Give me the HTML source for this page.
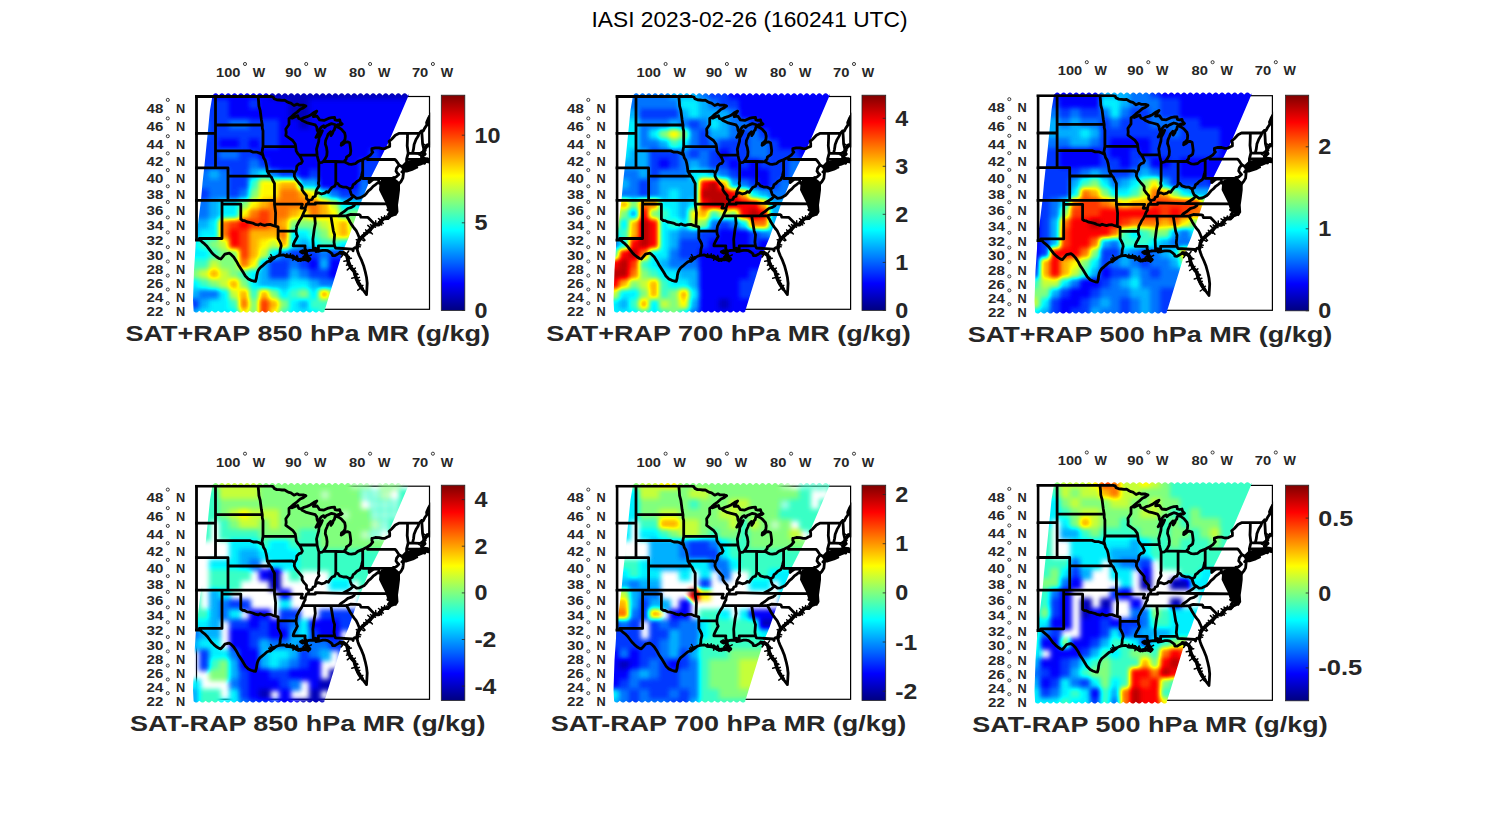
<!DOCTYPE html>
<html><head><meta charset="utf-8"><title>IASI 2023-02-26</title><style>html,body{margin:0;padding:0;background:#fff;overflow:hidden}svg{display:block}text{font-family:"Liberation Sans",sans-serif}</style></head><body>
<svg width="1500" height="825" viewBox="0 0 1500 825">
<defs>
<linearGradient id="jet" x1="0" y1="1" x2="0" y2="0"><stop offset="0.0000" stop-color="#000080"/><stop offset="0.0156" stop-color="#00008f"/><stop offset="0.0312" stop-color="#00009f"/><stop offset="0.0469" stop-color="#0000af"/><stop offset="0.0625" stop-color="#0000bf"/><stop offset="0.0781" stop-color="#0000cf"/><stop offset="0.0938" stop-color="#0000df"/><stop offset="0.1094" stop-color="#0000ef"/><stop offset="0.1250" stop-color="#0000ff"/><stop offset="0.1406" stop-color="#0010ff"/><stop offset="0.1562" stop-color="#0020ff"/><stop offset="0.1719" stop-color="#0030ff"/><stop offset="0.1875" stop-color="#0040ff"/><stop offset="0.2031" stop-color="#0050ff"/><stop offset="0.2188" stop-color="#0060ff"/><stop offset="0.2344" stop-color="#0070ff"/><stop offset="0.2500" stop-color="#0080ff"/><stop offset="0.2656" stop-color="#008fff"/><stop offset="0.2812" stop-color="#009fff"/><stop offset="0.2969" stop-color="#00afff"/><stop offset="0.3125" stop-color="#00bfff"/><stop offset="0.3281" stop-color="#00cfff"/><stop offset="0.3438" stop-color="#00dfff"/><stop offset="0.3594" stop-color="#00efff"/><stop offset="0.3750" stop-color="#00ffff"/><stop offset="0.3906" stop-color="#10ffef"/><stop offset="0.4062" stop-color="#20ffdf"/><stop offset="0.4219" stop-color="#30ffcf"/><stop offset="0.4375" stop-color="#40ffbf"/><stop offset="0.4531" stop-color="#50ffaf"/><stop offset="0.4688" stop-color="#60ff9f"/><stop offset="0.4844" stop-color="#70ff8f"/><stop offset="0.5000" stop-color="#80ff80"/><stop offset="0.5156" stop-color="#8fff70"/><stop offset="0.5312" stop-color="#9fff60"/><stop offset="0.5469" stop-color="#afff50"/><stop offset="0.5625" stop-color="#bfff40"/><stop offset="0.5781" stop-color="#cfff30"/><stop offset="0.5938" stop-color="#dfff20"/><stop offset="0.6094" stop-color="#efff10"/><stop offset="0.6250" stop-color="#ffff00"/><stop offset="0.6406" stop-color="#ffef00"/><stop offset="0.6562" stop-color="#ffdf00"/><stop offset="0.6719" stop-color="#ffcf00"/><stop offset="0.6875" stop-color="#ffbf00"/><stop offset="0.7031" stop-color="#ffaf00"/><stop offset="0.7188" stop-color="#ff9f00"/><stop offset="0.7344" stop-color="#ff8f00"/><stop offset="0.7500" stop-color="#ff8000"/><stop offset="0.7656" stop-color="#ff7000"/><stop offset="0.7812" stop-color="#ff6000"/><stop offset="0.7969" stop-color="#ff5000"/><stop offset="0.8125" stop-color="#ff4000"/><stop offset="0.8281" stop-color="#ff3000"/><stop offset="0.8438" stop-color="#ff2000"/><stop offset="0.8594" stop-color="#ff1000"/><stop offset="0.8750" stop-color="#ff0000"/><stop offset="0.8906" stop-color="#ef0000"/><stop offset="0.9062" stop-color="#df0000"/><stop offset="0.9219" stop-color="#cf0000"/><stop offset="0.9375" stop-color="#bf0000"/><stop offset="0.9531" stop-color="#af0000"/><stop offset="0.9688" stop-color="#9f0000"/><stop offset="0.9844" stop-color="#8f0000"/><stop offset="1.0000" stop-color="#800000"/></linearGradient>
<filter id="jf" x="-5%" y="-5%" width="110%" height="110%" color-interpolation-filters="sRGB"><feGaussianBlur stdDeviation="2.8"/><feComponentTransfer><feFuncR type="table" tableValues="0 0 0 0 0.5 1 1 1 0.5"/><feFuncG type="table" tableValues="0 0 0.5 1 1 1 0.5 0 0"/><feFuncB type="table" tableValues="0.5 1 1 1 0.5 0 0 0 0"/></feComponentTransfer></filter>
</defs>
<rect width="1500" height="825" fill="#fff"/>
<text x="591.5" y="26.8" font-size="22.4" fill="#000" textLength="316" lengthAdjust="spacingAndGlyphs">IASI 2023-02-26 (160241 UTC)</text>
<g>
<rect x="196.5" y="96.5" width="233.0" height="212.8" fill="none" stroke="#000" stroke-width="1.2"/>
<clipPath id="sw0"><polygon points="212.5,95.4 213.2,94.7 213.9,94.1 214.6,93.6 215.3,93.3 216.0,93.3 216.7,93.6 217.4,94.1 218.1,94.7 218.8,95.4 219.5,94.7 220.2,94.1 220.9,93.6 221.6,93.3 222.3,93.3 223.0,93.6 223.7,94.1 224.4,94.7 225.1,95.4 225.8,94.7 226.5,94.1 227.2,93.6 227.9,93.3 228.6,93.3 229.3,93.6 230.0,94.1 230.7,94.7 231.4,95.4 232.1,94.7 232.8,94.1 233.5,93.6 234.2,93.3 234.9,93.3 235.6,93.6 236.3,94.1 237.0,94.7 237.7,95.4 238.4,94.7 239.1,94.1 239.8,93.6 240.5,93.3 241.2,93.3 241.9,93.6 242.6,94.1 243.3,94.7 244.0,95.4 244.7,94.7 245.4,94.1 246.1,93.6 246.8,93.3 247.5,93.3 248.2,93.6 248.9,94.1 249.6,94.7 250.3,95.4 251.0,94.7 251.7,94.1 252.4,93.6 253.1,93.3 253.8,93.3 254.5,93.6 255.2,94.1 255.9,94.7 256.6,95.4 257.3,94.7 258.0,94.1 258.7,93.6 259.4,93.3 260.1,93.3 260.8,93.6 261.5,94.1 262.2,94.7 262.9,95.4 263.6,94.7 264.3,94.1 265.0,93.6 265.7,93.3 266.4,93.3 267.1,93.6 267.8,94.1 268.5,94.7 269.2,95.4 269.9,94.7 270.6,94.1 271.3,93.6 272.0,93.3 272.7,93.3 273.4,93.6 274.1,94.1 274.8,94.7 275.5,95.4 276.2,94.7 276.9,94.1 277.6,93.6 278.3,93.3 279.0,93.3 279.7,93.6 280.4,94.1 281.1,94.7 281.8,95.4 282.5,94.7 283.2,94.1 283.9,93.6 284.6,93.3 285.3,93.3 286.0,93.6 286.7,94.1 287.4,94.7 288.1,95.4 288.8,94.7 289.5,94.1 290.2,93.6 290.9,93.3 291.6,93.3 292.3,93.6 293.0,94.1 293.7,94.7 294.4,95.4 295.1,94.7 295.8,94.1 296.5,93.6 297.2,93.3 297.9,93.3 298.6,93.6 299.3,94.1 300.0,94.7 300.7,95.4 301.4,94.7 302.1,94.1 302.8,93.6 303.5,93.3 304.2,93.3 304.9,93.6 305.6,94.1 306.3,94.7 307.0,95.4 307.7,94.7 308.4,94.1 309.1,93.6 309.8,93.3 310.5,93.3 311.2,93.6 311.9,94.1 312.6,94.7 313.3,95.4 314.0,94.7 314.7,94.1 315.4,93.6 316.1,93.3 316.8,93.3 317.5,93.6 318.2,94.1 318.9,94.7 319.6,95.4 320.3,94.7 321.0,94.1 321.7,93.6 322.4,93.3 323.1,93.3 323.8,93.6 324.5,94.1 325.2,94.7 325.9,95.4 326.6,94.7 327.3,94.1 328.0,93.6 328.7,93.3 329.4,93.3 330.1,93.6 330.8,94.1 331.5,94.7 332.2,95.4 332.9,94.7 333.6,94.1 334.3,93.6 335.0,93.3 335.7,93.3 336.4,93.6 337.1,94.1 337.8,94.7 338.5,95.4 339.2,94.7 339.9,94.1 340.6,93.6 341.3,93.3 342.0,93.3 342.7,93.6 343.4,94.1 344.1,94.7 344.8,95.4 345.5,94.7 346.2,94.1 346.9,93.6 347.6,93.3 348.3,93.3 349.0,93.6 349.7,94.1 350.4,94.7 351.1,95.4 351.8,94.7 352.5,94.1 353.2,93.6 353.9,93.3 354.6,93.3 355.3,93.6 356.0,94.1 356.7,94.7 357.4,95.4 358.1,94.7 358.8,94.1 359.5,93.6 360.2,93.3 360.9,93.3 361.6,93.6 362.3,94.1 363.0,94.7 363.7,95.4 364.4,94.7 365.1,94.1 365.8,93.6 366.5,93.3 367.2,93.3 367.9,93.6 368.6,94.1 369.3,94.7 370.0,95.4 370.7,94.7 371.4,94.1 372.1,93.6 372.8,93.3 373.5,93.3 374.2,93.6 374.9,94.1 375.6,94.7 376.3,95.4 377.0,94.7 377.7,94.1 378.4,93.6 379.1,93.3 379.8,93.3 380.5,93.6 381.2,94.1 381.9,94.7 382.6,95.4 383.3,94.7 384.0,94.1 384.7,93.6 385.4,93.3 386.1,93.3 386.8,93.6 387.5,94.1 388.2,94.7 388.9,95.4 389.6,94.7 390.3,94.1 391.0,93.6 391.7,93.3 392.4,93.3 393.1,93.6 393.8,94.1 394.5,94.7 395.2,95.4 395.9,94.7 396.6,94.1 397.3,93.6 398.0,93.3 398.7,93.3 399.4,93.6 400.1,94.1 400.8,94.7 401.5,95.4 402.2,94.7 402.9,94.1 403.6,93.6 404.3,93.3 405.0,93.3 405.7,93.6 406.4,94.1 407.1,94.7 407.8,95.4 408.5,94.7 409.2,94.1 388.5,142.4 371.0,177.3 359.4,206.4 348.7,237.4 342.7,251.6 325.7,306.9 324.5,310.5 324.5,311.4 323.8,312.0 323.1,312.4 322.4,312.6 321.7,312.5 321.0,312.3 320.3,311.8 319.6,311.2 318.9,310.7 318.2,311.4 317.5,312.0 316.8,312.4 316.1,312.6 315.4,312.5 314.7,312.3 314.0,311.8 313.3,311.2 312.6,310.7 311.9,311.4 311.2,312.0 310.5,312.4 309.8,312.6 309.1,312.5 308.4,312.3 307.7,311.8 307.0,311.2 306.3,310.7 305.6,311.4 304.9,312.0 304.2,312.4 303.5,312.6 302.8,312.5 302.1,312.3 301.4,311.8 300.7,311.2 300.0,310.7 299.3,311.4 298.6,312.0 297.9,312.4 297.2,312.6 296.5,312.5 295.8,312.3 295.1,311.8 294.4,311.2 293.7,310.7 293.0,311.4 292.3,312.0 291.6,312.4 290.9,312.6 290.2,312.5 289.5,312.3 288.8,311.8 288.1,311.2 287.4,310.7 286.7,311.4 286.0,312.0 285.3,312.4 284.6,312.6 283.9,312.5 283.2,312.3 282.5,311.8 281.8,311.2 281.1,310.7 280.4,311.4 279.7,312.0 279.0,312.4 278.3,312.6 277.6,312.5 276.9,312.3 276.2,311.8 275.5,311.2 274.8,310.7 274.1,311.4 273.4,312.0 272.7,312.4 272.0,312.6 271.3,312.5 270.6,312.3 269.9,311.8 269.2,311.2 268.5,310.7 267.8,311.4 267.1,312.0 266.4,312.4 265.7,312.6 265.0,312.5 264.3,312.3 263.6,311.8 262.9,311.2 262.2,310.7 261.5,311.4 260.8,312.0 260.1,312.4 259.4,312.6 258.7,312.5 258.0,312.3 257.3,311.8 256.6,311.2 255.9,310.7 255.2,311.4 254.5,312.0 253.8,312.4 253.1,312.6 252.4,312.5 251.7,312.3 251.0,311.8 250.3,311.2 249.6,310.7 248.9,311.4 248.2,312.0 247.5,312.4 246.8,312.6 246.1,312.5 245.4,312.3 244.7,311.8 244.0,311.2 243.3,310.7 242.6,311.4 241.9,312.0 241.2,312.4 240.5,312.6 239.8,312.5 239.1,312.3 238.4,311.8 237.7,311.2 237.0,310.7 236.3,311.4 235.6,312.0 234.9,312.4 234.2,312.6 233.5,312.5 232.8,312.3 232.1,311.8 231.4,311.2 230.7,310.7 230.0,311.4 229.3,312.0 228.6,312.4 227.9,312.6 227.2,312.5 226.5,312.3 225.8,311.8 225.1,311.2 224.4,310.7 223.7,311.4 223.0,312.0 222.3,312.4 221.6,312.6 220.9,312.5 220.2,312.3 219.5,311.8 218.8,311.2 218.1,310.7 217.4,311.4 216.7,312.0 216.0,312.4 215.3,312.6 214.6,312.5 213.9,312.3 213.2,311.8 212.5,311.2 211.8,310.7 211.1,311.4 210.4,312.0 209.7,312.4 209.0,312.6 208.3,312.5 207.6,312.3 206.9,311.8 206.2,311.2 205.5,310.7 204.8,311.4 204.1,312.0 203.4,312.4 202.7,312.6 202.0,312.5 201.3,312.3 200.6,311.8 199.9,311.2 199.2,310.7 198.5,311.4 197.8,312.0 197.1,312.4 196.4,312.6 195.7,312.5 195.0,312.3 194.3,311.8 193.6,311.2 193.0,300.0 194.0,270.0 196.0,241.0 198.5,220.0 201.0,200.0 202.5,183.0 204.5,165.0 206.0,150.0 208.0,130.0 210.0,110.0 212.5,95.4"/></clipPath>
<g clip-path="url(#sw0)"><g filter="url(#jf)"><rect x="189" y="89" width="12" height="12" fill="#1f1f1f"/><rect x="199" y="89" width="12" height="12" fill="#1f1f1f"/><rect x="209" y="89" width="12" height="12" fill="#1f1f1f"/><rect x="219" y="89" width="12" height="12" fill="#1f1f1f"/><rect x="229" y="89" width="12" height="12" fill="#1f1f1f"/><rect x="239" y="89" width="12" height="12" fill="#1f1f1f"/><rect x="249" y="89" width="12" height="12" fill="#1f1f1f"/><rect x="259" y="89" width="12" height="12" fill="#1f1f1f"/><rect x="269" y="89" width="12" height="12" fill="#0f0f0f"/><rect x="279" y="89" width="12" height="12" fill="#0f0f0f"/><rect x="289" y="89" width="12" height="12" fill="#0f0f0f"/><rect x="299" y="89" width="12" height="12" fill="#0f0f0f"/><rect x="309" y="89" width="12" height="12" fill="#0f0f0f"/><rect x="319" y="89" width="12" height="12" fill="#0f0f0f"/><rect x="329" y="89" width="12" height="12" fill="#0f0f0f"/><rect x="339" y="89" width="12" height="12" fill="#0f0f0f"/><rect x="349" y="89" width="12" height="12" fill="#0f0f0f"/><rect x="359" y="89" width="12" height="12" fill="#0f0f0f"/><rect x="369" y="89" width="12" height="12" fill="#0f0f0f"/><rect x="379" y="89" width="12" height="12" fill="#0f0f0f"/><rect x="389" y="89" width="12" height="12" fill="#0f0f0f"/><rect x="399" y="89" width="12" height="12" fill="#0f0f0f"/><rect x="409" y="89" width="12" height="12" fill="#0f0f0f"/><rect x="419" y="89" width="12" height="12" fill="#0f0f0f"/><rect x="429" y="89" width="12" height="12" fill="#0f0f0f"/><rect x="189" y="99" width="12" height="12" fill="#2e2e2e"/><rect x="199" y="99" width="12" height="12" fill="#2e2e2e"/><rect x="209" y="99" width="12" height="12" fill="#2e2e2e"/><rect x="219" y="99" width="12" height="12" fill="#2e2e2e"/><rect x="229" y="99" width="12" height="12" fill="#1f1f1f"/><rect x="239" y="99" width="12" height="12" fill="#1f1f1f"/><rect x="249" y="99" width="12" height="12" fill="#2e2e2e"/><rect x="259" y="99" width="12" height="12" fill="#1f1f1f"/><rect x="269" y="99" width="12" height="12" fill="#1f1f1f"/><rect x="279" y="99" width="12" height="12" fill="#1f1f1f"/><rect x="289" y="99" width="12" height="12" fill="#0f0f0f"/><rect x="299" y="99" width="12" height="12" fill="#0f0f0f"/><rect x="309" y="99" width="12" height="12" fill="#1f1f1f"/><rect x="319" y="99" width="12" height="12" fill="#1f1f1f"/><rect x="329" y="99" width="12" height="12" fill="#1f1f1f"/><rect x="339" y="99" width="12" height="12" fill="#1f1f1f"/><rect x="349" y="99" width="12" height="12" fill="#1f1f1f"/><rect x="359" y="99" width="12" height="12" fill="#1f1f1f"/><rect x="369" y="99" width="12" height="12" fill="#1f1f1f"/><rect x="379" y="99" width="12" height="12" fill="#1f1f1f"/><rect x="389" y="99" width="12" height="12" fill="#1f1f1f"/><rect x="399" y="99" width="12" height="12" fill="#1f1f1f"/><rect x="409" y="99" width="12" height="12" fill="#1f1f1f"/><rect x="419" y="99" width="12" height="12" fill="#1f1f1f"/><rect x="429" y="99" width="12" height="12" fill="#1f1f1f"/><rect x="189" y="109" width="12" height="12" fill="#2e2e2e"/><rect x="199" y="109" width="12" height="12" fill="#2e2e2e"/><rect x="209" y="109" width="12" height="12" fill="#2e2e2e"/><rect x="219" y="109" width="12" height="12" fill="#2e2e2e"/><rect x="229" y="109" width="12" height="12" fill="#1f1f1f"/><rect x="239" y="109" width="12" height="12" fill="#1f1f1f"/><rect x="249" y="109" width="12" height="12" fill="#1f1f1f"/><rect x="259" y="109" width="12" height="12" fill="#1f1f1f"/><rect x="269" y="109" width="12" height="12" fill="#1f1f1f"/><rect x="279" y="109" width="12" height="12" fill="#1f1f1f"/><rect x="289" y="109" width="12" height="12" fill="#0f0f0f"/><rect x="299" y="109" width="12" height="12" fill="#0f0f0f"/><rect x="309" y="109" width="12" height="12" fill="#1f1f1f"/><rect x="319" y="109" width="12" height="12" fill="#1f1f1f"/><rect x="329" y="109" width="12" height="12" fill="#1f1f1f"/><rect x="339" y="109" width="12" height="12" fill="#1f1f1f"/><rect x="349" y="109" width="12" height="12" fill="#1f1f1f"/><rect x="359" y="109" width="12" height="12" fill="#1f1f1f"/><rect x="369" y="109" width="12" height="12" fill="#1f1f1f"/><rect x="379" y="109" width="12" height="12" fill="#1f1f1f"/><rect x="389" y="109" width="12" height="12" fill="#1f1f1f"/><rect x="399" y="109" width="12" height="12" fill="#1f1f1f"/><rect x="409" y="109" width="12" height="12" fill="#1f1f1f"/><rect x="419" y="109" width="12" height="12" fill="#1f1f1f"/><rect x="189" y="119" width="12" height="12" fill="#3d3d3d"/><rect x="199" y="119" width="12" height="12" fill="#3d3d3d"/><rect x="209" y="119" width="12" height="12" fill="#2e2e2e"/><rect x="219" y="119" width="12" height="12" fill="#2e2e2e"/><rect x="229" y="119" width="12" height="12" fill="#3d3d3d"/><rect x="239" y="119" width="12" height="12" fill="#3d3d3d"/><rect x="249" y="119" width="12" height="12" fill="#2e2e2e"/><rect x="259" y="119" width="12" height="12" fill="#2e2e2e"/><rect x="269" y="119" width="12" height="12" fill="#2e2e2e"/><rect x="279" y="119" width="12" height="12" fill="#1f1f1f"/><rect x="289" y="119" width="12" height="12" fill="#1f1f1f"/><rect x="299" y="119" width="12" height="12" fill="#0f0f0f"/><rect x="309" y="119" width="12" height="12" fill="#1f1f1f"/><rect x="319" y="119" width="12" height="12" fill="#1f1f1f"/><rect x="329" y="119" width="12" height="12" fill="#1f1f1f"/><rect x="339" y="119" width="12" height="12" fill="#1f1f1f"/><rect x="349" y="119" width="12" height="12" fill="#1f1f1f"/><rect x="359" y="119" width="12" height="12" fill="#1f1f1f"/><rect x="369" y="119" width="12" height="12" fill="#1f1f1f"/><rect x="379" y="119" width="12" height="12" fill="#1f1f1f"/><rect x="389" y="119" width="12" height="12" fill="#1f1f1f"/><rect x="399" y="119" width="12" height="12" fill="#1f1f1f"/><rect x="409" y="119" width="12" height="12" fill="#1f1f1f"/><rect x="419" y="119" width="12" height="12" fill="#1f1f1f"/><rect x="189" y="129" width="12" height="12" fill="#3d3d3d"/><rect x="199" y="129" width="12" height="12" fill="#3d3d3d"/><rect x="209" y="129" width="12" height="12" fill="#2e2e2e"/><rect x="219" y="129" width="12" height="12" fill="#2e2e2e"/><rect x="229" y="129" width="12" height="12" fill="#2e2e2e"/><rect x="239" y="129" width="12" height="12" fill="#2e2e2e"/><rect x="249" y="129" width="12" height="12" fill="#2e2e2e"/><rect x="259" y="129" width="12" height="12" fill="#2e2e2e"/><rect x="269" y="129" width="12" height="12" fill="#2e2e2e"/><rect x="279" y="129" width="12" height="12" fill="#1f1f1f"/><rect x="289" y="129" width="12" height="12" fill="#1f1f1f"/><rect x="299" y="129" width="12" height="12" fill="#1f1f1f"/><rect x="309" y="129" width="12" height="12" fill="#1f1f1f"/><rect x="319" y="129" width="12" height="12" fill="#1f1f1f"/><rect x="329" y="129" width="12" height="12" fill="#1f1f1f"/><rect x="339" y="129" width="12" height="12" fill="#1f1f1f"/><rect x="349" y="129" width="12" height="12" fill="#1f1f1f"/><rect x="359" y="129" width="12" height="12" fill="#1f1f1f"/><rect x="369" y="129" width="12" height="12" fill="#1f1f1f"/><rect x="379" y="129" width="12" height="12" fill="#1f1f1f"/><rect x="389" y="129" width="12" height="12" fill="#1f1f1f"/><rect x="399" y="129" width="12" height="12" fill="#1f1f1f"/><rect x="409" y="129" width="12" height="12" fill="#1f1f1f"/><rect x="189" y="139" width="12" height="12" fill="#2e2e2e"/><rect x="199" y="139" width="12" height="12" fill="#2e2e2e"/><rect x="209" y="139" width="12" height="12" fill="#2e2e2e"/><rect x="219" y="139" width="12" height="12" fill="#1f1f1f"/><rect x="229" y="139" width="12" height="12" fill="#1f1f1f"/><rect x="239" y="139" width="12" height="12" fill="#2e2e2e"/><rect x="249" y="139" width="12" height="12" fill="#1f1f1f"/><rect x="259" y="139" width="12" height="12" fill="#2e2e2e"/><rect x="269" y="139" width="12" height="12" fill="#2e2e2e"/><rect x="279" y="139" width="12" height="12" fill="#1f1f1f"/><rect x="289" y="139" width="12" height="12" fill="#1f1f1f"/><rect x="299" y="139" width="12" height="12" fill="#1f1f1f"/><rect x="309" y="139" width="12" height="12" fill="#1f1f1f"/><rect x="319" y="139" width="12" height="12" fill="#1f1f1f"/><rect x="329" y="139" width="12" height="12" fill="#1f1f1f"/><rect x="339" y="139" width="12" height="12" fill="#1f1f1f"/><rect x="349" y="139" width="12" height="12" fill="#1f1f1f"/><rect x="359" y="139" width="12" height="12" fill="#1f1f1f"/><rect x="369" y="139" width="12" height="12" fill="#1f1f1f"/><rect x="379" y="139" width="12" height="12" fill="#1f1f1f"/><rect x="389" y="139" width="12" height="12" fill="#1f1f1f"/><rect x="399" y="139" width="12" height="12" fill="#1f1f1f"/><rect x="409" y="139" width="12" height="12" fill="#1f1f1f"/><rect x="189" y="149" width="12" height="12" fill="#2e2e2e"/><rect x="199" y="149" width="12" height="12" fill="#2e2e2e"/><rect x="209" y="149" width="12" height="12" fill="#2e2e2e"/><rect x="219" y="149" width="12" height="12" fill="#3d3d3d"/><rect x="229" y="149" width="12" height="12" fill="#3d3d3d"/><rect x="239" y="149" width="12" height="12" fill="#2e2e2e"/><rect x="249" y="149" width="12" height="12" fill="#2e2e2e"/><rect x="259" y="149" width="12" height="12" fill="#1f1f1f"/><rect x="269" y="149" width="12" height="12" fill="#1f1f1f"/><rect x="279" y="149" width="12" height="12" fill="#1f1f1f"/><rect x="289" y="149" width="12" height="12" fill="#1f1f1f"/><rect x="299" y="149" width="12" height="12" fill="#1f1f1f"/><rect x="309" y="149" width="12" height="12" fill="#1f1f1f"/><rect x="319" y="149" width="12" height="12" fill="#1f1f1f"/><rect x="329" y="149" width="12" height="12" fill="#1f1f1f"/><rect x="339" y="149" width="12" height="12" fill="#1f1f1f"/><rect x="349" y="149" width="12" height="12" fill="#1f1f1f"/><rect x="359" y="149" width="12" height="12" fill="#1f1f1f"/><rect x="369" y="149" width="12" height="12" fill="#2e2e2e"/><rect x="379" y="149" width="12" height="12" fill="#1f1f1f"/><rect x="389" y="149" width="12" height="12" fill="#1f1f1f"/><rect x="399" y="149" width="12" height="12" fill="#1f1f1f"/><rect x="189" y="159" width="12" height="12" fill="#2e2e2e"/><rect x="199" y="159" width="12" height="12" fill="#2e2e2e"/><rect x="209" y="159" width="12" height="12" fill="#2e2e2e"/><rect x="219" y="159" width="12" height="12" fill="#2e2e2e"/><rect x="229" y="159" width="12" height="12" fill="#2e2e2e"/><rect x="239" y="159" width="12" height="12" fill="#2e2e2e"/><rect x="249" y="159" width="12" height="12" fill="#3d3d3d"/><rect x="259" y="159" width="12" height="12" fill="#2e2e2e"/><rect x="269" y="159" width="12" height="12" fill="#1f1f1f"/><rect x="279" y="159" width="12" height="12" fill="#1f1f1f"/><rect x="289" y="159" width="12" height="12" fill="#1f1f1f"/><rect x="299" y="159" width="12" height="12" fill="#1f1f1f"/><rect x="309" y="159" width="12" height="12" fill="#1f1f1f"/><rect x="319" y="159" width="12" height="12" fill="#1f1f1f"/><rect x="329" y="159" width="12" height="12" fill="#1f1f1f"/><rect x="339" y="159" width="12" height="12" fill="#1f1f1f"/><rect x="349" y="159" width="12" height="12" fill="#1f1f1f"/><rect x="359" y="159" width="12" height="12" fill="#2e2e2e"/><rect x="369" y="159" width="12" height="12" fill="#2e2e2e"/><rect x="379" y="159" width="12" height="12" fill="#2e2e2e"/><rect x="389" y="159" width="12" height="12" fill="#2e2e2e"/><rect x="399" y="159" width="12" height="12" fill="#2e2e2e"/><rect x="189" y="169" width="12" height="12" fill="#3d3d3d"/><rect x="199" y="169" width="12" height="12" fill="#3d3d3d"/><rect x="209" y="169" width="12" height="12" fill="#4c4c4c"/><rect x="219" y="169" width="12" height="12" fill="#3d3d3d"/><rect x="229" y="169" width="12" height="12" fill="#2e2e2e"/><rect x="239" y="169" width="12" height="12" fill="#2e2e2e"/><rect x="249" y="169" width="12" height="12" fill="#4c4c4c"/><rect x="259" y="169" width="12" height="12" fill="#5c5c5c"/><rect x="269" y="169" width="12" height="12" fill="#3d3d3d"/><rect x="279" y="169" width="12" height="12" fill="#2e2e2e"/><rect x="289" y="169" width="12" height="12" fill="#2e2e2e"/><rect x="299" y="169" width="12" height="12" fill="#1f1f1f"/><rect x="309" y="169" width="12" height="12" fill="#2e2e2e"/><rect x="319" y="169" width="12" height="12" fill="#1f1f1f"/><rect x="329" y="169" width="12" height="12" fill="#1f1f1f"/><rect x="339" y="169" width="12" height="12" fill="#1f1f1f"/><rect x="349" y="169" width="12" height="12" fill="#1f1f1f"/><rect x="359" y="169" width="12" height="12" fill="#2e2e2e"/><rect x="369" y="169" width="12" height="12" fill="#2e2e2e"/><rect x="379" y="169" width="12" height="12" fill="#2e2e2e"/><rect x="389" y="169" width="12" height="12" fill="#2e2e2e"/><rect x="399" y="169" width="12" height="12" fill="#2e2e2e"/><rect x="189" y="179" width="12" height="12" fill="#3d3d3d"/><rect x="199" y="179" width="12" height="12" fill="#3d3d3d"/><rect x="209" y="179" width="12" height="12" fill="#3d3d3d"/><rect x="219" y="179" width="12" height="12" fill="#3d3d3d"/><rect x="229" y="179" width="12" height="12" fill="#2e2e2e"/><rect x="239" y="179" width="12" height="12" fill="#2e2e2e"/><rect x="249" y="179" width="12" height="12" fill="#6e6e6e"/><rect x="259" y="179" width="12" height="12" fill="#a1a1a1"/><rect x="269" y="179" width="12" height="12" fill="#a1a1a1"/><rect x="279" y="179" width="12" height="12" fill="#b2b2b2"/><rect x="289" y="179" width="12" height="12" fill="#b2b2b2"/><rect x="299" y="179" width="12" height="12" fill="#4c4c4c"/><rect x="309" y="179" width="12" height="12" fill="#4c4c4c"/><rect x="319" y="179" width="12" height="12" fill="#1f1f1f"/><rect x="329" y="179" width="12" height="12" fill="#1f1f1f"/><rect x="339" y="179" width="12" height="12" fill="#1f1f1f"/><rect x="349" y="179" width="12" height="12" fill="#1f1f1f"/><rect x="359" y="179" width="12" height="12" fill="#3d3d3d"/><rect x="369" y="179" width="12" height="12" fill="#2e2e2e"/><rect x="379" y="179" width="12" height="12" fill="#2e2e2e"/><rect x="389" y="179" width="12" height="12" fill="#2e2e2e"/><rect x="189" y="189" width="12" height="12" fill="#2e2e2e"/><rect x="199" y="189" width="12" height="12" fill="#2e2e2e"/><rect x="209" y="189" width="12" height="12" fill="#3d3d3d"/><rect x="219" y="189" width="12" height="12" fill="#3d3d3d"/><rect x="229" y="189" width="12" height="12" fill="#2e2e2e"/><rect x="239" y="189" width="12" height="12" fill="#3d3d3d"/><rect x="249" y="189" width="12" height="12" fill="#808080"/><rect x="259" y="189" width="12" height="12" fill="#a1a1a1"/><rect x="269" y="189" width="12" height="12" fill="#a1a1a1"/><rect x="279" y="189" width="12" height="12" fill="#c2c2c2"/><rect x="289" y="189" width="12" height="12" fill="#c2c2c2"/><rect x="299" y="189" width="12" height="12" fill="#b2b2b2"/><rect x="309" y="189" width="12" height="12" fill="#a1a1a1"/><rect x="319" y="189" width="12" height="12" fill="#5c5c5c"/><rect x="329" y="189" width="12" height="12" fill="#3d3d3d"/><rect x="339" y="189" width="12" height="12" fill="#2e2e2e"/><rect x="349" y="189" width="12" height="12" fill="#2e2e2e"/><rect x="359" y="189" width="12" height="12" fill="#3d3d3d"/><rect x="369" y="189" width="12" height="12" fill="#3d3d3d"/><rect x="379" y="189" width="12" height="12" fill="#3d3d3d"/><rect x="389" y="189" width="12" height="12" fill="#3d3d3d"/><rect x="189" y="199" width="12" height="12" fill="#3d3d3d"/><rect x="199" y="199" width="12" height="12" fill="#3d3d3d"/><rect x="209" y="199" width="12" height="12" fill="#4c4c4c"/><rect x="219" y="199" width="12" height="12" fill="#5c5c5c"/><rect x="229" y="199" width="12" height="12" fill="#5c5c5c"/><rect x="239" y="199" width="12" height="12" fill="#808080"/><rect x="249" y="199" width="12" height="12" fill="#a1a1a1"/><rect x="259" y="199" width="12" height="12" fill="#b2b2b2"/><rect x="269" y="199" width="12" height="12" fill="#c2c2c2"/><rect x="279" y="199" width="12" height="12" fill="#c2c2c2"/><rect x="289" y="199" width="12" height="12" fill="#c2c2c2"/><rect x="299" y="199" width="12" height="12" fill="#c2c2c2"/><rect x="309" y="199" width="12" height="12" fill="#c2c2c2"/><rect x="319" y="199" width="12" height="12" fill="#b2b2b2"/><rect x="329" y="199" width="12" height="12" fill="#919191"/><rect x="339" y="199" width="12" height="12" fill="#5c5c5c"/><rect x="349" y="199" width="12" height="12" fill="#5c5c5c"/><rect x="359" y="199" width="12" height="12" fill="#4c4c4c"/><rect x="369" y="199" width="12" height="12" fill="#4c4c4c"/><rect x="379" y="199" width="12" height="12" fill="#4c4c4c"/><rect x="189" y="209" width="12" height="12" fill="#3d3d3d"/><rect x="199" y="209" width="12" height="12" fill="#3d3d3d"/><rect x="209" y="209" width="12" height="12" fill="#4c4c4c"/><rect x="219" y="209" width="12" height="12" fill="#5c5c5c"/><rect x="229" y="209" width="12" height="12" fill="#5c5c5c"/><rect x="239" y="209" width="12" height="12" fill="#a1a1a1"/><rect x="249" y="209" width="12" height="12" fill="#c2c2c2"/><rect x="259" y="209" width="12" height="12" fill="#d1d1d1"/><rect x="269" y="209" width="12" height="12" fill="#c2c2c2"/><rect x="279" y="209" width="12" height="12" fill="#c2c2c2"/><rect x="289" y="209" width="12" height="12" fill="#b2b2b2"/><rect x="299" y="209" width="12" height="12" fill="#a1a1a1"/><rect x="309" y="209" width="12" height="12" fill="#c2c2c2"/><rect x="319" y="209" width="12" height="12" fill="#b2b2b2"/><rect x="329" y="209" width="12" height="12" fill="#a1a1a1"/><rect x="339" y="209" width="12" height="12" fill="#6e6e6e"/><rect x="349" y="209" width="12" height="12" fill="#808080"/><rect x="359" y="209" width="12" height="12" fill="#808080"/><rect x="369" y="209" width="12" height="12" fill="#808080"/><rect x="379" y="209" width="12" height="12" fill="#808080"/><rect x="189" y="219" width="12" height="12" fill="#4c4c4c"/><rect x="199" y="219" width="12" height="12" fill="#4c4c4c"/><rect x="209" y="219" width="12" height="12" fill="#5c5c5c"/><rect x="219" y="219" width="12" height="12" fill="#c2c2c2"/><rect x="229" y="219" width="12" height="12" fill="#d1d1d1"/><rect x="239" y="219" width="12" height="12" fill="#e0e0e0"/><rect x="249" y="219" width="12" height="12" fill="#d1d1d1"/><rect x="259" y="219" width="12" height="12" fill="#d1d1d1"/><rect x="269" y="219" width="12" height="12" fill="#c2c2c2"/><rect x="279" y="219" width="12" height="12" fill="#b2b2b2"/><rect x="289" y="219" width="12" height="12" fill="#808080"/><rect x="299" y="219" width="12" height="12" fill="#808080"/><rect x="309" y="219" width="12" height="12" fill="#808080"/><rect x="319" y="219" width="12" height="12" fill="#919191"/><rect x="329" y="219" width="12" height="12" fill="#a1a1a1"/><rect x="339" y="219" width="12" height="12" fill="#b2b2b2"/><rect x="349" y="219" width="12" height="12" fill="#808080"/><rect x="359" y="219" width="12" height="12" fill="#808080"/><rect x="369" y="219" width="12" height="12" fill="#808080"/><rect x="379" y="219" width="12" height="12" fill="#808080"/><rect x="189" y="229" width="12" height="12" fill="#4c4c4c"/><rect x="199" y="229" width="12" height="12" fill="#5c5c5c"/><rect x="209" y="229" width="12" height="12" fill="#5c5c5c"/><rect x="219" y="229" width="12" height="12" fill="#c2c2c2"/><rect x="229" y="229" width="12" height="12" fill="#e0e0e0"/><rect x="239" y="229" width="12" height="12" fill="#d1d1d1"/><rect x="249" y="229" width="12" height="12" fill="#b2b2b2"/><rect x="259" y="229" width="12" height="12" fill="#b2b2b2"/><rect x="269" y="229" width="12" height="12" fill="#b2b2b2"/><rect x="279" y="229" width="12" height="12" fill="#c2c2c2"/><rect x="289" y="229" width="12" height="12" fill="#5c5c5c"/><rect x="299" y="229" width="12" height="12" fill="#5c5c5c"/><rect x="309" y="229" width="12" height="12" fill="#6e6e6e"/><rect x="319" y="229" width="12" height="12" fill="#808080"/><rect x="329" y="229" width="12" height="12" fill="#a1a1a1"/><rect x="339" y="229" width="12" height="12" fill="#b2b2b2"/><rect x="349" y="229" width="12" height="12" fill="#919191"/><rect x="359" y="229" width="12" height="12" fill="#808080"/><rect x="369" y="229" width="12" height="12" fill="#808080"/><rect x="189" y="239" width="12" height="12" fill="#5c5c5c"/><rect x="199" y="239" width="12" height="12" fill="#6e6e6e"/><rect x="209" y="239" width="12" height="12" fill="#808080"/><rect x="219" y="239" width="12" height="12" fill="#919191"/><rect x="229" y="239" width="12" height="12" fill="#e0e0e0"/><rect x="239" y="239" width="12" height="12" fill="#d1d1d1"/><rect x="249" y="239" width="12" height="12" fill="#b2b2b2"/><rect x="259" y="239" width="12" height="12" fill="#a1a1a1"/><rect x="269" y="239" width="12" height="12" fill="#919191"/><rect x="279" y="239" width="12" height="12" fill="#b2b2b2"/><rect x="289" y="239" width="12" height="12" fill="#5c5c5c"/><rect x="299" y="239" width="12" height="12" fill="#4c4c4c"/><rect x="309" y="239" width="12" height="12" fill="#5c5c5c"/><rect x="319" y="239" width="12" height="12" fill="#6e6e6e"/><rect x="329" y="239" width="12" height="12" fill="#6e6e6e"/><rect x="339" y="239" width="12" height="12" fill="#5c5c5c"/><rect x="349" y="239" width="12" height="12" fill="#5c5c5c"/><rect x="359" y="239" width="12" height="12" fill="#5c5c5c"/><rect x="369" y="239" width="12" height="12" fill="#5c5c5c"/><rect x="189" y="249" width="12" height="12" fill="#5c5c5c"/><rect x="199" y="249" width="12" height="12" fill="#5c5c5c"/><rect x="209" y="249" width="12" height="12" fill="#6e6e6e"/><rect x="219" y="249" width="12" height="12" fill="#808080"/><rect x="229" y="249" width="12" height="12" fill="#808080"/><rect x="239" y="249" width="12" height="12" fill="#d1d1d1"/><rect x="249" y="249" width="12" height="12" fill="#b2b2b2"/><rect x="259" y="249" width="12" height="12" fill="#919191"/><rect x="269" y="249" width="12" height="12" fill="#5c5c5c"/><rect x="279" y="249" width="12" height="12" fill="#3d3d3d"/><rect x="289" y="249" width="12" height="12" fill="#2e2e2e"/><rect x="299" y="249" width="12" height="12" fill="#2e2e2e"/><rect x="309" y="249" width="12" height="12" fill="#2e2e2e"/><rect x="319" y="249" width="12" height="12" fill="#3d3d3d"/><rect x="329" y="249" width="12" height="12" fill="#2e2e2e"/><rect x="339" y="249" width="12" height="12" fill="#2e2e2e"/><rect x="349" y="249" width="12" height="12" fill="#2e2e2e"/><rect x="359" y="249" width="12" height="12" fill="#2e2e2e"/><rect x="369" y="249" width="12" height="12" fill="#2e2e2e"/><rect x="189" y="259" width="12" height="12" fill="#6e6e6e"/><rect x="199" y="259" width="12" height="12" fill="#6e6e6e"/><rect x="209" y="259" width="12" height="12" fill="#919191"/><rect x="219" y="259" width="12" height="12" fill="#808080"/><rect x="229" y="259" width="12" height="12" fill="#808080"/><rect x="239" y="259" width="12" height="12" fill="#c2c2c2"/><rect x="249" y="259" width="12" height="12" fill="#a1a1a1"/><rect x="259" y="259" width="12" height="12" fill="#4c4c4c"/><rect x="269" y="259" width="12" height="12" fill="#2e2e2e"/><rect x="279" y="259" width="12" height="12" fill="#2e2e2e"/><rect x="289" y="259" width="12" height="12" fill="#3d3d3d"/><rect x="299" y="259" width="12" height="12" fill="#2e2e2e"/><rect x="309" y="259" width="12" height="12" fill="#1f1f1f"/><rect x="319" y="259" width="12" height="12" fill="#4c4c4c"/><rect x="329" y="259" width="12" height="12" fill="#1f1f1f"/><rect x="339" y="259" width="12" height="12" fill="#1f1f1f"/><rect x="349" y="259" width="12" height="12" fill="#1f1f1f"/><rect x="359" y="259" width="12" height="12" fill="#1f1f1f"/><rect x="189" y="269" width="12" height="12" fill="#808080"/><rect x="199" y="269" width="12" height="12" fill="#919191"/><rect x="209" y="269" width="12" height="12" fill="#b2b2b2"/><rect x="219" y="269" width="12" height="12" fill="#919191"/><rect x="229" y="269" width="12" height="12" fill="#808080"/><rect x="239" y="269" width="12" height="12" fill="#6e6e6e"/><rect x="249" y="269" width="12" height="12" fill="#5c5c5c"/><rect x="259" y="269" width="12" height="12" fill="#4c4c4c"/><rect x="269" y="269" width="12" height="12" fill="#2e2e2e"/><rect x="279" y="269" width="12" height="12" fill="#2e2e2e"/><rect x="289" y="269" width="12" height="12" fill="#4c4c4c"/><rect x="299" y="269" width="12" height="12" fill="#3d3d3d"/><rect x="309" y="269" width="12" height="12" fill="#2e2e2e"/><rect x="319" y="269" width="12" height="12" fill="#2e2e2e"/><rect x="329" y="269" width="12" height="12" fill="#1f1f1f"/><rect x="339" y="269" width="12" height="12" fill="#1f1f1f"/><rect x="349" y="269" width="12" height="12" fill="#1f1f1f"/><rect x="359" y="269" width="12" height="12" fill="#1f1f1f"/><rect x="189" y="279" width="12" height="12" fill="#5c5c5c"/><rect x="199" y="279" width="12" height="12" fill="#6e6e6e"/><rect x="209" y="279" width="12" height="12" fill="#808080"/><rect x="219" y="279" width="12" height="12" fill="#919191"/><rect x="229" y="279" width="12" height="12" fill="#b2b2b2"/><rect x="239" y="279" width="12" height="12" fill="#808080"/><rect x="249" y="279" width="12" height="12" fill="#5c5c5c"/><rect x="259" y="279" width="12" height="12" fill="#4c4c4c"/><rect x="269" y="279" width="12" height="12" fill="#4c4c4c"/><rect x="279" y="279" width="12" height="12" fill="#4c4c4c"/><rect x="289" y="279" width="12" height="12" fill="#5c5c5c"/><rect x="299" y="279" width="12" height="12" fill="#5c5c5c"/><rect x="309" y="279" width="12" height="12" fill="#4c4c4c"/><rect x="319" y="279" width="12" height="12" fill="#3d3d3d"/><rect x="329" y="279" width="12" height="12" fill="#3d3d3d"/><rect x="339" y="279" width="12" height="12" fill="#3d3d3d"/><rect x="349" y="279" width="12" height="12" fill="#3d3d3d"/><rect x="359" y="279" width="12" height="12" fill="#3d3d3d"/><rect x="189" y="289" width="12" height="12" fill="#4c4c4c"/><rect x="199" y="289" width="12" height="12" fill="#3d3d3d"/><rect x="209" y="289" width="12" height="12" fill="#3d3d3d"/><rect x="219" y="289" width="12" height="12" fill="#5c5c5c"/><rect x="229" y="289" width="12" height="12" fill="#919191"/><rect x="239" y="289" width="12" height="12" fill="#b2b2b2"/><rect x="249" y="289" width="12" height="12" fill="#6e6e6e"/><rect x="259" y="289" width="12" height="12" fill="#b2b2b2"/><rect x="269" y="289" width="12" height="12" fill="#808080"/><rect x="279" y="289" width="12" height="12" fill="#5c5c5c"/><rect x="289" y="289" width="12" height="12" fill="#6e6e6e"/><rect x="299" y="289" width="12" height="12" fill="#808080"/><rect x="309" y="289" width="12" height="12" fill="#5c5c5c"/><rect x="319" y="289" width="12" height="12" fill="#b2b2b2"/><rect x="329" y="289" width="12" height="12" fill="#808080"/><rect x="339" y="289" width="12" height="12" fill="#5c5c5c"/><rect x="349" y="289" width="12" height="12" fill="#4c4c4c"/><rect x="189" y="299" width="12" height="12" fill="#2e2e2e"/><rect x="199" y="299" width="12" height="12" fill="#4c4c4c"/><rect x="209" y="299" width="12" height="12" fill="#5c5c5c"/><rect x="219" y="299" width="12" height="12" fill="#5c5c5c"/><rect x="229" y="299" width="12" height="12" fill="#6e6e6e"/><rect x="239" y="299" width="12" height="12" fill="#c2c2c2"/><rect x="249" y="299" width="12" height="12" fill="#808080"/><rect x="259" y="299" width="12" height="12" fill="#d1d1d1"/><rect x="269" y="299" width="12" height="12" fill="#b2b2b2"/><rect x="279" y="299" width="12" height="12" fill="#808080"/><rect x="289" y="299" width="12" height="12" fill="#5c5c5c"/><rect x="299" y="299" width="12" height="12" fill="#4c4c4c"/><rect x="309" y="299" width="12" height="12" fill="#6e6e6e"/><rect x="319" y="299" width="12" height="12" fill="#6e6e6e"/><rect x="329" y="299" width="12" height="12" fill="#6e6e6e"/><rect x="339" y="299" width="12" height="12" fill="#6e6e6e"/><rect x="349" y="299" width="12" height="12" fill="#6e6e6e"/><rect x="189" y="309" width="12" height="12" fill="#4c4c4c"/><rect x="199" y="309" width="12" height="12" fill="#5c5c5c"/><rect x="209" y="309" width="12" height="12" fill="#5c5c5c"/><rect x="219" y="309" width="12" height="12" fill="#5c5c5c"/><rect x="229" y="309" width="12" height="12" fill="#5c5c5c"/><rect x="239" y="309" width="12" height="12" fill="#a1a1a1"/><rect x="249" y="309" width="12" height="12" fill="#808080"/><rect x="259" y="309" width="12" height="12" fill="#d1d1d1"/><rect x="269" y="309" width="12" height="12" fill="#a1a1a1"/><rect x="279" y="309" width="12" height="12" fill="#6e6e6e"/><rect x="289" y="309" width="12" height="12" fill="#5c5c5c"/><rect x="299" y="309" width="12" height="12" fill="#5c5c5c"/><rect x="309" y="309" width="12" height="12" fill="#5c5c5c"/><rect x="319" y="309" width="12" height="12" fill="#6e6e6e"/><rect x="329" y="309" width="12" height="12" fill="#6e6e6e"/><rect x="339" y="309" width="12" height="12" fill="#6e6e6e"/></g></g>
<clipPath id="cp0"><rect x="195.0" y="95.0" width="235.2" height="215.8"/></clipPath>
<path clip-path="url(#cp0)" d="M195.1 96.5L271.1 96.5L273.2 97.0L274.1 98.7L276.8 99.8L279.3 100.0L282.1 100.3L284.6 100.1L287.1 101.7L289.0 102.7L290.9 103.2L294.0 105.5L297.1 104.1L299.0 105.1L303.4 105.1L305.9 106.0M305.9 106.0L303.4 107.9L300.2 109.3L297.1 112.1L294.0 114.4L290.9 117.2L290.2 117.6L292.1 118.1L295.2 116.7L297.7 115.8L298.7 118.5L300.9 119.3M300.9 119.3L304.0 117.6L307.1 116.7L310.2 115.3L314.0 112.5L316.8 111.1L314.6 114.4L313.4 116.7L317.1 116.2L319.6 119.9L324.0 120.4L328.4 118.4L331.5 117.6L334.6 117.4L335.0 119.9L337.2 120.4L339.7 119.9L340.3 122.2L342.2 124.0L340.9 124.9L338.4 124.6L336.5 125.6M336.5 125.6L334.6 124.5L331.5 123.6L328.4 124.9L326.5 125.8L324.6 127.6L323.7 125.8L321.8 126.7L319.9 129.0L318.4 132.6M318.4 132.6L317.1 135.2L315.9 137.4L317.4 136.1L319.6 133.4L322.4 130.8L320.9 134.3L319.0 137.9L318.7 141.4L317.8 144.5L316.5 149.2L316.8 151.4L317.1 155.2L318.1 159.5L318.9 162.0L320.3 162.7L322.1 162.3L323.3 161.5M323.3 161.5L325.3 158.6L326.8 155.7L327.1 151.8L326.5 147.5L325.3 144.0L325.6 140.5L327.1 137.0L328.1 134.3L330.6 131.7L331.2 134.3L330.9 135.7L332.5 133.4L333.4 130.8L334.3 129.9L335.0 127.2L336.2 126.5M336.2 126.5L339.0 127.6L341.5 129.4L344.7 133.0L345.3 136.1L345.0 139.6L343.4 141.8L341.5 143.1L341.2 145.3L343.4 144.0L345.3 142.3L347.5 141.8L349.7 142.7L350.3 146.6L350.8 150.9L350.3 154.4L348.1 156.1L346.5 156.9L346.2 159.1L344.7 160.8L344.3 161.8M344.3 161.8L347.2 163.3L349.0 164.1L351.5 164.3L355.3 163.7L357.8 161.6L360.9 160.3L362.7 159.7L365.3 158.2L367.4 157.2L370.3 155.2L372.8 152.2L371.9 150.9L371.9 148.7M371.9 148.7L375.3 147.8L379.1 147.8L382.2 148.6L385.0 148.5L387.8 147.1L389.7 146.4L389.7 143.1L389.1 141.4L391.6 139.2L395.3 135.2L398.8 133.4L407.5 133.4L419.1 133.4L421.6 130.8L423.2 131.2L424.7 128.1L426.9 124.9L426.6 122.6L428.5 118.1L433.2 111.1M434.8 141.4L429.8 144.0L427.2 145.3L425.1 148.4L424.1 150.3L423.4 152.1L424.7 154.0L422.6 155.7L421.9 156.9L424.1 159.5L425.4 161.3L428.5 162.0L428.8 160.3L427.9 159.1M424.7 163.3L422.9 162.9L421.5 163.7L420.4 164.1L419.4 164.5L416.9 165.2L414.1 165.6L410.4 165.8L407.2 167.1L405.7 167.9L404.7 169.1L403.5 170.4L401.9 172.0L403.5 172.5L403.2 175.3L402.8 178.2L401.0 181.5L398.5 184.3L397.5 184.9L397.8 182.7L396.0 181.5L394.1 179.4L394.7 181.9L395.3 184.3L396.6 186.1L396.9 188.8L396.6 190.0L395.7 192.4L394.4 194.0L393.1 196.3L391.3 199.1M403.5 171.2L406.6 171.2L412.9 169.1L416.8 167.3L413.5 167.9L409.7 168.3L405.3 169.1L403.5 171.2M391.3 199.1L391.6 195.6L391.0 190.8L389.1 188.4L389.7 185.1L391.0 181.9L390.3 179.9L388.5 182.7L387.8 186.8L388.5 190.0L389.1 192.8L388.5 195.6L389.1 198.7L389.1 200.7L391.0 200.9M389.1 192.8L387.2 191.2L384.7 190.0L383.5 188.4L384.4 185.9L383.5 184.3L381.6 182.7L379.5 183.3M393.1 192.8L395.7 192.1M387.8 190.0L385.3 189.2L386.6 190.8M388.5 198.3L385.3 197.9L387.2 196.3M391.0 200.9L391.3 202.7L391.8 203.8L392.5 206.6L393.8 209.7L394.3 211.6L394.0 214.2L392.5 214.5L390.6 215.5L387.8 218.3L386.6 218.2L384.1 218.4L382.2 219.7L380.3 221.2L378.8 224.6L377.2 224.1L375.0 224.6L372.8 226.2L370.9 228.8L369.7 231.1L366.6 232.9L364.7 234.4L362.8 236.3L360.5 238.2L359.0 240.0L358.1 242.2L357.8 244.4L356.9 248.1M391.8 203.8L389.1 205.8L391.0 208.1L387.8 209.7L391.0 211.2L388.5 214.3L390.6 215.5M356.9 248.1L357.8 251.8L359.2 255.5L361.6 260.4L363.6 265.7L365.3 271.9L366.5 277.2L367.2 283.1L366.9 288.7L366.5 294.7L362.2 288.8L359.2 284.5L357.8 282.4L356.4 278.7L355.0 274.7L354.2 271.4L352.2 269.7L350.5 267.1L349.7 264.7L348.4 262.0L347.8 259.0L346.9 255.5L344.0 253.2L340.3 252.5L338.4 253.6L336.5 254.7L334.6 255.7L332.5 255.5L332.1 253.9L330.3 252.3L327.8 250.7L325.3 250.3L322.8 250.3L320.9 250.7L318.9 251.2M318.9 251.2L317.1 251.4L315.9 251.5L316.5 248.8L315.6 248.2L315.3 250.3L313.4 250.4L310.9 250.3L309.0 250.5L307.1 251.0L306.2 251.8L305.2 252.5L305.9 253.9L307.1 255.0L307.7 257.6L309.6 259.0L308.7 260.4L307.1 259.7L305.2 258.3L303.4 259.0L302.1 259.9L300.2 259.7L298.4 260.1L295.9 259.0L295.2 258.3L293.4 256.1L291.5 256.5L289.0 256.5L286.5 256.1L283.3 254.9L279.3 255.4M305.2 252.5L302.7 250.7L300.5 251.8L302.7 253.1L304.6 252.1M279.3 255.4L277.1 256.1L274.0 257.9L272.7 258.6L270.2 260.8L267.1 261.9L264.6 264.0L262.1 266.2L259.9 268.0L258.4 270.1L257.4 272.6L256.8 275.4L256.4 278.2L255.8 280.3L255.5 281.4M255.5 281.4L253.3 281.0L251.1 280.3L248.3 278.9L245.3 275.9L243.3 272.6L240.9 268.7L238.3 264.7L236.4 261.2L233.7 257.0L231.4 254.7L229.3 253.2L227.0 253.6L224.9 254.1L222.7 256.8L220.8 259.0L219.1 258.5L216.4 256.8L213.9 254.7L211.8 252.7L209.5 249.6L207.0 246.3L204.6 243.9L202.0 241.8L200.1 240.1L193.9 240.1M215.5 96.5L215.5 167.9M215.5 125.0L262.3 125.0M195.1 133.4L215.5 133.4M215.5 150.9L250.2 150.9L253.3 152.2L257.1 152.2L259.6 153.1L262.1 154.4L263.0 155.3M195.1 167.9L228.0 167.9L228.0 176.2L270.2 176.2M228.0 176.2L228.0 200.3M195.1 200.3L274.5 200.3M222.0 200.3L222.0 238.5L199.4 238.5L199.5 239.3L200.1 240.1M222.0 204.2L240.8 204.2L240.8 219.2L242.7 220.5L244.6 220.6L247.1 222.0L249.6 222.4L252.7 223.1L255.2 224.3L258.3 225.0L260.2 223.9L262.1 224.6L264.6 225.4L267.1 224.6L270.2 224.4L272.7 225.4L275.3 226.2M275.3 226.2L275.6 212.8L274.5 204.2L274.5 200.3M275.3 226.2L278.1 226.9L278.1 230.9M278.1 230.9L278.1 238.5L279.0 240.0L280.8 243.7L281.2 245.9L280.2 249.6L280.1 252.5L279.3 255.4M278.1 230.9L296.0 231.1M296.0 231.1L296.5 234.0L297.4 236.3L295.9 239.3L294.6 241.5L293.4 244.4L293.2 245.9L305.1 245.9L304.9 248.5L305.9 250.3L306.2 251.8M296.0 231.1L296.5 228.0L296.8 225.8L298.0 223.5L299.6 220.5L301.5 217.8L302.7 215.1L304.0 212.0L305.2 210.1L305.2 208.1L306.2 205.0L306.5 204.2L308.4 203.4L308.7 200.5M305.2 208.1L301.0 208.1L302.4 204.2L274.5 204.2M274.5 200.3L274.5 183.5L272.7 180.3L271.5 177.4L270.2 176.2M270.2 176.2L267.3 171.4L266.8 167.1L266.1 163.7L265.2 160.3L263.6 157.8L263.0 155.3M267.3 171.4L292.5 171.2L294.5 173.0M263.0 155.3L262.1 151.8L263.0 146.6L263.0 130.8L262.3 128.1L262.3 125.0L261.4 119.9L260.8 115.3L260.2 110.7L258.9 106.0L258.6 101.3L258.1 96.5M263.0 146.6L295.7 146.6M295.7 146.6L296.2 150.9L297.7 153.5L299.3 155.2L300.9 157.8L302.4 161.2L301.2 163.3L299.0 163.9L296.8 166.2L296.5 169.6L294.5 173.0L294.3 176.2L295.9 179.4L298.7 182.7L300.5 184.7L302.1 186.8L302.1 190.0L304.0 192.8L306.5 195.6L306.5 198.7L308.7 200.5M295.7 146.6L295.2 144.0L292.7 140.5L289.0 137.9L285.8 135.7L286.2 132.6L285.8 129.0L289.0 124.5L289.0 118.5L290.2 117.6M299.4 155.2L317.1 155.2M300.9 119.3L302.7 120.8L306.5 122.6L310.2 123.6L315.3 124.9L316.8 127.2L317.1 129.9L318.4 132.6M318.9 162.0L318.8 181.1L318.4 183.1L319.0 185.9L317.4 188.4L316.2 190.8L315.6 194.0M308.7 200.5L312.1 199.5L313.1 197.1L315.3 196.3L315.6 194.0L318.4 192.8L321.5 194.0L324.6 193.2L326.5 191.6L328.4 192.4L329.6 190.4L332.1 187.2L334.6 186.3L335.8 183.5L337.8 183.5L339.7 185.9L343.4 187.2L346.5 187.2L349.7 189.0L352.2 187.6L353.1 184.7L355.0 183.5L356.9 181.5L359.7 179.9L360.9 177.8L361.6 175.3L362.2 172.9L362.7 170.9M335.8 162.0L335.8 183.5M323.3 161.5L335.8 161.5L344.3 161.8M362.7 159.7L362.7 178.5L392.3 178.5M369.2 178.5L369.2 182.7L371.6 180.7L373.4 179.4L376.3 179.0L378.4 179.4L379.5 183.3M379.5 183.3L377.8 182.7L375.9 184.3L373.1 186.3L370.9 188.8L368.4 190.8L366.6 193.2L364.4 195.6L362.2 196.7L359.7 197.9L356.5 198.3L353.6 196.0M353.6 196.0L351.5 194.8L350.3 191.6L349.7 189.0M353.6 196.0L350.9 198.7L347.8 200.7L342.8 203.4M306.5 204.2L315.4 204.2L315.4 202.8L342.9 203.4L355.4 203.5L391.8 203.8M355.4 203.5L354.0 205.8L351.5 207.4L347.8 208.5L344.0 211.6L340.9 213.6L338.9 215.9M338.9 215.9L302.4 215.9M338.9 215.9L346.5 215.9M346.5 215.9L348.4 215.1L350.9 214.3L359.4 214.7L360.1 215.1L360.9 217.2L368.0 217.4L375.0 224.6M346.5 215.9L348.4 218.9L350.0 222.0L352.2 225.4L354.0 228.0L356.2 230.7L357.8 234.0L359.0 237.0L360.5 238.2M330.9 215.9L333.4 231.1L334.6 234.8L334.3 238.5L334.0 242.2L334.6 245.9M334.6 245.9L335.5 248.0L352.2 249.1L353.1 250.7L353.4 248.8L354.7 247.7L356.9 248.1M318.4 251.0L318.4 245.9L334.6 245.9M314.6 215.9L315.3 223.5L314.3 228.8L312.9 239.3L313.4 250.4M367.4 157.2L367.4 159.5L395.0 159.5L396.6 161.2L398.5 164.1L399.1 165.0M399.1 165.0L404.1 167.9M399.1 165.0L396.6 168.3L396.0 171.2L397.2 172.9L398.8 174.5L396.6 176.6L394.7 177.8L393.8 179.4M392.3 178.5L393.5 177.5L394.7 177.8M392.3 178.5L392.3 188.8L396.9 188.8M407.5 133.4L407.5 137.9L407.2 145.8L408.2 153.1M408.2 153.1L406.6 159.1L406.6 166.2L405.7 167.9M419.1 133.4L418.2 136.1L416.0 139.6L414.1 144.5L413.5 149.2L412.5 153.3M408.2 153.1L420.4 153.5L422.2 152.2L423.4 152.1M421.7 130.8L422.2 137.9L422.6 144.0L424.1 150.3M406.6 159.1L417.2 159.3L419.9 159.3L419.9 160.3L421.0 162.0L421.5 163.7M417.2 159.3L416.9 165.2M196.5 96.5L196.5 240.1M429.5 116.2L429.5 146.6" fill="none" stroke="#000" stroke-width="2.8" stroke-linejoin="round" stroke-linecap="round"/>
<path clip-path="url(#cp0)" d="M391.1 201.4L392.6 201.0M391.4 202.5L388.5 203.3M391.8 204.0L389.0 204.8M392.8 207.3L391.6 207.7M393.4 208.8L389.6 210.3M393.9 210.1L397.2 209.3M394.1 213.1L396.6 213.4M393.9 214.2L392.3 210.2M392.1 214.9L391.5 213.6M389.5 216.6L388.3 215.5M388.3 217.8L386.6 216.1M387.7 218.3L387.7 217.1M384.7 218.4L384.6 215.8M383.0 219.2L381.4 216.9M381.5 220.7L378.5 218.6M380.8 221.6L383.3 223.4M379.9 223.1L381.6 224.3M379.5 223.6L381.6 225.0M378.5 224.6L378.5 221.8M375.6 224.6L375.7 220.7M373.8 225.8L375.4 227.3M372.8 226.8L370.5 224.6M371.2 228.6L367.8 225.4M370.2 229.5L371.1 230.4M369.1 230.5L372.4 234.0M368.4 231.2L370.1 233.0M367.6 231.9L365.7 229.9M366.4 233.1L367.2 234.0M365.1 234.2L363.8 232.7M363.0 236.1L362.1 235.2M362.2 236.8L365.0 240.2M360.6 238.1L359.3 236.5M360.2 238.7L364.0 240.9M359.6 239.8L358.1 238.9M358.7 241.2L356.3 239.7M358.0 242.6L357.0 242.4M357.7 244.2L360.8 244.9M357.3 246.2L360.2 246.8M357.0 247.6L358.1 247.9M361.4 287.7L357.8 290.2M360.8 286.8L362.9 285.4M359.6 285.1L360.6 284.4M359.1 284.2L360.5 283.5M358.5 283.0L359.4 282.6M357.7 281.5L359.9 280.4M356.4 278.9L359.4 277.4M356.2 278.3L358.5 277.7M355.9 277.1L351.8 278.3M355.3 275.1L358.0 274.3M355.0 274.2L357.2 273.5M354.2 271.7L355.8 271.2M353.0 270.1L355.3 268.1M352.3 269.2L353.1 268.5M350.6 267.1L347.3 269.9M350.3 266.7L352.5 265.7M349.2 264.1L346.5 265.3M348.8 263.2L347.1 263.9M348.0 260.4L343.9 261.3M347.7 259.0L351.4 258.2M347.4 257.9L349.7 257.4M347.3 257.1L349.3 256.6M345.9 254.7L348.7 251.0M344.1 253.3L341.2 257.1M343.3 253.1L343.7 251.3M341.8 252.8L341.4 254.5M305.9 253.7L301.7 253.1M306.5 255.1L302.9 257.0M307.4 256.9L311.4 254.9M309.2 258.6L307.4 260.9M307.6 259.6L308.3 261.7M305.3 259.4L305.8 256.9M303.5 259.0L304.2 255.3M303.2 259.0L303.5 260.6M300.4 259.6L300.7 261.2M298.4 260.1L297.7 256.7M297.5 259.6L298.2 258.3M295.3 258.3L297.0 255.3M293.9 257.7L292.9 260.2M292.6 257.2L293.3 255.5M291.9 256.9L292.6 255.1M290.3 256.4L290.5 253.8M286.7 256.1L286.9 253.8M426.6 146.2L423.0 143.6M425.1 148.2L422.8 146.5M424.6 149.4L423.6 148.9M424.0 150.7L424.9 151.1M423.6 152.4L425.9 150.7M423.5 154.9L422.1 153.1M422.2 156.4L418.6 154.6M422.5 157.7L421.1 158.9M423.9 159.2L421.6 161.1M273.0 258.5L270.8 254.6M271.9 259.3L270.0 257.1M270.6 260.5L268.8 258.4" fill="none" stroke="#000" stroke-width="1.5" stroke-linecap="round" stroke-linejoin="round"/>
<path clip-path="url(#cp0)" d="M391.0 200.9L391.8 203.8L392.5 206.6L393.8 209.7L394.3 211.6L394.0 214.2L390.6 215.5L387.8 218.3L384.1 218.4L382.2 219.7L378.8 224.6L375.0 224.6L370.9 228.8L366.6 232.9L362.8 236.3L360.5 238.2L358.1 242.2L356.9 248.1M362.2 288.8L359.2 284.5L356.4 278.7L354.2 271.4L350.5 267.1L348.4 262.0L346.9 255.5L344.0 253.2L340.3 252.5M306.2 251.8L305.9 253.9L307.7 257.6L309.6 259.0L307.1 259.7L303.4 259.0L298.4 260.1L295.2 258.3L290.9 256.5L286.5 256.1M427.2 145.3L425.1 148.4L424.1 150.3L423.4 152.1L424.7 154.0L422.6 155.7L421.9 156.9L424.1 159.5M274.0 257.9L272.7 258.6L270.2 260.8" fill="none" stroke="#000" stroke-width="3.6" stroke-linecap="round" stroke-linejoin="round"/>
<polygon points="381.0,180.0 386.0,178.5 392.0,178.0 397.0,180.0 400.0,184.0 400.0,190.0 399.0,198.0 398.0,205.0 398.5,212.0 396.0,216.0 391.0,213.0 387.0,208.0 385.0,202.0 382.0,196.0 379.0,190.0 379.5,184.0" fill="#000"/>
<polygon points="401.0,166.0 405.0,162.0 411.0,160.0 418.0,158.5 424.0,157.0 428.0,157.5 427.0,161.0 420.0,164.5 412.0,167.0 405.0,169.5 402.0,170.0" fill="#000"/>
<text x="146.6" y="112.7" font-size="12.6" font-weight="bold" fill="#262626" textLength="16.7" lengthAdjust="spacingAndGlyphs">48</text><circle cx="167.8" cy="99.9" r="1.55" fill="none" stroke="#262626" stroke-width="0.9"/><text x="175.9" y="112.7" font-size="12.6" font-weight="bold" fill="#262626" textLength="9.2" lengthAdjust="spacingAndGlyphs">N</text>
<text x="146.6" y="131.2" font-size="12.6" font-weight="bold" fill="#262626" textLength="16.7" lengthAdjust="spacingAndGlyphs">46</text><circle cx="167.8" cy="118.4" r="1.55" fill="none" stroke="#262626" stroke-width="0.9"/><text x="175.9" y="131.2" font-size="12.6" font-weight="bold" fill="#262626" textLength="9.2" lengthAdjust="spacingAndGlyphs">N</text>
<text x="146.6" y="149.0" font-size="12.6" font-weight="bold" fill="#262626" textLength="16.7" lengthAdjust="spacingAndGlyphs">44</text><circle cx="167.8" cy="136.2" r="1.55" fill="none" stroke="#262626" stroke-width="0.9"/><text x="175.9" y="149.0" font-size="12.6" font-weight="bold" fill="#262626" textLength="9.2" lengthAdjust="spacingAndGlyphs">N</text>
<text x="146.6" y="166.2" font-size="12.6" font-weight="bold" fill="#262626" textLength="16.7" lengthAdjust="spacingAndGlyphs">42</text><circle cx="167.8" cy="153.4" r="1.55" fill="none" stroke="#262626" stroke-width="0.9"/><text x="175.9" y="166.2" font-size="12.6" font-weight="bold" fill="#262626" textLength="9.2" lengthAdjust="spacingAndGlyphs">N</text>
<text x="146.6" y="182.9" font-size="12.6" font-weight="bold" fill="#262626" textLength="16.7" lengthAdjust="spacingAndGlyphs">40</text><circle cx="167.8" cy="170.1" r="1.55" fill="none" stroke="#262626" stroke-width="0.9"/><text x="175.9" y="182.9" font-size="12.6" font-weight="bold" fill="#262626" textLength="9.2" lengthAdjust="spacingAndGlyphs">N</text>
<text x="146.6" y="199.1" font-size="12.6" font-weight="bold" fill="#262626" textLength="16.7" lengthAdjust="spacingAndGlyphs">38</text><circle cx="167.8" cy="186.3" r="1.55" fill="none" stroke="#262626" stroke-width="0.9"/><text x="175.9" y="199.1" font-size="12.6" font-weight="bold" fill="#262626" textLength="9.2" lengthAdjust="spacingAndGlyphs">N</text>
<text x="146.6" y="214.8" font-size="12.6" font-weight="bold" fill="#262626" textLength="16.7" lengthAdjust="spacingAndGlyphs">36</text><circle cx="167.8" cy="202.0" r="1.55" fill="none" stroke="#262626" stroke-width="0.9"/><text x="175.9" y="214.8" font-size="12.6" font-weight="bold" fill="#262626" textLength="9.2" lengthAdjust="spacingAndGlyphs">N</text>
<text x="146.6" y="230.2" font-size="12.6" font-weight="bold" fill="#262626" textLength="16.7" lengthAdjust="spacingAndGlyphs">34</text><circle cx="167.8" cy="217.4" r="1.55" fill="none" stroke="#262626" stroke-width="0.9"/><text x="175.9" y="230.2" font-size="12.6" font-weight="bold" fill="#262626" textLength="9.2" lengthAdjust="spacingAndGlyphs">N</text>
<text x="146.6" y="245.2" font-size="12.6" font-weight="bold" fill="#262626" textLength="16.7" lengthAdjust="spacingAndGlyphs">32</text><circle cx="167.8" cy="232.4" r="1.55" fill="none" stroke="#262626" stroke-width="0.9"/><text x="175.9" y="245.2" font-size="12.6" font-weight="bold" fill="#262626" textLength="9.2" lengthAdjust="spacingAndGlyphs">N</text>
<text x="146.6" y="259.9" font-size="12.6" font-weight="bold" fill="#262626" textLength="16.7" lengthAdjust="spacingAndGlyphs">30</text><circle cx="167.8" cy="247.1" r="1.55" fill="none" stroke="#262626" stroke-width="0.9"/><text x="175.9" y="259.9" font-size="12.6" font-weight="bold" fill="#262626" textLength="9.2" lengthAdjust="spacingAndGlyphs">N</text>
<text x="146.6" y="274.3" font-size="12.6" font-weight="bold" fill="#262626" textLength="16.7" lengthAdjust="spacingAndGlyphs">28</text><circle cx="167.8" cy="261.5" r="1.55" fill="none" stroke="#262626" stroke-width="0.9"/><text x="175.9" y="274.3" font-size="12.6" font-weight="bold" fill="#262626" textLength="9.2" lengthAdjust="spacingAndGlyphs">N</text>
<text x="146.6" y="288.4" font-size="12.6" font-weight="bold" fill="#262626" textLength="16.7" lengthAdjust="spacingAndGlyphs">26</text><circle cx="167.8" cy="275.6" r="1.55" fill="none" stroke="#262626" stroke-width="0.9"/><text x="175.9" y="288.4" font-size="12.6" font-weight="bold" fill="#262626" textLength="9.2" lengthAdjust="spacingAndGlyphs">N</text>
<text x="146.6" y="302.3" font-size="12.6" font-weight="bold" fill="#262626" textLength="16.7" lengthAdjust="spacingAndGlyphs">24</text><circle cx="167.8" cy="289.5" r="1.55" fill="none" stroke="#262626" stroke-width="0.9"/><text x="175.9" y="302.3" font-size="12.6" font-weight="bold" fill="#262626" textLength="9.2" lengthAdjust="spacingAndGlyphs">N</text>
<text x="146.6" y="316.0" font-size="12.6" font-weight="bold" fill="#262626" textLength="16.7" lengthAdjust="spacingAndGlyphs">22</text><circle cx="167.8" cy="303.2" r="1.55" fill="none" stroke="#262626" stroke-width="0.9"/><text x="175.9" y="316.0" font-size="12.6" font-weight="bold" fill="#262626" textLength="9.2" lengthAdjust="spacingAndGlyphs">N</text>
<text x="216.0" y="76.8" font-size="12.6" font-weight="bold" fill="#262626" textLength="24.4" lengthAdjust="spacingAndGlyphs">100</text><circle cx="245.0" cy="64.0" r="1.55" fill="none" stroke="#262626" stroke-width="0.9"/><text x="252.8" y="76.8" font-size="12.6" font-weight="bold" fill="#262626" textLength="12.4" lengthAdjust="spacingAndGlyphs">W</text>
<text x="285.2" y="76.8" font-size="12.6" font-weight="bold" fill="#262626" textLength="16.4" lengthAdjust="spacingAndGlyphs">90</text><circle cx="306.2" cy="64.0" r="1.55" fill="none" stroke="#262626" stroke-width="0.9"/><text x="314.0" y="76.8" font-size="12.6" font-weight="bold" fill="#262626" textLength="12.4" lengthAdjust="spacingAndGlyphs">W</text>
<text x="349.1" y="76.8" font-size="12.6" font-weight="bold" fill="#262626" textLength="16.4" lengthAdjust="spacingAndGlyphs">80</text><circle cx="370.1" cy="64.0" r="1.55" fill="none" stroke="#262626" stroke-width="0.9"/><text x="377.9" y="76.8" font-size="12.6" font-weight="bold" fill="#262626" textLength="12.4" lengthAdjust="spacingAndGlyphs">W</text>
<text x="411.9" y="76.8" font-size="12.6" font-weight="bold" fill="#262626" textLength="16.4" lengthAdjust="spacingAndGlyphs">70</text><circle cx="432.9" cy="64.0" r="1.55" fill="none" stroke="#262626" stroke-width="0.9"/><text x="440.7" y="76.8" font-size="12.6" font-weight="bold" fill="#262626" textLength="12.4" lengthAdjust="spacingAndGlyphs">W</text>
<text x="307.8" y="340.7" font-size="22.4" font-weight="bold" fill="#262626" text-anchor="middle" textLength="364.5" lengthAdjust="spacingAndGlyphs">SAT+RAP 850 hPa MR (g/kg)</text>
<rect x="441.3" y="95.2" width="23.5" height="215.3" fill="url(#jet)" stroke="#262626" stroke-width="0.8"/>
<line x1="461.8" x2="464.8" y1="310.5" y2="310.5" stroke="#262626" stroke-width="0.8"/><text x="474.4" y="318.0" font-size="21.4" font-weight="bold" fill="#262626" textLength="13.0" lengthAdjust="spacingAndGlyphs">0</text>
<line x1="461.8" x2="464.8" y1="222.8" y2="222.8" stroke="#262626" stroke-width="0.8"/><text x="474.4" y="230.3" font-size="21.4" font-weight="bold" fill="#262626" textLength="13.0" lengthAdjust="spacingAndGlyphs">5</text>
<line x1="461.8" x2="464.8" y1="135.2" y2="135.2" stroke="#262626" stroke-width="0.8"/><text x="474.4" y="142.7" font-size="21.4" font-weight="bold" fill="#262626" textLength="26.0" lengthAdjust="spacingAndGlyphs">10</text>
</g>
<g>
<rect x="617.0" y="96.5" width="233.6" height="212.8" fill="none" stroke="#000" stroke-width="1.2"/>
<clipPath id="sw1"><polygon points="633.0,95.4 633.7,94.7 634.4,94.1 635.1,93.6 635.8,93.3 636.6,93.3 637.3,93.6 638.0,94.1 638.7,94.7 639.4,95.4 640.1,94.7 640.8,94.1 641.5,93.6 642.2,93.3 642.9,93.3 643.6,93.6 644.3,94.1 645.0,94.7 645.7,95.4 646.4,94.7 647.1,94.1 647.8,93.6 648.5,93.3 649.2,93.3 649.9,93.6 650.6,94.1 651.3,94.7 652.0,95.4 652.7,94.7 653.4,94.1 654.1,93.6 654.8,93.3 655.5,93.3 656.2,93.6 656.9,94.1 657.6,94.7 658.3,95.4 659.0,94.7 659.7,94.1 660.4,93.6 661.1,93.3 661.8,93.3 662.5,93.6 663.2,94.1 663.9,94.7 664.6,95.4 665.3,94.7 666.0,94.1 666.7,93.6 667.4,93.3 668.1,93.3 668.8,93.6 669.5,94.1 670.2,94.7 670.9,95.4 671.6,94.7 672.3,94.1 673.0,93.6 673.7,93.3 674.4,93.3 675.1,93.6 675.9,94.1 676.6,94.7 677.3,95.4 678.0,94.7 678.7,94.1 679.4,93.6 680.1,93.3 680.8,93.3 681.5,93.6 682.2,94.1 682.9,94.7 683.6,95.4 684.3,94.7 685.0,94.1 685.7,93.6 686.4,93.3 687.1,93.3 687.8,93.6 688.5,94.1 689.2,94.7 689.9,95.4 690.6,94.7 691.3,94.1 692.0,93.6 692.7,93.3 693.4,93.3 694.1,93.6 694.8,94.1 695.5,94.7 696.2,95.4 696.9,94.7 697.6,94.1 698.3,93.6 699.0,93.3 699.7,93.3 700.4,93.6 701.1,94.1 701.8,94.7 702.5,95.4 703.2,94.7 703.9,94.1 704.6,93.6 705.3,93.3 706.0,93.3 706.7,93.6 707.4,94.1 708.1,94.7 708.8,95.4 709.5,94.7 710.2,94.1 710.9,93.6 711.6,93.3 712.3,93.3 713.0,93.6 713.7,94.1 714.5,94.7 715.2,95.4 715.9,94.7 716.6,94.1 717.3,93.6 718.0,93.3 718.7,93.3 719.4,93.6 720.1,94.1 720.8,94.7 721.5,95.4 722.2,94.7 722.9,94.1 723.6,93.6 724.3,93.3 725.0,93.3 725.7,93.6 726.4,94.1 727.1,94.7 727.8,95.4 728.5,94.7 729.2,94.1 729.9,93.6 730.6,93.3 731.3,93.3 732.0,93.6 732.7,94.1 733.4,94.7 734.1,95.4 734.8,94.7 735.5,94.1 736.2,93.6 736.9,93.3 737.6,93.3 738.3,93.6 739.0,94.1 739.7,94.7 740.4,95.4 741.1,94.7 741.8,94.1 742.5,93.6 743.2,93.3 743.9,93.3 744.6,93.6 745.3,94.1 746.0,94.7 746.7,95.4 747.4,94.7 748.1,94.1 748.8,93.6 749.5,93.3 750.2,93.3 750.9,93.6 751.6,94.1 752.3,94.7 753.0,95.4 753.8,94.7 754.5,94.1 755.2,93.6 755.9,93.3 756.6,93.3 757.3,93.6 758.0,94.1 758.7,94.7 759.4,95.4 760.1,94.7 760.8,94.1 761.5,93.6 762.2,93.3 762.9,93.3 763.6,93.6 764.3,94.1 765.0,94.7 765.7,95.4 766.4,94.7 767.1,94.1 767.8,93.6 768.5,93.3 769.2,93.3 769.9,93.6 770.6,94.1 771.3,94.7 772.0,95.4 772.7,94.7 773.4,94.1 774.1,93.6 774.8,93.3 775.5,93.3 776.2,93.6 776.9,94.1 777.6,94.7 778.3,95.4 779.0,94.7 779.7,94.1 780.4,93.6 781.1,93.3 781.8,93.3 782.5,93.6 783.2,94.1 783.9,94.7 784.6,95.4 785.3,94.7 786.0,94.1 786.7,93.6 787.4,93.3 788.1,93.3 788.8,93.6 789.5,94.1 790.2,94.7 790.9,95.4 791.6,94.7 792.4,94.1 793.1,93.6 793.8,93.3 794.5,93.3 795.2,93.6 795.9,94.1 796.6,94.7 797.3,95.4 798.0,94.7 798.7,94.1 799.4,93.6 800.1,93.3 800.8,93.3 801.5,93.6 802.2,94.1 802.9,94.7 803.6,95.4 804.3,94.7 805.0,94.1 805.7,93.6 806.4,93.3 807.1,93.3 807.8,93.6 808.5,94.1 809.2,94.7 809.9,95.4 810.6,94.7 811.3,94.1 812.0,93.6 812.7,93.3 813.4,93.3 814.1,93.6 814.8,94.1 815.5,94.7 816.2,95.4 816.9,94.7 817.6,94.1 818.3,93.6 819.0,93.3 819.7,93.3 820.4,93.6 821.1,94.1 821.8,94.7 822.5,95.4 823.2,94.7 823.9,94.1 824.6,93.6 825.3,93.3 826.0,93.3 826.7,93.6 827.4,94.1 828.1,94.7 828.8,95.4 829.5,94.7 830.2,94.1 809.5,142.4 791.9,177.3 780.3,206.4 769.6,237.4 763.6,251.6 746.5,306.9 745.3,310.5 745.3,311.4 744.6,312.0 743.9,312.4 743.2,312.6 742.5,312.5 741.8,312.3 741.1,311.8 740.4,311.2 739.7,310.7 739.0,311.4 738.3,312.0 737.6,312.4 736.9,312.6 736.2,312.5 735.5,312.3 734.8,311.8 734.1,311.2 733.4,310.7 732.7,311.4 732.0,312.0 731.3,312.4 730.6,312.6 729.9,312.5 729.2,312.3 728.5,311.8 727.8,311.2 727.1,310.7 726.4,311.4 725.7,312.0 725.0,312.4 724.3,312.6 723.6,312.5 722.9,312.3 722.2,311.8 721.5,311.2 720.8,310.7 720.1,311.4 719.4,312.0 718.7,312.4 718.0,312.6 717.3,312.5 716.6,312.3 715.9,311.8 715.2,311.2 714.5,310.7 713.7,311.4 713.0,312.0 712.3,312.4 711.6,312.6 710.9,312.5 710.2,312.3 709.5,311.8 708.8,311.2 708.1,310.7 707.4,311.4 706.7,312.0 706.0,312.4 705.3,312.6 704.6,312.5 703.9,312.3 703.2,311.8 702.5,311.2 701.8,310.7 701.1,311.4 700.4,312.0 699.7,312.4 699.0,312.6 698.3,312.5 697.6,312.3 696.9,311.8 696.2,311.2 695.5,310.7 694.8,311.4 694.1,312.0 693.4,312.4 692.7,312.6 692.0,312.5 691.3,312.3 690.6,311.8 689.9,311.2 689.2,310.7 688.5,311.4 687.8,312.0 687.1,312.4 686.4,312.6 685.7,312.5 685.0,312.3 684.3,311.8 683.6,311.2 682.9,310.7 682.2,311.4 681.5,312.0 680.8,312.4 680.1,312.6 679.4,312.5 678.7,312.3 678.0,311.8 677.3,311.2 676.6,310.7 675.9,311.4 675.1,312.0 674.4,312.4 673.7,312.6 673.0,312.5 672.3,312.3 671.6,311.8 670.9,311.2 670.2,310.7 669.5,311.4 668.8,312.0 668.1,312.4 667.4,312.6 666.7,312.5 666.0,312.3 665.3,311.8 664.6,311.2 663.9,310.7 663.2,311.4 662.5,312.0 661.8,312.4 661.1,312.6 660.4,312.5 659.7,312.3 659.0,311.8 658.3,311.2 657.6,310.7 656.9,311.4 656.2,312.0 655.5,312.4 654.8,312.6 654.1,312.5 653.4,312.3 652.7,311.8 652.0,311.2 651.3,310.7 650.6,311.4 649.9,312.0 649.2,312.4 648.5,312.6 647.8,312.5 647.1,312.3 646.4,311.8 645.7,311.2 645.0,310.7 644.3,311.4 643.6,312.0 642.9,312.4 642.2,312.6 641.5,312.5 640.8,312.3 640.1,311.8 639.4,311.2 638.7,310.7 638.0,311.4 637.3,312.0 636.6,312.4 635.8,312.6 635.1,312.5 634.4,312.3 633.7,311.8 633.0,311.2 632.3,310.7 631.6,311.4 630.9,312.0 630.2,312.4 629.5,312.6 628.8,312.5 628.1,312.3 627.4,311.8 626.7,311.2 626.0,310.7 625.3,311.4 624.6,312.0 623.9,312.4 623.2,312.6 622.5,312.5 621.8,312.3 621.1,311.8 620.4,311.2 619.7,310.7 619.0,311.4 618.3,312.0 617.6,312.4 616.9,312.6 616.2,312.5 615.5,312.3 614.8,311.8 614.1,311.2 613.5,300.0 614.5,270.0 616.5,241.0 619.0,220.0 621.5,200.0 623.0,183.0 625.0,165.0 626.5,150.0 628.5,130.0 630.5,110.0 633.0,95.4"/></clipPath>
<g clip-path="url(#sw1)"><g filter="url(#jf)"><rect x="609" y="89" width="12" height="12" fill="#3d3d3d"/><rect x="619" y="89" width="12" height="12" fill="#3d3d3d"/><rect x="629" y="89" width="12" height="12" fill="#3d3d3d"/><rect x="639" y="89" width="12" height="12" fill="#3d3d3d"/><rect x="649" y="89" width="12" height="12" fill="#3d3d3d"/><rect x="659" y="89" width="12" height="12" fill="#3d3d3d"/><rect x="669" y="89" width="12" height="12" fill="#4c4c4c"/><rect x="679" y="89" width="12" height="12" fill="#4c4c4c"/><rect x="689" y="89" width="12" height="12" fill="#4c4c4c"/><rect x="699" y="89" width="12" height="12" fill="#3d3d3d"/><rect x="709" y="89" width="12" height="12" fill="#2e2e2e"/><rect x="719" y="89" width="12" height="12" fill="#2e2e2e"/><rect x="729" y="89" width="12" height="12" fill="#1f1f1f"/><rect x="739" y="89" width="12" height="12" fill="#1f1f1f"/><rect x="749" y="89" width="12" height="12" fill="#1f1f1f"/><rect x="759" y="89" width="12" height="12" fill="#1f1f1f"/><rect x="769" y="89" width="12" height="12" fill="#1f1f1f"/><rect x="779" y="89" width="12" height="12" fill="#1f1f1f"/><rect x="789" y="89" width="12" height="12" fill="#1f1f1f"/><rect x="799" y="89" width="12" height="12" fill="#1f1f1f"/><rect x="809" y="89" width="12" height="12" fill="#1f1f1f"/><rect x="819" y="89" width="12" height="12" fill="#1f1f1f"/><rect x="829" y="89" width="12" height="12" fill="#1f1f1f"/><rect x="839" y="89" width="12" height="12" fill="#1f1f1f"/><rect x="849" y="89" width="12" height="12" fill="#1f1f1f"/><rect x="609" y="99" width="12" height="12" fill="#3d3d3d"/><rect x="619" y="99" width="12" height="12" fill="#3d3d3d"/><rect x="629" y="99" width="12" height="12" fill="#3d3d3d"/><rect x="639" y="99" width="12" height="12" fill="#3d3d3d"/><rect x="649" y="99" width="12" height="12" fill="#3d3d3d"/><rect x="659" y="99" width="12" height="12" fill="#3d3d3d"/><rect x="669" y="99" width="12" height="12" fill="#3d3d3d"/><rect x="679" y="99" width="12" height="12" fill="#5c5c5c"/><rect x="689" y="99" width="12" height="12" fill="#5c5c5c"/><rect x="699" y="99" width="12" height="12" fill="#4c4c4c"/><rect x="709" y="99" width="12" height="12" fill="#3d3d3d"/><rect x="719" y="99" width="12" height="12" fill="#2e2e2e"/><rect x="729" y="99" width="12" height="12" fill="#2e2e2e"/><rect x="739" y="99" width="12" height="12" fill="#1f1f1f"/><rect x="749" y="99" width="12" height="12" fill="#1f1f1f"/><rect x="759" y="99" width="12" height="12" fill="#1f1f1f"/><rect x="769" y="99" width="12" height="12" fill="#1f1f1f"/><rect x="779" y="99" width="12" height="12" fill="#1f1f1f"/><rect x="789" y="99" width="12" height="12" fill="#1f1f1f"/><rect x="799" y="99" width="12" height="12" fill="#1f1f1f"/><rect x="809" y="99" width="12" height="12" fill="#1f1f1f"/><rect x="819" y="99" width="12" height="12" fill="#1f1f1f"/><rect x="829" y="99" width="12" height="12" fill="#1f1f1f"/><rect x="839" y="99" width="12" height="12" fill="#1f1f1f"/><rect x="849" y="99" width="12" height="12" fill="#1f1f1f"/><rect x="609" y="109" width="12" height="12" fill="#4c4c4c"/><rect x="619" y="109" width="12" height="12" fill="#4c4c4c"/><rect x="629" y="109" width="12" height="12" fill="#4c4c4c"/><rect x="639" y="109" width="12" height="12" fill="#2e2e2e"/><rect x="649" y="109" width="12" height="12" fill="#2e2e2e"/><rect x="659" y="109" width="12" height="12" fill="#2e2e2e"/><rect x="669" y="109" width="12" height="12" fill="#2e2e2e"/><rect x="679" y="109" width="12" height="12" fill="#4c4c4c"/><rect x="689" y="109" width="12" height="12" fill="#5c5c5c"/><rect x="699" y="109" width="12" height="12" fill="#4c4c4c"/><rect x="709" y="109" width="12" height="12" fill="#4c4c4c"/><rect x="719" y="109" width="12" height="12" fill="#4c4c4c"/><rect x="729" y="109" width="12" height="12" fill="#3d3d3d"/><rect x="739" y="109" width="12" height="12" fill="#1f1f1f"/><rect x="749" y="109" width="12" height="12" fill="#1f1f1f"/><rect x="759" y="109" width="12" height="12" fill="#1f1f1f"/><rect x="769" y="109" width="12" height="12" fill="#1f1f1f"/><rect x="779" y="109" width="12" height="12" fill="#1f1f1f"/><rect x="789" y="109" width="12" height="12" fill="#1f1f1f"/><rect x="799" y="109" width="12" height="12" fill="#1f1f1f"/><rect x="809" y="109" width="12" height="12" fill="#1f1f1f"/><rect x="819" y="109" width="12" height="12" fill="#1f1f1f"/><rect x="829" y="109" width="12" height="12" fill="#1f1f1f"/><rect x="839" y="109" width="12" height="12" fill="#1f1f1f"/><rect x="609" y="119" width="12" height="12" fill="#5c5c5c"/><rect x="619" y="119" width="12" height="12" fill="#5c5c5c"/><rect x="629" y="119" width="12" height="12" fill="#5c5c5c"/><rect x="639" y="119" width="12" height="12" fill="#3d3d3d"/><rect x="649" y="119" width="12" height="12" fill="#3d3d3d"/><rect x="659" y="119" width="12" height="12" fill="#3d3d3d"/><rect x="669" y="119" width="12" height="12" fill="#4c4c4c"/><rect x="679" y="119" width="12" height="12" fill="#3d3d3d"/><rect x="689" y="119" width="12" height="12" fill="#2e2e2e"/><rect x="699" y="119" width="12" height="12" fill="#3d3d3d"/><rect x="709" y="119" width="12" height="12" fill="#5c5c5c"/><rect x="719" y="119" width="12" height="12" fill="#4c4c4c"/><rect x="729" y="119" width="12" height="12" fill="#3d3d3d"/><rect x="739" y="119" width="12" height="12" fill="#3d3d3d"/><rect x="749" y="119" width="12" height="12" fill="#2e2e2e"/><rect x="759" y="119" width="12" height="12" fill="#1f1f1f"/><rect x="769" y="119" width="12" height="12" fill="#1f1f1f"/><rect x="779" y="119" width="12" height="12" fill="#1f1f1f"/><rect x="789" y="119" width="12" height="12" fill="#1f1f1f"/><rect x="799" y="119" width="12" height="12" fill="#1f1f1f"/><rect x="809" y="119" width="12" height="12" fill="#1f1f1f"/><rect x="819" y="119" width="12" height="12" fill="#1f1f1f"/><rect x="829" y="119" width="12" height="12" fill="#1f1f1f"/><rect x="839" y="119" width="12" height="12" fill="#1f1f1f"/><rect x="609" y="129" width="12" height="12" fill="#5c5c5c"/><rect x="619" y="129" width="12" height="12" fill="#5c5c5c"/><rect x="629" y="129" width="12" height="12" fill="#5c5c5c"/><rect x="639" y="129" width="12" height="12" fill="#3d3d3d"/><rect x="649" y="129" width="12" height="12" fill="#5c5c5c"/><rect x="659" y="129" width="12" height="12" fill="#808080"/><rect x="669" y="129" width="12" height="12" fill="#a1a1a1"/><rect x="679" y="129" width="12" height="12" fill="#808080"/><rect x="689" y="129" width="12" height="12" fill="#3d3d3d"/><rect x="699" y="129" width="12" height="12" fill="#2e2e2e"/><rect x="709" y="129" width="12" height="12" fill="#4c4c4c"/><rect x="719" y="129" width="12" height="12" fill="#4c4c4c"/><rect x="729" y="129" width="12" height="12" fill="#3d3d3d"/><rect x="739" y="129" width="12" height="12" fill="#2e2e2e"/><rect x="749" y="129" width="12" height="12" fill="#3d3d3d"/><rect x="759" y="129" width="12" height="12" fill="#2e2e2e"/><rect x="769" y="129" width="12" height="12" fill="#1f1f1f"/><rect x="779" y="129" width="12" height="12" fill="#1f1f1f"/><rect x="789" y="129" width="12" height="12" fill="#1f1f1f"/><rect x="799" y="129" width="12" height="12" fill="#1f1f1f"/><rect x="809" y="129" width="12" height="12" fill="#1f1f1f"/><rect x="819" y="129" width="12" height="12" fill="#1f1f1f"/><rect x="829" y="129" width="12" height="12" fill="#1f1f1f"/><rect x="609" y="139" width="12" height="12" fill="#5c5c5c"/><rect x="619" y="139" width="12" height="12" fill="#5c5c5c"/><rect x="629" y="139" width="12" height="12" fill="#5c5c5c"/><rect x="639" y="139" width="12" height="12" fill="#3d3d3d"/><rect x="649" y="139" width="12" height="12" fill="#3d3d3d"/><rect x="659" y="139" width="12" height="12" fill="#4c4c4c"/><rect x="669" y="139" width="12" height="12" fill="#6e6e6e"/><rect x="679" y="139" width="12" height="12" fill="#5c5c5c"/><rect x="689" y="139" width="12" height="12" fill="#3d3d3d"/><rect x="699" y="139" width="12" height="12" fill="#2e2e2e"/><rect x="709" y="139" width="12" height="12" fill="#3d3d3d"/><rect x="719" y="139" width="12" height="12" fill="#2e2e2e"/><rect x="729" y="139" width="12" height="12" fill="#2e2e2e"/><rect x="739" y="139" width="12" height="12" fill="#2e2e2e"/><rect x="749" y="139" width="12" height="12" fill="#3d3d3d"/><rect x="759" y="139" width="12" height="12" fill="#3d3d3d"/><rect x="769" y="139" width="12" height="12" fill="#2e2e2e"/><rect x="779" y="139" width="12" height="12" fill="#1f1f1f"/><rect x="789" y="139" width="12" height="12" fill="#1f1f1f"/><rect x="799" y="139" width="12" height="12" fill="#1f1f1f"/><rect x="809" y="139" width="12" height="12" fill="#1f1f1f"/><rect x="819" y="139" width="12" height="12" fill="#1f1f1f"/><rect x="829" y="139" width="12" height="12" fill="#1f1f1f"/><rect x="609" y="149" width="12" height="12" fill="#5c5c5c"/><rect x="619" y="149" width="12" height="12" fill="#5c5c5c"/><rect x="629" y="149" width="12" height="12" fill="#4c4c4c"/><rect x="639" y="149" width="12" height="12" fill="#4c4c4c"/><rect x="649" y="149" width="12" height="12" fill="#2e2e2e"/><rect x="659" y="149" width="12" height="12" fill="#2e2e2e"/><rect x="669" y="149" width="12" height="12" fill="#2e2e2e"/><rect x="679" y="149" width="12" height="12" fill="#3d3d3d"/><rect x="689" y="149" width="12" height="12" fill="#2e2e2e"/><rect x="699" y="149" width="12" height="12" fill="#3d3d3d"/><rect x="709" y="149" width="12" height="12" fill="#2e2e2e"/><rect x="719" y="149" width="12" height="12" fill="#1f1f1f"/><rect x="729" y="149" width="12" height="12" fill="#2e2e2e"/><rect x="739" y="149" width="12" height="12" fill="#2e2e2e"/><rect x="749" y="149" width="12" height="12" fill="#3d3d3d"/><rect x="759" y="149" width="12" height="12" fill="#3d3d3d"/><rect x="769" y="149" width="12" height="12" fill="#2e2e2e"/><rect x="779" y="149" width="12" height="12" fill="#2e2e2e"/><rect x="789" y="149" width="12" height="12" fill="#2e2e2e"/><rect x="799" y="149" width="12" height="12" fill="#1f1f1f"/><rect x="809" y="149" width="12" height="12" fill="#1f1f1f"/><rect x="819" y="149" width="12" height="12" fill="#1f1f1f"/><rect x="609" y="159" width="12" height="12" fill="#4c4c4c"/><rect x="619" y="159" width="12" height="12" fill="#4c4c4c"/><rect x="629" y="159" width="12" height="12" fill="#4c4c4c"/><rect x="639" y="159" width="12" height="12" fill="#4c4c4c"/><rect x="649" y="159" width="12" height="12" fill="#2e2e2e"/><rect x="659" y="159" width="12" height="12" fill="#1f1f1f"/><rect x="669" y="159" width="12" height="12" fill="#2e2e2e"/><rect x="679" y="159" width="12" height="12" fill="#3d3d3d"/><rect x="689" y="159" width="12" height="12" fill="#4c4c4c"/><rect x="699" y="159" width="12" height="12" fill="#3d3d3d"/><rect x="709" y="159" width="12" height="12" fill="#2e2e2e"/><rect x="719" y="159" width="12" height="12" fill="#2e2e2e"/><rect x="729" y="159" width="12" height="12" fill="#1f1f1f"/><rect x="739" y="159" width="12" height="12" fill="#2e2e2e"/><rect x="749" y="159" width="12" height="12" fill="#1f1f1f"/><rect x="759" y="159" width="12" height="12" fill="#2e2e2e"/><rect x="769" y="159" width="12" height="12" fill="#2e2e2e"/><rect x="779" y="159" width="12" height="12" fill="#2e2e2e"/><rect x="789" y="159" width="12" height="12" fill="#3d3d3d"/><rect x="799" y="159" width="12" height="12" fill="#3d3d3d"/><rect x="809" y="159" width="12" height="12" fill="#3d3d3d"/><rect x="819" y="159" width="12" height="12" fill="#3d3d3d"/><rect x="609" y="169" width="12" height="12" fill="#3d3d3d"/><rect x="619" y="169" width="12" height="12" fill="#3d3d3d"/><rect x="629" y="169" width="12" height="12" fill="#3d3d3d"/><rect x="639" y="169" width="12" height="12" fill="#4c4c4c"/><rect x="649" y="169" width="12" height="12" fill="#2e2e2e"/><rect x="659" y="169" width="12" height="12" fill="#3d3d3d"/><rect x="669" y="169" width="12" height="12" fill="#3d3d3d"/><rect x="679" y="169" width="12" height="12" fill="#3d3d3d"/><rect x="689" y="169" width="12" height="12" fill="#5c5c5c"/><rect x="699" y="169" width="12" height="12" fill="#5c5c5c"/><rect x="709" y="169" width="12" height="12" fill="#4c4c4c"/><rect x="719" y="169" width="12" height="12" fill="#3d3d3d"/><rect x="729" y="169" width="12" height="12" fill="#2e2e2e"/><rect x="739" y="169" width="12" height="12" fill="#1f1f1f"/><rect x="749" y="169" width="12" height="12" fill="#1f1f1f"/><rect x="759" y="169" width="12" height="12" fill="#1f1f1f"/><rect x="769" y="169" width="12" height="12" fill="#2e2e2e"/><rect x="779" y="169" width="12" height="12" fill="#2e2e2e"/><rect x="789" y="169" width="12" height="12" fill="#3d3d3d"/><rect x="799" y="169" width="12" height="12" fill="#3d3d3d"/><rect x="809" y="169" width="12" height="12" fill="#3d3d3d"/><rect x="819" y="169" width="12" height="12" fill="#3d3d3d"/><rect x="609" y="179" width="12" height="12" fill="#4c4c4c"/><rect x="619" y="179" width="12" height="12" fill="#4c4c4c"/><rect x="629" y="179" width="12" height="12" fill="#3d3d3d"/><rect x="639" y="179" width="12" height="12" fill="#2e2e2e"/><rect x="649" y="179" width="12" height="12" fill="#3d3d3d"/><rect x="659" y="179" width="12" height="12" fill="#4c4c4c"/><rect x="669" y="179" width="12" height="12" fill="#4c4c4c"/><rect x="679" y="179" width="12" height="12" fill="#4c4c4c"/><rect x="689" y="179" width="12" height="12" fill="#4c4c4c"/><rect x="699" y="179" width="12" height="12" fill="#e0e0e0"/><rect x="709" y="179" width="12" height="12" fill="#f0f0f0"/><rect x="719" y="179" width="12" height="12" fill="#b2b2b2"/><rect x="729" y="179" width="12" height="12" fill="#4c4c4c"/><rect x="739" y="179" width="12" height="12" fill="#3d3d3d"/><rect x="749" y="179" width="12" height="12" fill="#2e2e2e"/><rect x="759" y="179" width="12" height="12" fill="#1f1f1f"/><rect x="769" y="179" width="12" height="12" fill="#2e2e2e"/><rect x="779" y="179" width="12" height="12" fill="#3d3d3d"/><rect x="789" y="179" width="12" height="12" fill="#3d3d3d"/><rect x="799" y="179" width="12" height="12" fill="#3d3d3d"/><rect x="809" y="179" width="12" height="12" fill="#3d3d3d"/><rect x="609" y="189" width="12" height="12" fill="#5c5c5c"/><rect x="619" y="189" width="12" height="12" fill="#3d3d3d"/><rect x="629" y="189" width="12" height="12" fill="#3d3d3d"/><rect x="639" y="189" width="12" height="12" fill="#2e2e2e"/><rect x="649" y="189" width="12" height="12" fill="#3d3d3d"/><rect x="659" y="189" width="12" height="12" fill="#4c4c4c"/><rect x="669" y="189" width="12" height="12" fill="#5c5c5c"/><rect x="679" y="189" width="12" height="12" fill="#4c4c4c"/><rect x="689" y="189" width="12" height="12" fill="#4c4c4c"/><rect x="699" y="189" width="12" height="12" fill="#f0f0f0"/><rect x="709" y="189" width="12" height="12" fill="#f0f0f0"/><rect x="719" y="189" width="12" height="12" fill="#f0f0f0"/><rect x="729" y="189" width="12" height="12" fill="#e0e0e0"/><rect x="739" y="189" width="12" height="12" fill="#b2b2b2"/><rect x="749" y="189" width="12" height="12" fill="#5c5c5c"/><rect x="759" y="189" width="12" height="12" fill="#4c4c4c"/><rect x="769" y="189" width="12" height="12" fill="#3d3d3d"/><rect x="779" y="189" width="12" height="12" fill="#3d3d3d"/><rect x="789" y="189" width="12" height="12" fill="#3d3d3d"/><rect x="799" y="189" width="12" height="12" fill="#3d3d3d"/><rect x="609" y="199" width="12" height="12" fill="#808080"/><rect x="619" y="199" width="12" height="12" fill="#b2b2b2"/><rect x="629" y="199" width="12" height="12" fill="#808080"/><rect x="639" y="199" width="12" height="12" fill="#c2c2c2"/><rect x="649" y="199" width="12" height="12" fill="#c2c2c2"/><rect x="659" y="199" width="12" height="12" fill="#5c5c5c"/><rect x="669" y="199" width="12" height="12" fill="#5c5c5c"/><rect x="679" y="199" width="12" height="12" fill="#4c4c4c"/><rect x="689" y="199" width="12" height="12" fill="#5c5c5c"/><rect x="699" y="199" width="12" height="12" fill="#e0e0e0"/><rect x="709" y="199" width="12" height="12" fill="#f0f0f0"/><rect x="719" y="199" width="12" height="12" fill="#f0f0f0"/><rect x="729" y="199" width="12" height="12" fill="#f0f0f0"/><rect x="739" y="199" width="12" height="12" fill="#e0e0e0"/><rect x="749" y="199" width="12" height="12" fill="#e0e0e0"/><rect x="759" y="199" width="12" height="12" fill="#b2b2b2"/><rect x="769" y="199" width="12" height="12" fill="#4c4c4c"/><rect x="779" y="199" width="12" height="12" fill="#4c4c4c"/><rect x="789" y="199" width="12" height="12" fill="#4c4c4c"/><rect x="799" y="199" width="12" height="12" fill="#4c4c4c"/><rect x="609" y="209" width="12" height="12" fill="#b2b2b2"/><rect x="619" y="209" width="12" height="12" fill="#808080"/><rect x="629" y="209" width="12" height="12" fill="#4c4c4c"/><rect x="639" y="209" width="12" height="12" fill="#e0e0e0"/><rect x="649" y="209" width="12" height="12" fill="#808080"/><rect x="659" y="209" width="12" height="12" fill="#6e6e6e"/><rect x="669" y="209" width="12" height="12" fill="#5c5c5c"/><rect x="679" y="209" width="12" height="12" fill="#4c4c4c"/><rect x="689" y="209" width="12" height="12" fill="#a1a1a1"/><rect x="699" y="209" width="12" height="12" fill="#b2b2b2"/><rect x="709" y="209" width="12" height="12" fill="#6e6e6e"/><rect x="719" y="209" width="12" height="12" fill="#919191"/><rect x="729" y="209" width="12" height="12" fill="#808080"/><rect x="739" y="209" width="12" height="12" fill="#e0e0e0"/><rect x="749" y="209" width="12" height="12" fill="#f0f0f0"/><rect x="759" y="209" width="12" height="12" fill="#e0e0e0"/><rect x="769" y="209" width="12" height="12" fill="#4c4c4c"/><rect x="779" y="209" width="12" height="12" fill="#4c4c4c"/><rect x="789" y="209" width="12" height="12" fill="#4c4c4c"/><rect x="799" y="209" width="12" height="12" fill="#4c4c4c"/><rect x="609" y="219" width="12" height="12" fill="#a1a1a1"/><rect x="619" y="219" width="12" height="12" fill="#5c5c5c"/><rect x="629" y="219" width="12" height="12" fill="#b2b2b2"/><rect x="639" y="219" width="12" height="12" fill="#f0f0f0"/><rect x="649" y="219" width="12" height="12" fill="#e0e0e0"/><rect x="659" y="219" width="12" height="12" fill="#5c5c5c"/><rect x="669" y="219" width="12" height="12" fill="#6e6e6e"/><rect x="679" y="219" width="12" height="12" fill="#5c5c5c"/><rect x="689" y="219" width="12" height="12" fill="#919191"/><rect x="699" y="219" width="12" height="12" fill="#808080"/><rect x="709" y="219" width="12" height="12" fill="#3d3d3d"/><rect x="719" y="219" width="12" height="12" fill="#2e2e2e"/><rect x="729" y="219" width="12" height="12" fill="#3d3d3d"/><rect x="739" y="219" width="12" height="12" fill="#5c5c5c"/><rect x="749" y="219" width="12" height="12" fill="#c2c2c2"/><rect x="759" y="219" width="12" height="12" fill="#c2c2c2"/><rect x="769" y="219" width="12" height="12" fill="#4c4c4c"/><rect x="779" y="219" width="12" height="12" fill="#4c4c4c"/><rect x="789" y="219" width="12" height="12" fill="#4c4c4c"/><rect x="799" y="219" width="12" height="12" fill="#4c4c4c"/><rect x="609" y="229" width="12" height="12" fill="#5c5c5c"/><rect x="619" y="229" width="12" height="12" fill="#6e6e6e"/><rect x="629" y="229" width="12" height="12" fill="#b2b2b2"/><rect x="639" y="229" width="12" height="12" fill="#f0f0f0"/><rect x="649" y="229" width="12" height="12" fill="#e0e0e0"/><rect x="659" y="229" width="12" height="12" fill="#5c5c5c"/><rect x="669" y="229" width="12" height="12" fill="#4c4c4c"/><rect x="679" y="229" width="12" height="12" fill="#3d3d3d"/><rect x="689" y="229" width="12" height="12" fill="#3d3d3d"/><rect x="699" y="229" width="12" height="12" fill="#2e2e2e"/><rect x="709" y="229" width="12" height="12" fill="#2e2e2e"/><rect x="719" y="229" width="12" height="12" fill="#1f1f1f"/><rect x="729" y="229" width="12" height="12" fill="#1f1f1f"/><rect x="739" y="229" width="12" height="12" fill="#1f1f1f"/><rect x="749" y="229" width="12" height="12" fill="#2e2e2e"/><rect x="759" y="229" width="12" height="12" fill="#3d3d3d"/><rect x="769" y="229" width="12" height="12" fill="#4c4c4c"/><rect x="779" y="229" width="12" height="12" fill="#4c4c4c"/><rect x="789" y="229" width="12" height="12" fill="#4c4c4c"/><rect x="609" y="239" width="12" height="12" fill="#3d3d3d"/><rect x="619" y="239" width="12" height="12" fill="#5c5c5c"/><rect x="629" y="239" width="12" height="12" fill="#e0e0e0"/><rect x="639" y="239" width="12" height="12" fill="#f0f0f0"/><rect x="649" y="239" width="12" height="12" fill="#e0e0e0"/><rect x="659" y="239" width="12" height="12" fill="#5c5c5c"/><rect x="669" y="239" width="12" height="12" fill="#4c4c4c"/><rect x="679" y="239" width="12" height="12" fill="#2e2e2e"/><rect x="689" y="239" width="12" height="12" fill="#2e2e2e"/><rect x="699" y="239" width="12" height="12" fill="#2e2e2e"/><rect x="709" y="239" width="12" height="12" fill="#1f1f1f"/><rect x="719" y="239" width="12" height="12" fill="#1f1f1f"/><rect x="729" y="239" width="12" height="12" fill="#1f1f1f"/><rect x="739" y="239" width="12" height="12" fill="#1f1f1f"/><rect x="749" y="239" width="12" height="12" fill="#2e2e2e"/><rect x="759" y="239" width="12" height="12" fill="#1f1f1f"/><rect x="769" y="239" width="12" height="12" fill="#1f1f1f"/><rect x="779" y="239" width="12" height="12" fill="#1f1f1f"/><rect x="789" y="239" width="12" height="12" fill="#1f1f1f"/><rect x="609" y="249" width="12" height="12" fill="#6e6e6e"/><rect x="619" y="249" width="12" height="12" fill="#e0e0e0"/><rect x="629" y="249" width="12" height="12" fill="#f0f0f0"/><rect x="639" y="249" width="12" height="12" fill="#c2c2c2"/><rect x="649" y="249" width="12" height="12" fill="#5c5c5c"/><rect x="659" y="249" width="12" height="12" fill="#5c5c5c"/><rect x="669" y="249" width="12" height="12" fill="#3d3d3d"/><rect x="679" y="249" width="12" height="12" fill="#2e2e2e"/><rect x="689" y="249" width="12" height="12" fill="#2e2e2e"/><rect x="699" y="249" width="12" height="12" fill="#1f1f1f"/><rect x="709" y="249" width="12" height="12" fill="#1f1f1f"/><rect x="719" y="249" width="12" height="12" fill="#1f1f1f"/><rect x="729" y="249" width="12" height="12" fill="#1f1f1f"/><rect x="739" y="249" width="12" height="12" fill="#1f1f1f"/><rect x="749" y="249" width="12" height="12" fill="#1f1f1f"/><rect x="759" y="249" width="12" height="12" fill="#1f1f1f"/><rect x="769" y="249" width="12" height="12" fill="#1f1f1f"/><rect x="779" y="249" width="12" height="12" fill="#1f1f1f"/><rect x="789" y="249" width="12" height="12" fill="#1f1f1f"/><rect x="609" y="259" width="12" height="12" fill="#e0e0e0"/><rect x="619" y="259" width="12" height="12" fill="#f0f0f0"/><rect x="629" y="259" width="12" height="12" fill="#d1d1d1"/><rect x="639" y="259" width="12" height="12" fill="#6e6e6e"/><rect x="649" y="259" width="12" height="12" fill="#5c5c5c"/><rect x="659" y="259" width="12" height="12" fill="#4c4c4c"/><rect x="669" y="259" width="12" height="12" fill="#3d3d3d"/><rect x="679" y="259" width="12" height="12" fill="#3d3d3d"/><rect x="689" y="259" width="12" height="12" fill="#3d3d3d"/><rect x="699" y="259" width="12" height="12" fill="#1f1f1f"/><rect x="709" y="259" width="12" height="12" fill="#1f1f1f"/><rect x="719" y="259" width="12" height="12" fill="#1f1f1f"/><rect x="729" y="259" width="12" height="12" fill="#1f1f1f"/><rect x="739" y="259" width="12" height="12" fill="#1f1f1f"/><rect x="749" y="259" width="12" height="12" fill="#1f1f1f"/><rect x="759" y="259" width="12" height="12" fill="#1f1f1f"/><rect x="769" y="259" width="12" height="12" fill="#1f1f1f"/><rect x="779" y="259" width="12" height="12" fill="#1f1f1f"/><rect x="609" y="269" width="12" height="12" fill="#f0f0f0"/><rect x="619" y="269" width="12" height="12" fill="#f0f0f0"/><rect x="629" y="269" width="12" height="12" fill="#c2c2c2"/><rect x="639" y="269" width="12" height="12" fill="#808080"/><rect x="649" y="269" width="12" height="12" fill="#6e6e6e"/><rect x="659" y="269" width="12" height="12" fill="#5c5c5c"/><rect x="669" y="269" width="12" height="12" fill="#5c5c5c"/><rect x="679" y="269" width="12" height="12" fill="#4c4c4c"/><rect x="689" y="269" width="12" height="12" fill="#4c4c4c"/><rect x="699" y="269" width="12" height="12" fill="#1f1f1f"/><rect x="709" y="269" width="12" height="12" fill="#1f1f1f"/><rect x="719" y="269" width="12" height="12" fill="#1f1f1f"/><rect x="729" y="269" width="12" height="12" fill="#1f1f1f"/><rect x="739" y="269" width="12" height="12" fill="#1f1f1f"/><rect x="749" y="269" width="12" height="12" fill="#2e2e2e"/><rect x="759" y="269" width="12" height="12" fill="#2e2e2e"/><rect x="769" y="269" width="12" height="12" fill="#2e2e2e"/><rect x="779" y="269" width="12" height="12" fill="#2e2e2e"/><rect x="609" y="279" width="12" height="12" fill="#e0e0e0"/><rect x="619" y="279" width="12" height="12" fill="#b2b2b2"/><rect x="629" y="279" width="12" height="12" fill="#808080"/><rect x="639" y="279" width="12" height="12" fill="#919191"/><rect x="649" y="279" width="12" height="12" fill="#b2b2b2"/><rect x="659" y="279" width="12" height="12" fill="#6e6e6e"/><rect x="669" y="279" width="12" height="12" fill="#5c5c5c"/><rect x="679" y="279" width="12" height="12" fill="#5c5c5c"/><rect x="689" y="279" width="12" height="12" fill="#4c4c4c"/><rect x="699" y="279" width="12" height="12" fill="#1f1f1f"/><rect x="709" y="279" width="12" height="12" fill="#1f1f1f"/><rect x="719" y="279" width="12" height="12" fill="#1f1f1f"/><rect x="729" y="279" width="12" height="12" fill="#1f1f1f"/><rect x="739" y="279" width="12" height="12" fill="#2e2e2e"/><rect x="749" y="279" width="12" height="12" fill="#2e2e2e"/><rect x="759" y="279" width="12" height="12" fill="#2e2e2e"/><rect x="769" y="279" width="12" height="12" fill="#2e2e2e"/><rect x="609" y="289" width="12" height="12" fill="#919191"/><rect x="619" y="289" width="12" height="12" fill="#5c5c5c"/><rect x="629" y="289" width="12" height="12" fill="#5c5c5c"/><rect x="639" y="289" width="12" height="12" fill="#808080"/><rect x="649" y="289" width="12" height="12" fill="#b2b2b2"/><rect x="659" y="289" width="12" height="12" fill="#6e6e6e"/><rect x="669" y="289" width="12" height="12" fill="#808080"/><rect x="679" y="289" width="12" height="12" fill="#b2b2b2"/><rect x="689" y="289" width="12" height="12" fill="#5c5c5c"/><rect x="699" y="289" width="12" height="12" fill="#1f1f1f"/><rect x="709" y="289" width="12" height="12" fill="#1f1f1f"/><rect x="719" y="289" width="12" height="12" fill="#1f1f1f"/><rect x="729" y="289" width="12" height="12" fill="#1f1f1f"/><rect x="739" y="289" width="12" height="12" fill="#2e2e2e"/><rect x="749" y="289" width="12" height="12" fill="#2e2e2e"/><rect x="759" y="289" width="12" height="12" fill="#2e2e2e"/><rect x="769" y="289" width="12" height="12" fill="#2e2e2e"/><rect x="609" y="299" width="12" height="12" fill="#5c5c5c"/><rect x="619" y="299" width="12" height="12" fill="#4c4c4c"/><rect x="629" y="299" width="12" height="12" fill="#6e6e6e"/><rect x="639" y="299" width="12" height="12" fill="#b2b2b2"/><rect x="649" y="299" width="12" height="12" fill="#5c5c5c"/><rect x="659" y="299" width="12" height="12" fill="#919191"/><rect x="669" y="299" width="12" height="12" fill="#808080"/><rect x="679" y="299" width="12" height="12" fill="#a1a1a1"/><rect x="689" y="299" width="12" height="12" fill="#4c4c4c"/><rect x="699" y="299" width="12" height="12" fill="#1f1f1f"/><rect x="709" y="299" width="12" height="12" fill="#1f1f1f"/><rect x="719" y="299" width="12" height="12" fill="#0f0f0f"/><rect x="729" y="299" width="12" height="12" fill="#1f1f1f"/><rect x="739" y="299" width="12" height="12" fill="#1f1f1f"/><rect x="749" y="299" width="12" height="12" fill="#1f1f1f"/><rect x="759" y="299" width="12" height="12" fill="#1f1f1f"/><rect x="769" y="299" width="12" height="12" fill="#1f1f1f"/><rect x="609" y="309" width="12" height="12" fill="#5c5c5c"/><rect x="619" y="309" width="12" height="12" fill="#5c5c5c"/><rect x="629" y="309" width="12" height="12" fill="#5c5c5c"/><rect x="639" y="309" width="12" height="12" fill="#6e6e6e"/><rect x="649" y="309" width="12" height="12" fill="#5c5c5c"/><rect x="659" y="309" width="12" height="12" fill="#6e6e6e"/><rect x="669" y="309" width="12" height="12" fill="#808080"/><rect x="679" y="309" width="12" height="12" fill="#5c5c5c"/><rect x="689" y="309" width="12" height="12" fill="#3d3d3d"/><rect x="699" y="309" width="12" height="12" fill="#1f1f1f"/><rect x="709" y="309" width="12" height="12" fill="#1f1f1f"/><rect x="719" y="309" width="12" height="12" fill="#1f1f1f"/><rect x="729" y="309" width="12" height="12" fill="#1f1f1f"/><rect x="739" y="309" width="12" height="12" fill="#1f1f1f"/><rect x="749" y="309" width="12" height="12" fill="#1f1f1f"/><rect x="759" y="309" width="12" height="12" fill="#1f1f1f"/></g></g>
<clipPath id="cp1"><rect x="615.5" y="95.0" width="235.8" height="215.8"/></clipPath>
<path clip-path="url(#cp1)" d="M615.6 96.5L691.8 96.5L693.9 97.0L694.8 98.7L697.5 99.8L700.0 100.0L702.8 100.3L705.3 100.1L707.8 101.7L709.7 102.7L711.6 103.2L714.7 105.5L717.9 104.1L719.7 105.1L724.1 105.1L726.6 106.0M726.6 106.0L724.1 107.9L721.0 109.3L717.9 112.1L714.7 114.4L711.6 117.2L711.0 117.6L712.8 118.1L716.0 116.7L718.5 115.8L719.4 118.5L721.6 119.3M721.6 119.3L724.8 117.6L727.9 116.7L731.0 115.3L734.8 112.5L737.6 111.1L735.4 114.4L734.2 116.7L737.9 116.2L740.4 119.9L744.8 120.4L749.2 118.4L752.4 117.6L755.5 117.4L755.8 119.9L758.0 120.4L760.5 119.9L761.1 122.2L763.0 124.0L761.8 124.9L759.3 124.6L757.4 125.6M757.4 125.6L755.5 124.5L752.4 123.6L749.2 124.9L747.3 125.8L745.5 127.6L744.5 125.8L742.6 126.7L740.8 129.0L739.2 132.6M739.2 132.6L737.9 135.2L736.7 137.4L738.3 136.1L740.4 133.4L743.3 130.8L741.7 134.3L739.8 137.9L739.5 141.4L738.6 144.5L737.3 149.2L737.6 151.4L737.9 155.2L738.9 159.5L739.7 162.0L741.1 162.7L743.0 162.3L744.1 161.5M744.1 161.5L746.1 158.6L747.7 155.7L748.0 151.8L747.3 147.5L746.1 144.0L746.4 140.5L748.0 137.0L748.9 134.3L751.4 131.7L752.1 134.3L751.7 135.7L753.3 133.4L754.2 130.8L755.2 129.9L755.8 127.2L757.1 126.5M757.1 126.5L759.9 127.6L762.4 129.4L765.5 133.0L766.2 136.1L765.9 139.6L764.3 141.8L762.4 143.1L762.1 145.3L764.3 144.0L766.2 142.3L768.4 141.8L770.6 142.7L771.2 146.6L771.7 150.9L771.2 154.4L769.0 156.1L767.4 156.9L767.1 159.1L765.5 160.8L765.2 161.8M765.2 161.8L768.0 163.3L769.9 164.1L772.4 164.3L776.2 163.7L778.7 161.6L781.8 160.3L783.6 159.7L786.2 158.2L788.4 157.2L791.3 155.2L793.8 152.2L792.8 150.9L792.8 148.7M792.8 148.7L796.3 147.8L800.0 147.8L803.2 148.6L806.0 148.5L808.8 147.1L810.7 146.4L810.7 143.1L810.1 141.4L812.6 139.2L816.4 135.2L819.8 133.4L828.6 133.4L840.2 133.4L842.7 130.8L844.3 131.2L845.8 128.1L848.0 124.9L847.7 122.6L849.6 118.1L854.3 111.1M855.9 141.4L850.9 144.0L848.3 145.3L846.1 148.4L845.2 150.3L844.5 152.1L845.8 154.0L843.6 155.7L843.0 156.9L845.2 159.5L846.5 161.3L849.6 162.0L849.9 160.3L849.0 159.1M845.8 163.3L844.0 162.9L842.6 163.7L841.4 164.1L840.5 164.5L838.0 165.2L835.2 165.6L831.4 165.8L828.3 167.1L826.7 167.9L825.8 169.1L824.5 170.4L822.9 172.0L824.5 172.5L824.2 175.3L823.9 178.2L822.0 181.5L819.5 184.3L818.5 184.9L818.9 182.7L817.0 181.5L815.1 179.4L815.7 181.9L816.4 184.3L817.6 186.1L817.9 188.8L817.6 190.0L816.7 192.4L815.4 194.0L814.2 196.3L812.3 199.1M824.5 171.2L827.6 171.2L833.9 169.1L837.9 167.3L834.5 167.9L830.8 168.3L826.4 169.1L824.5 171.2M812.3 199.1L812.6 195.6L812.0 190.8L810.1 188.4L810.7 185.1L812.0 181.9L811.3 179.9L809.5 182.7L808.8 186.8L809.5 190.0L810.1 192.8L809.5 195.6L810.1 198.7L810.1 200.7L812.0 200.9M810.1 192.8L808.2 191.2L805.7 190.0L804.4 188.4L805.4 185.9L804.4 184.3L802.6 182.7L800.5 183.3M814.2 192.8L816.7 192.1M808.8 190.0L806.3 189.2L807.6 190.8M809.5 198.3L806.3 197.9L808.2 196.3M812.0 200.9L812.3 202.7L812.8 203.8L813.5 206.6L814.8 209.7L815.3 211.6L815.0 214.2L813.5 214.5L811.6 215.5L808.8 218.3L807.6 218.2L805.1 218.4L803.2 219.7L801.3 221.2L799.7 224.6L798.2 224.1L796.0 224.6L793.8 226.2L791.9 228.8L790.6 231.1L787.5 232.9L785.6 234.4L783.7 236.3L781.4 238.2L780.0 240.0L779.0 242.2L778.7 244.4L777.8 248.1M812.8 203.8L810.1 205.8L812.0 208.1L808.8 209.7L812.0 211.2L809.5 214.3L811.6 215.5M777.8 248.1L778.7 251.8L780.2 255.5L782.5 260.4L784.5 265.7L786.2 271.9L787.4 277.2L788.1 283.1L787.8 288.7L787.4 294.7L783.1 288.8L780.2 284.5L778.7 282.4L777.3 278.7L775.9 274.7L775.1 271.4L773.1 269.7L771.4 267.1L770.6 264.7L769.2 262.0L768.7 259.0L767.8 255.5L764.9 253.2L761.1 252.5L759.3 253.6L757.4 254.7L755.5 255.7L753.3 255.5L753.0 253.9L751.1 252.3L748.6 250.7L746.1 250.3L743.6 250.3L741.7 250.7L739.7 251.2M739.7 251.2L737.9 251.4L736.7 251.5L737.3 248.8L736.4 248.2L736.1 250.3L734.2 250.4L731.7 250.3L729.8 250.5L727.9 251.0L727.0 251.8L726.0 252.5L726.6 253.9L727.9 255.0L728.5 257.6L730.4 259.0L729.5 260.4L727.9 259.7L726.0 258.3L724.1 259.0L722.9 259.9L721.0 259.7L719.1 260.1L716.6 259.0L716.0 258.3L714.1 256.1L712.2 256.5L709.7 256.5L707.2 256.1L704.1 254.9L700.1 255.4M726.0 252.5L723.5 250.7L721.3 251.8L723.5 253.1L725.4 252.1M700.1 255.4L697.8 256.1L694.7 257.9L693.4 258.6L690.9 260.8L687.8 261.9L685.2 264.0L682.7 266.2L680.5 268.0L679.1 270.1L678.0 272.6L677.4 275.4L677.1 278.2L676.5 280.3L676.2 281.4M676.2 281.4L674.0 281.0L671.8 280.3L668.9 278.9L665.9 275.9L663.9 272.6L661.5 268.7L658.9 264.7L657.0 261.2L654.3 257.0L652.0 254.7L649.9 253.2L647.6 253.6L645.5 254.1L643.2 256.8L641.3 259.0L639.6 258.5L636.9 256.8L634.4 254.7L632.4 252.7L630.0 249.6L627.5 246.3L625.1 243.9L622.5 241.8L620.6 240.1L614.4 240.1M636.0 96.5L636.0 167.9M636.0 125.0L683.0 125.0M615.6 133.4L636.0 133.4M636.0 150.9L670.8 150.9L674.0 152.2L677.7 152.2L680.2 153.1L682.7 154.4L683.7 155.3M615.6 167.9L648.6 167.9L648.6 176.2L690.9 176.2M648.6 176.2L648.6 200.3M615.6 200.3L695.2 200.3M642.6 200.3L642.6 238.5L619.9 238.5L620.0 239.3L620.6 240.1M642.6 204.2L661.4 204.2L661.4 219.2L663.3 220.5L665.2 220.6L667.7 222.0L670.2 222.4L673.3 223.1L675.8 224.3L679.0 225.0L680.9 223.9L682.7 224.6L685.2 225.4L687.8 224.6L690.9 224.4L693.4 225.4L696.0 226.2M696.0 226.2L696.4 212.8L695.2 204.2L695.2 200.3M696.0 226.2L698.8 226.9L698.8 230.9M698.8 230.9L698.8 238.5L699.7 240.0L701.6 243.7L701.9 245.9L700.9 249.6L700.8 252.5L700.1 255.4M698.8 230.9L716.8 231.1M716.8 231.1L717.2 234.0L718.2 236.3L716.6 239.3L715.4 241.5L714.1 244.4L713.9 245.9L725.8 245.9L725.7 248.5L726.6 250.3L727.0 251.8M716.8 231.1L717.2 228.0L717.6 225.8L718.8 223.5L720.4 220.5L722.3 217.8L723.5 215.1L724.8 212.0L726.0 210.1L726.0 208.1L727.0 205.0L727.3 204.2L729.2 203.4L729.5 200.5M726.0 208.1L721.8 208.1L723.2 204.2L695.2 204.2M695.2 200.3L695.2 183.5L693.4 180.3L692.1 177.4L690.9 176.2M690.9 176.2L687.9 171.4L687.4 167.1L686.8 163.7L685.9 160.3L684.3 157.8L683.7 155.3M687.9 171.4L713.3 171.2L715.2 173.0M683.7 155.3L682.7 151.8L683.7 146.6L683.7 130.8L683.0 128.1L683.0 125.0L682.1 119.9L681.5 115.3L680.9 110.7L679.6 106.0L679.3 101.3L678.8 96.5M683.7 146.6L716.5 146.6M716.5 146.6L716.9 150.9L718.5 153.5L720.1 155.2L721.6 157.8L723.1 161.2L721.9 163.3L719.7 163.9L717.6 166.2L717.2 169.6L715.2 173.0L715.0 176.2L716.6 179.4L719.4 182.7L721.3 184.7L722.9 186.8L722.9 190.0L724.8 192.8L727.3 195.6L727.3 198.7L729.5 200.5M716.5 146.6L716.0 144.0L713.5 140.5L709.7 137.9L706.6 135.7L706.9 132.6L706.6 129.0L709.7 124.5L709.7 118.5L711.0 117.6M720.1 155.2L737.9 155.2M721.6 119.3L723.5 120.8L727.3 122.6L731.0 123.6L736.1 124.9L737.6 127.2L737.9 129.9L739.2 132.6M739.7 162.0L739.6 181.1L739.2 183.1L739.8 185.9L738.3 188.4L737.0 190.8L736.4 194.0M729.5 200.5L732.9 199.5L733.9 197.1L736.1 196.3L736.4 194.0L739.2 192.8L742.3 194.0L745.5 193.2L747.3 191.6L749.2 192.4L750.5 190.4L753.0 187.2L755.5 186.3L756.6 183.5L758.6 183.5L760.5 185.9L764.3 187.2L767.4 187.2L770.6 189.0L773.1 187.6L774.0 184.7L775.9 183.5L777.8 181.5L780.6 179.9L781.8 177.8L782.5 175.3L783.1 172.9L783.6 170.9M756.6 162.0L756.6 183.5M744.1 161.5L756.6 161.5L765.2 161.8M783.6 159.7L783.6 178.5L813.3 178.5M790.1 178.5L790.1 182.7L792.5 180.7L794.4 179.4L797.2 179.0L799.4 179.4L800.5 183.3M800.5 183.3L798.8 182.7L796.9 184.3L794.1 186.3L791.9 188.8L789.4 190.8L787.5 193.2L785.3 195.6L783.1 196.7L780.6 197.9L777.5 198.3L774.5 196.0M774.5 196.0L772.4 194.8L771.2 191.6L770.6 189.0M774.5 196.0L771.8 198.7L768.7 200.7L763.7 203.4M727.3 204.2L736.2 204.2L736.2 202.8L763.8 203.4L776.3 203.5L812.8 203.8M776.3 203.5L774.9 205.8L772.4 207.4L768.7 208.5L764.9 211.6L761.8 213.6L759.8 215.9M759.8 215.9L723.2 215.9M759.8 215.9L767.4 215.9M767.4 215.9L769.3 215.1L771.8 214.3L780.3 214.7L781.0 215.1L781.8 217.2L788.9 217.4L796.0 224.6M767.4 215.9L769.3 218.9L770.9 222.0L773.1 225.4L774.9 228.0L777.1 230.7L778.7 234.0L780.0 237.0L781.4 238.2M751.7 215.9L754.2 231.1L755.5 234.8L755.2 238.5L754.9 242.2L755.5 245.9M755.5 245.9L756.4 248.0L773.1 249.1L774.0 250.7L774.3 248.8L775.6 247.7L777.8 248.1M739.2 251.0L739.2 245.9L755.5 245.9M735.4 215.9L736.1 223.5L735.1 228.8L733.7 239.3L734.2 250.4M788.4 157.2L788.4 159.5L816.0 159.5L817.6 161.2L819.5 164.1L820.1 165.0M820.1 165.0L825.1 167.9M820.1 165.0L817.6 168.3L817.0 171.2L818.2 172.9L819.8 174.5L817.6 176.6L815.7 177.8L814.8 179.4M813.3 178.5L814.5 177.5L815.7 177.8M813.3 178.5L813.3 188.8L817.9 188.8M828.6 133.4L828.6 137.9L828.3 145.8L829.2 153.1M829.2 153.1L827.6 159.1L827.6 166.2L826.7 167.9M840.2 133.4L839.2 136.1L837.1 139.6L835.2 144.5L834.5 149.2L833.6 153.3M829.2 153.1L841.4 153.5L843.3 152.2L844.5 152.1M842.8 130.8L843.3 137.9L843.6 144.0L845.2 150.3M827.6 159.1L838.3 159.3L840.9 159.3L840.9 160.3L842.1 162.0L842.6 163.7M838.3 159.3L838.0 165.2M617.0 96.5L617.0 240.1M850.6 116.2L850.6 146.6" fill="none" stroke="#000" stroke-width="2.8" stroke-linejoin="round" stroke-linecap="round"/>
<path clip-path="url(#cp1)" d="M812.1 201.4L813.6 201.0M812.4 202.5L809.5 203.3M812.8 204.0L810.0 204.8M813.8 207.3L812.6 207.7M814.4 208.8L810.6 210.3M814.9 210.1L818.2 209.3M815.1 213.1L817.6 213.4M814.9 214.2L813.3 210.2M813.1 214.9L812.5 213.6M810.5 216.6L809.3 215.5M809.3 217.8L807.6 216.1M808.7 218.3L808.7 217.1M805.7 218.4L805.6 215.8M804.0 219.2L802.4 216.9M802.5 220.7L799.5 218.6M801.8 221.6L804.3 223.4M800.8 223.1L802.5 224.3M800.5 223.6L802.6 225.0M799.4 224.6L799.5 221.8M796.6 224.6L796.7 220.7M794.8 225.8L796.4 227.3M793.8 226.8L791.5 224.6M792.1 228.6L788.8 225.4M791.2 229.5L792.0 230.4M790.1 230.5L793.3 234.0M789.4 231.2L791.1 233.0M788.6 231.9L786.7 229.9M787.3 233.1L788.2 234.0M786.1 234.2L784.8 232.7M783.9 236.1L783.0 235.2M783.1 236.8L785.9 240.2M781.6 238.1L780.3 236.5M781.1 238.7L784.9 240.9M780.5 239.8L779.1 238.9M779.6 241.2L777.2 239.7M778.9 242.6L778.0 242.4M778.6 244.2L781.7 244.9M778.2 246.2L781.1 246.8M777.9 247.6L779.1 247.9M782.3 287.7L778.8 290.2M781.7 286.8L783.8 285.4M780.5 285.1L781.5 284.4M780.0 284.2L781.5 283.5M779.4 283.0L780.3 282.6M778.6 281.5L780.8 280.4M777.4 278.9L780.3 277.4M777.2 278.3L779.4 277.7M776.8 277.1L772.7 278.3M776.2 275.1L778.9 274.3M775.9 274.2L778.1 273.5M775.2 271.7L776.7 271.2M773.9 270.1L776.2 268.1M773.2 269.2L774.0 268.5M771.5 267.1L768.2 269.9M771.2 266.7L773.4 265.7M770.1 264.1L767.4 265.3M769.7 263.2L768.0 263.9M768.9 260.4L764.7 261.3M768.6 259.0L772.3 258.2M768.3 257.9L770.6 257.4M768.1 257.1L770.2 256.6M766.8 254.7L769.6 251.0M764.9 253.3L762.1 257.1M764.2 253.1L764.5 251.3M762.6 252.8L762.3 254.5M726.7 253.7L722.5 253.1M727.3 255.1L723.7 257.0M728.2 256.9L732.2 254.9M729.9 258.6L728.2 260.9M728.4 259.6L729.1 261.7M726.1 259.4L726.5 256.9M724.2 259.0L724.9 255.3M723.9 259.0L724.3 260.6M721.1 259.6L721.4 261.2M719.2 260.1L718.4 256.7M718.3 259.6L719.0 258.3M716.0 258.3L717.8 255.3M714.6 257.7L713.6 260.2M713.3 257.2L714.0 255.5M712.6 256.9L713.4 255.1M711.0 256.4L711.2 253.8M707.4 256.1L707.6 253.8M847.7 146.2L844.1 143.6M846.2 148.2L843.9 146.5M845.7 149.4L844.7 148.9M845.1 150.7L846.0 151.1M844.7 152.4L846.9 150.7M844.6 154.9L843.2 153.1M843.3 156.4L839.7 154.6M843.6 157.7L842.2 158.9M845.0 159.2L842.7 161.1M693.7 258.5L691.5 254.6M692.6 259.3L690.7 257.1M691.3 260.5L689.5 258.4" fill="none" stroke="#000" stroke-width="1.5" stroke-linecap="round" stroke-linejoin="round"/>
<path clip-path="url(#cp1)" d="M812.0 200.9L812.8 203.8L813.5 206.6L814.8 209.7L815.3 211.6L815.0 214.2L811.6 215.5L808.8 218.3L805.1 218.4L803.2 219.7L799.7 224.6L796.0 224.6L791.9 228.8L787.5 232.9L783.7 236.3L781.4 238.2L779.0 242.2L777.8 248.1M783.1 288.8L780.2 284.5L777.3 278.7L775.1 271.4L771.4 267.1L769.2 262.0L767.8 255.5L764.9 253.2L761.1 252.5M727.0 251.8L726.6 253.9L728.5 257.6L730.4 259.0L727.9 259.7L724.1 259.0L719.1 260.1L716.0 258.3L711.6 256.5L707.2 256.1M848.3 145.3L846.1 148.4L845.2 150.3L844.5 152.1L845.8 154.0L843.6 155.7L843.0 156.9L845.2 159.5M694.7 257.9L693.4 258.6L690.9 260.8" fill="none" stroke="#000" stroke-width="3.6" stroke-linecap="round" stroke-linejoin="round"/>
<polygon points="802.0,180.0 807.0,178.5 813.0,178.0 818.0,180.0 821.0,184.0 821.0,190.0 820.0,198.0 819.0,205.0 819.5,212.0 817.0,216.0 812.0,213.0 808.0,208.0 806.0,202.0 803.0,196.0 800.0,190.0 800.5,184.0" fill="#000"/>
<polygon points="822.0,166.0 826.0,162.0 832.1,160.0 839.1,158.5 845.1,157.0 849.1,157.5 848.1,161.0 841.1,164.5 833.1,167.0 826.0,169.5 823.0,170.0" fill="#000"/>
<text x="567.1" y="112.7" font-size="12.6" font-weight="bold" fill="#262626" textLength="16.7" lengthAdjust="spacingAndGlyphs">48</text><circle cx="588.3" cy="99.9" r="1.55" fill="none" stroke="#262626" stroke-width="0.9"/><text x="596.4" y="112.7" font-size="12.6" font-weight="bold" fill="#262626" textLength="9.2" lengthAdjust="spacingAndGlyphs">N</text>
<text x="567.1" y="131.2" font-size="12.6" font-weight="bold" fill="#262626" textLength="16.7" lengthAdjust="spacingAndGlyphs">46</text><circle cx="588.3" cy="118.4" r="1.55" fill="none" stroke="#262626" stroke-width="0.9"/><text x="596.4" y="131.2" font-size="12.6" font-weight="bold" fill="#262626" textLength="9.2" lengthAdjust="spacingAndGlyphs">N</text>
<text x="567.1" y="149.0" font-size="12.6" font-weight="bold" fill="#262626" textLength="16.7" lengthAdjust="spacingAndGlyphs">44</text><circle cx="588.3" cy="136.2" r="1.55" fill="none" stroke="#262626" stroke-width="0.9"/><text x="596.4" y="149.0" font-size="12.6" font-weight="bold" fill="#262626" textLength="9.2" lengthAdjust="spacingAndGlyphs">N</text>
<text x="567.1" y="166.2" font-size="12.6" font-weight="bold" fill="#262626" textLength="16.7" lengthAdjust="spacingAndGlyphs">42</text><circle cx="588.3" cy="153.4" r="1.55" fill="none" stroke="#262626" stroke-width="0.9"/><text x="596.4" y="166.2" font-size="12.6" font-weight="bold" fill="#262626" textLength="9.2" lengthAdjust="spacingAndGlyphs">N</text>
<text x="567.1" y="182.9" font-size="12.6" font-weight="bold" fill="#262626" textLength="16.7" lengthAdjust="spacingAndGlyphs">40</text><circle cx="588.3" cy="170.1" r="1.55" fill="none" stroke="#262626" stroke-width="0.9"/><text x="596.4" y="182.9" font-size="12.6" font-weight="bold" fill="#262626" textLength="9.2" lengthAdjust="spacingAndGlyphs">N</text>
<text x="567.1" y="199.1" font-size="12.6" font-weight="bold" fill="#262626" textLength="16.7" lengthAdjust="spacingAndGlyphs">38</text><circle cx="588.3" cy="186.3" r="1.55" fill="none" stroke="#262626" stroke-width="0.9"/><text x="596.4" y="199.1" font-size="12.6" font-weight="bold" fill="#262626" textLength="9.2" lengthAdjust="spacingAndGlyphs">N</text>
<text x="567.1" y="214.8" font-size="12.6" font-weight="bold" fill="#262626" textLength="16.7" lengthAdjust="spacingAndGlyphs">36</text><circle cx="588.3" cy="202.0" r="1.55" fill="none" stroke="#262626" stroke-width="0.9"/><text x="596.4" y="214.8" font-size="12.6" font-weight="bold" fill="#262626" textLength="9.2" lengthAdjust="spacingAndGlyphs">N</text>
<text x="567.1" y="230.2" font-size="12.6" font-weight="bold" fill="#262626" textLength="16.7" lengthAdjust="spacingAndGlyphs">34</text><circle cx="588.3" cy="217.4" r="1.55" fill="none" stroke="#262626" stroke-width="0.9"/><text x="596.4" y="230.2" font-size="12.6" font-weight="bold" fill="#262626" textLength="9.2" lengthAdjust="spacingAndGlyphs">N</text>
<text x="567.1" y="245.2" font-size="12.6" font-weight="bold" fill="#262626" textLength="16.7" lengthAdjust="spacingAndGlyphs">32</text><circle cx="588.3" cy="232.4" r="1.55" fill="none" stroke="#262626" stroke-width="0.9"/><text x="596.4" y="245.2" font-size="12.6" font-weight="bold" fill="#262626" textLength="9.2" lengthAdjust="spacingAndGlyphs">N</text>
<text x="567.1" y="259.9" font-size="12.6" font-weight="bold" fill="#262626" textLength="16.7" lengthAdjust="spacingAndGlyphs">30</text><circle cx="588.3" cy="247.1" r="1.55" fill="none" stroke="#262626" stroke-width="0.9"/><text x="596.4" y="259.9" font-size="12.6" font-weight="bold" fill="#262626" textLength="9.2" lengthAdjust="spacingAndGlyphs">N</text>
<text x="567.1" y="274.3" font-size="12.6" font-weight="bold" fill="#262626" textLength="16.7" lengthAdjust="spacingAndGlyphs">28</text><circle cx="588.3" cy="261.5" r="1.55" fill="none" stroke="#262626" stroke-width="0.9"/><text x="596.4" y="274.3" font-size="12.6" font-weight="bold" fill="#262626" textLength="9.2" lengthAdjust="spacingAndGlyphs">N</text>
<text x="567.1" y="288.4" font-size="12.6" font-weight="bold" fill="#262626" textLength="16.7" lengthAdjust="spacingAndGlyphs">26</text><circle cx="588.3" cy="275.6" r="1.55" fill="none" stroke="#262626" stroke-width="0.9"/><text x="596.4" y="288.4" font-size="12.6" font-weight="bold" fill="#262626" textLength="9.2" lengthAdjust="spacingAndGlyphs">N</text>
<text x="567.1" y="302.3" font-size="12.6" font-weight="bold" fill="#262626" textLength="16.7" lengthAdjust="spacingAndGlyphs">24</text><circle cx="588.3" cy="289.5" r="1.55" fill="none" stroke="#262626" stroke-width="0.9"/><text x="596.4" y="302.3" font-size="12.6" font-weight="bold" fill="#262626" textLength="9.2" lengthAdjust="spacingAndGlyphs">N</text>
<text x="567.1" y="316.0" font-size="12.6" font-weight="bold" fill="#262626" textLength="16.7" lengthAdjust="spacingAndGlyphs">22</text><circle cx="588.3" cy="303.2" r="1.55" fill="none" stroke="#262626" stroke-width="0.9"/><text x="596.4" y="316.0" font-size="12.6" font-weight="bold" fill="#262626" textLength="9.2" lengthAdjust="spacingAndGlyphs">N</text>
<text x="636.6" y="76.8" font-size="12.6" font-weight="bold" fill="#262626" textLength="24.4" lengthAdjust="spacingAndGlyphs">100</text><circle cx="665.6" cy="64.0" r="1.55" fill="none" stroke="#262626" stroke-width="0.9"/><text x="673.4" y="76.8" font-size="12.6" font-weight="bold" fill="#262626" textLength="12.4" lengthAdjust="spacingAndGlyphs">W</text>
<text x="705.9" y="76.8" font-size="12.6" font-weight="bold" fill="#262626" textLength="16.4" lengthAdjust="spacingAndGlyphs">90</text><circle cx="726.9" cy="64.0" r="1.55" fill="none" stroke="#262626" stroke-width="0.9"/><text x="734.7" y="76.8" font-size="12.6" font-weight="bold" fill="#262626" textLength="12.4" lengthAdjust="spacingAndGlyphs">W</text>
<text x="770.1" y="76.8" font-size="12.6" font-weight="bold" fill="#262626" textLength="16.4" lengthAdjust="spacingAndGlyphs">80</text><circle cx="791.1" cy="64.0" r="1.55" fill="none" stroke="#262626" stroke-width="0.9"/><text x="798.9" y="76.8" font-size="12.6" font-weight="bold" fill="#262626" textLength="12.4" lengthAdjust="spacingAndGlyphs">W</text>
<text x="833.0" y="76.8" font-size="12.6" font-weight="bold" fill="#262626" textLength="16.4" lengthAdjust="spacingAndGlyphs">70</text><circle cx="854.0" cy="64.0" r="1.55" fill="none" stroke="#262626" stroke-width="0.9"/><text x="861.8" y="76.8" font-size="12.6" font-weight="bold" fill="#262626" textLength="12.4" lengthAdjust="spacingAndGlyphs">W</text>
<text x="728.5" y="340.7" font-size="22.4" font-weight="bold" fill="#262626" text-anchor="middle" textLength="364.5" lengthAdjust="spacingAndGlyphs">SAT+RAP 700 hPa MR (g/kg)</text>
<rect x="862.0" y="95.2" width="23.7" height="215.2" fill="url(#jet)" stroke="#262626" stroke-width="0.8"/>
<line x1="882.7" x2="885.7" y1="310.4" y2="310.4" stroke="#262626" stroke-width="0.8"/><text x="895.3" y="317.9" font-size="21.4" font-weight="bold" fill="#262626" textLength="13.0" lengthAdjust="spacingAndGlyphs">0</text>
<line x1="882.7" x2="885.7" y1="262.4" y2="262.4" stroke="#262626" stroke-width="0.8"/><text x="895.3" y="269.9" font-size="21.4" font-weight="bold" fill="#262626" textLength="13.0" lengthAdjust="spacingAndGlyphs">1</text>
<line x1="882.7" x2="885.7" y1="214.3" y2="214.3" stroke="#262626" stroke-width="0.8"/><text x="895.3" y="221.8" font-size="21.4" font-weight="bold" fill="#262626" textLength="13.0" lengthAdjust="spacingAndGlyphs">2</text>
<line x1="882.7" x2="885.7" y1="166.3" y2="166.3" stroke="#262626" stroke-width="0.8"/><text x="895.3" y="173.8" font-size="21.4" font-weight="bold" fill="#262626" textLength="13.0" lengthAdjust="spacingAndGlyphs">3</text>
<line x1="882.7" x2="885.7" y1="118.3" y2="118.3" stroke="#262626" stroke-width="0.8"/><text x="895.3" y="125.8" font-size="21.4" font-weight="bold" fill="#262626" textLength="13.0" lengthAdjust="spacingAndGlyphs">4</text>
</g>
<g>
<rect x="1038.0" y="95.7" width="234.4" height="214.6" fill="none" stroke="#000" stroke-width="1.2"/>
<clipPath id="sw2"><polygon points="1054.1,94.6 1054.8,93.9 1055.5,93.2 1056.2,92.8 1056.9,92.5 1057.6,92.5 1058.3,92.8 1059.0,93.2 1059.7,93.9 1060.4,94.6 1061.1,93.9 1061.8,93.2 1062.5,92.8 1063.3,92.5 1064.0,92.5 1064.7,92.8 1065.4,93.2 1066.1,93.9 1066.8,94.6 1067.5,93.9 1068.2,93.2 1068.9,92.8 1069.6,92.5 1070.3,92.5 1071.0,92.8 1071.7,93.2 1072.4,93.9 1073.1,94.6 1073.8,93.9 1074.5,93.2 1075.2,92.8 1075.9,92.5 1076.6,92.5 1077.3,92.8 1078.0,93.2 1078.7,93.9 1079.4,94.6 1080.2,93.9 1080.9,93.2 1081.6,92.8 1082.3,92.5 1083.0,92.5 1083.7,92.8 1084.4,93.2 1085.1,93.9 1085.8,94.6 1086.5,93.9 1087.2,93.2 1087.9,92.8 1088.6,92.5 1089.3,92.5 1090.0,92.8 1090.7,93.2 1091.4,93.9 1092.1,94.6 1092.8,93.9 1093.5,93.2 1094.2,92.8 1094.9,92.5 1095.6,92.5 1096.3,92.8 1097.1,93.2 1097.8,93.9 1098.5,94.6 1099.2,93.9 1099.9,93.2 1100.6,92.8 1101.3,92.5 1102.0,92.5 1102.7,92.8 1103.4,93.2 1104.1,93.9 1104.8,94.6 1105.5,93.9 1106.2,93.2 1106.9,92.8 1107.6,92.5 1108.3,92.5 1109.0,92.8 1109.7,93.2 1110.4,93.9 1111.1,94.6 1111.8,93.9 1112.5,93.2 1113.2,92.8 1114.0,92.5 1114.7,92.5 1115.4,92.8 1116.1,93.2 1116.8,93.9 1117.5,94.6 1118.2,93.9 1118.9,93.2 1119.6,92.8 1120.3,92.5 1121.0,92.5 1121.7,92.8 1122.4,93.2 1123.1,93.9 1123.8,94.6 1124.5,93.9 1125.2,93.2 1125.9,92.8 1126.6,92.5 1127.3,92.5 1128.0,92.8 1128.7,93.2 1129.4,93.9 1130.2,94.6 1130.9,93.9 1131.6,93.2 1132.3,92.8 1133.0,92.5 1133.7,92.5 1134.4,92.8 1135.1,93.2 1135.8,93.9 1136.5,94.6 1137.2,93.9 1137.9,93.2 1138.6,92.8 1139.3,92.5 1140.0,92.5 1140.7,92.8 1141.4,93.2 1142.1,93.9 1142.8,94.6 1143.5,93.9 1144.2,93.2 1144.9,92.8 1145.6,92.5 1146.3,92.5 1147.1,92.8 1147.8,93.2 1148.5,93.9 1149.2,94.6 1149.9,93.9 1150.6,93.2 1151.3,92.8 1152.0,92.5 1152.7,92.5 1153.4,92.8 1154.1,93.2 1154.8,93.9 1155.5,94.6 1156.2,93.9 1156.9,93.2 1157.6,92.8 1158.3,92.5 1159.0,92.5 1159.7,92.8 1160.4,93.2 1161.1,93.9 1161.8,94.6 1162.5,93.9 1163.2,93.2 1164.0,92.8 1164.7,92.5 1165.4,92.5 1166.1,92.8 1166.8,93.2 1167.5,93.9 1168.2,94.6 1168.9,93.9 1169.6,93.2 1170.3,92.8 1171.0,92.5 1171.7,92.5 1172.4,92.8 1173.1,93.2 1173.8,93.9 1174.5,94.6 1175.2,93.9 1175.9,93.2 1176.6,92.8 1177.3,92.5 1178.0,92.5 1178.7,92.8 1179.4,93.2 1180.1,93.9 1180.9,94.6 1181.6,93.9 1182.3,93.2 1183.0,92.8 1183.7,92.5 1184.4,92.5 1185.1,92.8 1185.8,93.2 1186.5,93.9 1187.2,94.6 1187.9,93.9 1188.6,93.2 1189.3,92.8 1190.0,92.5 1190.7,92.5 1191.4,92.8 1192.1,93.2 1192.8,93.9 1193.5,94.6 1194.2,93.9 1194.9,93.2 1195.6,92.8 1196.3,92.5 1197.0,92.5 1197.8,92.8 1198.5,93.2 1199.2,93.9 1199.9,94.6 1200.6,93.9 1201.3,93.2 1202.0,92.8 1202.7,92.5 1203.4,92.5 1204.1,92.8 1204.8,93.2 1205.5,93.9 1206.2,94.6 1206.9,93.9 1207.6,93.2 1208.3,92.8 1209.0,92.5 1209.7,92.5 1210.4,92.8 1211.1,93.2 1211.8,93.9 1212.5,94.6 1213.2,93.9 1214.0,93.2 1214.7,92.8 1215.4,92.5 1216.1,92.5 1216.8,92.8 1217.5,93.2 1218.2,93.9 1218.9,94.6 1219.6,93.9 1220.3,93.2 1221.0,92.8 1221.7,92.5 1222.4,92.5 1223.1,92.8 1223.8,93.2 1224.5,93.9 1225.2,94.6 1225.9,93.9 1226.6,93.2 1227.3,92.8 1228.0,92.5 1228.7,92.5 1229.4,92.8 1230.1,93.2 1230.9,93.9 1231.6,94.6 1232.3,93.9 1233.0,93.2 1233.7,92.8 1234.4,92.5 1235.1,92.5 1235.8,92.8 1236.5,93.2 1237.2,93.9 1237.9,94.6 1238.6,93.9 1239.3,93.2 1240.0,92.8 1240.7,92.5 1241.4,92.5 1242.1,92.8 1242.8,93.2 1243.5,93.9 1244.2,94.6 1244.9,93.9 1245.6,93.2 1246.3,92.8 1247.0,92.5 1247.8,92.5 1248.5,92.8 1249.2,93.2 1249.9,93.9 1250.6,94.6 1251.3,93.9 1252.0,93.2 1231.2,142.0 1213.5,177.2 1201.9,206.5 1191.1,237.8 1185.1,252.1 1168.0,307.9 1166.8,311.5 1166.8,312.4 1166.1,313.0 1165.4,313.4 1164.7,313.6 1164.0,313.6 1163.2,313.3 1162.5,312.8 1161.8,312.2 1161.1,311.7 1160.4,312.4 1159.7,313.0 1159.0,313.4 1158.3,313.6 1157.6,313.6 1156.9,313.3 1156.2,312.8 1155.5,312.2 1154.8,311.7 1154.1,312.4 1153.4,313.0 1152.7,313.4 1152.0,313.6 1151.3,313.6 1150.6,313.3 1149.9,312.8 1149.2,312.2 1148.5,311.7 1147.8,312.4 1147.1,313.0 1146.3,313.4 1145.6,313.6 1144.9,313.6 1144.2,313.3 1143.5,312.8 1142.8,312.2 1142.1,311.7 1141.4,312.4 1140.7,313.0 1140.0,313.4 1139.3,313.6 1138.6,313.6 1137.9,313.3 1137.2,312.8 1136.5,312.2 1135.8,311.7 1135.1,312.4 1134.4,313.0 1133.7,313.4 1133.0,313.6 1132.3,313.6 1131.6,313.3 1130.9,312.8 1130.2,312.2 1129.4,311.7 1128.7,312.4 1128.0,313.0 1127.3,313.4 1126.6,313.6 1125.9,313.6 1125.2,313.3 1124.5,312.8 1123.8,312.2 1123.1,311.7 1122.4,312.4 1121.7,313.0 1121.0,313.4 1120.3,313.6 1119.6,313.6 1118.9,313.3 1118.2,312.8 1117.5,312.2 1116.8,311.7 1116.1,312.4 1115.4,313.0 1114.7,313.4 1114.0,313.6 1113.2,313.6 1112.5,313.3 1111.8,312.8 1111.1,312.2 1110.4,311.7 1109.7,312.4 1109.0,313.0 1108.3,313.4 1107.6,313.6 1106.9,313.6 1106.2,313.3 1105.5,312.8 1104.8,312.2 1104.1,311.7 1103.4,312.4 1102.7,313.0 1102.0,313.4 1101.3,313.6 1100.6,313.6 1099.9,313.3 1099.2,312.8 1098.5,312.2 1097.8,311.7 1097.1,312.4 1096.3,313.0 1095.6,313.4 1094.9,313.6 1094.2,313.6 1093.5,313.3 1092.8,312.8 1092.1,312.2 1091.4,311.7 1090.7,312.4 1090.0,313.0 1089.3,313.4 1088.6,313.6 1087.9,313.6 1087.2,313.3 1086.5,312.8 1085.8,312.2 1085.1,311.7 1084.4,312.4 1083.7,313.0 1083.0,313.4 1082.3,313.6 1081.6,313.6 1080.9,313.3 1080.2,312.8 1079.4,312.2 1078.7,311.7 1078.0,312.4 1077.3,313.0 1076.6,313.4 1075.9,313.6 1075.2,313.6 1074.5,313.3 1073.8,312.8 1073.1,312.2 1072.4,311.7 1071.7,312.4 1071.0,313.0 1070.3,313.4 1069.6,313.6 1068.9,313.6 1068.2,313.3 1067.5,312.8 1066.8,312.2 1066.1,311.7 1065.4,312.4 1064.7,313.0 1064.0,313.4 1063.3,313.6 1062.5,313.6 1061.8,313.3 1061.1,312.8 1060.4,312.2 1059.7,311.7 1059.0,312.4 1058.3,313.0 1057.6,313.4 1056.9,313.6 1056.2,313.6 1055.5,313.3 1054.8,312.8 1054.1,312.2 1053.4,311.7 1052.7,312.4 1052.0,313.0 1051.3,313.4 1050.6,313.6 1049.9,313.6 1049.2,313.3 1048.5,312.8 1047.8,312.2 1047.1,311.7 1046.3,312.4 1045.6,313.0 1044.9,313.4 1044.2,313.6 1043.5,313.6 1042.8,313.3 1042.1,312.8 1041.4,312.2 1040.7,311.7 1040.0,312.4 1039.3,313.0 1038.6,313.4 1037.9,313.6 1037.2,313.6 1036.5,313.3 1035.8,312.8 1035.1,312.2 1034.5,300.9 1035.5,270.7 1037.5,241.4 1040.0,220.2 1042.5,200.1 1044.0,182.9 1046.0,164.8 1047.6,149.7 1049.6,129.5 1051.6,109.3 1054.1,94.6"/></clipPath>
<g clip-path="url(#sw2)"><g filter="url(#jf)"><rect x="1030" y="88" width="12" height="12" fill="#1f1f1f"/><rect x="1040" y="88" width="12" height="12" fill="#1f1f1f"/><rect x="1050" y="88" width="12" height="12" fill="#1f1f1f"/><rect x="1060" y="88" width="12" height="12" fill="#1f1f1f"/><rect x="1070" y="88" width="12" height="12" fill="#1f1f1f"/><rect x="1080" y="88" width="12" height="12" fill="#1f1f1f"/><rect x="1090" y="88" width="12" height="12" fill="#1f1f1f"/><rect x="1100" y="88" width="12" height="12" fill="#4c4c4c"/><rect x="1110" y="88" width="12" height="12" fill="#4c4c4c"/><rect x="1120" y="88" width="12" height="12" fill="#4c4c4c"/><rect x="1130" y="88" width="12" height="12" fill="#3d3d3d"/><rect x="1140" y="88" width="12" height="12" fill="#3d3d3d"/><rect x="1150" y="88" width="12" height="12" fill="#2e2e2e"/><rect x="1160" y="88" width="12" height="12" fill="#1f1f1f"/><rect x="1170" y="88" width="12" height="12" fill="#1f1f1f"/><rect x="1180" y="88" width="12" height="12" fill="#1f1f1f"/><rect x="1190" y="88" width="12" height="12" fill="#1f1f1f"/><rect x="1200" y="88" width="12" height="12" fill="#1f1f1f"/><rect x="1210" y="88" width="12" height="12" fill="#1f1f1f"/><rect x="1220" y="88" width="12" height="12" fill="#1f1f1f"/><rect x="1230" y="88" width="12" height="12" fill="#1f1f1f"/><rect x="1240" y="88" width="12" height="12" fill="#1f1f1f"/><rect x="1250" y="88" width="12" height="12" fill="#1f1f1f"/><rect x="1260" y="88" width="12" height="12" fill="#1f1f1f"/><rect x="1270" y="88" width="12" height="12" fill="#1f1f1f"/><rect x="1030" y="98" width="12" height="12" fill="#2e2e2e"/><rect x="1040" y="98" width="12" height="12" fill="#2e2e2e"/><rect x="1050" y="98" width="12" height="12" fill="#2e2e2e"/><rect x="1060" y="98" width="12" height="12" fill="#1f1f1f"/><rect x="1070" y="98" width="12" height="12" fill="#1f1f1f"/><rect x="1080" y="98" width="12" height="12" fill="#1f1f1f"/><rect x="1090" y="98" width="12" height="12" fill="#1f1f1f"/><rect x="1100" y="98" width="12" height="12" fill="#5c5c5c"/><rect x="1110" y="98" width="12" height="12" fill="#5c5c5c"/><rect x="1120" y="98" width="12" height="12" fill="#4c4c4c"/><rect x="1130" y="98" width="12" height="12" fill="#3d3d3d"/><rect x="1140" y="98" width="12" height="12" fill="#3d3d3d"/><rect x="1150" y="98" width="12" height="12" fill="#3d3d3d"/><rect x="1160" y="98" width="12" height="12" fill="#2e2e2e"/><rect x="1170" y="98" width="12" height="12" fill="#2e2e2e"/><rect x="1180" y="98" width="12" height="12" fill="#1f1f1f"/><rect x="1190" y="98" width="12" height="12" fill="#1f1f1f"/><rect x="1200" y="98" width="12" height="12" fill="#1f1f1f"/><rect x="1210" y="98" width="12" height="12" fill="#1f1f1f"/><rect x="1220" y="98" width="12" height="12" fill="#1f1f1f"/><rect x="1230" y="98" width="12" height="12" fill="#1f1f1f"/><rect x="1240" y="98" width="12" height="12" fill="#1f1f1f"/><rect x="1250" y="98" width="12" height="12" fill="#1f1f1f"/><rect x="1260" y="98" width="12" height="12" fill="#1f1f1f"/><rect x="1270" y="98" width="12" height="12" fill="#1f1f1f"/><rect x="1030" y="108" width="12" height="12" fill="#3d3d3d"/><rect x="1040" y="108" width="12" height="12" fill="#3d3d3d"/><rect x="1050" y="108" width="12" height="12" fill="#3d3d3d"/><rect x="1060" y="108" width="12" height="12" fill="#2e2e2e"/><rect x="1070" y="108" width="12" height="12" fill="#3d3d3d"/><rect x="1080" y="108" width="12" height="12" fill="#2e2e2e"/><rect x="1090" y="108" width="12" height="12" fill="#2e2e2e"/><rect x="1100" y="108" width="12" height="12" fill="#3d3d3d"/><rect x="1110" y="108" width="12" height="12" fill="#5c5c5c"/><rect x="1120" y="108" width="12" height="12" fill="#3d3d3d"/><rect x="1130" y="108" width="12" height="12" fill="#2e2e2e"/><rect x="1140" y="108" width="12" height="12" fill="#2e2e2e"/><rect x="1150" y="108" width="12" height="12" fill="#3d3d3d"/><rect x="1160" y="108" width="12" height="12" fill="#2e2e2e"/><rect x="1170" y="108" width="12" height="12" fill="#2e2e2e"/><rect x="1180" y="108" width="12" height="12" fill="#1f1f1f"/><rect x="1190" y="108" width="12" height="12" fill="#1f1f1f"/><rect x="1200" y="108" width="12" height="12" fill="#1f1f1f"/><rect x="1210" y="108" width="12" height="12" fill="#1f1f1f"/><rect x="1220" y="108" width="12" height="12" fill="#1f1f1f"/><rect x="1230" y="108" width="12" height="12" fill="#1f1f1f"/><rect x="1240" y="108" width="12" height="12" fill="#1f1f1f"/><rect x="1250" y="108" width="12" height="12" fill="#1f1f1f"/><rect x="1260" y="108" width="12" height="12" fill="#1f1f1f"/><rect x="1030" y="118" width="12" height="12" fill="#4c4c4c"/><rect x="1040" y="118" width="12" height="12" fill="#4c4c4c"/><rect x="1050" y="118" width="12" height="12" fill="#4c4c4c"/><rect x="1060" y="118" width="12" height="12" fill="#3d3d3d"/><rect x="1070" y="118" width="12" height="12" fill="#4c4c4c"/><rect x="1080" y="118" width="12" height="12" fill="#3d3d3d"/><rect x="1090" y="118" width="12" height="12" fill="#3d3d3d"/><rect x="1100" y="118" width="12" height="12" fill="#2e2e2e"/><rect x="1110" y="118" width="12" height="12" fill="#3d3d3d"/><rect x="1120" y="118" width="12" height="12" fill="#2e2e2e"/><rect x="1130" y="118" width="12" height="12" fill="#2e2e2e"/><rect x="1140" y="118" width="12" height="12" fill="#2e2e2e"/><rect x="1150" y="118" width="12" height="12" fill="#3d3d3d"/><rect x="1160" y="118" width="12" height="12" fill="#3d3d3d"/><rect x="1170" y="118" width="12" height="12" fill="#3d3d3d"/><rect x="1180" y="118" width="12" height="12" fill="#2e2e2e"/><rect x="1190" y="118" width="12" height="12" fill="#2e2e2e"/><rect x="1200" y="118" width="12" height="12" fill="#1f1f1f"/><rect x="1210" y="118" width="12" height="12" fill="#1f1f1f"/><rect x="1220" y="118" width="12" height="12" fill="#1f1f1f"/><rect x="1230" y="118" width="12" height="12" fill="#1f1f1f"/><rect x="1240" y="118" width="12" height="12" fill="#1f1f1f"/><rect x="1250" y="118" width="12" height="12" fill="#1f1f1f"/><rect x="1260" y="118" width="12" height="12" fill="#1f1f1f"/><rect x="1030" y="128" width="12" height="12" fill="#4c4c4c"/><rect x="1040" y="128" width="12" height="12" fill="#4c4c4c"/><rect x="1050" y="128" width="12" height="12" fill="#4c4c4c"/><rect x="1060" y="128" width="12" height="12" fill="#4c4c4c"/><rect x="1070" y="128" width="12" height="12" fill="#4c4c4c"/><rect x="1080" y="128" width="12" height="12" fill="#5c5c5c"/><rect x="1090" y="128" width="12" height="12" fill="#4c4c4c"/><rect x="1100" y="128" width="12" height="12" fill="#2e2e2e"/><rect x="1110" y="128" width="12" height="12" fill="#2e2e2e"/><rect x="1120" y="128" width="12" height="12" fill="#2e2e2e"/><rect x="1130" y="128" width="12" height="12" fill="#2e2e2e"/><rect x="1140" y="128" width="12" height="12" fill="#2e2e2e"/><rect x="1150" y="128" width="12" height="12" fill="#2e2e2e"/><rect x="1160" y="128" width="12" height="12" fill="#2e2e2e"/><rect x="1170" y="128" width="12" height="12" fill="#3d3d3d"/><rect x="1180" y="128" width="12" height="12" fill="#2e2e2e"/><rect x="1190" y="128" width="12" height="12" fill="#2e2e2e"/><rect x="1200" y="128" width="12" height="12" fill="#2e2e2e"/><rect x="1210" y="128" width="12" height="12" fill="#2e2e2e"/><rect x="1220" y="128" width="12" height="12" fill="#1f1f1f"/><rect x="1230" y="128" width="12" height="12" fill="#1f1f1f"/><rect x="1240" y="128" width="12" height="12" fill="#1f1f1f"/><rect x="1250" y="128" width="12" height="12" fill="#1f1f1f"/><rect x="1030" y="138" width="12" height="12" fill="#3d3d3d"/><rect x="1040" y="138" width="12" height="12" fill="#3d3d3d"/><rect x="1050" y="138" width="12" height="12" fill="#3d3d3d"/><rect x="1060" y="138" width="12" height="12" fill="#3d3d3d"/><rect x="1070" y="138" width="12" height="12" fill="#4c4c4c"/><rect x="1080" y="138" width="12" height="12" fill="#4c4c4c"/><rect x="1090" y="138" width="12" height="12" fill="#3d3d3d"/><rect x="1100" y="138" width="12" height="12" fill="#2e2e2e"/><rect x="1110" y="138" width="12" height="12" fill="#1f1f1f"/><rect x="1120" y="138" width="12" height="12" fill="#1f1f1f"/><rect x="1130" y="138" width="12" height="12" fill="#1f1f1f"/><rect x="1140" y="138" width="12" height="12" fill="#1f1f1f"/><rect x="1150" y="138" width="12" height="12" fill="#2e2e2e"/><rect x="1160" y="138" width="12" height="12" fill="#2e2e2e"/><rect x="1170" y="138" width="12" height="12" fill="#2e2e2e"/><rect x="1180" y="138" width="12" height="12" fill="#2e2e2e"/><rect x="1190" y="138" width="12" height="12" fill="#2e2e2e"/><rect x="1200" y="138" width="12" height="12" fill="#2e2e2e"/><rect x="1210" y="138" width="12" height="12" fill="#2e2e2e"/><rect x="1220" y="138" width="12" height="12" fill="#1f1f1f"/><rect x="1230" y="138" width="12" height="12" fill="#1f1f1f"/><rect x="1240" y="138" width="12" height="12" fill="#1f1f1f"/><rect x="1250" y="138" width="12" height="12" fill="#1f1f1f"/><rect x="1030" y="148" width="12" height="12" fill="#2e2e2e"/><rect x="1040" y="148" width="12" height="12" fill="#2e2e2e"/><rect x="1050" y="148" width="12" height="12" fill="#2e2e2e"/><rect x="1060" y="148" width="12" height="12" fill="#1f1f1f"/><rect x="1070" y="148" width="12" height="12" fill="#1f1f1f"/><rect x="1080" y="148" width="12" height="12" fill="#1f1f1f"/><rect x="1090" y="148" width="12" height="12" fill="#1f1f1f"/><rect x="1100" y="148" width="12" height="12" fill="#2e2e2e"/><rect x="1110" y="148" width="12" height="12" fill="#1f1f1f"/><rect x="1120" y="148" width="12" height="12" fill="#1f1f1f"/><rect x="1130" y="148" width="12" height="12" fill="#2e2e2e"/><rect x="1140" y="148" width="12" height="12" fill="#1f1f1f"/><rect x="1150" y="148" width="12" height="12" fill="#2e2e2e"/><rect x="1160" y="148" width="12" height="12" fill="#2e2e2e"/><rect x="1170" y="148" width="12" height="12" fill="#2e2e2e"/><rect x="1180" y="148" width="12" height="12" fill="#2e2e2e"/><rect x="1190" y="148" width="12" height="12" fill="#2e2e2e"/><rect x="1200" y="148" width="12" height="12" fill="#2e2e2e"/><rect x="1210" y="148" width="12" height="12" fill="#2e2e2e"/><rect x="1220" y="148" width="12" height="12" fill="#1f1f1f"/><rect x="1230" y="148" width="12" height="12" fill="#1f1f1f"/><rect x="1240" y="148" width="12" height="12" fill="#1f1f1f"/><rect x="1030" y="158" width="12" height="12" fill="#2e2e2e"/><rect x="1040" y="158" width="12" height="12" fill="#2e2e2e"/><rect x="1050" y="158" width="12" height="12" fill="#2e2e2e"/><rect x="1060" y="158" width="12" height="12" fill="#1f1f1f"/><rect x="1070" y="158" width="12" height="12" fill="#1f1f1f"/><rect x="1080" y="158" width="12" height="12" fill="#1f1f1f"/><rect x="1090" y="158" width="12" height="12" fill="#1f1f1f"/><rect x="1100" y="158" width="12" height="12" fill="#2e2e2e"/><rect x="1110" y="158" width="12" height="12" fill="#2e2e2e"/><rect x="1120" y="158" width="12" height="12" fill="#1f1f1f"/><rect x="1130" y="158" width="12" height="12" fill="#2e2e2e"/><rect x="1140" y="158" width="12" height="12" fill="#3d3d3d"/><rect x="1150" y="158" width="12" height="12" fill="#1f1f1f"/><rect x="1160" y="158" width="12" height="12" fill="#1f1f1f"/><rect x="1170" y="158" width="12" height="12" fill="#2e2e2e"/><rect x="1180" y="158" width="12" height="12" fill="#1f1f1f"/><rect x="1190" y="158" width="12" height="12" fill="#1f1f1f"/><rect x="1200" y="158" width="12" height="12" fill="#1f1f1f"/><rect x="1210" y="158" width="12" height="12" fill="#1f1f1f"/><rect x="1220" y="158" width="12" height="12" fill="#1f1f1f"/><rect x="1230" y="158" width="12" height="12" fill="#1f1f1f"/><rect x="1240" y="158" width="12" height="12" fill="#1f1f1f"/><rect x="1030" y="168" width="12" height="12" fill="#2e2e2e"/><rect x="1040" y="168" width="12" height="12" fill="#2e2e2e"/><rect x="1050" y="168" width="12" height="12" fill="#2e2e2e"/><rect x="1060" y="168" width="12" height="12" fill="#2e2e2e"/><rect x="1070" y="168" width="12" height="12" fill="#2e2e2e"/><rect x="1080" y="168" width="12" height="12" fill="#3d3d3d"/><rect x="1090" y="168" width="12" height="12" fill="#4c4c4c"/><rect x="1100" y="168" width="12" height="12" fill="#3d3d3d"/><rect x="1110" y="168" width="12" height="12" fill="#2e2e2e"/><rect x="1120" y="168" width="12" height="12" fill="#2e2e2e"/><rect x="1130" y="168" width="12" height="12" fill="#3d3d3d"/><rect x="1140" y="168" width="12" height="12" fill="#4c4c4c"/><rect x="1150" y="168" width="12" height="12" fill="#3d3d3d"/><rect x="1160" y="168" width="12" height="12" fill="#2e2e2e"/><rect x="1170" y="168" width="12" height="12" fill="#2e2e2e"/><rect x="1180" y="168" width="12" height="12" fill="#1f1f1f"/><rect x="1190" y="168" width="12" height="12" fill="#1f1f1f"/><rect x="1200" y="168" width="12" height="12" fill="#1f1f1f"/><rect x="1210" y="168" width="12" height="12" fill="#1f1f1f"/><rect x="1220" y="168" width="12" height="12" fill="#1f1f1f"/><rect x="1230" y="168" width="12" height="12" fill="#1f1f1f"/><rect x="1240" y="168" width="12" height="12" fill="#1f1f1f"/><rect x="1030" y="178" width="12" height="12" fill="#2e2e2e"/><rect x="1040" y="178" width="12" height="12" fill="#2e2e2e"/><rect x="1050" y="178" width="12" height="12" fill="#2e2e2e"/><rect x="1060" y="178" width="12" height="12" fill="#2e2e2e"/><rect x="1070" y="178" width="12" height="12" fill="#4c4c4c"/><rect x="1080" y="178" width="12" height="12" fill="#6e6e6e"/><rect x="1090" y="178" width="12" height="12" fill="#808080"/><rect x="1100" y="178" width="12" height="12" fill="#5c5c5c"/><rect x="1110" y="178" width="12" height="12" fill="#3d3d3d"/><rect x="1120" y="178" width="12" height="12" fill="#4c4c4c"/><rect x="1130" y="178" width="12" height="12" fill="#5c5c5c"/><rect x="1140" y="178" width="12" height="12" fill="#808080"/><rect x="1150" y="178" width="12" height="12" fill="#a1a1a1"/><rect x="1160" y="178" width="12" height="12" fill="#4c4c4c"/><rect x="1170" y="178" width="12" height="12" fill="#2e2e2e"/><rect x="1180" y="178" width="12" height="12" fill="#2e2e2e"/><rect x="1190" y="178" width="12" height="12" fill="#2e2e2e"/><rect x="1200" y="178" width="12" height="12" fill="#2e2e2e"/><rect x="1210" y="178" width="12" height="12" fill="#1f1f1f"/><rect x="1220" y="178" width="12" height="12" fill="#1f1f1f"/><rect x="1230" y="178" width="12" height="12" fill="#1f1f1f"/><rect x="1030" y="188" width="12" height="12" fill="#2e2e2e"/><rect x="1040" y="188" width="12" height="12" fill="#2e2e2e"/><rect x="1050" y="188" width="12" height="12" fill="#2e2e2e"/><rect x="1060" y="188" width="12" height="12" fill="#2e2e2e"/><rect x="1070" y="188" width="12" height="12" fill="#5c5c5c"/><rect x="1080" y="188" width="12" height="12" fill="#c2c2c2"/><rect x="1090" y="188" width="12" height="12" fill="#b2b2b2"/><rect x="1100" y="188" width="12" height="12" fill="#808080"/><rect x="1110" y="188" width="12" height="12" fill="#5c5c5c"/><rect x="1120" y="188" width="12" height="12" fill="#5c5c5c"/><rect x="1130" y="188" width="12" height="12" fill="#6e6e6e"/><rect x="1140" y="188" width="12" height="12" fill="#919191"/><rect x="1150" y="188" width="12" height="12" fill="#c2c2c2"/><rect x="1160" y="188" width="12" height="12" fill="#b2b2b2"/><rect x="1170" y="188" width="12" height="12" fill="#808080"/><rect x="1180" y="188" width="12" height="12" fill="#5c5c5c"/><rect x="1190" y="188" width="12" height="12" fill="#4c4c4c"/><rect x="1200" y="188" width="12" height="12" fill="#4c4c4c"/><rect x="1210" y="188" width="12" height="12" fill="#4c4c4c"/><rect x="1220" y="188" width="12" height="12" fill="#4c4c4c"/><rect x="1230" y="188" width="12" height="12" fill="#4c4c4c"/><rect x="1030" y="198" width="12" height="12" fill="#2e2e2e"/><rect x="1040" y="198" width="12" height="12" fill="#2e2e2e"/><rect x="1050" y="198" width="12" height="12" fill="#3d3d3d"/><rect x="1060" y="198" width="12" height="12" fill="#5c5c5c"/><rect x="1070" y="198" width="12" height="12" fill="#c2c2c2"/><rect x="1080" y="198" width="12" height="12" fill="#d1d1d1"/><rect x="1090" y="198" width="12" height="12" fill="#d1d1d1"/><rect x="1100" y="198" width="12" height="12" fill="#c2c2c2"/><rect x="1110" y="198" width="12" height="12" fill="#b2b2b2"/><rect x="1120" y="198" width="12" height="12" fill="#a1a1a1"/><rect x="1130" y="198" width="12" height="12" fill="#b2b2b2"/><rect x="1140" y="198" width="12" height="12" fill="#b2b2b2"/><rect x="1150" y="198" width="12" height="12" fill="#d1d1d1"/><rect x="1160" y="198" width="12" height="12" fill="#d1d1d1"/><rect x="1170" y="198" width="12" height="12" fill="#d1d1d1"/><rect x="1180" y="198" width="12" height="12" fill="#d1d1d1"/><rect x="1190" y="198" width="12" height="12" fill="#d1d1d1"/><rect x="1200" y="198" width="12" height="12" fill="#919191"/><rect x="1210" y="198" width="12" height="12" fill="#6e6e6e"/><rect x="1220" y="198" width="12" height="12" fill="#5c5c5c"/><rect x="1030" y="208" width="12" height="12" fill="#2e2e2e"/><rect x="1040" y="208" width="12" height="12" fill="#2e2e2e"/><rect x="1050" y="208" width="12" height="12" fill="#3d3d3d"/><rect x="1060" y="208" width="12" height="12" fill="#808080"/><rect x="1070" y="208" width="12" height="12" fill="#d1d1d1"/><rect x="1080" y="208" width="12" height="12" fill="#d1d1d1"/><rect x="1090" y="208" width="12" height="12" fill="#d1d1d1"/><rect x="1100" y="208" width="12" height="12" fill="#e0e0e0"/><rect x="1110" y="208" width="12" height="12" fill="#e0e0e0"/><rect x="1120" y="208" width="12" height="12" fill="#e0e0e0"/><rect x="1130" y="208" width="12" height="12" fill="#e0e0e0"/><rect x="1140" y="208" width="12" height="12" fill="#e0e0e0"/><rect x="1150" y="208" width="12" height="12" fill="#e0e0e0"/><rect x="1160" y="208" width="12" height="12" fill="#d1d1d1"/><rect x="1170" y="208" width="12" height="12" fill="#e0e0e0"/><rect x="1180" y="208" width="12" height="12" fill="#d1d1d1"/><rect x="1190" y="208" width="12" height="12" fill="#c2c2c2"/><rect x="1200" y="208" width="12" height="12" fill="#c2c2c2"/><rect x="1210" y="208" width="12" height="12" fill="#c2c2c2"/><rect x="1220" y="208" width="12" height="12" fill="#c2c2c2"/><rect x="1030" y="218" width="12" height="12" fill="#1f1f1f"/><rect x="1040" y="218" width="12" height="12" fill="#2e2e2e"/><rect x="1050" y="218" width="12" height="12" fill="#4c4c4c"/><rect x="1060" y="218" width="12" height="12" fill="#c2c2c2"/><rect x="1070" y="218" width="12" height="12" fill="#e0e0e0"/><rect x="1080" y="218" width="12" height="12" fill="#e0e0e0"/><rect x="1090" y="218" width="12" height="12" fill="#f0f0f0"/><rect x="1100" y="218" width="12" height="12" fill="#e0e0e0"/><rect x="1110" y="218" width="12" height="12" fill="#e0e0e0"/><rect x="1120" y="218" width="12" height="12" fill="#d1d1d1"/><rect x="1130" y="218" width="12" height="12" fill="#c2c2c2"/><rect x="1140" y="218" width="12" height="12" fill="#c2c2c2"/><rect x="1150" y="218" width="12" height="12" fill="#c2c2c2"/><rect x="1160" y="218" width="12" height="12" fill="#b2b2b2"/><rect x="1170" y="218" width="12" height="12" fill="#c2c2c2"/><rect x="1180" y="218" width="12" height="12" fill="#a1a1a1"/><rect x="1190" y="218" width="12" height="12" fill="#808080"/><rect x="1200" y="218" width="12" height="12" fill="#808080"/><rect x="1210" y="218" width="12" height="12" fill="#808080"/><rect x="1220" y="218" width="12" height="12" fill="#808080"/><rect x="1030" y="228" width="12" height="12" fill="#1f1f1f"/><rect x="1040" y="228" width="12" height="12" fill="#2e2e2e"/><rect x="1050" y="228" width="12" height="12" fill="#4c4c4c"/><rect x="1060" y="228" width="12" height="12" fill="#d1d1d1"/><rect x="1070" y="228" width="12" height="12" fill="#e0e0e0"/><rect x="1080" y="228" width="12" height="12" fill="#e0e0e0"/><rect x="1090" y="228" width="12" height="12" fill="#e0e0e0"/><rect x="1100" y="228" width="12" height="12" fill="#e0e0e0"/><rect x="1110" y="228" width="12" height="12" fill="#c2c2c2"/><rect x="1120" y="228" width="12" height="12" fill="#6e6e6e"/><rect x="1130" y="228" width="12" height="12" fill="#5c5c5c"/><rect x="1140" y="228" width="12" height="12" fill="#6e6e6e"/><rect x="1150" y="228" width="12" height="12" fill="#808080"/><rect x="1160" y="228" width="12" height="12" fill="#808080"/><rect x="1170" y="228" width="12" height="12" fill="#4c4c4c"/><rect x="1180" y="228" width="12" height="12" fill="#3d3d3d"/><rect x="1190" y="228" width="12" height="12" fill="#5c5c5c"/><rect x="1200" y="228" width="12" height="12" fill="#6e6e6e"/><rect x="1210" y="228" width="12" height="12" fill="#6e6e6e"/><rect x="1030" y="238" width="12" height="12" fill="#1f1f1f"/><rect x="1040" y="238" width="12" height="12" fill="#2e2e2e"/><rect x="1050" y="238" width="12" height="12" fill="#4c4c4c"/><rect x="1060" y="238" width="12" height="12" fill="#d1d1d1"/><rect x="1070" y="238" width="12" height="12" fill="#e0e0e0"/><rect x="1080" y="238" width="12" height="12" fill="#e0e0e0"/><rect x="1090" y="238" width="12" height="12" fill="#c2c2c2"/><rect x="1100" y="238" width="12" height="12" fill="#4c4c4c"/><rect x="1110" y="238" width="12" height="12" fill="#3d3d3d"/><rect x="1120" y="238" width="12" height="12" fill="#6e6e6e"/><rect x="1130" y="238" width="12" height="12" fill="#6e6e6e"/><rect x="1140" y="238" width="12" height="12" fill="#6e6e6e"/><rect x="1150" y="238" width="12" height="12" fill="#5c5c5c"/><rect x="1160" y="238" width="12" height="12" fill="#4c4c4c"/><rect x="1170" y="238" width="12" height="12" fill="#3d3d3d"/><rect x="1180" y="238" width="12" height="12" fill="#3d3d3d"/><rect x="1190" y="238" width="12" height="12" fill="#3d3d3d"/><rect x="1200" y="238" width="12" height="12" fill="#3d3d3d"/><rect x="1210" y="238" width="12" height="12" fill="#3d3d3d"/><rect x="1030" y="248" width="12" height="12" fill="#1f1f1f"/><rect x="1040" y="248" width="12" height="12" fill="#2e2e2e"/><rect x="1050" y="248" width="12" height="12" fill="#e0e0e0"/><rect x="1060" y="248" width="12" height="12" fill="#e0e0e0"/><rect x="1070" y="248" width="12" height="12" fill="#e0e0e0"/><rect x="1080" y="248" width="12" height="12" fill="#c2c2c2"/><rect x="1090" y="248" width="12" height="12" fill="#808080"/><rect x="1100" y="248" width="12" height="12" fill="#2e2e2e"/><rect x="1110" y="248" width="12" height="12" fill="#2e2e2e"/><rect x="1120" y="248" width="12" height="12" fill="#4c4c4c"/><rect x="1130" y="248" width="12" height="12" fill="#3d3d3d"/><rect x="1140" y="248" width="12" height="12" fill="#2e2e2e"/><rect x="1150" y="248" width="12" height="12" fill="#3d3d3d"/><rect x="1160" y="248" width="12" height="12" fill="#4c4c4c"/><rect x="1170" y="248" width="12" height="12" fill="#5c5c5c"/><rect x="1180" y="248" width="12" height="12" fill="#b2b2b2"/><rect x="1190" y="248" width="12" height="12" fill="#b2b2b2"/><rect x="1200" y="248" width="12" height="12" fill="#b2b2b2"/><rect x="1210" y="248" width="12" height="12" fill="#b2b2b2"/><rect x="1030" y="258" width="12" height="12" fill="#1f1f1f"/><rect x="1040" y="258" width="12" height="12" fill="#b2b2b2"/><rect x="1050" y="258" width="12" height="12" fill="#e0e0e0"/><rect x="1060" y="258" width="12" height="12" fill="#b2b2b2"/><rect x="1070" y="258" width="12" height="12" fill="#a1a1a1"/><rect x="1080" y="258" width="12" height="12" fill="#808080"/><rect x="1090" y="258" width="12" height="12" fill="#5c5c5c"/><rect x="1100" y="258" width="12" height="12" fill="#2e2e2e"/><rect x="1110" y="258" width="12" height="12" fill="#3d3d3d"/><rect x="1120" y="258" width="12" height="12" fill="#4c4c4c"/><rect x="1130" y="258" width="12" height="12" fill="#3d3d3d"/><rect x="1140" y="258" width="12" height="12" fill="#2e2e2e"/><rect x="1150" y="258" width="12" height="12" fill="#3d3d3d"/><rect x="1160" y="258" width="12" height="12" fill="#3d3d3d"/><rect x="1170" y="258" width="12" height="12" fill="#4c4c4c"/><rect x="1180" y="258" width="12" height="12" fill="#808080"/><rect x="1190" y="258" width="12" height="12" fill="#919191"/><rect x="1200" y="258" width="12" height="12" fill="#a1a1a1"/><rect x="1030" y="268" width="12" height="12" fill="#2e2e2e"/><rect x="1040" y="268" width="12" height="12" fill="#b2b2b2"/><rect x="1050" y="268" width="12" height="12" fill="#e0e0e0"/><rect x="1060" y="268" width="12" height="12" fill="#b2b2b2"/><rect x="1070" y="268" width="12" height="12" fill="#919191"/><rect x="1080" y="268" width="12" height="12" fill="#6e6e6e"/><rect x="1090" y="268" width="12" height="12" fill="#4c4c4c"/><rect x="1100" y="268" width="12" height="12" fill="#1f1f1f"/><rect x="1110" y="268" width="12" height="12" fill="#2e2e2e"/><rect x="1120" y="268" width="12" height="12" fill="#2e2e2e"/><rect x="1130" y="268" width="12" height="12" fill="#4c4c4c"/><rect x="1140" y="268" width="12" height="12" fill="#3d3d3d"/><rect x="1150" y="268" width="12" height="12" fill="#2e2e2e"/><rect x="1160" y="268" width="12" height="12" fill="#3d3d3d"/><rect x="1170" y="268" width="12" height="12" fill="#3d3d3d"/><rect x="1180" y="268" width="12" height="12" fill="#3d3d3d"/><rect x="1190" y="268" width="12" height="12" fill="#3d3d3d"/><rect x="1200" y="268" width="12" height="12" fill="#3d3d3d"/><rect x="1030" y="278" width="12" height="12" fill="#6e6e6e"/><rect x="1040" y="278" width="12" height="12" fill="#919191"/><rect x="1050" y="278" width="12" height="12" fill="#919191"/><rect x="1060" y="278" width="12" height="12" fill="#5c5c5c"/><rect x="1070" y="278" width="12" height="12" fill="#3d3d3d"/><rect x="1080" y="278" width="12" height="12" fill="#1f1f1f"/><rect x="1090" y="278" width="12" height="12" fill="#1f1f1f"/><rect x="1100" y="278" width="12" height="12" fill="#2e2e2e"/><rect x="1110" y="278" width="12" height="12" fill="#3d3d3d"/><rect x="1120" y="278" width="12" height="12" fill="#4c4c4c"/><rect x="1130" y="278" width="12" height="12" fill="#5c5c5c"/><rect x="1140" y="278" width="12" height="12" fill="#3d3d3d"/><rect x="1150" y="278" width="12" height="12" fill="#3d3d3d"/><rect x="1160" y="278" width="12" height="12" fill="#3d3d3d"/><rect x="1170" y="278" width="12" height="12" fill="#3d3d3d"/><rect x="1180" y="278" width="12" height="12" fill="#3d3d3d"/><rect x="1190" y="278" width="12" height="12" fill="#3d3d3d"/><rect x="1030" y="288" width="12" height="12" fill="#808080"/><rect x="1040" y="288" width="12" height="12" fill="#808080"/><rect x="1050" y="288" width="12" height="12" fill="#4c4c4c"/><rect x="1060" y="288" width="12" height="12" fill="#2e2e2e"/><rect x="1070" y="288" width="12" height="12" fill="#1f1f1f"/><rect x="1080" y="288" width="12" height="12" fill="#1f1f1f"/><rect x="1090" y="288" width="12" height="12" fill="#2e2e2e"/><rect x="1100" y="288" width="12" height="12" fill="#3d3d3d"/><rect x="1110" y="288" width="12" height="12" fill="#3d3d3d"/><rect x="1120" y="288" width="12" height="12" fill="#3d3d3d"/><rect x="1130" y="288" width="12" height="12" fill="#4c4c4c"/><rect x="1140" y="288" width="12" height="12" fill="#4c4c4c"/><rect x="1150" y="288" width="12" height="12" fill="#3d3d3d"/><rect x="1160" y="288" width="12" height="12" fill="#2e2e2e"/><rect x="1170" y="288" width="12" height="12" fill="#2e2e2e"/><rect x="1180" y="288" width="12" height="12" fill="#2e2e2e"/><rect x="1190" y="288" width="12" height="12" fill="#2e2e2e"/><rect x="1030" y="298" width="12" height="12" fill="#919191"/><rect x="1040" y="298" width="12" height="12" fill="#5c5c5c"/><rect x="1050" y="298" width="12" height="12" fill="#2e2e2e"/><rect x="1060" y="298" width="12" height="12" fill="#1f1f1f"/><rect x="1070" y="298" width="12" height="12" fill="#1f1f1f"/><rect x="1080" y="298" width="12" height="12" fill="#2e2e2e"/><rect x="1090" y="298" width="12" height="12" fill="#3d3d3d"/><rect x="1100" y="298" width="12" height="12" fill="#4c4c4c"/><rect x="1110" y="298" width="12" height="12" fill="#3d3d3d"/><rect x="1120" y="298" width="12" height="12" fill="#2e2e2e"/><rect x="1130" y="298" width="12" height="12" fill="#3d3d3d"/><rect x="1140" y="298" width="12" height="12" fill="#4c4c4c"/><rect x="1150" y="298" width="12" height="12" fill="#3d3d3d"/><rect x="1160" y="298" width="12" height="12" fill="#2e2e2e"/><rect x="1170" y="298" width="12" height="12" fill="#2e2e2e"/><rect x="1180" y="298" width="12" height="12" fill="#2e2e2e"/><rect x="1190" y="298" width="12" height="12" fill="#2e2e2e"/><rect x="1030" y="308" width="12" height="12" fill="#5c5c5c"/><rect x="1040" y="308" width="12" height="12" fill="#4c4c4c"/><rect x="1050" y="308" width="12" height="12" fill="#2e2e2e"/><rect x="1060" y="308" width="12" height="12" fill="#1f1f1f"/><rect x="1070" y="308" width="12" height="12" fill="#2e2e2e"/><rect x="1080" y="308" width="12" height="12" fill="#2e2e2e"/><rect x="1090" y="308" width="12" height="12" fill="#4c4c4c"/><rect x="1100" y="308" width="12" height="12" fill="#3d3d3d"/><rect x="1110" y="308" width="12" height="12" fill="#3d3d3d"/><rect x="1120" y="308" width="12" height="12" fill="#2e2e2e"/><rect x="1130" y="308" width="12" height="12" fill="#3d3d3d"/><rect x="1140" y="308" width="12" height="12" fill="#4c4c4c"/><rect x="1150" y="308" width="12" height="12" fill="#3d3d3d"/><rect x="1160" y="308" width="12" height="12" fill="#2e2e2e"/><rect x="1170" y="308" width="12" height="12" fill="#2e2e2e"/><rect x="1180" y="308" width="12" height="12" fill="#2e2e2e"/></g></g>
<clipPath id="cp2"><rect x="1036.5" y="94.2" width="236.6" height="217.6"/></clipPath>
<path clip-path="url(#cp2)" d="M1036.6 95.7L1113.1 95.7L1115.2 96.2L1116.0 97.9L1118.8 99.1L1121.3 99.3L1124.1 99.6L1126.6 99.4L1129.1 101.0L1131.0 101.9L1132.9 102.4L1136.1 104.8L1139.2 103.4L1141.1 104.3L1145.5 104.3L1148.0 105.3M1148.0 105.3L1145.5 107.2L1142.4 108.6L1139.2 111.4L1136.1 113.7L1132.9 116.5L1132.3 117.0L1134.2 117.5L1137.3 116.1L1139.8 115.1L1140.8 117.9L1143.0 118.7M1143.0 118.7L1146.1 117.0L1149.3 116.1L1152.4 114.7L1156.2 111.9L1159.0 110.5L1156.8 113.7L1155.6 116.1L1159.4 115.6L1161.9 119.3L1166.3 119.8L1170.7 117.7L1173.8 117.0L1177.0 116.8L1177.3 119.3L1179.5 119.8L1182.0 119.3L1182.6 121.6L1184.5 123.4L1183.3 124.4L1180.8 124.1L1178.9 125.1M1178.9 125.1L1177.0 123.9L1173.8 123.0L1170.7 124.4L1168.8 125.3L1166.9 127.1L1166.0 125.3L1164.1 126.2L1162.2 128.4L1160.6 132.1M1160.6 132.1L1159.4 134.7L1158.1 137.0L1159.7 135.6L1161.9 133.0L1164.7 130.3L1163.1 133.9L1161.2 137.4L1160.9 141.0L1160.0 144.1L1158.7 148.9L1159.0 151.0L1159.4 154.9L1160.3 159.2L1161.1 161.8L1162.5 162.5L1164.4 162.0L1165.5 161.3M1165.5 161.3L1167.5 158.4L1169.1 155.4L1169.4 151.5L1168.8 147.1L1167.5 143.6L1167.9 140.1L1169.4 136.5L1170.4 133.9L1172.9 131.2L1173.5 133.9L1173.2 135.2L1174.8 133.0L1175.7 130.3L1176.7 129.4L1177.3 126.6L1178.6 125.9M1178.6 125.9L1181.4 127.1L1183.9 128.9L1187.0 132.5L1187.7 135.6L1187.4 139.2L1185.8 141.4L1183.9 142.7L1183.6 144.9L1185.8 143.6L1187.7 141.9L1189.9 141.4L1192.1 142.3L1192.7 146.3L1193.2 150.6L1192.7 154.1L1190.5 155.8L1188.9 156.6L1188.6 158.8L1187.0 160.5L1186.7 161.5M1186.7 161.5L1189.6 163.0L1191.5 163.9L1194.0 164.1L1197.7 163.5L1200.3 161.3L1203.4 160.1L1205.2 159.4L1207.8 157.9L1210.0 156.9L1212.9 154.9L1215.4 151.9L1214.4 150.6L1214.4 148.3M1214.4 148.3L1217.9 147.4L1221.7 147.5L1224.8 148.3L1227.6 148.2L1230.5 146.7L1232.4 146.0L1232.4 142.7L1231.7 141.0L1234.3 138.8L1238.0 134.7L1241.5 133.0L1250.3 133.0L1262.0 132.9L1264.5 130.3L1266.0 130.7L1267.6 127.5L1269.8 124.4L1269.5 122.1L1271.4 117.5L1276.1 110.5M1277.7 141.0L1272.7 143.6L1270.1 144.9L1267.9 148.0L1267.0 150.0L1266.2 151.7L1267.6 153.6L1265.4 155.4L1264.8 156.6L1267.0 159.2L1268.2 161.1L1271.4 161.8L1271.7 160.1L1270.8 158.8M1267.6 163.0L1265.7 162.6L1264.3 163.5L1263.2 163.9L1262.3 164.3L1259.7 165.0L1256.9 165.4L1253.1 165.6L1250.0 166.9L1248.4 167.7L1247.5 169.0L1246.2 170.2L1244.6 171.9L1246.2 172.3L1245.9 175.2L1245.6 178.1L1243.7 181.4L1241.2 184.3L1240.2 184.8L1240.6 182.6L1238.7 181.4L1236.8 179.3L1237.4 181.8L1238.0 184.3L1239.3 186.1L1239.6 188.7L1239.3 190.0L1238.3 192.4L1237.1 194.0L1235.8 196.4L1233.9 199.2M1246.2 171.0L1249.4 171.0L1255.7 169.0L1259.6 167.1L1256.3 167.7L1252.5 168.1L1248.1 169.0L1246.2 171.0M1233.9 199.2L1234.3 195.6L1233.6 190.8L1231.7 188.3L1232.4 185.1L1233.6 181.8L1233.0 179.8L1231.1 182.6L1230.5 186.7L1231.1 190.0L1231.7 192.8L1231.1 195.6L1231.7 198.8L1231.7 200.8L1233.6 201.0M1231.7 192.8L1229.9 191.2L1227.3 190.0L1226.1 188.3L1227.0 185.9L1226.1 184.3L1224.2 182.6L1222.1 183.2M1235.8 192.8L1238.4 192.1M1230.5 190.0L1228.0 189.1L1229.2 190.8M1231.1 198.4L1228.0 198.0L1229.9 196.4M1233.6 201.0L1233.9 202.8L1234.4 203.9L1235.2 206.7L1236.5 209.8L1237.0 211.8L1236.6 214.4L1235.2 214.7L1233.3 215.7L1230.5 218.6L1229.2 218.4L1226.7 218.6L1224.8 219.9L1222.9 221.5L1221.4 224.9L1219.8 224.4L1217.6 224.9L1215.4 226.5L1213.5 229.1L1212.2 231.4L1209.1 233.3L1207.2 234.8L1205.3 236.7L1203.0 238.6L1201.5 240.4L1200.6 242.7L1200.3 244.9L1199.3 248.6M1234.4 203.9L1231.7 205.9L1233.6 208.3L1230.5 209.8L1233.6 211.4L1231.1 214.5L1233.3 215.7M1199.3 248.6L1200.3 252.3L1201.7 256.0L1204.0 261.0L1206.1 266.3L1207.8 272.5L1209.0 278.0L1209.7 283.8L1209.4 289.5L1209.0 295.5L1204.7 289.7L1201.7 285.3L1200.3 283.2L1198.8 279.5L1197.4 275.4L1196.6 272.1L1194.6 270.4L1193.0 267.7L1192.1 265.4L1190.8 262.6L1190.2 259.6L1189.3 256.0L1186.4 253.7L1182.6 253.0L1180.8 254.1L1178.9 255.2L1177.0 256.3L1174.8 256.1L1174.5 254.5L1172.6 252.9L1170.1 251.2L1167.5 250.8L1165.0 250.8L1163.1 251.2L1161.1 251.7M1161.1 251.7L1159.4 251.9L1158.1 252.0L1158.7 249.3L1157.8 248.7L1157.5 250.8L1155.6 250.9L1153.1 250.8L1151.2 251.0L1149.3 251.5L1148.3 252.3L1147.4 253.0L1148.0 254.5L1149.3 255.6L1149.9 258.1L1151.8 259.6L1150.9 261.0L1149.3 260.3L1147.4 258.8L1145.5 259.6L1144.2 260.4L1142.4 260.3L1140.5 260.7L1138.0 259.6L1137.3 258.8L1135.4 256.7L1133.5 257.0L1131.0 257.0L1128.5 256.7L1125.4 255.4L1121.3 255.9M1147.4 253.0L1144.9 251.2L1142.7 252.3L1144.9 253.6L1146.8 252.6M1121.3 255.9L1119.1 256.7L1115.9 258.5L1114.7 259.2L1112.1 261.4L1109.1 262.5L1106.5 264.6L1104.0 266.8L1101.8 268.6L1100.3 270.8L1099.2 273.3L1098.6 276.1L1098.3 279.0L1097.7 281.1L1097.4 282.1M1097.4 282.1L1095.2 281.8L1092.9 281.0L1090.1 279.7L1087.1 276.6L1085.1 273.3L1082.7 269.3L1080.0 265.4L1078.2 261.7L1075.4 257.6L1073.1 255.2L1071.0 253.7L1068.7 254.1L1066.6 254.7L1064.3 257.4L1062.4 259.6L1060.7 259.1L1058.0 257.4L1055.5 255.2L1053.4 253.2L1051.1 250.1L1048.6 246.7L1046.1 244.4L1043.5 242.3L1041.7 240.6L1035.4 240.6M1057.1 95.7L1057.1 167.7M1057.1 124.4L1104.2 124.4M1036.6 133.0L1057.1 133.0M1057.1 150.6L1092.0 150.6L1095.2 151.9L1098.9 151.9L1101.4 152.8L1104.0 154.1L1104.9 155.0M1036.6 167.7L1069.7 167.7L1069.7 176.0L1112.1 176.0M1069.7 176.0L1069.7 200.4M1036.6 200.4L1116.4 200.4M1063.7 200.4L1063.7 238.9L1040.9 238.9L1041.0 239.7L1041.7 240.6M1063.7 204.3L1082.6 204.3L1082.6 219.5L1084.5 220.7L1086.3 220.9L1088.9 222.2L1091.4 222.6L1094.5 223.4L1097.0 224.5L1100.2 225.3L1102.1 224.2L1104.0 224.9L1106.5 225.7L1109.0 224.9L1112.1 224.7L1114.7 225.7L1117.3 226.5M1117.3 226.5L1117.6 213.0L1116.4 204.3L1116.4 200.4M1117.3 226.5L1120.1 227.2L1120.1 231.2M1120.1 231.2L1120.1 238.9L1121.0 240.4L1122.8 244.1L1123.2 246.4L1122.2 250.1L1122.1 253.0L1121.3 255.9M1120.1 231.2L1138.1 231.4M1138.1 231.4L1138.6 234.4L1139.5 236.7L1138.0 239.7L1136.7 241.9L1135.4 244.9L1135.2 246.4L1147.2 246.4L1147.1 249.0L1148.0 250.8L1148.3 252.3M1138.1 231.4L1138.6 228.4L1138.9 226.1L1140.2 223.8L1141.7 220.7L1143.6 218.0L1144.9 215.3L1146.1 212.2L1147.4 210.2L1147.4 208.3L1148.3 205.1L1148.7 204.3L1150.5 203.6L1150.9 200.5M1147.4 208.3L1143.2 208.3L1144.6 204.3L1116.4 204.3M1116.4 200.4L1116.4 183.5L1114.7 180.2L1113.4 177.3L1112.1 176.0M1112.1 176.0L1109.2 171.2L1108.7 166.9L1108.1 163.5L1107.1 160.1L1105.5 157.5L1104.9 155.0M1109.2 171.2L1134.6 171.0L1136.6 172.9M1104.9 155.0L1104.0 151.5L1104.9 146.3L1104.9 130.3L1104.2 127.5L1104.2 124.4L1103.3 119.3L1102.7 114.7L1102.1 110.0L1100.8 105.3L1100.5 100.5L1100.0 95.7M1104.9 146.3L1137.8 146.3M1137.8 146.3L1138.3 150.6L1139.8 153.2L1141.4 154.9L1143.0 157.5L1144.5 160.9L1143.3 163.0L1141.1 163.6L1138.9 166.0L1138.6 169.4L1136.6 172.9L1136.4 176.0L1138.0 179.3L1140.8 182.6L1142.7 184.7L1144.2 186.7L1144.2 190.0L1146.1 192.8L1148.7 195.6L1148.7 198.8L1150.9 200.5M1137.8 146.3L1137.3 143.6L1134.8 140.1L1131.0 137.4L1127.9 135.2L1128.2 132.1L1127.9 128.4L1131.0 123.9L1131.0 117.9L1132.3 117.0M1141.5 154.9L1159.4 154.9M1143.0 118.7L1144.9 120.2L1148.7 122.1L1152.4 123.0L1157.5 124.4L1159.0 126.6L1159.4 129.4L1160.6 132.1M1161.1 161.8L1161.1 181.0L1160.6 183.0L1161.2 185.9L1159.7 188.3L1158.4 190.8L1157.8 194.0M1150.9 200.5L1154.3 199.6L1155.3 197.2L1157.5 196.4L1157.8 194.0L1160.6 192.8L1163.8 194.0L1166.9 193.2L1168.8 191.6L1170.7 192.4L1171.9 190.4L1174.5 187.1L1177.0 186.3L1178.1 183.5L1180.1 183.5L1182.0 185.9L1185.8 187.1L1188.9 187.1L1192.1 189.0L1194.6 187.5L1195.5 184.7L1197.4 183.5L1199.3 181.4L1202.2 179.8L1203.4 177.7L1204.0 175.2L1204.7 172.7L1205.2 170.7M1178.1 161.8L1178.1 183.5M1165.5 161.3L1178.1 161.3L1186.7 161.5M1205.2 159.4L1205.2 178.4L1234.9 178.4M1211.7 178.4L1211.7 182.6L1214.1 180.6L1216.0 179.3L1218.8 178.9L1221.0 179.3L1222.1 183.2M1222.1 183.2L1220.4 182.6L1218.5 184.3L1215.7 186.3L1213.5 188.7L1211.0 190.8L1209.1 193.2L1206.9 195.6L1204.7 196.8L1202.2 198.0L1199.0 198.4L1196.1 196.1M1196.1 196.1L1194.0 194.8L1192.7 191.6L1192.1 189.0M1196.1 196.1L1193.3 198.8L1190.2 200.8L1185.2 203.6M1148.7 204.3L1157.7 204.3L1157.7 202.9L1185.3 203.6L1197.9 203.6L1234.4 203.9M1197.9 203.6L1196.5 205.9L1194.0 207.5L1190.2 208.7L1186.4 211.8L1183.3 213.7L1181.3 216.1M1181.3 216.1L1144.6 216.1M1181.3 216.1L1188.9 216.1M1188.9 216.1L1190.8 215.3L1193.3 214.5L1201.9 214.9L1202.6 215.3L1203.4 217.5L1210.5 217.6L1217.6 224.9M1188.9 216.1L1190.8 219.2L1192.4 222.2L1194.6 225.7L1196.5 228.4L1198.7 231.0L1200.3 234.4L1201.5 237.4L1203.0 238.6M1173.2 216.1L1175.7 231.4L1177.0 235.2L1176.7 238.9L1176.3 242.7L1177.0 246.4M1177.0 246.4L1177.9 248.5L1194.6 249.5L1195.5 251.2L1195.9 249.3L1197.1 248.2L1199.3 248.6M1160.6 251.5L1160.6 246.4L1177.0 246.4M1156.8 216.1L1157.5 223.8L1156.5 229.1L1155.1 239.7L1155.6 250.9M1210.0 156.9L1210.0 159.2L1237.7 159.2L1239.3 160.9L1241.2 163.9L1241.8 164.7M1241.8 164.7L1246.8 167.7M1241.8 164.7L1239.3 168.1L1238.7 171.0L1239.9 172.7L1241.5 174.4L1239.3 176.5L1237.4 177.7L1236.5 179.3M1234.9 178.4L1236.1 177.4L1237.4 177.7M1234.9 178.4L1234.9 188.7L1239.6 188.7M1250.3 133.0L1250.3 137.4L1250.0 145.4L1250.9 152.8M1250.9 152.8L1249.4 158.8L1249.4 166.0L1248.4 167.7M1262.0 132.9L1261.0 135.6L1258.8 139.2L1256.9 144.1L1256.3 148.9L1255.3 152.9M1250.9 152.8L1263.2 153.2L1265.1 151.9L1266.2 151.7M1264.6 130.3L1265.1 137.4L1265.4 143.6L1267.0 150.0M1249.4 158.8L1260.1 159.0L1262.7 159.0L1262.7 160.1L1263.8 161.8L1264.3 163.5M1260.1 159.0L1259.7 165.0M1038.0 95.7L1038.0 240.6M1272.4 115.6L1272.4 146.3" fill="none" stroke="#000" stroke-width="2.8" stroke-linejoin="round" stroke-linecap="round"/>
<path clip-path="url(#cp2)" d="M1233.8 201.5L1235.3 201.1M1234.1 202.6L1231.1 203.4M1234.5 204.1L1231.7 204.9M1235.5 207.4L1234.3 207.9M1236.1 208.9L1232.3 210.5M1236.6 210.3L1239.8 209.4M1236.8 213.3L1239.3 213.6M1236.6 214.4L1235.0 210.4M1234.7 215.1L1234.2 213.8M1232.2 216.9L1231.0 215.7M1231.0 218.0L1229.3 216.3M1230.4 218.6L1230.3 217.3M1227.3 218.6L1227.3 216.0M1225.6 219.4L1224.0 217.2M1224.1 220.9L1221.1 218.8M1223.5 221.9L1225.9 223.6M1222.5 223.3L1224.2 224.5M1222.1 223.8L1224.2 225.3M1221.1 224.9L1221.1 222.1M1218.2 224.9L1218.3 221.0M1216.4 226.1L1218.0 227.6M1215.4 227.1L1213.1 224.9M1213.7 228.9L1210.4 225.7M1212.8 229.8L1213.6 230.7M1211.7 230.8L1214.9 234.3M1211.0 231.5L1212.7 233.3M1210.2 232.3L1208.3 230.3M1208.9 233.4L1209.7 234.3M1207.7 234.6L1206.4 233.1M1205.5 236.5L1204.6 235.6M1204.7 237.2L1207.5 240.5M1203.1 238.5L1201.8 236.9M1202.7 239.1L1206.4 241.3M1202.1 240.2L1200.6 239.3M1201.2 241.6L1198.7 240.2M1200.5 243.0L1199.5 242.8M1200.2 244.7L1203.2 245.3M1199.7 246.6L1202.6 247.3M1199.4 248.1L1200.6 248.4M1203.9 288.5L1200.3 291.0M1203.3 287.7L1205.4 286.2M1202.1 285.8L1203.1 285.2M1201.6 285.0L1203.0 284.3M1201.0 283.8L1201.9 283.3M1200.2 282.2L1202.3 281.2M1198.9 279.6L1201.9 278.2M1198.7 279.1L1200.9 278.4M1198.3 277.8L1194.3 279.0M1197.7 275.8L1200.5 275.0M1197.5 274.9L1199.7 274.2M1196.7 272.4L1198.2 271.9M1195.5 270.7L1197.8 268.8M1194.7 269.9L1195.6 269.2M1193.0 267.8L1189.7 270.5M1192.8 267.3L1195.0 266.4M1191.7 264.7L1188.9 265.9M1191.3 263.8L1189.6 264.5M1190.4 261.0L1186.3 261.9M1190.1 259.6L1193.8 258.8M1189.9 258.5L1192.1 258.0M1189.7 257.6L1191.7 257.2M1188.3 255.2L1191.1 251.5M1186.4 253.8L1183.6 257.6M1185.7 253.6L1186.0 251.8M1184.1 253.3L1183.8 255.0M1148.1 254.2L1143.9 253.7M1148.6 255.7L1145.1 257.5M1149.6 257.5L1153.6 255.4M1151.3 259.2L1149.6 261.4M1149.8 260.1L1150.4 262.3M1147.4 259.9L1147.9 257.5M1145.6 259.6L1146.3 255.9M1145.3 259.6L1145.6 261.2M1142.5 260.2L1142.8 261.7M1140.5 260.7L1139.8 257.2M1139.6 260.2L1140.4 258.9M1137.4 258.9L1139.1 255.9M1136.0 258.3L1134.9 260.7M1134.6 257.7L1135.3 256.1M1134.0 257.5L1134.7 255.7M1132.3 257.0L1132.6 254.4M1128.7 256.7L1128.9 254.3M1269.5 145.8L1265.9 143.2M1268.0 147.9L1265.7 146.2M1267.4 149.0L1266.5 148.6M1266.8 150.3L1267.8 150.7M1266.5 152.1L1268.7 150.4M1266.4 154.6L1265.0 152.8M1265.1 156.1L1261.5 154.3M1265.4 157.4L1263.9 158.6M1266.7 158.9L1264.5 160.8M1115.0 259.0L1112.7 255.2M1113.9 259.9L1112.0 257.7M1112.5 261.1L1110.8 259.0" fill="none" stroke="#000" stroke-width="1.5" stroke-linecap="round" stroke-linejoin="round"/>
<path clip-path="url(#cp2)" d="M1233.6 201.0L1234.4 203.9L1235.2 206.7L1236.5 209.8L1237.0 211.8L1236.6 214.4L1233.3 215.7L1230.5 218.6L1226.7 218.6L1224.8 219.9L1221.4 224.9L1217.6 224.9L1213.5 229.1L1209.1 233.3L1205.3 236.7L1203.0 238.6L1200.6 242.7L1199.3 248.6M1204.7 289.7L1201.7 285.3L1198.8 279.5L1196.6 272.1L1193.0 267.7L1190.8 262.6L1189.3 256.0L1186.4 253.7L1182.6 253.0M1148.3 252.3L1148.0 254.5L1149.9 258.1L1151.8 259.6L1149.3 260.3L1145.5 259.6L1140.5 260.7L1137.3 258.8L1132.9 257.0L1128.5 256.7M1270.1 144.9L1267.9 148.0L1267.0 150.0L1266.2 151.7L1267.6 153.6L1265.4 155.4L1264.8 156.6L1267.0 159.2M1115.9 258.5L1114.7 259.2L1112.1 261.4" fill="none" stroke="#000" stroke-width="3.6" stroke-linecap="round" stroke-linejoin="round"/>
<polygon points="1223.6,179.9 1228.6,178.4 1234.7,177.9 1239.7,179.9 1242.7,183.9 1242.7,190.0 1241.7,198.1 1240.7,205.1 1241.2,212.2 1238.7,216.2 1233.7,213.2 1229.6,208.1 1227.6,202.1 1224.6,196.0 1221.6,190.0 1222.1,183.9" fill="#000"/>
<polygon points="1243.7,165.8 1247.8,161.8 1253.8,159.7 1260.8,158.2 1266.9,156.7 1270.9,157.2 1269.9,160.7 1262.8,164.3 1254.8,166.8 1247.8,169.3 1244.7,169.8" fill="#000"/>
<text x="988.1" y="112.0" font-size="12.6" font-weight="bold" fill="#262626" textLength="16.7" lengthAdjust="spacingAndGlyphs">48</text><circle cx="1009.3" cy="99.2" r="1.55" fill="none" stroke="#262626" stroke-width="0.9"/><text x="1017.4" y="112.0" font-size="12.6" font-weight="bold" fill="#262626" textLength="9.2" lengthAdjust="spacingAndGlyphs">N</text>
<text x="988.1" y="130.6" font-size="12.6" font-weight="bold" fill="#262626" textLength="16.7" lengthAdjust="spacingAndGlyphs">46</text><circle cx="1009.3" cy="117.8" r="1.55" fill="none" stroke="#262626" stroke-width="0.9"/><text x="1017.4" y="130.6" font-size="12.6" font-weight="bold" fill="#262626" textLength="9.2" lengthAdjust="spacingAndGlyphs">N</text>
<text x="988.1" y="148.6" font-size="12.6" font-weight="bold" fill="#262626" textLength="16.7" lengthAdjust="spacingAndGlyphs">44</text><circle cx="1009.3" cy="135.8" r="1.55" fill="none" stroke="#262626" stroke-width="0.9"/><text x="1017.4" y="148.6" font-size="12.6" font-weight="bold" fill="#262626" textLength="9.2" lengthAdjust="spacingAndGlyphs">N</text>
<text x="988.1" y="165.9" font-size="12.6" font-weight="bold" fill="#262626" textLength="16.7" lengthAdjust="spacingAndGlyphs">42</text><circle cx="1009.3" cy="153.1" r="1.55" fill="none" stroke="#262626" stroke-width="0.9"/><text x="1017.4" y="165.9" font-size="12.6" font-weight="bold" fill="#262626" textLength="9.2" lengthAdjust="spacingAndGlyphs">N</text>
<text x="988.1" y="182.7" font-size="12.6" font-weight="bold" fill="#262626" textLength="16.7" lengthAdjust="spacingAndGlyphs">40</text><circle cx="1009.3" cy="169.9" r="1.55" fill="none" stroke="#262626" stroke-width="0.9"/><text x="1017.4" y="182.7" font-size="12.6" font-weight="bold" fill="#262626" textLength="9.2" lengthAdjust="spacingAndGlyphs">N</text>
<text x="988.1" y="199.1" font-size="12.6" font-weight="bold" fill="#262626" textLength="16.7" lengthAdjust="spacingAndGlyphs">38</text><circle cx="1009.3" cy="186.3" r="1.55" fill="none" stroke="#262626" stroke-width="0.9"/><text x="1017.4" y="199.1" font-size="12.6" font-weight="bold" fill="#262626" textLength="9.2" lengthAdjust="spacingAndGlyphs">N</text>
<text x="988.1" y="215.0" font-size="12.6" font-weight="bold" fill="#262626" textLength="16.7" lengthAdjust="spacingAndGlyphs">36</text><circle cx="1009.3" cy="202.2" r="1.55" fill="none" stroke="#262626" stroke-width="0.9"/><text x="1017.4" y="215.0" font-size="12.6" font-weight="bold" fill="#262626" textLength="9.2" lengthAdjust="spacingAndGlyphs">N</text>
<text x="988.1" y="230.5" font-size="12.6" font-weight="bold" fill="#262626" textLength="16.7" lengthAdjust="spacingAndGlyphs">34</text><circle cx="1009.3" cy="217.7" r="1.55" fill="none" stroke="#262626" stroke-width="0.9"/><text x="1017.4" y="230.5" font-size="12.6" font-weight="bold" fill="#262626" textLength="9.2" lengthAdjust="spacingAndGlyphs">N</text>
<text x="988.1" y="245.6" font-size="12.6" font-weight="bold" fill="#262626" textLength="16.7" lengthAdjust="spacingAndGlyphs">32</text><circle cx="1009.3" cy="232.8" r="1.55" fill="none" stroke="#262626" stroke-width="0.9"/><text x="1017.4" y="245.6" font-size="12.6" font-weight="bold" fill="#262626" textLength="9.2" lengthAdjust="spacingAndGlyphs">N</text>
<text x="988.1" y="260.4" font-size="12.6" font-weight="bold" fill="#262626" textLength="16.7" lengthAdjust="spacingAndGlyphs">30</text><circle cx="1009.3" cy="247.6" r="1.55" fill="none" stroke="#262626" stroke-width="0.9"/><text x="1017.4" y="260.4" font-size="12.6" font-weight="bold" fill="#262626" textLength="9.2" lengthAdjust="spacingAndGlyphs">N</text>
<text x="988.1" y="274.9" font-size="12.6" font-weight="bold" fill="#262626" textLength="16.7" lengthAdjust="spacingAndGlyphs">28</text><circle cx="1009.3" cy="262.1" r="1.55" fill="none" stroke="#262626" stroke-width="0.9"/><text x="1017.4" y="274.9" font-size="12.6" font-weight="bold" fill="#262626" textLength="9.2" lengthAdjust="spacingAndGlyphs">N</text>
<text x="988.1" y="289.2" font-size="12.6" font-weight="bold" fill="#262626" textLength="16.7" lengthAdjust="spacingAndGlyphs">26</text><circle cx="1009.3" cy="276.4" r="1.55" fill="none" stroke="#262626" stroke-width="0.9"/><text x="1017.4" y="289.2" font-size="12.6" font-weight="bold" fill="#262626" textLength="9.2" lengthAdjust="spacingAndGlyphs">N</text>
<text x="988.1" y="303.2" font-size="12.6" font-weight="bold" fill="#262626" textLength="16.7" lengthAdjust="spacingAndGlyphs">24</text><circle cx="1009.3" cy="290.4" r="1.55" fill="none" stroke="#262626" stroke-width="0.9"/><text x="1017.4" y="303.2" font-size="12.6" font-weight="bold" fill="#262626" textLength="9.2" lengthAdjust="spacingAndGlyphs">N</text>
<text x="988.1" y="317.0" font-size="12.6" font-weight="bold" fill="#262626" textLength="16.7" lengthAdjust="spacingAndGlyphs">22</text><circle cx="1009.3" cy="304.2" r="1.55" fill="none" stroke="#262626" stroke-width="0.9"/><text x="1017.4" y="317.0" font-size="12.6" font-weight="bold" fill="#262626" textLength="9.2" lengthAdjust="spacingAndGlyphs">N</text>
<text x="1057.8" y="75.0" font-size="12.6" font-weight="bold" fill="#262626" textLength="24.4" lengthAdjust="spacingAndGlyphs">100</text><circle cx="1086.8" cy="62.2" r="1.55" fill="none" stroke="#262626" stroke-width="0.9"/><text x="1094.6" y="75.0" font-size="12.6" font-weight="bold" fill="#262626" textLength="12.4" lengthAdjust="spacingAndGlyphs">W</text>
<text x="1127.3" y="75.0" font-size="12.6" font-weight="bold" fill="#262626" textLength="16.4" lengthAdjust="spacingAndGlyphs">90</text><circle cx="1148.3" cy="62.2" r="1.55" fill="none" stroke="#262626" stroke-width="0.9"/><text x="1156.1" y="75.0" font-size="12.6" font-weight="bold" fill="#262626" textLength="12.4" lengthAdjust="spacingAndGlyphs">W</text>
<text x="1191.6" y="75.0" font-size="12.6" font-weight="bold" fill="#262626" textLength="16.4" lengthAdjust="spacingAndGlyphs">80</text><circle cx="1212.6" cy="62.2" r="1.55" fill="none" stroke="#262626" stroke-width="0.9"/><text x="1220.4" y="75.0" font-size="12.6" font-weight="bold" fill="#262626" textLength="12.4" lengthAdjust="spacingAndGlyphs">W</text>
<text x="1254.8" y="75.0" font-size="12.6" font-weight="bold" fill="#262626" textLength="16.4" lengthAdjust="spacingAndGlyphs">70</text><circle cx="1275.8" cy="62.2" r="1.55" fill="none" stroke="#262626" stroke-width="0.9"/><text x="1283.6" y="75.0" font-size="12.6" font-weight="bold" fill="#262626" textLength="12.4" lengthAdjust="spacingAndGlyphs">W</text>
<text x="1150.0" y="341.7" font-size="22.4" font-weight="bold" fill="#262626" text-anchor="middle" textLength="364.5" lengthAdjust="spacingAndGlyphs">SAT+RAP 500 hPa MR (g/kg)</text>
<rect x="1285.6" y="95.2" width="23.1" height="215.6" fill="url(#jet)" stroke="#262626" stroke-width="0.8"/>
<line x1="1305.7" x2="1308.7" y1="310.8" y2="310.8" stroke="#262626" stroke-width="0.8"/><text x="1318.3" y="318.3" font-size="21.4" font-weight="bold" fill="#262626" textLength="13.0" lengthAdjust="spacingAndGlyphs">0</text>
<line x1="1305.7" x2="1308.7" y1="228.8" y2="228.8" stroke="#262626" stroke-width="0.8"/><text x="1318.3" y="236.3" font-size="21.4" font-weight="bold" fill="#262626" textLength="13.0" lengthAdjust="spacingAndGlyphs">1</text>
<line x1="1305.7" x2="1308.7" y1="146.8" y2="146.8" stroke="#262626" stroke-width="0.8"/><text x="1318.3" y="154.3" font-size="21.4" font-weight="bold" fill="#262626" textLength="13.0" lengthAdjust="spacingAndGlyphs">2</text>
</g>
<g>
<rect x="196.5" y="486.2" width="233.0" height="213.1" fill="none" stroke="#000" stroke-width="1.2"/>
<clipPath id="sw3"><polygon points="212.5,485.1 213.2,484.4 213.9,483.7 214.6,483.3 215.3,483.0 216.0,483.0 216.7,483.3 217.4,483.7 218.1,484.4 218.8,485.1 219.5,484.4 220.2,483.7 220.9,483.3 221.6,483.0 222.3,483.0 223.0,483.3 223.7,483.7 224.4,484.4 225.1,485.1 225.8,484.4 226.5,483.7 227.2,483.3 227.9,483.0 228.6,483.0 229.3,483.3 230.0,483.7 230.7,484.4 231.4,485.1 232.1,484.4 232.8,483.7 233.5,483.3 234.2,483.0 234.9,483.0 235.6,483.3 236.3,483.7 237.0,484.4 237.7,485.1 238.4,484.4 239.1,483.7 239.8,483.3 240.5,483.0 241.2,483.0 241.9,483.3 242.6,483.7 243.3,484.4 244.0,485.1 244.7,484.4 245.4,483.7 246.1,483.3 246.8,483.0 247.5,483.0 248.2,483.3 248.9,483.7 249.6,484.4 250.3,485.1 251.0,484.4 251.7,483.7 252.4,483.3 253.1,483.0 253.8,483.0 254.5,483.3 255.2,483.7 255.9,484.4 256.6,485.1 257.3,484.4 258.0,483.7 258.7,483.3 259.4,483.0 260.1,483.0 260.8,483.3 261.5,483.7 262.2,484.4 262.9,485.1 263.6,484.4 264.3,483.7 265.0,483.3 265.7,483.0 266.4,483.0 267.1,483.3 267.8,483.7 268.5,484.4 269.2,485.1 269.9,484.4 270.6,483.7 271.3,483.3 272.0,483.0 272.7,483.0 273.4,483.3 274.1,483.7 274.8,484.4 275.5,485.1 276.2,484.4 276.9,483.7 277.6,483.3 278.3,483.0 279.0,483.0 279.7,483.3 280.4,483.7 281.1,484.4 281.8,485.1 282.5,484.4 283.2,483.7 283.9,483.3 284.6,483.0 285.3,483.0 286.0,483.3 286.7,483.7 287.4,484.4 288.1,485.1 288.8,484.4 289.5,483.7 290.2,483.3 290.9,483.0 291.6,483.0 292.3,483.3 293.0,483.7 293.7,484.4 294.4,485.1 295.1,484.4 295.8,483.7 296.5,483.3 297.2,483.0 297.9,483.0 298.6,483.3 299.3,483.7 300.0,484.4 300.7,485.1 301.4,484.4 302.1,483.7 302.8,483.3 303.5,483.0 304.2,483.0 304.9,483.3 305.6,483.7 306.3,484.4 307.0,485.1 307.7,484.4 308.4,483.7 309.1,483.3 309.8,483.0 310.5,483.0 311.2,483.3 311.9,483.7 312.6,484.4 313.3,485.1 314.0,484.4 314.7,483.7 315.4,483.3 316.1,483.0 316.8,483.0 317.5,483.3 318.2,483.7 318.9,484.4 319.6,485.1 320.3,484.4 321.0,483.7 321.7,483.3 322.4,483.0 323.1,483.0 323.8,483.3 324.5,483.7 325.2,484.4 325.9,485.1 326.6,484.4 327.3,483.7 328.0,483.3 328.7,483.0 329.4,483.0 330.1,483.3 330.8,483.7 331.5,484.4 332.2,485.1 332.9,484.4 333.6,483.7 334.3,483.3 335.0,483.0 335.7,483.0 336.4,483.3 337.1,483.7 337.8,484.4 338.5,485.1 339.2,484.4 339.9,483.7 340.6,483.3 341.3,483.0 342.0,483.0 342.7,483.3 343.4,483.7 344.1,484.4 344.8,485.1 345.5,484.4 346.2,483.7 346.9,483.3 347.6,483.0 348.3,483.0 349.0,483.3 349.7,483.7 350.4,484.4 351.1,485.1 351.8,484.4 352.5,483.7 353.2,483.3 353.9,483.0 354.6,483.0 355.3,483.3 356.0,483.7 356.7,484.4 357.4,485.1 358.1,484.4 358.8,483.7 359.5,483.3 360.2,483.0 360.9,483.0 361.6,483.3 362.3,483.7 363.0,484.4 363.7,485.1 364.4,484.4 365.1,483.7 365.8,483.3 366.5,483.0 367.2,483.0 367.9,483.3 368.6,483.7 369.3,484.4 370.0,485.1 370.7,484.4 371.4,483.7 372.1,483.3 372.8,483.0 373.5,483.0 374.2,483.3 374.9,483.7 375.6,484.4 376.3,485.1 377.0,484.4 377.7,483.7 378.4,483.3 379.1,483.0 379.8,483.0 380.5,483.3 381.2,483.7 381.9,484.4 382.6,485.1 383.3,484.4 384.0,483.7 384.7,483.3 385.4,483.0 386.1,483.0 386.8,483.3 387.5,483.7 388.2,484.4 388.9,485.1 389.6,484.4 390.3,483.7 391.0,483.3 391.7,483.0 392.4,483.0 393.1,483.3 393.8,483.7 394.5,484.4 395.2,485.1 395.9,484.4 396.6,483.7 397.3,483.3 398.0,483.0 398.7,483.0 399.4,483.3 400.1,483.7 400.8,484.4 401.5,485.1 402.2,484.4 402.9,483.7 403.6,483.3 404.3,483.0 405.0,483.0 405.7,483.3 406.4,483.7 407.1,484.4 407.8,485.1 408.5,484.4 409.2,483.7 388.5,532.2 371.0,567.1 359.4,596.3 348.7,627.3 342.7,641.5 325.7,696.9 324.5,700.5 324.5,701.4 323.8,702.0 323.1,702.4 322.4,702.6 321.7,702.6 321.0,702.3 320.3,701.8 319.6,701.2 318.9,700.7 318.2,701.4 317.5,702.0 316.8,702.4 316.1,702.6 315.4,702.6 314.7,702.3 314.0,701.8 313.3,701.2 312.6,700.7 311.9,701.4 311.2,702.0 310.5,702.4 309.8,702.6 309.1,702.6 308.4,702.3 307.7,701.8 307.0,701.2 306.3,700.7 305.6,701.4 304.9,702.0 304.2,702.4 303.5,702.6 302.8,702.6 302.1,702.3 301.4,701.8 300.7,701.2 300.0,700.7 299.3,701.4 298.6,702.0 297.9,702.4 297.2,702.6 296.5,702.6 295.8,702.3 295.1,701.8 294.4,701.2 293.7,700.7 293.0,701.4 292.3,702.0 291.6,702.4 290.9,702.6 290.2,702.6 289.5,702.3 288.8,701.8 288.1,701.2 287.4,700.7 286.7,701.4 286.0,702.0 285.3,702.4 284.6,702.6 283.9,702.6 283.2,702.3 282.5,701.8 281.8,701.2 281.1,700.7 280.4,701.4 279.7,702.0 279.0,702.4 278.3,702.6 277.6,702.6 276.9,702.3 276.2,701.8 275.5,701.2 274.8,700.7 274.1,701.4 273.4,702.0 272.7,702.4 272.0,702.6 271.3,702.6 270.6,702.3 269.9,701.8 269.2,701.2 268.5,700.7 267.8,701.4 267.1,702.0 266.4,702.4 265.7,702.6 265.0,702.6 264.3,702.3 263.6,701.8 262.9,701.2 262.2,700.7 261.5,701.4 260.8,702.0 260.1,702.4 259.4,702.6 258.7,702.6 258.0,702.3 257.3,701.8 256.6,701.2 255.9,700.7 255.2,701.4 254.5,702.0 253.8,702.4 253.1,702.6 252.4,702.6 251.7,702.3 251.0,701.8 250.3,701.2 249.6,700.7 248.9,701.4 248.2,702.0 247.5,702.4 246.8,702.6 246.1,702.6 245.4,702.3 244.7,701.8 244.0,701.2 243.3,700.7 242.6,701.4 241.9,702.0 241.2,702.4 240.5,702.6 239.8,702.6 239.1,702.3 238.4,701.8 237.7,701.2 237.0,700.7 236.3,701.4 235.6,702.0 234.9,702.4 234.2,702.6 233.5,702.6 232.8,702.3 232.1,701.8 231.4,701.2 230.7,700.7 230.0,701.4 229.3,702.0 228.6,702.4 227.9,702.6 227.2,702.6 226.5,702.3 225.8,701.8 225.1,701.2 224.4,700.7 223.7,701.4 223.0,702.0 222.3,702.4 221.6,702.6 220.9,702.6 220.2,702.3 219.5,701.8 218.8,701.2 218.1,700.7 217.4,701.4 216.7,702.0 216.0,702.4 215.3,702.6 214.6,702.6 213.9,702.3 213.2,701.8 212.5,701.2 211.8,700.7 211.1,701.4 210.4,702.0 209.7,702.4 209.0,702.6 208.3,702.6 207.6,702.3 206.9,701.8 206.2,701.2 205.5,700.7 204.8,701.4 204.1,702.0 203.4,702.4 202.7,702.6 202.0,702.6 201.3,702.3 200.6,701.8 199.9,701.2 199.2,700.7 198.5,701.4 197.8,702.0 197.1,702.4 196.4,702.6 195.7,702.6 195.0,702.3 194.3,701.8 193.6,701.2 193.0,690.0 194.0,659.9 196.0,630.9 198.5,609.9 201.0,589.8 202.5,572.8 204.5,554.8 206.0,539.8 208.0,519.7 210.0,499.7 212.5,485.1"/></clipPath>
<g clip-path="url(#sw3)"><g filter="url(#jf)"><rect x="189" y="479" width="12" height="12" fill="#808080"/><rect x="199" y="479" width="12" height="12" fill="#808080"/><rect x="209" y="479" width="12" height="12" fill="#808080"/><rect x="219" y="479" width="12" height="12" fill="#919191"/><rect x="229" y="479" width="12" height="12" fill="#919191"/><rect x="239" y="479" width="12" height="12" fill="#919191"/><rect x="249" y="479" width="12" height="12" fill="#919191"/><rect x="259" y="479" width="12" height="12" fill="#808080"/><rect x="269" y="479" width="12" height="12" fill="#808080"/><rect x="279" y="479" width="12" height="12" fill="#808080"/><rect x="289" y="479" width="12" height="12" fill="#808080"/><rect x="299" y="479" width="12" height="12" fill="#808080"/><rect x="309" y="479" width="12" height="12" fill="#808080"/><rect x="319" y="479" width="12" height="12" fill="#808080"/><rect x="329" y="479" width="12" height="12" fill="#808080"/><rect x="339" y="479" width="12" height="12" fill="#808080"/><rect x="349" y="479" width="12" height="12" fill="#808080" fill-opacity="0.50"/><rect x="359" y="479" width="12" height="12" fill="#808080" fill-opacity="0.50"/><rect x="379" y="479" width="12" height="12" fill="#808080" fill-opacity="0.50"/><rect x="389" y="479" width="12" height="12" fill="#808080" fill-opacity="0.50"/><rect x="189" y="489" width="12" height="12" fill="#6e6e6e"/><rect x="199" y="489" width="12" height="12" fill="#6e6e6e"/><rect x="209" y="489" width="12" height="12" fill="#6e6e6e"/><rect x="219" y="489" width="12" height="12" fill="#919191"/><rect x="229" y="489" width="12" height="12" fill="#919191"/><rect x="239" y="489" width="12" height="12" fill="#919191"/><rect x="249" y="489" width="12" height="12" fill="#919191"/><rect x="259" y="489" width="12" height="12" fill="#808080"/><rect x="269" y="489" width="12" height="12" fill="#808080"/><rect x="279" y="489" width="12" height="12" fill="#808080"/><rect x="289" y="489" width="12" height="12" fill="#808080"/><rect x="299" y="489" width="12" height="12" fill="#808080"/><rect x="309" y="489" width="12" height="12" fill="#808080"/><rect x="319" y="489" width="12" height="12" fill="#808080" fill-opacity="0.50"/><rect x="329" y="489" width="12" height="12" fill="#808080"/><rect x="339" y="489" width="12" height="12" fill="#808080"/><rect x="349" y="489" width="12" height="12" fill="#808080"/><rect x="359" y="489" width="12" height="12" fill="#6e6e6e" fill-opacity="0.50"/><rect x="369" y="489" width="12" height="12" fill="#6e6e6e" fill-opacity="0.50"/><rect x="379" y="489" width="12" height="12" fill="#808080" fill-opacity="0.50"/><rect x="399" y="489" width="12" height="12" fill="#6e6e6e"/><rect x="409" y="489" width="12" height="12" fill="#6e6e6e"/><rect x="189" y="499" width="12" height="12" fill="#6e6e6e"/><rect x="199" y="499" width="12" height="12" fill="#6e6e6e"/><rect x="209" y="499" width="12" height="12" fill="#6e6e6e"/><rect x="219" y="499" width="12" height="12" fill="#808080"/><rect x="229" y="499" width="12" height="12" fill="#808080"/><rect x="239" y="499" width="12" height="12" fill="#808080"/><rect x="249" y="499" width="12" height="12" fill="#808080"/><rect x="259" y="499" width="12" height="12" fill="#808080"/><rect x="269" y="499" width="12" height="12" fill="#808080"/><rect x="279" y="499" width="12" height="12" fill="#808080"/><rect x="289" y="499" width="12" height="12" fill="#808080"/><rect x="299" y="499" width="12" height="12" fill="#808080"/><rect x="309" y="499" width="12" height="12" fill="#808080"/><rect x="319" y="499" width="12" height="12" fill="#808080"/><rect x="329" y="499" width="12" height="12" fill="#808080"/><rect x="339" y="499" width="12" height="12" fill="#808080"/><rect x="349" y="499" width="12" height="12" fill="#808080"/><rect x="369" y="499" width="12" height="12" fill="#6e6e6e" fill-opacity="0.50"/><rect x="379" y="499" width="12" height="12" fill="#6e6e6e" fill-opacity="0.50"/><rect x="389" y="499" width="12" height="12" fill="#6e6e6e" fill-opacity="0.50"/><rect x="399" y="499" width="12" height="12" fill="#6e6e6e"/><rect x="409" y="499" width="12" height="12" fill="#6e6e6e"/><rect x="419" y="499" width="12" height="12" fill="#6e6e6e"/><rect x="189" y="509" width="12" height="12" fill="#6e6e6e"/><rect x="199" y="509" width="12" height="12" fill="#6e6e6e"/><rect x="209" y="509" width="12" height="12" fill="#6e6e6e"/><rect x="219" y="509" width="12" height="12" fill="#808080"/><rect x="229" y="509" width="12" height="12" fill="#919191"/><rect x="239" y="509" width="12" height="12" fill="#a1a1a1"/><rect x="249" y="509" width="12" height="12" fill="#919191"/><rect x="259" y="509" width="12" height="12" fill="#919191"/><rect x="269" y="509" width="12" height="12" fill="#919191"/><rect x="279" y="509" width="12" height="12" fill="#808080"/><rect x="289" y="509" width="12" height="12" fill="#808080"/><rect x="299" y="509" width="12" height="12" fill="#808080"/><rect x="309" y="509" width="12" height="12" fill="#808080"/><rect x="319" y="509" width="12" height="12" fill="#808080"/><rect x="329" y="509" width="12" height="12" fill="#808080"/><rect x="339" y="509" width="12" height="12" fill="#808080" fill-opacity="0.50"/><rect x="349" y="509" width="12" height="12" fill="#808080"/><rect x="359" y="509" width="12" height="12" fill="#808080"/><rect x="369" y="509" width="12" height="12" fill="#6e6e6e" fill-opacity="0.50"/><rect x="379" y="509" width="12" height="12" fill="#6e6e6e" fill-opacity="0.50"/><rect x="389" y="509" width="12" height="12" fill="#6e6e6e" fill-opacity="0.50"/><rect x="399" y="509" width="12" height="12" fill="#6e6e6e"/><rect x="409" y="509" width="12" height="12" fill="#6e6e6e"/><rect x="419" y="509" width="12" height="12" fill="#6e6e6e"/><rect x="189" y="519" width="12" height="12" fill="#6e6e6e"/><rect x="199" y="519" width="12" height="12" fill="#6e6e6e"/><rect x="219" y="519" width="12" height="12" fill="#6e6e6e"/><rect x="229" y="519" width="12" height="12" fill="#808080"/><rect x="239" y="519" width="12" height="12" fill="#919191"/><rect x="249" y="519" width="12" height="12" fill="#919191"/><rect x="259" y="519" width="12" height="12" fill="#808080"/><rect x="269" y="519" width="12" height="12" fill="#919191"/><rect x="279" y="519" width="12" height="12" fill="#808080"/><rect x="289" y="519" width="12" height="12" fill="#808080"/><rect x="299" y="519" width="12" height="12" fill="#808080"/><rect x="309" y="519" width="12" height="12" fill="#808080"/><rect x="319" y="519" width="12" height="12" fill="#808080"/><rect x="329" y="519" width="12" height="12" fill="#808080"/><rect x="339" y="519" width="12" height="12" fill="#808080"/><rect x="349" y="519" width="12" height="12" fill="#808080"/><rect x="359" y="519" width="12" height="12" fill="#808080"/><rect x="369" y="519" width="12" height="12" fill="#808080" fill-opacity="0.50"/><rect x="379" y="519" width="12" height="12" fill="#6e6e6e" fill-opacity="0.50"/><rect x="389" y="519" width="12" height="12" fill="#6e6e6e"/><rect x="399" y="519" width="12" height="12" fill="#6e6e6e"/><rect x="409" y="519" width="12" height="12" fill="#6e6e6e"/><rect x="199" y="529" width="12" height="12" fill="#6e6e6e"/><rect x="219" y="529" width="12" height="12" fill="#6e6e6e"/><rect x="229" y="529" width="12" height="12" fill="#6e6e6e"/><rect x="239" y="529" width="12" height="12" fill="#6e6e6e"/><rect x="249" y="529" width="12" height="12" fill="#6e6e6e"/><rect x="259" y="529" width="12" height="12" fill="#808080"/><rect x="269" y="529" width="12" height="12" fill="#808080"/><rect x="279" y="529" width="12" height="12" fill="#808080"/><rect x="289" y="529" width="12" height="12" fill="#808080"/><rect x="299" y="529" width="12" height="12" fill="#6e6e6e"/><rect x="309" y="529" width="12" height="12" fill="#6e6e6e"/><rect x="319" y="529" width="12" height="12" fill="#808080"/><rect x="329" y="529" width="12" height="12" fill="#808080"/><rect x="339" y="529" width="12" height="12" fill="#808080"/><rect x="349" y="529" width="12" height="12" fill="#808080"/><rect x="359" y="529" width="12" height="12" fill="#808080" fill-opacity="0.50"/><rect x="369" y="529" width="12" height="12" fill="#6e6e6e" fill-opacity="0.50"/><rect x="389" y="529" width="12" height="12" fill="#6e6e6e"/><rect x="399" y="529" width="12" height="12" fill="#6e6e6e"/><rect x="229" y="539" width="12" height="12" fill="#5c5c5c"/><rect x="239" y="539" width="12" height="12" fill="#5c5c5c"/><rect x="249" y="539" width="12" height="12" fill="#5c5c5c"/><rect x="259" y="539" width="12" height="12" fill="#6e6e6e"/><rect x="269" y="539" width="12" height="12" fill="#5c5c5c"/><rect x="279" y="539" width="12" height="12" fill="#5c5c5c"/><rect x="289" y="539" width="12" height="12" fill="#6e6e6e"/><rect x="299" y="539" width="12" height="12" fill="#6e6e6e"/><rect x="309" y="539" width="12" height="12" fill="#6e6e6e"/><rect x="319" y="539" width="12" height="12" fill="#808080"/><rect x="329" y="539" width="12" height="12" fill="#808080"/><rect x="339" y="539" width="12" height="12" fill="#808080"/><rect x="349" y="539" width="12" height="12" fill="#808080"/><rect x="359" y="539" width="12" height="12" fill="#808080"/><rect x="369" y="539" width="12" height="12" fill="#808080"/><rect x="379" y="539" width="12" height="12" fill="#808080"/><rect x="389" y="539" width="12" height="12" fill="#808080"/><rect x="399" y="539" width="12" height="12" fill="#808080"/><rect x="229" y="549" width="12" height="12" fill="#5c5c5c"/><rect x="239" y="549" width="12" height="12" fill="#4c4c4c"/><rect x="249" y="549" width="12" height="12" fill="#4c4c4c"/><rect x="259" y="549" width="12" height="12" fill="#5c5c5c"/><rect x="269" y="549" width="12" height="12" fill="#5c5c5c"/><rect x="279" y="549" width="12" height="12" fill="#5c5c5c"/><rect x="289" y="549" width="12" height="12" fill="#5c5c5c"/><rect x="299" y="549" width="12" height="12" fill="#6e6e6e"/><rect x="309" y="549" width="12" height="12" fill="#6e6e6e"/><rect x="319" y="549" width="12" height="12" fill="#6e6e6e"/><rect x="329" y="549" width="12" height="12" fill="#6e6e6e"/><rect x="339" y="549" width="12" height="12" fill="#6e6e6e"/><rect x="349" y="549" width="12" height="12" fill="#6e6e6e"/><rect x="359" y="549" width="12" height="12" fill="#6e6e6e"/><rect x="369" y="549" width="12" height="12" fill="#6e6e6e"/><rect x="379" y="549" width="12" height="12" fill="#6e6e6e"/><rect x="389" y="549" width="12" height="12" fill="#6e6e6e"/><rect x="399" y="549" width="12" height="12" fill="#6e6e6e"/><rect x="209" y="559" width="12" height="12" fill="#5c5c5c"/><rect x="219" y="559" width="12" height="12" fill="#5c5c5c"/><rect x="229" y="559" width="12" height="12" fill="#5c5c5c"/><rect x="239" y="559" width="12" height="12" fill="#4c4c4c"/><rect x="249" y="559" width="12" height="12" fill="#3d3d3d"/><rect x="269" y="559" width="12" height="12" fill="#5c5c5c"/><rect x="279" y="559" width="12" height="12" fill="#5c5c5c"/><rect x="289" y="559" width="12" height="12" fill="#5c5c5c"/><rect x="299" y="559" width="12" height="12" fill="#6e6e6e"/><rect x="309" y="559" width="12" height="12" fill="#6e6e6e"/><rect x="319" y="559" width="12" height="12" fill="#6e6e6e"/><rect x="329" y="559" width="12" height="12" fill="#6e6e6e"/><rect x="339" y="559" width="12" height="12" fill="#6e6e6e"/><rect x="349" y="559" width="12" height="12" fill="#6e6e6e"/><rect x="359" y="559" width="12" height="12" fill="#6e6e6e"/><rect x="369" y="559" width="12" height="12" fill="#6e6e6e"/><rect x="379" y="559" width="12" height="12" fill="#6e6e6e"/><rect x="389" y="559" width="12" height="12" fill="#6e6e6e"/><rect x="209" y="569" width="12" height="12" fill="#6e6e6e"/><rect x="219" y="569" width="12" height="12" fill="#6e6e6e"/><rect x="229" y="569" width="12" height="12" fill="#6e6e6e"/><rect x="239" y="569" width="12" height="12" fill="#6e6e6e"/><rect x="259" y="569" width="12" height="12" fill="#1f1f1f"/><rect x="269" y="569" width="12" height="12" fill="#0f0f0f"/><rect x="289" y="569" width="12" height="12" fill="#6e6e6e"/><rect x="329" y="569" width="12" height="12" fill="#6e6e6e"/><rect x="339" y="569" width="12" height="12" fill="#6e6e6e"/><rect x="349" y="569" width="12" height="12" fill="#6e6e6e"/><rect x="359" y="569" width="12" height="12" fill="#6e6e6e"/><rect x="369" y="569" width="12" height="12" fill="#6e6e6e"/><rect x="379" y="569" width="12" height="12" fill="#6e6e6e"/><rect x="389" y="569" width="12" height="12" fill="#6e6e6e"/><rect x="209" y="579" width="12" height="12" fill="#6e6e6e"/><rect x="219" y="579" width="12" height="12" fill="#6e6e6e"/><rect x="229" y="579" width="12" height="12" fill="#6e6e6e"/><rect x="269" y="579" width="12" height="12" fill="#0f0f0f"/><rect x="329" y="579" width="12" height="12" fill="#5c5c5c"/><rect x="339" y="579" width="12" height="12" fill="#5c5c5c"/><rect x="359" y="579" width="12" height="12" fill="#6e6e6e"/><rect x="369" y="579" width="12" height="12" fill="#6e6e6e"/><rect x="379" y="579" width="12" height="12" fill="#6e6e6e"/><rect x="189" y="589" width="12" height="12" fill="#6e6e6e"/><rect x="209" y="589" width="12" height="12" fill="#4c4c4c"/><rect x="219" y="589" width="12" height="12" fill="#5c5c5c"/><rect x="279" y="589" width="12" height="12" fill="#1f1f1f"/><rect x="359" y="589" width="12" height="12" fill="#6e6e6e"/><rect x="369" y="589" width="12" height="12" fill="#6e6e6e"/><rect x="189" y="599" width="12" height="12" fill="#6e6e6e"/><rect x="209" y="599" width="12" height="12" fill="#4c4c4c"/><rect x="219" y="599" width="12" height="12" fill="#3d3d3d"/><rect x="229" y="599" width="12" height="12" fill="#2e2e2e"/><rect x="239" y="599" width="12" height="12" fill="#2e2e2e"/><rect x="279" y="599" width="12" height="12" fill="#5c5c5c"/><rect x="359" y="599" width="12" height="12" fill="#4c4c4c"/><rect x="189" y="609" width="12" height="12" fill="#6e6e6e"/><rect x="199" y="609" width="12" height="12" fill="#6e6e6e"/><rect x="209" y="609" width="12" height="12" fill="#4c4c4c"/><rect x="219" y="609" width="12" height="12" fill="#3d3d3d"/><rect x="229" y="609" width="12" height="12" fill="#5c5c5c"/><rect x="249" y="609" width="12" height="12" fill="#1f1f1f"/><rect x="259" y="609" width="12" height="12" fill="#1f1f1f"/><rect x="279" y="609" width="12" height="12" fill="#2e2e2e"/><rect x="289" y="609" width="12" height="12" fill="#2e2e2e"/><rect x="319" y="609" width="12" height="12" fill="#2e2e2e"/><rect x="329" y="609" width="12" height="12" fill="#2e2e2e"/><rect x="339" y="609" width="12" height="12" fill="#2e2e2e"/><rect x="349" y="609" width="12" height="12" fill="#2e2e2e"/><rect x="359" y="609" width="12" height="12" fill="#2e2e2e"/><rect x="369" y="609" width="12" height="12" fill="#2e2e2e"/><rect x="189" y="619" width="12" height="12" fill="#5c5c5c"/><rect x="199" y="619" width="12" height="12" fill="#5c5c5c"/><rect x="209" y="619" width="12" height="12" fill="#4c4c4c"/><rect x="229" y="619" width="12" height="12" fill="#2e2e2e"/><rect x="239" y="619" width="12" height="12" fill="#2e2e2e"/><rect x="249" y="619" width="12" height="12" fill="#1f1f1f"/><rect x="259" y="619" width="12" height="12" fill="#2e2e2e"/><rect x="269" y="619" width="12" height="12" fill="#1f1f1f"/><rect x="279" y="619" width="12" height="12" fill="#2e2e2e"/><rect x="289" y="619" width="12" height="12" fill="#3d3d3d"/><rect x="299" y="619" width="12" height="12" fill="#5c5c5c"/><rect x="309" y="619" width="12" height="12" fill="#1f1f1f"/><rect x="319" y="619" width="12" height="12" fill="#1f1f1f"/><rect x="329" y="619" width="12" height="12" fill="#1f1f1f"/><rect x="339" y="619" width="12" height="12" fill="#2e2e2e"/><rect x="349" y="619" width="12" height="12" fill="#2e2e2e"/><rect x="359" y="619" width="12" height="12" fill="#2e2e2e"/><rect x="369" y="619" width="12" height="12" fill="#2e2e2e"/><rect x="189" y="629" width="12" height="12" fill="#3d3d3d"/><rect x="199" y="629" width="12" height="12" fill="#4c4c4c"/><rect x="209" y="629" width="12" height="12" fill="#4c4c4c"/><rect x="229" y="629" width="12" height="12" fill="#1f1f1f"/><rect x="239" y="629" width="12" height="12" fill="#1f1f1f"/><rect x="249" y="629" width="12" height="12" fill="#2e2e2e"/><rect x="259" y="629" width="12" height="12" fill="#2e2e2e"/><rect x="269" y="629" width="12" height="12" fill="#1f1f1f"/><rect x="279" y="629" width="12" height="12" fill="#1f1f1f"/><rect x="289" y="629" width="12" height="12" fill="#4c4c4c"/><rect x="299" y="629" width="12" height="12" fill="#5c5c5c"/><rect x="309" y="629" width="12" height="12" fill="#2e2e2e"/><rect x="319" y="629" width="12" height="12" fill="#1f1f1f"/><rect x="329" y="629" width="12" height="12" fill="#1f1f1f"/><rect x="349" y="629" width="12" height="12" fill="#2e2e2e"/><rect x="359" y="629" width="12" height="12" fill="#2e2e2e"/><rect x="189" y="639" width="12" height="12" fill="#4c4c4c"/><rect x="199" y="639" width="12" height="12" fill="#5c5c5c"/><rect x="209" y="639" width="12" height="12" fill="#5c5c5c"/><rect x="229" y="639" width="12" height="12" fill="#1f1f1f"/><rect x="239" y="639" width="12" height="12" fill="#1f1f1f"/><rect x="249" y="639" width="12" height="12" fill="#2e2e2e"/><rect x="259" y="639" width="12" height="12" fill="#4c4c4c"/><rect x="269" y="639" width="12" height="12" fill="#3d3d3d"/><rect x="279" y="639" width="12" height="12" fill="#3d3d3d"/><rect x="289" y="639" width="12" height="12" fill="#4c4c4c"/><rect x="299" y="639" width="12" height="12" fill="#3d3d3d"/><rect x="309" y="639" width="12" height="12" fill="#3d3d3d"/><rect x="319" y="639" width="12" height="12" fill="#3d3d3d"/><rect x="329" y="639" width="12" height="12" fill="#2e2e2e"/><rect x="339" y="639" width="12" height="12" fill="#2e2e2e"/><rect x="349" y="639" width="12" height="12" fill="#2e2e2e"/><rect x="359" y="639" width="12" height="12" fill="#2e2e2e"/><rect x="199" y="649" width="12" height="12" fill="#2e2e2e"/><rect x="209" y="649" width="12" height="12" fill="#5c5c5c"/><rect x="219" y="649" width="12" height="12" fill="#5c5c5c"/><rect x="229" y="649" width="12" height="12" fill="#3d3d3d"/><rect x="239" y="649" width="12" height="12" fill="#1f1f1f"/><rect x="249" y="649" width="12" height="12" fill="#1f1f1f"/><rect x="259" y="649" width="12" height="12" fill="#4c4c4c"/><rect x="269" y="649" width="12" height="12" fill="#5c5c5c"/><rect x="279" y="649" width="12" height="12" fill="#5c5c5c"/><rect x="289" y="649" width="12" height="12" fill="#4c4c4c"/><rect x="299" y="649" width="12" height="12" fill="#2e2e2e"/><rect x="309" y="649" width="12" height="12" fill="#3d3d3d"/><rect x="319" y="649" width="12" height="12" fill="#4c4c4c"/><rect x="339" y="649" width="12" height="12" fill="#2e2e2e"/><rect x="349" y="649" width="12" height="12" fill="#2e2e2e"/><rect x="199" y="659" width="12" height="12" fill="#2e2e2e"/><rect x="209" y="659" width="12" height="12" fill="#6e6e6e"/><rect x="219" y="659" width="12" height="12" fill="#808080"/><rect x="229" y="659" width="12" height="12" fill="#4c4c4c"/><rect x="239" y="659" width="12" height="12" fill="#1f1f1f"/><rect x="249" y="659" width="12" height="12" fill="#1f1f1f"/><rect x="259" y="659" width="12" height="12" fill="#4c4c4c"/><rect x="269" y="659" width="12" height="12" fill="#5c5c5c"/><rect x="279" y="659" width="12" height="12" fill="#4c4c4c"/><rect x="289" y="659" width="12" height="12" fill="#3d3d3d"/><rect x="299" y="659" width="12" height="12" fill="#2e2e2e"/><rect x="309" y="659" width="12" height="12" fill="#1f1f1f"/><rect x="339" y="659" width="12" height="12" fill="#2e2e2e"/><rect x="209" y="669" width="12" height="12" fill="#808080"/><rect x="219" y="669" width="12" height="12" fill="#808080"/><rect x="229" y="669" width="12" height="12" fill="#4c4c4c"/><rect x="239" y="669" width="12" height="12" fill="#2e2e2e"/><rect x="249" y="669" width="12" height="12" fill="#1f1f1f"/><rect x="259" y="669" width="12" height="12" fill="#1f1f1f"/><rect x="269" y="669" width="12" height="12" fill="#2e2e2e"/><rect x="279" y="669" width="12" height="12" fill="#2e2e2e"/><rect x="289" y="669" width="12" height="12" fill="#1f1f1f"/><rect x="299" y="669" width="12" height="12" fill="#1f1f1f"/><rect x="309" y="669" width="12" height="12" fill="#1f1f1f"/><rect x="329" y="669" width="12" height="12" fill="#0f0f0f"/><rect x="339" y="669" width="12" height="12" fill="#0f0f0f"/><rect x="189" y="679" width="12" height="12" fill="#5c5c5c"/><rect x="229" y="679" width="12" height="12" fill="#3d3d3d"/><rect x="239" y="679" width="12" height="12" fill="#2e2e2e"/><rect x="249" y="679" width="12" height="12" fill="#1f1f1f"/><rect x="259" y="679" width="12" height="12" fill="#1f1f1f"/><rect x="269" y="679" width="12" height="12" fill="#1f1f1f"/><rect x="279" y="679" width="12" height="12" fill="#2e2e2e"/><rect x="289" y="679" width="12" height="12" fill="#3d3d3d"/><rect x="309" y="679" width="12" height="12" fill="#1f1f1f"/><rect x="319" y="679" width="12" height="12" fill="#0f0f0f"/><rect x="329" y="679" width="12" height="12" fill="#0f0f0f"/><rect x="339" y="679" width="12" height="12" fill="#0f0f0f"/><rect x="349" y="679" width="12" height="12" fill="#0f0f0f"/><rect x="189" y="689" width="12" height="12" fill="#4c4c4c"/><rect x="199" y="689" width="12" height="12" fill="#6e6e6e"/><rect x="209" y="689" width="12" height="12" fill="#6e6e6e"/><rect x="229" y="689" width="12" height="12" fill="#5c5c5c"/><rect x="239" y="689" width="12" height="12" fill="#2e2e2e"/><rect x="249" y="689" width="12" height="12" fill="#1f1f1f"/><rect x="259" y="689" width="12" height="12" fill="#0f0f0f"/><rect x="279" y="689" width="12" height="12" fill="#1f1f1f"/><rect x="309" y="689" width="12" height="12" fill="#0f0f0f"/><rect x="329" y="689" width="12" height="12" fill="#0f0f0f"/><rect x="339" y="689" width="12" height="12" fill="#0f0f0f"/><rect x="189" y="699" width="12" height="12" fill="#4c4c4c"/><rect x="199" y="699" width="12" height="12" fill="#6e6e6e"/><rect x="209" y="699" width="12" height="12" fill="#6e6e6e"/><rect x="219" y="699" width="12" height="12" fill="#5c5c5c"/><rect x="229" y="699" width="12" height="12" fill="#5c5c5c"/><rect x="239" y="699" width="12" height="12" fill="#3d3d3d"/><rect x="249" y="699" width="12" height="12" fill="#2e2e2e"/><rect x="259" y="699" width="12" height="12" fill="#2e2e2e"/><rect x="269" y="699" width="12" height="12" fill="#2e2e2e"/><rect x="279" y="699" width="12" height="12" fill="#1f1f1f"/><rect x="289" y="699" width="12" height="12" fill="#1f1f1f"/><rect x="299" y="699" width="12" height="12" fill="#0f0f0f"/><rect x="309" y="699" width="12" height="12" fill="#0f0f0f"/><rect x="319" y="699" width="12" height="12" fill="#0f0f0f"/><rect x="329" y="699" width="12" height="12" fill="#0f0f0f"/></g></g>
<clipPath id="cp3"><rect x="195.0" y="484.7" width="235.2" height="216.1"/></clipPath>
<path clip-path="url(#cp3)" d="M195.1 486.2L271.1 486.2L273.2 486.7L274.1 488.4L276.8 489.6L279.3 489.7L282.1 490.0L284.6 489.8L287.1 491.5L289.0 492.4L290.9 492.9L294.0 495.2L297.1 493.8L299.0 494.8L303.4 494.8L305.9 495.7M305.9 495.7L303.4 497.6L300.2 499.0L297.1 501.8L294.0 504.1L290.9 506.9L290.2 507.3L292.1 507.8L295.2 506.4L297.7 505.5L298.7 508.3L300.9 509.0M300.9 509.0L304.0 507.3L307.1 506.4L310.2 505.0L314.0 502.3L316.8 500.9L314.6 504.1L313.4 506.4L317.1 506.0L319.6 509.6L324.0 510.1L328.4 508.1L331.5 507.3L334.6 507.2L335.0 509.6L337.2 510.1L339.7 509.6L340.3 511.9L342.2 513.7L340.9 514.7L338.4 514.4L336.5 515.4M336.5 515.4L334.6 514.2L331.5 513.3L328.4 514.7L326.5 515.6L324.6 517.4L323.7 515.6L321.8 516.5L319.9 518.7L318.4 522.3M318.4 522.3L317.1 525.0L315.9 527.2L317.4 525.9L319.6 523.2L322.4 520.5L320.9 524.1L319.0 527.6L318.7 531.2L317.8 534.2L316.5 539.0L316.8 541.2L317.1 545.0L318.1 549.3L318.9 551.8L320.3 552.5L322.1 552.1L323.3 551.3M323.3 551.3L325.3 548.4L326.8 545.4L327.1 541.6L326.5 537.3L325.3 533.8L325.6 530.3L327.1 526.7L328.1 524.1L330.6 521.4L331.2 524.1L330.9 525.4L332.5 523.2L333.4 520.5L334.3 519.6L335.0 516.9L336.2 516.2M336.2 516.2L339.0 517.4L341.5 519.2L344.7 522.7L345.3 525.9L345.0 529.4L343.4 531.6L341.5 532.9L341.2 535.1L343.4 533.8L345.3 532.0L347.5 531.6L349.7 532.5L350.3 536.4L350.8 540.7L350.3 544.2L348.1 545.9L346.5 546.7L346.2 548.8L344.7 550.5L344.3 551.6M344.3 551.6L347.2 553.1L349.0 553.9L351.5 554.1L355.3 553.5L357.8 551.4L360.9 550.1L362.7 549.4L365.3 548.0L367.4 547.0L370.3 545.0L372.8 542.0L371.9 540.7L371.9 538.5M371.9 538.5L375.3 537.5L379.1 537.6L382.2 538.4L385.0 538.3L387.8 536.8L389.7 536.1L389.7 532.9L389.1 531.2L391.6 529.0L395.3 525.0L398.8 523.2L407.5 523.2L419.1 523.1L421.6 520.5L423.2 521.0L424.7 517.8L426.9 514.7L426.6 512.4L428.5 507.8L433.2 500.9M434.8 531.2L429.8 533.8L427.2 535.1L425.1 538.1L424.1 540.1L423.4 541.8L424.7 543.7L422.6 545.4L421.9 546.7L424.1 549.3L425.4 551.1L428.5 551.8L428.8 550.1L427.9 548.8M424.7 553.1L422.9 552.7L421.5 553.5L420.4 553.9L419.4 554.3L416.9 555.0L414.1 555.4L410.4 555.6L407.2 556.9L405.7 557.7L404.7 558.9L403.5 560.2L401.9 561.9L403.5 562.3L403.2 565.2L402.8 568.0L401.0 571.3L398.5 574.1L397.5 574.7L397.8 572.5L396.0 571.3L394.1 569.3L394.7 571.7L395.3 574.1L396.6 575.9L396.9 578.6L396.6 579.8L395.7 582.2L394.4 583.8L393.1 586.2L391.3 589.0M403.5 561.0L406.6 561.0L412.9 558.9L416.8 557.1L413.5 557.7L409.7 558.1L405.3 558.9L403.5 561.0M391.3 589.0L391.6 585.4L391.0 580.6L389.1 578.2L389.7 575.0L391.0 571.7L390.3 569.7L388.5 572.5L387.8 576.6L388.5 579.8L389.1 582.6L388.5 585.4L389.1 588.6L389.1 590.5L391.0 590.8M389.1 582.6L387.2 581.0L384.7 579.8L383.5 578.2L384.4 575.8L383.5 574.1L381.6 572.5L379.5 573.1M393.1 582.6L395.7 582.0M387.8 579.8L385.3 579.0L386.6 580.6M388.5 588.2L385.3 587.8L387.2 586.2M391.0 590.8L391.3 592.5L391.8 593.7L392.5 596.4L393.8 599.5L394.3 601.5L394.0 604.0L392.5 604.3L390.6 605.3L387.8 608.2L386.6 608.0L384.1 608.3L382.2 609.6L380.3 611.1L378.8 614.5L377.2 614.0L375.0 614.4L372.8 616.0L370.9 618.7L369.7 620.9L366.6 622.8L364.7 624.3L362.8 626.2L360.5 628.1L359.0 629.9L358.1 632.1L357.8 634.3L356.9 638.0M391.8 593.7L389.1 595.6L391.0 598.0L387.8 599.5L391.0 601.1L388.5 604.2L390.6 605.3M356.9 638.0L357.8 641.7L359.2 645.4L361.6 650.4L363.6 655.6L365.3 661.8L366.5 667.2L367.2 673.0L366.9 678.7L366.5 684.6L362.2 678.8L359.2 674.5L357.8 672.4L356.4 668.7L355.0 664.6L354.2 661.4L352.2 659.7L350.5 657.0L349.7 654.7L348.4 652.0L347.8 648.9L346.9 645.4L344.0 643.1L340.3 642.4L338.4 643.5L336.5 644.6L334.6 645.7L332.5 645.5L332.1 643.9L330.3 642.3L327.8 640.6L325.3 640.2L322.8 640.2L320.9 640.6L318.9 641.1M318.9 641.1L317.1 641.3L315.9 641.5L316.5 638.7L315.6 638.2L315.3 640.2L313.4 640.4L310.9 640.2L309.0 640.4L307.1 640.9L306.2 641.7L305.2 642.4L305.9 643.9L307.1 644.9L307.7 647.5L309.6 648.9L308.7 650.4L307.1 649.6L305.2 648.2L303.4 648.9L302.1 649.8L300.2 649.6L298.4 650.0L295.9 648.9L295.2 648.2L293.4 646.0L291.5 646.4L289.0 646.4L286.5 646.0L283.3 644.8L279.3 645.3M305.2 642.4L302.7 640.6L300.5 641.7L302.7 643.0L304.6 642.0M279.3 645.3L277.1 646.0L274.0 647.8L272.7 648.6L270.2 650.7L267.1 651.8L264.6 654.0L262.1 656.1L259.9 657.9L258.4 660.0L257.4 662.5L256.8 665.4L256.4 668.2L255.8 670.3L255.5 671.3M255.5 671.3L253.3 671.0L251.1 670.2L248.3 668.9L245.3 665.9L243.3 662.5L240.9 658.6L238.3 654.7L236.4 651.1L233.7 647.0L231.4 644.6L229.3 643.1L227.0 643.5L224.9 644.1L222.7 646.8L220.8 648.9L219.1 648.4L216.4 646.8L213.9 644.6L211.8 642.6L209.5 639.5L207.0 636.2L204.6 633.8L202.0 631.8L200.1 630.1L193.9 630.1M215.5 486.2L215.5 557.7M215.5 514.7L262.3 514.7M195.1 523.2L215.5 523.2M215.5 540.7L250.2 540.7L253.3 542.0L257.1 542.0L259.6 542.9L262.1 544.2L263.0 545.1M195.1 557.7L228.0 557.7L228.0 566.0L270.2 566.0M228.0 566.0L228.0 590.2M195.1 590.2L274.5 590.2M222.0 590.2L222.0 628.4L199.4 628.4L199.5 629.2L200.1 630.1M222.0 594.1L240.8 594.1L240.8 609.1L242.7 610.3L244.6 610.5L247.1 611.9L249.6 612.2L252.7 613.0L255.2 614.1L258.3 614.9L260.2 613.8L262.1 614.5L264.6 615.3L267.1 614.4L270.2 614.3L272.7 615.3L275.3 616.1M275.3 616.1L275.6 602.6L274.5 594.1L274.5 590.2M275.3 616.1L278.1 616.8L278.1 620.8M278.1 620.8L278.1 628.4L279.0 629.9L280.8 633.6L281.2 635.8L280.2 639.5L280.1 642.4L279.3 645.3M278.1 620.8L296.0 620.9M296.0 620.9L296.5 623.9L297.4 626.2L295.9 629.2L294.6 631.4L293.4 634.3L293.2 635.8L305.1 635.8L304.9 638.4L305.9 640.2L306.2 641.7M296.0 620.9L296.5 617.9L296.8 615.7L298.0 613.4L299.6 610.3L301.5 607.7L302.7 605.0L304.0 601.9L305.2 599.9L305.2 598.0L306.2 594.9L306.5 594.1L308.4 593.3L308.7 590.3M305.2 598.0L301.0 598.0L302.4 594.1L274.5 594.1M274.5 590.2L274.5 573.3L272.7 570.1L271.5 567.2L270.2 566.0M270.2 566.0L267.3 561.2L266.8 556.9L266.1 553.5L265.2 550.1L263.6 547.6L263.0 545.1M267.3 561.2L292.5 561.0L294.5 562.8M263.0 545.1L262.1 541.6L263.0 536.4L263.0 520.5L262.3 517.8L262.3 514.7L261.4 509.6L260.8 505.0L260.2 500.4L258.9 495.7L258.6 491.0L258.1 486.2M263.0 536.4L295.7 536.4M295.7 536.4L296.2 540.7L297.7 543.3L299.3 545.0L300.9 547.6L302.4 551.0L301.2 553.1L299.0 553.7L296.8 556.0L296.5 559.4L294.5 562.8L294.3 566.0L295.9 569.3L298.7 572.5L300.5 574.6L302.1 576.6L302.1 579.8L304.0 582.6L306.5 585.4L306.5 588.6L308.7 590.3M295.7 536.4L295.2 533.8L292.7 530.3L289.0 527.6L285.8 525.4L286.2 522.3L285.8 518.7L289.0 514.2L289.0 508.3L290.2 507.3M299.4 545.0L317.1 545.0M300.9 509.0L302.7 510.6L306.5 512.4L310.2 513.3L315.3 514.7L316.8 516.9L317.1 519.6L318.4 522.3M318.9 551.8L318.8 570.9L318.4 572.9L319.0 575.8L317.4 578.2L316.2 580.6L315.6 583.8M308.7 590.3L312.1 589.4L313.1 587.0L315.3 586.2L315.6 583.8L318.4 582.6L321.5 583.8L324.6 583.0L326.5 581.4L328.4 582.2L329.6 580.2L332.1 577.0L334.6 576.2L335.8 573.3L337.8 573.3L339.7 575.8L343.4 577.0L346.5 577.0L349.7 578.8L352.2 577.4L353.1 574.6L355.0 573.3L356.9 571.3L359.7 569.7L360.9 567.6L361.6 565.2L362.2 562.7L362.7 560.7M335.8 551.8L335.8 573.3M323.3 551.3L335.8 551.3L344.3 551.6M362.7 549.4L362.7 568.3L392.3 568.3M369.2 568.3L369.2 572.5L371.6 570.5L373.4 569.3L376.3 568.9L378.4 569.3L379.5 573.1M379.5 573.1L377.8 572.5L375.9 574.1L373.1 576.2L370.9 578.6L368.4 580.6L366.6 583.0L364.4 585.4L362.2 586.6L359.7 587.8L356.5 588.2L353.6 585.9M353.6 585.9L351.5 584.6L350.3 581.4L349.7 578.8M353.6 585.9L350.9 588.6L347.8 590.5L342.8 593.3M306.5 594.1L315.4 594.1L315.4 592.7L342.9 593.3L355.4 593.4L391.8 593.7M355.4 593.4L354.0 595.6L351.5 597.2L347.8 598.4L344.0 601.5L340.9 603.4L338.9 605.7M338.9 605.7L302.4 605.7M338.9 605.7L346.5 605.7M346.5 605.7L348.4 605.0L350.9 604.2L359.4 604.6L360.1 605.0L360.9 607.1L368.0 607.3L375.0 614.4M346.5 605.7L348.4 608.8L350.0 611.9L352.2 615.3L354.0 617.9L356.2 620.6L357.8 623.9L359.0 626.9L360.5 628.1M330.9 605.7L333.4 620.9L334.6 624.7L334.3 628.4L334.0 632.1L334.6 635.8M334.6 635.8L335.5 637.9L352.2 639.0L353.1 640.6L353.4 638.7L354.7 637.6L356.9 638.0M318.4 640.9L318.4 635.8L334.6 635.8M314.6 605.7L315.3 613.4L314.3 618.7L312.9 629.2L313.4 640.4M367.4 547.0L367.4 549.3L395.0 549.3L396.6 551.0L398.5 553.9L399.1 554.8M399.1 554.8L404.1 557.7M399.1 554.8L396.6 558.1L396.0 561.0L397.2 562.7L398.8 564.3L396.6 566.4L394.7 567.6L393.8 569.3M392.3 568.3L393.5 567.3L394.7 567.6M392.3 568.3L392.3 578.6L396.9 578.6M407.5 523.2L407.5 527.6L407.2 535.5L408.2 542.9M408.2 542.9L406.6 548.8L406.6 556.0L405.7 557.7M419.1 523.1L418.2 525.9L416.0 529.4L414.1 534.2L413.5 539.0L412.5 543.0M408.2 542.9L420.4 543.3L422.2 542.0L423.4 541.8M421.7 520.5L422.2 527.6L422.6 533.8L424.1 540.1M406.6 548.8L417.2 549.1L419.9 549.1L419.9 550.1L421.0 551.8L421.5 553.5M417.2 549.1L416.9 555.0M196.5 486.2L196.5 630.1M429.5 506.0L429.5 536.4" fill="none" stroke="#000" stroke-width="2.8" stroke-linejoin="round" stroke-linecap="round"/>
<path clip-path="url(#cp3)" d="M391.1 591.3L392.6 590.8M391.4 592.3L388.5 593.2M391.8 593.9L389.0 594.6M392.8 597.1L391.6 597.6M393.4 598.7L389.6 600.2M393.9 600.0L397.2 599.1M394.1 603.0L396.6 603.3M393.9 604.1L392.3 600.1M392.1 604.8L391.5 603.4M389.5 606.5L388.3 605.3M388.3 607.7L386.6 606.0M387.7 608.2L387.7 607.0M384.7 608.3L384.6 605.6M383.0 609.0L381.4 606.8M381.5 610.6L378.5 608.5M380.8 611.5L383.3 613.2M379.9 613.0L381.6 614.1M379.5 613.4L381.6 614.9M378.5 614.5L378.5 611.7M375.6 614.5L375.7 610.6M373.8 615.7L375.4 617.2M372.8 616.7L370.5 614.5M371.2 618.5L367.8 615.3M370.2 619.4L371.1 620.3M369.1 620.4L372.4 623.9M368.4 621.0L370.1 622.8M367.6 621.8L365.7 619.8M366.4 623.0L367.2 623.9M365.1 624.1L363.8 622.6M363.0 626.0L362.1 625.1M362.2 626.7L365.0 630.1M360.6 628.0L359.3 626.4M360.2 628.6L364.0 630.8M359.6 629.7L358.1 628.8M358.7 631.1L356.3 629.6M358.0 632.5L357.0 632.3M357.7 634.1L360.8 634.8M357.3 636.1L360.2 636.7M357.0 637.5L358.1 637.8M361.4 677.7L357.8 680.1M360.8 676.8L362.9 675.4M359.6 675.0L360.6 674.3M359.1 674.2L360.5 673.5M358.5 673.0L359.4 672.5M357.7 671.4L359.9 670.4M356.4 668.9L359.4 667.4M356.2 668.3L358.5 667.6M355.9 667.0L351.8 668.3M355.3 665.1L358.0 664.3M355.0 664.2L357.2 663.5M354.2 661.6L355.8 661.2M353.0 660.0L355.3 658.1M352.3 659.2L353.1 658.4M350.6 657.1L347.3 659.8M350.3 656.6L352.5 655.7M349.2 654.0L346.5 655.2M348.8 653.1L347.1 653.8M348.0 650.3L343.9 651.2M347.7 649.0L351.4 648.1M347.4 647.8L349.7 647.3M347.3 647.0L349.3 646.5M345.9 644.6L348.7 640.9M344.1 643.2L341.2 647.0M343.3 643.0L343.7 641.2M341.8 642.7L341.4 644.4M305.9 643.6L301.7 643.0M306.5 645.0L302.9 646.9M307.4 646.9L311.4 644.8M309.2 648.6L307.4 650.8M307.6 649.5L308.3 651.7M305.3 649.3L305.8 646.8M303.5 648.9L304.2 645.3M303.2 649.0L303.5 650.5M300.4 649.6L300.7 651.1M298.4 650.0L297.7 646.6M297.5 649.5L298.2 648.2M295.3 648.2L297.0 645.2M293.9 647.6L292.9 650.1M292.6 647.1L293.3 645.4M291.9 646.8L292.6 645.1M290.3 646.3L290.5 643.8M286.7 646.0L286.9 643.7M426.6 536.0L423.0 533.4M425.1 538.0L422.8 536.3M424.6 539.2L423.6 538.7M424.0 540.4L424.9 540.8M423.6 542.2L425.9 540.5M423.5 544.7L422.1 542.9M422.2 546.2L418.6 544.4M422.5 547.4L421.1 548.7M423.9 549.0L421.6 550.9M273.0 648.4L270.8 644.5M271.9 649.2L270.0 647.0M270.6 650.4L268.8 648.3" fill="none" stroke="#000" stroke-width="1.5" stroke-linecap="round" stroke-linejoin="round"/>
<path clip-path="url(#cp3)" d="M391.0 590.8L391.8 593.7L392.5 596.4L393.8 599.5L394.3 601.5L394.0 604.0L390.6 605.3L387.8 608.2L384.1 608.3L382.2 609.6L378.8 614.5L375.0 614.4L370.9 618.7L366.6 622.8L362.8 626.2L360.5 628.1L358.1 632.1L356.9 638.0M362.2 678.8L359.2 674.5L356.4 668.7L354.2 661.4L350.5 657.0L348.4 652.0L346.9 645.4L344.0 643.1L340.3 642.4M306.2 641.7L305.9 643.9L307.7 647.5L309.6 648.9L307.1 649.6L303.4 648.9L298.4 650.0L295.2 648.2L290.9 646.4L286.5 646.0M427.2 535.1L425.1 538.1L424.1 540.1L423.4 541.8L424.7 543.7L422.6 545.4L421.9 546.7L424.1 549.3M274.0 647.8L272.7 648.6L270.2 650.7" fill="none" stroke="#000" stroke-width="3.6" stroke-linecap="round" stroke-linejoin="round"/>
<polygon points="381.0,569.8 386.0,568.3 392.0,567.8 397.0,569.8 400.0,573.8 400.0,579.8 399.0,587.8 398.0,594.9 398.5,601.9 396.0,605.9 391.0,602.9 387.0,597.9 385.0,591.8 382.0,585.8 379.0,579.8 379.5,573.8" fill="#000"/>
<polygon points="401.0,555.8 405.0,551.8 411.0,549.8 418.0,548.3 424.0,546.8 428.0,547.3 427.0,550.8 420.0,554.3 412.0,556.8 405.0,559.3 402.0,559.8" fill="#000"/>
<text x="146.6" y="502.4" font-size="12.6" font-weight="bold" fill="#262626" textLength="16.7" lengthAdjust="spacingAndGlyphs">48</text><circle cx="167.8" cy="489.6" r="1.55" fill="none" stroke="#262626" stroke-width="0.9"/><text x="175.9" y="502.4" font-size="12.6" font-weight="bold" fill="#262626" textLength="9.2" lengthAdjust="spacingAndGlyphs">N</text>
<text x="146.6" y="520.9" font-size="12.6" font-weight="bold" fill="#262626" textLength="16.7" lengthAdjust="spacingAndGlyphs">46</text><circle cx="167.8" cy="508.1" r="1.55" fill="none" stroke="#262626" stroke-width="0.9"/><text x="175.9" y="520.9" font-size="12.6" font-weight="bold" fill="#262626" textLength="9.2" lengthAdjust="spacingAndGlyphs">N</text>
<text x="146.6" y="538.7" font-size="12.6" font-weight="bold" fill="#262626" textLength="16.7" lengthAdjust="spacingAndGlyphs">44</text><circle cx="167.8" cy="525.9" r="1.55" fill="none" stroke="#262626" stroke-width="0.9"/><text x="175.9" y="538.7" font-size="12.6" font-weight="bold" fill="#262626" textLength="9.2" lengthAdjust="spacingAndGlyphs">N</text>
<text x="146.6" y="556.0" font-size="12.6" font-weight="bold" fill="#262626" textLength="16.7" lengthAdjust="spacingAndGlyphs">42</text><circle cx="167.8" cy="543.2" r="1.55" fill="none" stroke="#262626" stroke-width="0.9"/><text x="175.9" y="556.0" font-size="12.6" font-weight="bold" fill="#262626" textLength="9.2" lengthAdjust="spacingAndGlyphs">N</text>
<text x="146.6" y="572.7" font-size="12.6" font-weight="bold" fill="#262626" textLength="16.7" lengthAdjust="spacingAndGlyphs">40</text><circle cx="167.8" cy="559.9" r="1.55" fill="none" stroke="#262626" stroke-width="0.9"/><text x="175.9" y="572.7" font-size="12.6" font-weight="bold" fill="#262626" textLength="9.2" lengthAdjust="spacingAndGlyphs">N</text>
<text x="146.6" y="588.9" font-size="12.6" font-weight="bold" fill="#262626" textLength="16.7" lengthAdjust="spacingAndGlyphs">38</text><circle cx="167.8" cy="576.1" r="1.55" fill="none" stroke="#262626" stroke-width="0.9"/><text x="175.9" y="588.9" font-size="12.6" font-weight="bold" fill="#262626" textLength="9.2" lengthAdjust="spacingAndGlyphs">N</text>
<text x="146.6" y="604.7" font-size="12.6" font-weight="bold" fill="#262626" textLength="16.7" lengthAdjust="spacingAndGlyphs">36</text><circle cx="167.8" cy="591.9" r="1.55" fill="none" stroke="#262626" stroke-width="0.9"/><text x="175.9" y="604.7" font-size="12.6" font-weight="bold" fill="#262626" textLength="9.2" lengthAdjust="spacingAndGlyphs">N</text>
<text x="146.6" y="620.1" font-size="12.6" font-weight="bold" fill="#262626" textLength="16.7" lengthAdjust="spacingAndGlyphs">34</text><circle cx="167.8" cy="607.3" r="1.55" fill="none" stroke="#262626" stroke-width="0.9"/><text x="175.9" y="620.1" font-size="12.6" font-weight="bold" fill="#262626" textLength="9.2" lengthAdjust="spacingAndGlyphs">N</text>
<text x="146.6" y="635.1" font-size="12.6" font-weight="bold" fill="#262626" textLength="16.7" lengthAdjust="spacingAndGlyphs">32</text><circle cx="167.8" cy="622.3" r="1.55" fill="none" stroke="#262626" stroke-width="0.9"/><text x="175.9" y="635.1" font-size="12.6" font-weight="bold" fill="#262626" textLength="9.2" lengthAdjust="spacingAndGlyphs">N</text>
<text x="146.6" y="649.8" font-size="12.6" font-weight="bold" fill="#262626" textLength="16.7" lengthAdjust="spacingAndGlyphs">30</text><circle cx="167.8" cy="637.0" r="1.55" fill="none" stroke="#262626" stroke-width="0.9"/><text x="175.9" y="649.8" font-size="12.6" font-weight="bold" fill="#262626" textLength="9.2" lengthAdjust="spacingAndGlyphs">N</text>
<text x="146.6" y="664.2" font-size="12.6" font-weight="bold" fill="#262626" textLength="16.7" lengthAdjust="spacingAndGlyphs">28</text><circle cx="167.8" cy="651.4" r="1.55" fill="none" stroke="#262626" stroke-width="0.9"/><text x="175.9" y="664.2" font-size="12.6" font-weight="bold" fill="#262626" textLength="9.2" lengthAdjust="spacingAndGlyphs">N</text>
<text x="146.6" y="678.4" font-size="12.6" font-weight="bold" fill="#262626" textLength="16.7" lengthAdjust="spacingAndGlyphs">26</text><circle cx="167.8" cy="665.6" r="1.55" fill="none" stroke="#262626" stroke-width="0.9"/><text x="175.9" y="678.4" font-size="12.6" font-weight="bold" fill="#262626" textLength="9.2" lengthAdjust="spacingAndGlyphs">N</text>
<text x="146.6" y="692.3" font-size="12.6" font-weight="bold" fill="#262626" textLength="16.7" lengthAdjust="spacingAndGlyphs">24</text><circle cx="167.8" cy="679.5" r="1.55" fill="none" stroke="#262626" stroke-width="0.9"/><text x="175.9" y="692.3" font-size="12.6" font-weight="bold" fill="#262626" textLength="9.2" lengthAdjust="spacingAndGlyphs">N</text>
<text x="146.6" y="706.0" font-size="12.6" font-weight="bold" fill="#262626" textLength="16.7" lengthAdjust="spacingAndGlyphs">22</text><circle cx="167.8" cy="693.2" r="1.55" fill="none" stroke="#262626" stroke-width="0.9"/><text x="175.9" y="706.0" font-size="12.6" font-weight="bold" fill="#262626" textLength="9.2" lengthAdjust="spacingAndGlyphs">N</text>
<text x="216.0" y="466.5" font-size="12.6" font-weight="bold" fill="#262626" textLength="24.4" lengthAdjust="spacingAndGlyphs">100</text><circle cx="245.0" cy="453.7" r="1.55" fill="none" stroke="#262626" stroke-width="0.9"/><text x="252.8" y="466.5" font-size="12.6" font-weight="bold" fill="#262626" textLength="12.4" lengthAdjust="spacingAndGlyphs">W</text>
<text x="285.2" y="466.5" font-size="12.6" font-weight="bold" fill="#262626" textLength="16.4" lengthAdjust="spacingAndGlyphs">90</text><circle cx="306.2" cy="453.7" r="1.55" fill="none" stroke="#262626" stroke-width="0.9"/><text x="314.0" y="466.5" font-size="12.6" font-weight="bold" fill="#262626" textLength="12.4" lengthAdjust="spacingAndGlyphs">W</text>
<text x="349.1" y="466.5" font-size="12.6" font-weight="bold" fill="#262626" textLength="16.4" lengthAdjust="spacingAndGlyphs">80</text><circle cx="370.1" cy="453.7" r="1.55" fill="none" stroke="#262626" stroke-width="0.9"/><text x="377.9" y="466.5" font-size="12.6" font-weight="bold" fill="#262626" textLength="12.4" lengthAdjust="spacingAndGlyphs">W</text>
<text x="411.9" y="466.5" font-size="12.6" font-weight="bold" fill="#262626" textLength="16.4" lengthAdjust="spacingAndGlyphs">70</text><circle cx="432.9" cy="453.7" r="1.55" fill="none" stroke="#262626" stroke-width="0.9"/><text x="440.7" y="466.5" font-size="12.6" font-weight="bold" fill="#262626" textLength="12.4" lengthAdjust="spacingAndGlyphs">W</text>
<text x="307.8" y="730.7" font-size="22.4" font-weight="bold" fill="#262626" text-anchor="middle" textLength="355.5" lengthAdjust="spacingAndGlyphs">SAT-RAP 850 hPa MR (g/kg)</text>
<rect x="441.3" y="485.2" width="23.5" height="215.3" fill="url(#jet)" stroke="#262626" stroke-width="0.8"/>
<line x1="461.8" x2="464.8" y1="686.1" y2="686.1" stroke="#262626" stroke-width="0.8"/><text x="474.4" y="693.6" font-size="21.4" font-weight="bold" fill="#262626" textLength="22.0" lengthAdjust="spacingAndGlyphs">-4</text>
<line x1="461.8" x2="464.8" y1="639.5" y2="639.5" stroke="#262626" stroke-width="0.8"/><text x="474.4" y="647.0" font-size="21.4" font-weight="bold" fill="#262626" textLength="22.0" lengthAdjust="spacingAndGlyphs">-2</text>
<line x1="461.8" x2="464.8" y1="592.9" y2="592.9" stroke="#262626" stroke-width="0.8"/><text x="474.4" y="600.4" font-size="21.4" font-weight="bold" fill="#262626" textLength="13.0" lengthAdjust="spacingAndGlyphs">0</text>
<line x1="461.8" x2="464.8" y1="546.2" y2="546.2" stroke="#262626" stroke-width="0.8"/><text x="474.4" y="553.7" font-size="21.4" font-weight="bold" fill="#262626" textLength="13.0" lengthAdjust="spacingAndGlyphs">2</text>
<line x1="461.8" x2="464.8" y1="499.6" y2="499.6" stroke="#262626" stroke-width="0.8"/><text x="474.4" y="507.1" font-size="21.4" font-weight="bold" fill="#262626" textLength="13.0" lengthAdjust="spacingAndGlyphs">4</text>
</g>
<g>
<rect x="617.0" y="486.2" width="233.6" height="213.1" fill="none" stroke="#000" stroke-width="1.2"/>
<clipPath id="sw4"><polygon points="633.0,485.1 633.7,484.4 634.4,483.7 635.1,483.3 635.8,483.0 636.6,483.0 637.3,483.3 638.0,483.7 638.7,484.4 639.4,485.1 640.1,484.4 640.8,483.7 641.5,483.3 642.2,483.0 642.9,483.0 643.6,483.3 644.3,483.7 645.0,484.4 645.7,485.1 646.4,484.4 647.1,483.7 647.8,483.3 648.5,483.0 649.2,483.0 649.9,483.3 650.6,483.7 651.3,484.4 652.0,485.1 652.7,484.4 653.4,483.7 654.1,483.3 654.8,483.0 655.5,483.0 656.2,483.3 656.9,483.7 657.6,484.4 658.3,485.1 659.0,484.4 659.7,483.7 660.4,483.3 661.1,483.0 661.8,483.0 662.5,483.3 663.2,483.7 663.9,484.4 664.6,485.1 665.3,484.4 666.0,483.7 666.7,483.3 667.4,483.0 668.1,483.0 668.8,483.3 669.5,483.7 670.2,484.4 670.9,485.1 671.6,484.4 672.3,483.7 673.0,483.3 673.7,483.0 674.4,483.0 675.1,483.3 675.9,483.7 676.6,484.4 677.3,485.1 678.0,484.4 678.7,483.7 679.4,483.3 680.1,483.0 680.8,483.0 681.5,483.3 682.2,483.7 682.9,484.4 683.6,485.1 684.3,484.4 685.0,483.7 685.7,483.3 686.4,483.0 687.1,483.0 687.8,483.3 688.5,483.7 689.2,484.4 689.9,485.1 690.6,484.4 691.3,483.7 692.0,483.3 692.7,483.0 693.4,483.0 694.1,483.3 694.8,483.7 695.5,484.4 696.2,485.1 696.9,484.4 697.6,483.7 698.3,483.3 699.0,483.0 699.7,483.0 700.4,483.3 701.1,483.7 701.8,484.4 702.5,485.1 703.2,484.4 703.9,483.7 704.6,483.3 705.3,483.0 706.0,483.0 706.7,483.3 707.4,483.7 708.1,484.4 708.8,485.1 709.5,484.4 710.2,483.7 710.9,483.3 711.6,483.0 712.3,483.0 713.0,483.3 713.7,483.7 714.5,484.4 715.2,485.1 715.9,484.4 716.6,483.7 717.3,483.3 718.0,483.0 718.7,483.0 719.4,483.3 720.1,483.7 720.8,484.4 721.5,485.1 722.2,484.4 722.9,483.7 723.6,483.3 724.3,483.0 725.0,483.0 725.7,483.3 726.4,483.7 727.1,484.4 727.8,485.1 728.5,484.4 729.2,483.7 729.9,483.3 730.6,483.0 731.3,483.0 732.0,483.3 732.7,483.7 733.4,484.4 734.1,485.1 734.8,484.4 735.5,483.7 736.2,483.3 736.9,483.0 737.6,483.0 738.3,483.3 739.0,483.7 739.7,484.4 740.4,485.1 741.1,484.4 741.8,483.7 742.5,483.3 743.2,483.0 743.9,483.0 744.6,483.3 745.3,483.7 746.0,484.4 746.7,485.1 747.4,484.4 748.1,483.7 748.8,483.3 749.5,483.0 750.2,483.0 750.9,483.3 751.6,483.7 752.3,484.4 753.0,485.1 753.8,484.4 754.5,483.7 755.2,483.3 755.9,483.0 756.6,483.0 757.3,483.3 758.0,483.7 758.7,484.4 759.4,485.1 760.1,484.4 760.8,483.7 761.5,483.3 762.2,483.0 762.9,483.0 763.6,483.3 764.3,483.7 765.0,484.4 765.7,485.1 766.4,484.4 767.1,483.7 767.8,483.3 768.5,483.0 769.2,483.0 769.9,483.3 770.6,483.7 771.3,484.4 772.0,485.1 772.7,484.4 773.4,483.7 774.1,483.3 774.8,483.0 775.5,483.0 776.2,483.3 776.9,483.7 777.6,484.4 778.3,485.1 779.0,484.4 779.7,483.7 780.4,483.3 781.1,483.0 781.8,483.0 782.5,483.3 783.2,483.7 783.9,484.4 784.6,485.1 785.3,484.4 786.0,483.7 786.7,483.3 787.4,483.0 788.1,483.0 788.8,483.3 789.5,483.7 790.2,484.4 790.9,485.1 791.6,484.4 792.4,483.7 793.1,483.3 793.8,483.0 794.5,483.0 795.2,483.3 795.9,483.7 796.6,484.4 797.3,485.1 798.0,484.4 798.7,483.7 799.4,483.3 800.1,483.0 800.8,483.0 801.5,483.3 802.2,483.7 802.9,484.4 803.6,485.1 804.3,484.4 805.0,483.7 805.7,483.3 806.4,483.0 807.1,483.0 807.8,483.3 808.5,483.7 809.2,484.4 809.9,485.1 810.6,484.4 811.3,483.7 812.0,483.3 812.7,483.0 813.4,483.0 814.1,483.3 814.8,483.7 815.5,484.4 816.2,485.1 816.9,484.4 817.6,483.7 818.3,483.3 819.0,483.0 819.7,483.0 820.4,483.3 821.1,483.7 821.8,484.4 822.5,485.1 823.2,484.4 823.9,483.7 824.6,483.3 825.3,483.0 826.0,483.0 826.7,483.3 827.4,483.7 828.1,484.4 828.8,485.1 829.5,484.4 830.2,483.7 809.5,532.2 791.9,567.1 780.3,596.3 769.6,627.3 763.6,641.5 746.5,696.9 745.3,700.5 745.3,701.4 744.6,702.0 743.9,702.4 743.2,702.6 742.5,702.6 741.8,702.3 741.1,701.8 740.4,701.2 739.7,700.7 739.0,701.4 738.3,702.0 737.6,702.4 736.9,702.6 736.2,702.6 735.5,702.3 734.8,701.8 734.1,701.2 733.4,700.7 732.7,701.4 732.0,702.0 731.3,702.4 730.6,702.6 729.9,702.6 729.2,702.3 728.5,701.8 727.8,701.2 727.1,700.7 726.4,701.4 725.7,702.0 725.0,702.4 724.3,702.6 723.6,702.6 722.9,702.3 722.2,701.8 721.5,701.2 720.8,700.7 720.1,701.4 719.4,702.0 718.7,702.4 718.0,702.6 717.3,702.6 716.6,702.3 715.9,701.8 715.2,701.2 714.5,700.7 713.7,701.4 713.0,702.0 712.3,702.4 711.6,702.6 710.9,702.6 710.2,702.3 709.5,701.8 708.8,701.2 708.1,700.7 707.4,701.4 706.7,702.0 706.0,702.4 705.3,702.6 704.6,702.6 703.9,702.3 703.2,701.8 702.5,701.2 701.8,700.7 701.1,701.4 700.4,702.0 699.7,702.4 699.0,702.6 698.3,702.6 697.6,702.3 696.9,701.8 696.2,701.2 695.5,700.7 694.8,701.4 694.1,702.0 693.4,702.4 692.7,702.6 692.0,702.6 691.3,702.3 690.6,701.8 689.9,701.2 689.2,700.7 688.5,701.4 687.8,702.0 687.1,702.4 686.4,702.6 685.7,702.6 685.0,702.3 684.3,701.8 683.6,701.2 682.9,700.7 682.2,701.4 681.5,702.0 680.8,702.4 680.1,702.6 679.4,702.6 678.7,702.3 678.0,701.8 677.3,701.2 676.6,700.7 675.9,701.4 675.1,702.0 674.4,702.4 673.7,702.6 673.0,702.6 672.3,702.3 671.6,701.8 670.9,701.2 670.2,700.7 669.5,701.4 668.8,702.0 668.1,702.4 667.4,702.6 666.7,702.6 666.0,702.3 665.3,701.8 664.6,701.2 663.9,700.7 663.2,701.4 662.5,702.0 661.8,702.4 661.1,702.6 660.4,702.6 659.7,702.3 659.0,701.8 658.3,701.2 657.6,700.7 656.9,701.4 656.2,702.0 655.5,702.4 654.8,702.6 654.1,702.6 653.4,702.3 652.7,701.8 652.0,701.2 651.3,700.7 650.6,701.4 649.9,702.0 649.2,702.4 648.5,702.6 647.8,702.6 647.1,702.3 646.4,701.8 645.7,701.2 645.0,700.7 644.3,701.4 643.6,702.0 642.9,702.4 642.2,702.6 641.5,702.6 640.8,702.3 640.1,701.8 639.4,701.2 638.7,700.7 638.0,701.4 637.3,702.0 636.6,702.4 635.8,702.6 635.1,702.6 634.4,702.3 633.7,701.8 633.0,701.2 632.3,700.7 631.6,701.4 630.9,702.0 630.2,702.4 629.5,702.6 628.8,702.6 628.1,702.3 627.4,701.8 626.7,701.2 626.0,700.7 625.3,701.4 624.6,702.0 623.9,702.4 623.2,702.6 622.5,702.6 621.8,702.3 621.1,701.8 620.4,701.2 619.7,700.7 619.0,701.4 618.3,702.0 617.6,702.4 616.9,702.6 616.2,702.6 615.5,702.3 614.8,701.8 614.1,701.2 613.5,690.0 614.5,659.9 616.5,630.9 619.0,609.9 621.5,589.8 623.0,572.8 625.0,554.8 626.5,539.8 628.5,519.7 630.5,499.7 633.0,485.1"/></clipPath>
<g clip-path="url(#sw4)"><g filter="url(#jf)"><rect x="609" y="479" width="12" height="12" fill="#808080"/><rect x="619" y="479" width="12" height="12" fill="#808080"/><rect x="629" y="479" width="12" height="12" fill="#808080"/><rect x="639" y="479" width="12" height="12" fill="#919191"/><rect x="649" y="479" width="12" height="12" fill="#919191"/><rect x="659" y="479" width="12" height="12" fill="#a1a1a1"/><rect x="669" y="479" width="12" height="12" fill="#a1a1a1"/><rect x="679" y="479" width="12" height="12" fill="#808080"/><rect x="689" y="479" width="12" height="12" fill="#808080"/><rect x="699" y="479" width="12" height="12" fill="#808080"/><rect x="709" y="479" width="12" height="12" fill="#808080"/><rect x="719" y="479" width="12" height="12" fill="#808080"/><rect x="729" y="479" width="12" height="12" fill="#808080"/><rect x="739" y="479" width="12" height="12" fill="#808080"/><rect x="749" y="479" width="12" height="12" fill="#808080"/><rect x="759" y="479" width="12" height="12" fill="#808080"/><rect x="769" y="479" width="12" height="12" fill="#808080"/><rect x="779" y="479" width="12" height="12" fill="#808080" fill-opacity="0.50"/><rect x="799" y="479" width="12" height="12" fill="#6e6e6e" fill-opacity="0.50"/><rect x="809" y="479" width="12" height="12" fill="#6e6e6e" fill-opacity="0.50"/><rect x="819" y="479" width="12" height="12" fill="#6e6e6e" fill-opacity="0.50"/><rect x="829" y="479" width="12" height="12" fill="#6e6e6e"/><rect x="839" y="479" width="12" height="12" fill="#6e6e6e"/><rect x="849" y="479" width="12" height="12" fill="#6e6e6e"/><rect x="609" y="489" width="12" height="12" fill="#5c5c5c"/><rect x="619" y="489" width="12" height="12" fill="#5c5c5c"/><rect x="629" y="489" width="12" height="12" fill="#5c5c5c"/><rect x="639" y="489" width="12" height="12" fill="#919191"/><rect x="649" y="489" width="12" height="12" fill="#919191"/><rect x="659" y="489" width="12" height="12" fill="#808080"/><rect x="669" y="489" width="12" height="12" fill="#808080"/><rect x="679" y="489" width="12" height="12" fill="#808080"/><rect x="689" y="489" width="12" height="12" fill="#919191"/><rect x="699" y="489" width="12" height="12" fill="#919191"/><rect x="709" y="489" width="12" height="12" fill="#808080"/><rect x="719" y="489" width="12" height="12" fill="#808080"/><rect x="729" y="489" width="12" height="12" fill="#808080"/><rect x="739" y="489" width="12" height="12" fill="#808080"/><rect x="749" y="489" width="12" height="12" fill="#808080"/><rect x="759" y="489" width="12" height="12" fill="#808080"/><rect x="769" y="489" width="12" height="12" fill="#808080"/><rect x="779" y="489" width="12" height="12" fill="#808080"/><rect x="789" y="489" width="12" height="12" fill="#808080"/><rect x="799" y="489" width="12" height="12" fill="#6e6e6e"/><rect x="829" y="489" width="12" height="12" fill="#6e6e6e"/><rect x="839" y="489" width="12" height="12" fill="#6e6e6e"/><rect x="609" y="499" width="12" height="12" fill="#5c5c5c"/><rect x="619" y="499" width="12" height="12" fill="#5c5c5c"/><rect x="629" y="499" width="12" height="12" fill="#5c5c5c"/><rect x="639" y="499" width="12" height="12" fill="#808080"/><rect x="649" y="499" width="12" height="12" fill="#808080"/><rect x="659" y="499" width="12" height="12" fill="#808080"/><rect x="669" y="499" width="12" height="12" fill="#808080"/><rect x="679" y="499" width="12" height="12" fill="#808080"/><rect x="689" y="499" width="12" height="12" fill="#6e6e6e"/><rect x="699" y="499" width="12" height="12" fill="#808080"/><rect x="709" y="499" width="12" height="12" fill="#808080"/><rect x="719" y="499" width="12" height="12" fill="#808080"/><rect x="729" y="499" width="12" height="12" fill="#919191"/><rect x="739" y="499" width="12" height="12" fill="#919191"/><rect x="749" y="499" width="12" height="12" fill="#808080"/><rect x="759" y="499" width="12" height="12" fill="#808080"/><rect x="769" y="499" width="12" height="12" fill="#808080"/><rect x="779" y="499" width="12" height="12" fill="#6e6e6e" fill-opacity="0.50"/><rect x="789" y="499" width="12" height="12" fill="#6e6e6e"/><rect x="799" y="499" width="12" height="12" fill="#6e6e6e"/><rect x="819" y="499" width="12" height="12" fill="#6e6e6e"/><rect x="829" y="499" width="12" height="12" fill="#6e6e6e"/><rect x="609" y="509" width="12" height="12" fill="#5c5c5c"/><rect x="619" y="509" width="12" height="12" fill="#5c5c5c"/><rect x="629" y="509" width="12" height="12" fill="#5c5c5c"/><rect x="639" y="509" width="12" height="12" fill="#808080"/><rect x="649" y="509" width="12" height="12" fill="#808080"/><rect x="659" y="509" width="12" height="12" fill="#919191"/><rect x="669" y="509" width="12" height="12" fill="#919191"/><rect x="679" y="509" width="12" height="12" fill="#808080"/><rect x="689" y="509" width="12" height="12" fill="#808080"/><rect x="699" y="509" width="12" height="12" fill="#808080"/><rect x="709" y="509" width="12" height="12" fill="#808080"/><rect x="719" y="509" width="12" height="12" fill="#919191"/><rect x="729" y="509" width="12" height="12" fill="#919191"/><rect x="739" y="509" width="12" height="12" fill="#808080"/><rect x="749" y="509" width="12" height="12" fill="#808080"/><rect x="759" y="509" width="12" height="12" fill="#808080"/><rect x="769" y="509" width="12" height="12" fill="#808080"/><rect x="779" y="509" width="12" height="12" fill="#6e6e6e"/><rect x="789" y="509" width="12" height="12" fill="#6e6e6e"/><rect x="799" y="509" width="12" height="12" fill="#6e6e6e"/><rect x="809" y="509" width="12" height="12" fill="#6e6e6e"/><rect x="819" y="509" width="12" height="12" fill="#6e6e6e"/><rect x="829" y="509" width="12" height="12" fill="#6e6e6e"/><rect x="839" y="509" width="12" height="12" fill="#6e6e6e"/><rect x="609" y="519" width="12" height="12" fill="#5c5c5c"/><rect x="619" y="519" width="12" height="12" fill="#5c5c5c"/><rect x="639" y="519" width="12" height="12" fill="#6e6e6e"/><rect x="649" y="519" width="12" height="12" fill="#6e6e6e"/><rect x="659" y="519" width="12" height="12" fill="#b2b2b2"/><rect x="669" y="519" width="12" height="12" fill="#b2b2b2"/><rect x="679" y="519" width="12" height="12" fill="#919191"/><rect x="689" y="519" width="12" height="12" fill="#919191"/><rect x="699" y="519" width="12" height="12" fill="#808080"/><rect x="709" y="519" width="12" height="12" fill="#808080"/><rect x="719" y="519" width="12" height="12" fill="#808080"/><rect x="729" y="519" width="12" height="12" fill="#919191"/><rect x="739" y="519" width="12" height="12" fill="#6e6e6e"/><rect x="749" y="519" width="12" height="12" fill="#919191"/><rect x="759" y="519" width="12" height="12" fill="#808080"/><rect x="769" y="519" width="12" height="12" fill="#808080" fill-opacity="0.50"/><rect x="779" y="519" width="12" height="12" fill="#808080"/><rect x="799" y="519" width="12" height="12" fill="#6e6e6e"/><rect x="809" y="519" width="12" height="12" fill="#6e6e6e"/><rect x="819" y="519" width="12" height="12" fill="#6e6e6e"/><rect x="829" y="519" width="12" height="12" fill="#6e6e6e"/><rect x="619" y="529" width="12" height="12" fill="#5c5c5c"/><rect x="639" y="529" width="12" height="12" fill="#5c5c5c"/><rect x="649" y="529" width="12" height="12" fill="#5c5c5c"/><rect x="659" y="529" width="12" height="12" fill="#6e6e6e"/><rect x="669" y="529" width="12" height="12" fill="#808080"/><rect x="679" y="529" width="12" height="12" fill="#919191"/><rect x="689" y="529" width="12" height="12" fill="#919191"/><rect x="699" y="529" width="12" height="12" fill="#808080"/><rect x="709" y="529" width="12" height="12" fill="#6e6e6e"/><rect x="719" y="529" width="12" height="12" fill="#808080"/><rect x="729" y="529" width="12" height="12" fill="#808080"/><rect x="739" y="529" width="12" height="12" fill="#6e6e6e"/><rect x="749" y="529" width="12" height="12" fill="#808080"/><rect x="759" y="529" width="12" height="12" fill="#808080"/><rect x="769" y="529" width="12" height="12" fill="#808080"/><rect x="779" y="529" width="12" height="12" fill="#808080"/><rect x="789" y="529" width="12" height="12" fill="#919191"/><rect x="809" y="529" width="12" height="12" fill="#6e6e6e"/><rect x="819" y="529" width="12" height="12" fill="#6e6e6e"/><rect x="609" y="539" width="12" height="12" fill="#6e6e6e"/><rect x="649" y="539" width="12" height="12" fill="#4c4c4c"/><rect x="659" y="539" width="12" height="12" fill="#4c4c4c"/><rect x="669" y="539" width="12" height="12" fill="#4c4c4c"/><rect x="679" y="539" width="12" height="12" fill="#3d3d3d"/><rect x="689" y="539" width="12" height="12" fill="#2e2e2e"/><rect x="699" y="539" width="12" height="12" fill="#2e2e2e"/><rect x="709" y="539" width="12" height="12" fill="#3d3d3d"/><rect x="719" y="539" width="12" height="12" fill="#5c5c5c"/><rect x="729" y="539" width="12" height="12" fill="#6e6e6e"/><rect x="739" y="539" width="12" height="12" fill="#6e6e6e"/><rect x="749" y="539" width="12" height="12" fill="#808080"/><rect x="759" y="539" width="12" height="12" fill="#808080"/><rect x="769" y="539" width="12" height="12" fill="#808080"/><rect x="779" y="539" width="12" height="12" fill="#808080"/><rect x="789" y="539" width="12" height="12" fill="#808080"/><rect x="799" y="539" width="12" height="12" fill="#808080"/><rect x="809" y="539" width="12" height="12" fill="#808080"/><rect x="819" y="539" width="12" height="12" fill="#808080"/><rect x="609" y="549" width="12" height="12" fill="#6e6e6e"/><rect x="649" y="549" width="12" height="12" fill="#4c4c4c"/><rect x="659" y="549" width="12" height="12" fill="#4c4c4c"/><rect x="669" y="549" width="12" height="12" fill="#4c4c4c"/><rect x="679" y="549" width="12" height="12" fill="#3d3d3d"/><rect x="689" y="549" width="12" height="12" fill="#2e2e2e"/><rect x="699" y="549" width="12" height="12" fill="#2e2e2e"/><rect x="709" y="549" width="12" height="12" fill="#2e2e2e"/><rect x="719" y="549" width="12" height="12" fill="#5c5c5c"/><rect x="729" y="549" width="12" height="12" fill="#6e6e6e"/><rect x="739" y="549" width="12" height="12" fill="#6e6e6e"/><rect x="749" y="549" width="12" height="12" fill="#6e6e6e"/><rect x="759" y="549" width="12" height="12" fill="#6e6e6e"/><rect x="769" y="549" width="12" height="12" fill="#6e6e6e"/><rect x="779" y="549" width="12" height="12" fill="#6e6e6e"/><rect x="789" y="549" width="12" height="12" fill="#6e6e6e"/><rect x="799" y="549" width="12" height="12" fill="#6e6e6e"/><rect x="809" y="549" width="12" height="12" fill="#6e6e6e"/><rect x="819" y="549" width="12" height="12" fill="#6e6e6e"/><rect x="609" y="559" width="12" height="12" fill="#6e6e6e"/><rect x="619" y="559" width="12" height="12" fill="#6e6e6e"/><rect x="629" y="559" width="12" height="12" fill="#6e6e6e"/><rect x="639" y="559" width="12" height="12" fill="#5c5c5c"/><rect x="649" y="559" width="12" height="12" fill="#4c4c4c"/><rect x="659" y="559" width="12" height="12" fill="#4c4c4c"/><rect x="669" y="559" width="12" height="12" fill="#4c4c4c"/><rect x="679" y="559" width="12" height="12" fill="#4c4c4c"/><rect x="689" y="559" width="12" height="12" fill="#5c5c5c"/><rect x="699" y="559" width="12" height="12" fill="#5c5c5c"/><rect x="709" y="559" width="12" height="12" fill="#3d3d3d"/><rect x="719" y="559" width="12" height="12" fill="#3d3d3d"/><rect x="729" y="559" width="12" height="12" fill="#5c5c5c"/><rect x="739" y="559" width="12" height="12" fill="#6e6e6e"/><rect x="749" y="559" width="12" height="12" fill="#6e6e6e"/><rect x="759" y="559" width="12" height="12" fill="#6e6e6e"/><rect x="769" y="559" width="12" height="12" fill="#6e6e6e"/><rect x="779" y="559" width="12" height="12" fill="#6e6e6e"/><rect x="789" y="559" width="12" height="12" fill="#6e6e6e"/><rect x="799" y="559" width="12" height="12" fill="#6e6e6e"/><rect x="809" y="559" width="12" height="12" fill="#6e6e6e"/><rect x="609" y="569" width="12" height="12" fill="#5c5c5c"/><rect x="619" y="569" width="12" height="12" fill="#5c5c5c"/><rect x="629" y="569" width="12" height="12" fill="#6e6e6e"/><rect x="639" y="569" width="12" height="12" fill="#5c5c5c"/><rect x="649" y="569" width="12" height="12" fill="#5c5c5c"/><rect x="679" y="569" width="12" height="12" fill="#5c5c5c"/><rect x="699" y="569" width="12" height="12" fill="#5c5c5c"/><rect x="719" y="569" width="12" height="12" fill="#3d3d3d"/><rect x="749" y="569" width="12" height="12" fill="#6e6e6e"/><rect x="759" y="569" width="12" height="12" fill="#6e6e6e"/><rect x="769" y="569" width="12" height="12" fill="#5c5c5c"/><rect x="779" y="569" width="12" height="12" fill="#5c5c5c"/><rect x="789" y="569" width="12" height="12" fill="#5c5c5c"/><rect x="799" y="569" width="12" height="12" fill="#5c5c5c"/><rect x="809" y="569" width="12" height="12" fill="#5c5c5c"/><rect x="609" y="579" width="12" height="12" fill="#4c4c4c"/><rect x="619" y="579" width="12" height="12" fill="#4c4c4c"/><rect x="629" y="579" width="12" height="12" fill="#3d3d3d"/><rect x="639" y="579" width="12" height="12" fill="#4c4c4c"/><rect x="649" y="579" width="12" height="12" fill="#4c4c4c"/><rect x="699" y="579" width="12" height="12" fill="#2e2e2e"/><rect x="749" y="579" width="12" height="12" fill="#5c5c5c"/><rect x="759" y="579" width="12" height="12" fill="#5c5c5c"/><rect x="779" y="579" width="12" height="12" fill="#5c5c5c"/><rect x="789" y="579" width="12" height="12" fill="#5c5c5c"/><rect x="799" y="579" width="12" height="12" fill="#5c5c5c"/><rect x="609" y="589" width="12" height="12" fill="#919191"/><rect x="619" y="589" width="12" height="12" fill="#919191"/><rect x="629" y="589" width="12" height="12" fill="#4c4c4c"/><rect x="639" y="589" width="12" height="12" fill="#3d3d3d"/><rect x="649" y="589" width="12" height="12" fill="#3d3d3d"/><rect x="689" y="589" width="12" height="12" fill="#f0f0f0"/><rect x="699" y="589" width="12" height="12" fill="#a1a1a1"/><rect x="779" y="589" width="12" height="12" fill="#5c5c5c"/><rect x="789" y="589" width="12" height="12" fill="#5c5c5c"/><rect x="609" y="599" width="12" height="12" fill="#b2b2b2"/><rect x="619" y="599" width="12" height="12" fill="#b2b2b2"/><rect x="629" y="599" width="12" height="12" fill="#4c4c4c"/><rect x="639" y="599" width="12" height="12" fill="#2e2e2e"/><rect x="649" y="599" width="12" height="12" fill="#4c4c4c"/><rect x="659" y="599" width="12" height="12" fill="#4c4c4c"/><rect x="679" y="599" width="12" height="12" fill="#1f1f1f"/><rect x="779" y="599" width="12" height="12" fill="#3d3d3d"/><rect x="609" y="609" width="12" height="12" fill="#c2c2c2"/><rect x="619" y="609" width="12" height="12" fill="#c2c2c2"/><rect x="629" y="609" width="12" height="12" fill="#3d3d3d"/><rect x="639" y="609" width="12" height="12" fill="#2e2e2e"/><rect x="649" y="609" width="12" height="12" fill="#b2b2b2"/><rect x="669" y="609" width="12" height="12" fill="#1f1f1f"/><rect x="679" y="609" width="12" height="12" fill="#1f1f1f"/><rect x="699" y="609" width="12" height="12" fill="#6e6e6e"/><rect x="709" y="609" width="12" height="12" fill="#6e6e6e"/><rect x="719" y="609" width="12" height="12" fill="#5c5c5c"/><rect x="739" y="609" width="12" height="12" fill="#5c5c5c"/><rect x="749" y="609" width="12" height="12" fill="#1f1f1f"/><rect x="759" y="609" width="12" height="12" fill="#1f1f1f"/><rect x="769" y="609" width="12" height="12" fill="#1f1f1f"/><rect x="779" y="609" width="12" height="12" fill="#1f1f1f"/><rect x="789" y="609" width="12" height="12" fill="#1f1f1f"/><rect x="609" y="619" width="12" height="12" fill="#2e2e2e"/><rect x="619" y="619" width="12" height="12" fill="#3d3d3d"/><rect x="629" y="619" width="12" height="12" fill="#2e2e2e"/><rect x="649" y="619" width="12" height="12" fill="#2e2e2e"/><rect x="659" y="619" width="12" height="12" fill="#3d3d3d"/><rect x="669" y="619" width="12" height="12" fill="#2e2e2e"/><rect x="679" y="619" width="12" height="12" fill="#3d3d3d"/><rect x="689" y="619" width="12" height="12" fill="#3d3d3d"/><rect x="699" y="619" width="12" height="12" fill="#5c5c5c"/><rect x="709" y="619" width="12" height="12" fill="#6e6e6e"/><rect x="719" y="619" width="12" height="12" fill="#6e6e6e"/><rect x="729" y="619" width="12" height="12" fill="#6e6e6e"/><rect x="739" y="619" width="12" height="12" fill="#6e6e6e"/><rect x="749" y="619" width="12" height="12" fill="#6e6e6e"/><rect x="759" y="619" width="12" height="12" fill="#0f0f0f"/><rect x="769" y="619" width="12" height="12" fill="#0f0f0f"/><rect x="779" y="619" width="12" height="12" fill="#0f0f0f"/><rect x="789" y="619" width="12" height="12" fill="#0f0f0f"/><rect x="609" y="629" width="12" height="12" fill="#2e2e2e"/><rect x="619" y="629" width="12" height="12" fill="#2e2e2e"/><rect x="629" y="629" width="12" height="12" fill="#2e2e2e"/><rect x="649" y="629" width="12" height="12" fill="#2e2e2e"/><rect x="659" y="629" width="12" height="12" fill="#2e2e2e"/><rect x="669" y="629" width="12" height="12" fill="#4c4c4c"/><rect x="679" y="629" width="12" height="12" fill="#3d3d3d"/><rect x="689" y="629" width="12" height="12" fill="#3d3d3d"/><rect x="699" y="629" width="12" height="12" fill="#5c5c5c"/><rect x="709" y="629" width="12" height="12" fill="#6e6e6e"/><rect x="719" y="629" width="12" height="12" fill="#6e6e6e"/><rect x="729" y="629" width="12" height="12" fill="#6e6e6e"/><rect x="739" y="629" width="12" height="12" fill="#6e6e6e"/><rect x="749" y="629" width="12" height="12" fill="#6e6e6e"/><rect x="759" y="629" width="12" height="12" fill="#5c5c5c"/><rect x="769" y="629" width="12" height="12" fill="#5c5c5c"/><rect x="779" y="629" width="12" height="12" fill="#5c5c5c"/><rect x="789" y="629" width="12" height="12" fill="#5c5c5c"/><rect x="609" y="639" width="12" height="12" fill="#2e2e2e"/><rect x="619" y="639" width="12" height="12" fill="#2e2e2e"/><rect x="629" y="639" width="12" height="12" fill="#2e2e2e"/><rect x="639" y="639" width="12" height="12" fill="#2e2e2e"/><rect x="649" y="639" width="12" height="12" fill="#2e2e2e"/><rect x="659" y="639" width="12" height="12" fill="#3d3d3d"/><rect x="669" y="639" width="12" height="12" fill="#4c4c4c"/><rect x="679" y="639" width="12" height="12" fill="#3d3d3d"/><rect x="689" y="639" width="12" height="12" fill="#3d3d3d"/><rect x="699" y="639" width="12" height="12" fill="#6e6e6e"/><rect x="709" y="639" width="12" height="12" fill="#6e6e6e"/><rect x="719" y="639" width="12" height="12" fill="#6e6e6e"/><rect x="729" y="639" width="12" height="12" fill="#6e6e6e"/><rect x="739" y="639" width="12" height="12" fill="#6e6e6e"/><rect x="749" y="639" width="12" height="12" fill="#6e6e6e"/><rect x="759" y="639" width="12" height="12" fill="#6e6e6e"/><rect x="769" y="639" width="12" height="12" fill="#6e6e6e"/><rect x="779" y="639" width="12" height="12" fill="#6e6e6e"/><rect x="609" y="649" width="12" height="12" fill="#1f1f1f"/><rect x="619" y="649" width="12" height="12" fill="#3d3d3d"/><rect x="629" y="649" width="12" height="12" fill="#1f1f1f"/><rect x="639" y="649" width="12" height="12" fill="#2e2e2e"/><rect x="649" y="649" width="12" height="12" fill="#2e2e2e"/><rect x="659" y="649" width="12" height="12" fill="#3d3d3d"/><rect x="669" y="649" width="12" height="12" fill="#4c4c4c"/><rect x="679" y="649" width="12" height="12" fill="#2e2e2e"/><rect x="689" y="649" width="12" height="12" fill="#4c4c4c"/><rect x="699" y="649" width="12" height="12" fill="#6e6e6e"/><rect x="709" y="649" width="12" height="12" fill="#6e6e6e"/><rect x="719" y="649" width="12" height="12" fill="#6e6e6e"/><rect x="729" y="649" width="12" height="12" fill="#808080"/><rect x="739" y="649" width="12" height="12" fill="#808080"/><rect x="749" y="649" width="12" height="12" fill="#808080"/><rect x="759" y="649" width="12" height="12" fill="#808080"/><rect x="769" y="649" width="12" height="12" fill="#808080"/><rect x="779" y="649" width="12" height="12" fill="#808080"/><rect x="609" y="659" width="12" height="12" fill="#1f1f1f"/><rect x="619" y="659" width="12" height="12" fill="#0f0f0f"/><rect x="629" y="659" width="12" height="12" fill="#1f1f1f"/><rect x="639" y="659" width="12" height="12" fill="#2e2e2e"/><rect x="649" y="659" width="12" height="12" fill="#3d3d3d"/><rect x="659" y="659" width="12" height="12" fill="#2e2e2e"/><rect x="669" y="659" width="12" height="12" fill="#1f1f1f"/><rect x="679" y="659" width="12" height="12" fill="#2e2e2e"/><rect x="689" y="659" width="12" height="12" fill="#3d3d3d"/><rect x="699" y="659" width="12" height="12" fill="#6e6e6e"/><rect x="709" y="659" width="12" height="12" fill="#808080"/><rect x="719" y="659" width="12" height="12" fill="#808080"/><rect x="729" y="659" width="12" height="12" fill="#808080"/><rect x="739" y="659" width="12" height="12" fill="#919191"/><rect x="749" y="659" width="12" height="12" fill="#919191"/><rect x="759" y="659" width="12" height="12" fill="#919191"/><rect x="769" y="659" width="12" height="12" fill="#919191"/><rect x="779" y="659" width="12" height="12" fill="#919191"/><rect x="609" y="669" width="12" height="12" fill="#1f1f1f"/><rect x="619" y="669" width="12" height="12" fill="#1f1f1f"/><rect x="629" y="669" width="12" height="12" fill="#3d3d3d"/><rect x="639" y="669" width="12" height="12" fill="#4c4c4c"/><rect x="649" y="669" width="12" height="12" fill="#3d3d3d"/><rect x="659" y="669" width="12" height="12" fill="#2e2e2e"/><rect x="669" y="669" width="12" height="12" fill="#2e2e2e"/><rect x="679" y="669" width="12" height="12" fill="#3d3d3d"/><rect x="689" y="669" width="12" height="12" fill="#3d3d3d"/><rect x="699" y="669" width="12" height="12" fill="#6e6e6e"/><rect x="709" y="669" width="12" height="12" fill="#808080"/><rect x="719" y="669" width="12" height="12" fill="#808080"/><rect x="729" y="669" width="12" height="12" fill="#808080"/><rect x="739" y="669" width="12" height="12" fill="#919191"/><rect x="749" y="669" width="12" height="12" fill="#919191"/><rect x="759" y="669" width="12" height="12" fill="#919191"/><rect x="769" y="669" width="12" height="12" fill="#919191"/><rect x="609" y="679" width="12" height="12" fill="#1f1f1f"/><rect x="619" y="679" width="12" height="12" fill="#2e2e2e"/><rect x="629" y="679" width="12" height="12" fill="#3d3d3d"/><rect x="639" y="679" width="12" height="12" fill="#2e2e2e"/><rect x="649" y="679" width="12" height="12" fill="#2e2e2e"/><rect x="659" y="679" width="12" height="12" fill="#2e2e2e"/><rect x="669" y="679" width="12" height="12" fill="#2e2e2e"/><rect x="679" y="679" width="12" height="12" fill="#3d3d3d"/><rect x="689" y="679" width="12" height="12" fill="#3d3d3d"/><rect x="699" y="679" width="12" height="12" fill="#6e6e6e"/><rect x="709" y="679" width="12" height="12" fill="#808080"/><rect x="719" y="679" width="12" height="12" fill="#808080"/><rect x="729" y="679" width="12" height="12" fill="#808080"/><rect x="739" y="679" width="12" height="12" fill="#919191"/><rect x="749" y="679" width="12" height="12" fill="#919191"/><rect x="759" y="679" width="12" height="12" fill="#919191"/><rect x="769" y="679" width="12" height="12" fill="#919191"/><rect x="609" y="689" width="12" height="12" fill="#5c5c5c"/><rect x="619" y="689" width="12" height="12" fill="#3d3d3d"/><rect x="629" y="689" width="12" height="12" fill="#2e2e2e"/><rect x="639" y="689" width="12" height="12" fill="#3d3d3d"/><rect x="649" y="689" width="12" height="12" fill="#2e2e2e"/><rect x="659" y="689" width="12" height="12" fill="#2e2e2e"/><rect x="669" y="689" width="12" height="12" fill="#3d3d3d"/><rect x="679" y="689" width="12" height="12" fill="#2e2e2e"/><rect x="689" y="689" width="12" height="12" fill="#3d3d3d"/><rect x="699" y="689" width="12" height="12" fill="#6e6e6e"/><rect x="709" y="689" width="12" height="12" fill="#6e6e6e"/><rect x="719" y="689" width="12" height="12" fill="#808080"/><rect x="729" y="689" width="12" height="12" fill="#808080"/><rect x="739" y="689" width="12" height="12" fill="#808080"/><rect x="749" y="689" width="12" height="12" fill="#808080"/><rect x="759" y="689" width="12" height="12" fill="#808080"/><rect x="769" y="689" width="12" height="12" fill="#808080"/><rect x="609" y="699" width="12" height="12" fill="#4c4c4c"/><rect x="619" y="699" width="12" height="12" fill="#3d3d3d"/><rect x="629" y="699" width="12" height="12" fill="#2e2e2e"/><rect x="639" y="699" width="12" height="12" fill="#3d3d3d"/><rect x="649" y="699" width="12" height="12" fill="#3d3d3d"/><rect x="659" y="699" width="12" height="12" fill="#3d3d3d"/><rect x="669" y="699" width="12" height="12" fill="#2e2e2e"/><rect x="679" y="699" width="12" height="12" fill="#2e2e2e"/><rect x="689" y="699" width="12" height="12" fill="#4c4c4c"/><rect x="699" y="699" width="12" height="12" fill="#6e6e6e"/><rect x="709" y="699" width="12" height="12" fill="#6e6e6e"/><rect x="719" y="699" width="12" height="12" fill="#6e6e6e"/><rect x="729" y="699" width="12" height="12" fill="#6e6e6e"/><rect x="739" y="699" width="12" height="12" fill="#6e6e6e"/><rect x="749" y="699" width="12" height="12" fill="#6e6e6e"/><rect x="759" y="699" width="12" height="12" fill="#6e6e6e"/></g></g>
<clipPath id="cp4"><rect x="615.5" y="484.7" width="235.8" height="216.1"/></clipPath>
<path clip-path="url(#cp4)" d="M615.6 486.2L691.8 486.2L693.9 486.7L694.8 488.4L697.5 489.6L700.0 489.7L702.8 490.0L705.3 489.8L707.8 491.5L709.7 492.4L711.6 492.9L714.7 495.2L717.9 493.8L719.7 494.8L724.1 494.8L726.6 495.7M726.6 495.7L724.1 497.6L721.0 499.0L717.9 501.8L714.7 504.1L711.6 506.9L711.0 507.3L712.8 507.8L716.0 506.4L718.5 505.5L719.4 508.3L721.6 509.0M721.6 509.0L724.8 507.3L727.9 506.4L731.0 505.0L734.8 502.3L737.6 500.9L735.4 504.1L734.2 506.4L737.9 506.0L740.4 509.6L744.8 510.1L749.2 508.1L752.4 507.3L755.5 507.2L755.8 509.6L758.0 510.1L760.5 509.6L761.1 511.9L763.0 513.7L761.8 514.7L759.3 514.4L757.4 515.4M757.4 515.4L755.5 514.2L752.4 513.3L749.2 514.7L747.3 515.6L745.5 517.4L744.5 515.6L742.6 516.5L740.8 518.7L739.2 522.3M739.2 522.3L737.9 525.0L736.7 527.2L738.3 525.9L740.4 523.2L743.3 520.5L741.7 524.1L739.8 527.6L739.5 531.2L738.6 534.2L737.3 539.0L737.6 541.2L737.9 545.0L738.9 549.3L739.7 551.8L741.1 552.5L743.0 552.1L744.1 551.3M744.1 551.3L746.1 548.4L747.7 545.4L748.0 541.6L747.3 537.3L746.1 533.8L746.4 530.3L748.0 526.7L748.9 524.1L751.4 521.4L752.1 524.1L751.7 525.4L753.3 523.2L754.2 520.5L755.2 519.6L755.8 516.9L757.1 516.2M757.1 516.2L759.9 517.4L762.4 519.2L765.5 522.7L766.2 525.9L765.9 529.4L764.3 531.6L762.4 532.9L762.1 535.1L764.3 533.8L766.2 532.0L768.4 531.6L770.6 532.5L771.2 536.4L771.7 540.7L771.2 544.2L769.0 545.9L767.4 546.7L767.1 548.8L765.5 550.5L765.2 551.6M765.2 551.6L768.0 553.1L769.9 553.9L772.4 554.1L776.2 553.5L778.7 551.4L781.8 550.1L783.6 549.4L786.2 548.0L788.4 547.0L791.3 545.0L793.8 542.0L792.8 540.7L792.8 538.5M792.8 538.5L796.3 537.5L800.0 537.6L803.2 538.4L806.0 538.3L808.8 536.8L810.7 536.1L810.7 532.9L810.1 531.2L812.6 529.0L816.4 525.0L819.8 523.2L828.6 523.2L840.2 523.1L842.7 520.5L844.3 521.0L845.8 517.8L848.0 514.7L847.7 512.4L849.6 507.8L854.3 500.9M855.9 531.2L850.9 533.8L848.3 535.1L846.1 538.1L845.2 540.1L844.5 541.8L845.8 543.7L843.6 545.4L843.0 546.7L845.2 549.3L846.5 551.1L849.6 551.8L849.9 550.1L849.0 548.8M845.8 553.1L844.0 552.7L842.6 553.5L841.4 553.9L840.5 554.3L838.0 555.0L835.2 555.4L831.4 555.6L828.3 556.9L826.7 557.7L825.8 558.9L824.5 560.2L822.9 561.9L824.5 562.3L824.2 565.2L823.9 568.0L822.0 571.3L819.5 574.1L818.5 574.7L818.9 572.5L817.0 571.3L815.1 569.3L815.7 571.7L816.4 574.1L817.6 575.9L817.9 578.6L817.6 579.8L816.7 582.2L815.4 583.8L814.2 586.2L812.3 589.0M824.5 561.0L827.6 561.0L833.9 558.9L837.9 557.1L834.5 557.7L830.8 558.1L826.4 558.9L824.5 561.0M812.3 589.0L812.6 585.4L812.0 580.6L810.1 578.2L810.7 575.0L812.0 571.7L811.3 569.7L809.5 572.5L808.8 576.6L809.5 579.8L810.1 582.6L809.5 585.4L810.1 588.6L810.1 590.5L812.0 590.8M810.1 582.6L808.2 581.0L805.7 579.8L804.4 578.2L805.4 575.8L804.4 574.1L802.6 572.5L800.5 573.1M814.2 582.6L816.7 582.0M808.8 579.8L806.3 579.0L807.6 580.6M809.5 588.2L806.3 587.8L808.2 586.2M812.0 590.8L812.3 592.5L812.8 593.7L813.5 596.4L814.8 599.5L815.3 601.5L815.0 604.0L813.5 604.3L811.6 605.3L808.8 608.2L807.6 608.0L805.1 608.3L803.2 609.6L801.3 611.1L799.7 614.5L798.2 614.0L796.0 614.4L793.8 616.0L791.9 618.7L790.6 620.9L787.5 622.8L785.6 624.3L783.7 626.2L781.4 628.1L780.0 629.9L779.0 632.1L778.7 634.3L777.8 638.0M812.8 593.7L810.1 595.6L812.0 598.0L808.8 599.5L812.0 601.1L809.5 604.2L811.6 605.3M777.8 638.0L778.7 641.7L780.2 645.4L782.5 650.4L784.5 655.6L786.2 661.8L787.4 667.2L788.1 673.0L787.8 678.7L787.4 684.6L783.1 678.8L780.2 674.5L778.7 672.4L777.3 668.7L775.9 664.6L775.1 661.4L773.1 659.7L771.4 657.0L770.6 654.7L769.2 652.0L768.7 648.9L767.8 645.4L764.9 643.1L761.1 642.4L759.3 643.5L757.4 644.6L755.5 645.7L753.3 645.5L753.0 643.9L751.1 642.3L748.6 640.6L746.1 640.2L743.6 640.2L741.7 640.6L739.7 641.1M739.7 641.1L737.9 641.3L736.7 641.5L737.3 638.7L736.4 638.2L736.1 640.2L734.2 640.4L731.7 640.2L729.8 640.4L727.9 640.9L727.0 641.7L726.0 642.4L726.6 643.9L727.9 644.9L728.5 647.5L730.4 648.9L729.5 650.4L727.9 649.6L726.0 648.2L724.1 648.9L722.9 649.8L721.0 649.6L719.1 650.0L716.6 648.9L716.0 648.2L714.1 646.0L712.2 646.4L709.7 646.4L707.2 646.0L704.1 644.8L700.1 645.3M726.0 642.4L723.5 640.6L721.3 641.7L723.5 643.0L725.4 642.0M700.1 645.3L697.8 646.0L694.7 647.8L693.4 648.6L690.9 650.7L687.8 651.8L685.2 654.0L682.7 656.1L680.5 657.9L679.1 660.0L678.0 662.5L677.4 665.4L677.1 668.2L676.5 670.3L676.2 671.3M676.2 671.3L674.0 671.0L671.8 670.2L668.9 668.9L665.9 665.9L663.9 662.5L661.5 658.6L658.9 654.7L657.0 651.1L654.3 647.0L652.0 644.6L649.9 643.1L647.6 643.5L645.5 644.1L643.2 646.8L641.3 648.9L639.6 648.4L636.9 646.8L634.4 644.6L632.4 642.6L630.0 639.5L627.5 636.2L625.1 633.8L622.5 631.8L620.6 630.1L614.4 630.1M636.0 486.2L636.0 557.7M636.0 514.7L683.0 514.7M615.6 523.2L636.0 523.2M636.0 540.7L670.8 540.7L674.0 542.0L677.7 542.0L680.2 542.9L682.7 544.2L683.7 545.1M615.6 557.7L648.6 557.7L648.6 566.0L690.9 566.0M648.6 566.0L648.6 590.2M615.6 590.2L695.2 590.2M642.6 590.2L642.6 628.4L619.9 628.4L620.0 629.2L620.6 630.1M642.6 594.1L661.4 594.1L661.4 609.1L663.3 610.3L665.2 610.5L667.7 611.9L670.2 612.2L673.3 613.0L675.8 614.1L679.0 614.9L680.9 613.8L682.7 614.5L685.2 615.3L687.8 614.4L690.9 614.3L693.4 615.3L696.0 616.1M696.0 616.1L696.4 602.6L695.2 594.1L695.2 590.2M696.0 616.1L698.8 616.8L698.8 620.8M698.8 620.8L698.8 628.4L699.7 629.9L701.6 633.6L701.9 635.8L700.9 639.5L700.8 642.4L700.1 645.3M698.8 620.8L716.8 620.9M716.8 620.9L717.2 623.9L718.2 626.2L716.6 629.2L715.4 631.4L714.1 634.3L713.9 635.8L725.8 635.8L725.7 638.4L726.6 640.2L727.0 641.7M716.8 620.9L717.2 617.9L717.6 615.7L718.8 613.4L720.4 610.3L722.3 607.7L723.5 605.0L724.8 601.9L726.0 599.9L726.0 598.0L727.0 594.9L727.3 594.1L729.2 593.3L729.5 590.3M726.0 598.0L721.8 598.0L723.2 594.1L695.2 594.1M695.2 590.2L695.2 573.3L693.4 570.1L692.1 567.2L690.9 566.0M690.9 566.0L687.9 561.2L687.4 556.9L686.8 553.5L685.9 550.1L684.3 547.6L683.7 545.1M687.9 561.2L713.3 561.0L715.2 562.8M683.7 545.1L682.7 541.6L683.7 536.4L683.7 520.5L683.0 517.8L683.0 514.7L682.1 509.6L681.5 505.0L680.9 500.4L679.6 495.7L679.3 491.0L678.8 486.2M683.7 536.4L716.5 536.4M716.5 536.4L716.9 540.7L718.5 543.3L720.1 545.0L721.6 547.6L723.1 551.0L721.9 553.1L719.7 553.7L717.6 556.0L717.2 559.4L715.2 562.8L715.0 566.0L716.6 569.3L719.4 572.5L721.3 574.6L722.9 576.6L722.9 579.8L724.8 582.6L727.3 585.4L727.3 588.6L729.5 590.3M716.5 536.4L716.0 533.8L713.5 530.3L709.7 527.6L706.6 525.4L706.9 522.3L706.6 518.7L709.7 514.2L709.7 508.3L711.0 507.3M720.1 545.0L737.9 545.0M721.6 509.0L723.5 510.6L727.3 512.4L731.0 513.3L736.1 514.7L737.6 516.9L737.9 519.6L739.2 522.3M739.7 551.8L739.6 570.9L739.2 572.9L739.8 575.8L738.3 578.2L737.0 580.6L736.4 583.8M729.5 590.3L732.9 589.4L733.9 587.0L736.1 586.2L736.4 583.8L739.2 582.6L742.3 583.8L745.5 583.0L747.3 581.4L749.2 582.2L750.5 580.2L753.0 577.0L755.5 576.2L756.6 573.3L758.6 573.3L760.5 575.8L764.3 577.0L767.4 577.0L770.6 578.8L773.1 577.4L774.0 574.6L775.9 573.3L777.8 571.3L780.6 569.7L781.8 567.6L782.5 565.2L783.1 562.7L783.6 560.7M756.6 551.8L756.6 573.3M744.1 551.3L756.6 551.3L765.2 551.6M783.6 549.4L783.6 568.3L813.3 568.3M790.1 568.3L790.1 572.5L792.5 570.5L794.4 569.3L797.2 568.9L799.4 569.3L800.5 573.1M800.5 573.1L798.8 572.5L796.9 574.1L794.1 576.2L791.9 578.6L789.4 580.6L787.5 583.0L785.3 585.4L783.1 586.6L780.6 587.8L777.5 588.2L774.5 585.9M774.5 585.9L772.4 584.6L771.2 581.4L770.6 578.8M774.5 585.9L771.8 588.6L768.7 590.5L763.7 593.3M727.3 594.1L736.2 594.1L736.2 592.7L763.8 593.3L776.3 593.4L812.8 593.7M776.3 593.4L774.9 595.6L772.4 597.2L768.7 598.4L764.9 601.5L761.8 603.4L759.8 605.7M759.8 605.7L723.2 605.7M759.8 605.7L767.4 605.7M767.4 605.7L769.3 605.0L771.8 604.2L780.3 604.6L781.0 605.0L781.8 607.1L788.9 607.3L796.0 614.4M767.4 605.7L769.3 608.8L770.9 611.9L773.1 615.3L774.9 617.9L777.1 620.6L778.7 623.9L780.0 626.9L781.4 628.1M751.7 605.7L754.2 620.9L755.5 624.7L755.2 628.4L754.9 632.1L755.5 635.8M755.5 635.8L756.4 637.9L773.1 639.0L774.0 640.6L774.3 638.7L775.6 637.6L777.8 638.0M739.2 640.9L739.2 635.8L755.5 635.8M735.4 605.7L736.1 613.4L735.1 618.7L733.7 629.2L734.2 640.4M788.4 547.0L788.4 549.3L816.0 549.3L817.6 551.0L819.5 553.9L820.1 554.8M820.1 554.8L825.1 557.7M820.1 554.8L817.6 558.1L817.0 561.0L818.2 562.7L819.8 564.3L817.6 566.4L815.7 567.6L814.8 569.3M813.3 568.3L814.5 567.3L815.7 567.6M813.3 568.3L813.3 578.6L817.9 578.6M828.6 523.2L828.6 527.6L828.3 535.5L829.2 542.9M829.2 542.9L827.6 548.8L827.6 556.0L826.7 557.7M840.2 523.1L839.2 525.9L837.1 529.4L835.2 534.2L834.5 539.0L833.6 543.0M829.2 542.9L841.4 543.3L843.3 542.0L844.5 541.8M842.8 520.5L843.3 527.6L843.6 533.8L845.2 540.1M827.6 548.8L838.3 549.1L840.9 549.1L840.9 550.1L842.1 551.8L842.6 553.5M838.3 549.1L838.0 555.0M617.0 486.2L617.0 630.1M850.6 506.0L850.6 536.4" fill="none" stroke="#000" stroke-width="2.8" stroke-linejoin="round" stroke-linecap="round"/>
<path clip-path="url(#cp4)" d="M812.1 591.3L813.6 590.8M812.4 592.3L809.5 593.2M812.8 593.9L810.0 594.6M813.8 597.1L812.6 597.6M814.4 598.7L810.6 600.2M814.9 600.0L818.2 599.1M815.1 603.0L817.6 603.3M814.9 604.1L813.3 600.1M813.1 604.8L812.5 603.4M810.5 606.5L809.3 605.3M809.3 607.7L807.6 606.0M808.7 608.2L808.7 607.0M805.7 608.3L805.6 605.6M804.0 609.0L802.4 606.8M802.5 610.6L799.5 608.5M801.8 611.5L804.3 613.2M800.8 613.0L802.5 614.1M800.5 613.4L802.6 614.9M799.4 614.5L799.5 611.7M796.6 614.5L796.7 610.6M794.8 615.7L796.4 617.2M793.8 616.7L791.5 614.5M792.1 618.5L788.8 615.3M791.2 619.4L792.0 620.3M790.1 620.4L793.4 623.9M789.4 621.0L791.1 622.8M788.6 621.8L786.7 619.8M787.3 623.0L788.2 623.9M786.1 624.1L784.8 622.6M783.9 626.0L783.0 625.1M783.1 626.7L785.9 630.1M781.6 628.0L780.3 626.4M781.1 628.6L784.9 630.8M780.5 629.7L779.1 628.8M779.6 631.1L777.2 629.6M778.9 632.5L778.0 632.3M778.6 634.1L781.7 634.8M778.2 636.1L781.1 636.7M777.9 637.5L779.1 637.8M782.3 677.7L778.8 680.1M781.7 676.8L783.8 675.4M780.5 675.0L781.5 674.3M780.0 674.2L781.5 673.5M779.4 673.0L780.3 672.5M778.6 671.4L780.8 670.4M777.4 668.9L780.3 667.4M777.2 668.3L779.4 667.6M776.8 667.0L772.7 668.3M776.2 665.1L778.9 664.3M775.9 664.2L778.1 663.5M775.2 661.6L776.7 661.2M773.9 660.0L776.2 658.1M773.2 659.2L774.0 658.4M771.5 657.1L768.2 659.8M771.2 656.6L773.4 655.7M770.1 654.0L767.4 655.2M769.7 653.1L768.0 653.8M768.9 650.3L764.7 651.2M768.6 649.0L772.3 648.1M768.3 647.8L770.6 647.3M768.1 647.0L770.2 646.5M766.8 644.6L769.6 640.9M764.9 643.2L762.1 647.0M764.2 643.0L764.5 641.2M762.6 642.7L762.3 644.4M726.7 643.6L722.5 643.0M727.3 645.0L723.7 646.9M728.2 646.9L732.2 644.8M729.9 648.6L728.2 650.8M728.4 649.5L729.1 651.7M726.1 649.3L726.5 646.8M724.2 648.9L724.9 645.3M723.9 649.0L724.3 650.5M721.1 649.6L721.4 651.1M719.2 650.0L718.4 646.6M718.3 649.5L719.0 648.2M716.0 648.2L717.8 645.2M714.6 647.6L713.6 650.1M713.3 647.1L714.0 645.4M712.6 646.8L713.4 645.1M711.0 646.3L711.2 643.8M707.4 646.0L707.6 643.7M847.7 536.0L844.1 533.4M846.2 538.0L843.9 536.3M845.7 539.2L844.7 538.7M845.1 540.4L846.0 540.8M844.7 542.2L847.0 540.5M844.6 544.7L843.2 542.9M843.3 546.2L839.7 544.4M843.6 547.4L842.2 548.7M845.0 549.0L842.7 550.9M693.7 648.4L691.5 644.5M692.6 649.2L690.7 647.0M691.3 650.4L689.5 648.3" fill="none" stroke="#000" stroke-width="1.5" stroke-linecap="round" stroke-linejoin="round"/>
<path clip-path="url(#cp4)" d="M812.0 590.8L812.8 593.7L813.5 596.4L814.8 599.5L815.3 601.5L815.0 604.0L811.6 605.3L808.8 608.2L805.1 608.3L803.2 609.6L799.7 614.5L796.0 614.4L791.9 618.7L787.5 622.8L783.7 626.2L781.4 628.1L779.0 632.1L777.8 638.0M783.1 678.8L780.2 674.5L777.3 668.7L775.1 661.4L771.4 657.0L769.2 652.0L767.8 645.4L764.9 643.1L761.1 642.4M727.0 641.7L726.6 643.9L728.5 647.5L730.4 648.9L727.9 649.6L724.1 648.9L719.1 650.0L716.0 648.2L711.6 646.4L707.2 646.0M848.3 535.1L846.1 538.1L845.2 540.1L844.5 541.8L845.8 543.7L843.6 545.4L843.0 546.7L845.2 549.3M694.7 647.8L693.4 648.6L690.9 650.7" fill="none" stroke="#000" stroke-width="3.6" stroke-linecap="round" stroke-linejoin="round"/>
<polygon points="802.0,569.8 807.0,568.3 813.0,567.8 818.0,569.8 821.0,573.8 821.0,579.8 820.0,587.8 819.0,594.9 819.5,601.9 817.0,605.9 812.0,602.9 808.0,597.9 806.0,591.8 803.0,585.8 800.0,579.8 800.5,573.8" fill="#000"/>
<polygon points="822.0,555.8 826.0,551.8 832.1,549.8 839.1,548.3 845.1,546.8 849.1,547.3 848.1,550.8 841.1,554.3 833.1,556.8 826.0,559.3 823.0,559.8" fill="#000"/>
<text x="567.1" y="502.4" font-size="12.6" font-weight="bold" fill="#262626" textLength="16.7" lengthAdjust="spacingAndGlyphs">48</text><circle cx="588.3" cy="489.6" r="1.55" fill="none" stroke="#262626" stroke-width="0.9"/><text x="596.4" y="502.4" font-size="12.6" font-weight="bold" fill="#262626" textLength="9.2" lengthAdjust="spacingAndGlyphs">N</text>
<text x="567.1" y="520.9" font-size="12.6" font-weight="bold" fill="#262626" textLength="16.7" lengthAdjust="spacingAndGlyphs">46</text><circle cx="588.3" cy="508.1" r="1.55" fill="none" stroke="#262626" stroke-width="0.9"/><text x="596.4" y="520.9" font-size="12.6" font-weight="bold" fill="#262626" textLength="9.2" lengthAdjust="spacingAndGlyphs">N</text>
<text x="567.1" y="538.7" font-size="12.6" font-weight="bold" fill="#262626" textLength="16.7" lengthAdjust="spacingAndGlyphs">44</text><circle cx="588.3" cy="525.9" r="1.55" fill="none" stroke="#262626" stroke-width="0.9"/><text x="596.4" y="538.7" font-size="12.6" font-weight="bold" fill="#262626" textLength="9.2" lengthAdjust="spacingAndGlyphs">N</text>
<text x="567.1" y="556.0" font-size="12.6" font-weight="bold" fill="#262626" textLength="16.7" lengthAdjust="spacingAndGlyphs">42</text><circle cx="588.3" cy="543.2" r="1.55" fill="none" stroke="#262626" stroke-width="0.9"/><text x="596.4" y="556.0" font-size="12.6" font-weight="bold" fill="#262626" textLength="9.2" lengthAdjust="spacingAndGlyphs">N</text>
<text x="567.1" y="572.7" font-size="12.6" font-weight="bold" fill="#262626" textLength="16.7" lengthAdjust="spacingAndGlyphs">40</text><circle cx="588.3" cy="559.9" r="1.55" fill="none" stroke="#262626" stroke-width="0.9"/><text x="596.4" y="572.7" font-size="12.6" font-weight="bold" fill="#262626" textLength="9.2" lengthAdjust="spacingAndGlyphs">N</text>
<text x="567.1" y="588.9" font-size="12.6" font-weight="bold" fill="#262626" textLength="16.7" lengthAdjust="spacingAndGlyphs">38</text><circle cx="588.3" cy="576.1" r="1.55" fill="none" stroke="#262626" stroke-width="0.9"/><text x="596.4" y="588.9" font-size="12.6" font-weight="bold" fill="#262626" textLength="9.2" lengthAdjust="spacingAndGlyphs">N</text>
<text x="567.1" y="604.7" font-size="12.6" font-weight="bold" fill="#262626" textLength="16.7" lengthAdjust="spacingAndGlyphs">36</text><circle cx="588.3" cy="591.9" r="1.55" fill="none" stroke="#262626" stroke-width="0.9"/><text x="596.4" y="604.7" font-size="12.6" font-weight="bold" fill="#262626" textLength="9.2" lengthAdjust="spacingAndGlyphs">N</text>
<text x="567.1" y="620.1" font-size="12.6" font-weight="bold" fill="#262626" textLength="16.7" lengthAdjust="spacingAndGlyphs">34</text><circle cx="588.3" cy="607.3" r="1.55" fill="none" stroke="#262626" stroke-width="0.9"/><text x="596.4" y="620.1" font-size="12.6" font-weight="bold" fill="#262626" textLength="9.2" lengthAdjust="spacingAndGlyphs">N</text>
<text x="567.1" y="635.1" font-size="12.6" font-weight="bold" fill="#262626" textLength="16.7" lengthAdjust="spacingAndGlyphs">32</text><circle cx="588.3" cy="622.3" r="1.55" fill="none" stroke="#262626" stroke-width="0.9"/><text x="596.4" y="635.1" font-size="12.6" font-weight="bold" fill="#262626" textLength="9.2" lengthAdjust="spacingAndGlyphs">N</text>
<text x="567.1" y="649.8" font-size="12.6" font-weight="bold" fill="#262626" textLength="16.7" lengthAdjust="spacingAndGlyphs">30</text><circle cx="588.3" cy="637.0" r="1.55" fill="none" stroke="#262626" stroke-width="0.9"/><text x="596.4" y="649.8" font-size="12.6" font-weight="bold" fill="#262626" textLength="9.2" lengthAdjust="spacingAndGlyphs">N</text>
<text x="567.1" y="664.2" font-size="12.6" font-weight="bold" fill="#262626" textLength="16.7" lengthAdjust="spacingAndGlyphs">28</text><circle cx="588.3" cy="651.4" r="1.55" fill="none" stroke="#262626" stroke-width="0.9"/><text x="596.4" y="664.2" font-size="12.6" font-weight="bold" fill="#262626" textLength="9.2" lengthAdjust="spacingAndGlyphs">N</text>
<text x="567.1" y="678.4" font-size="12.6" font-weight="bold" fill="#262626" textLength="16.7" lengthAdjust="spacingAndGlyphs">26</text><circle cx="588.3" cy="665.6" r="1.55" fill="none" stroke="#262626" stroke-width="0.9"/><text x="596.4" y="678.4" font-size="12.6" font-weight="bold" fill="#262626" textLength="9.2" lengthAdjust="spacingAndGlyphs">N</text>
<text x="567.1" y="692.3" font-size="12.6" font-weight="bold" fill="#262626" textLength="16.7" lengthAdjust="spacingAndGlyphs">24</text><circle cx="588.3" cy="679.5" r="1.55" fill="none" stroke="#262626" stroke-width="0.9"/><text x="596.4" y="692.3" font-size="12.6" font-weight="bold" fill="#262626" textLength="9.2" lengthAdjust="spacingAndGlyphs">N</text>
<text x="567.1" y="706.0" font-size="12.6" font-weight="bold" fill="#262626" textLength="16.7" lengthAdjust="spacingAndGlyphs">22</text><circle cx="588.3" cy="693.2" r="1.55" fill="none" stroke="#262626" stroke-width="0.9"/><text x="596.4" y="706.0" font-size="12.6" font-weight="bold" fill="#262626" textLength="9.2" lengthAdjust="spacingAndGlyphs">N</text>
<text x="636.6" y="466.5" font-size="12.6" font-weight="bold" fill="#262626" textLength="24.4" lengthAdjust="spacingAndGlyphs">100</text><circle cx="665.6" cy="453.7" r="1.55" fill="none" stroke="#262626" stroke-width="0.9"/><text x="673.4" y="466.5" font-size="12.6" font-weight="bold" fill="#262626" textLength="12.4" lengthAdjust="spacingAndGlyphs">W</text>
<text x="705.9" y="466.5" font-size="12.6" font-weight="bold" fill="#262626" textLength="16.4" lengthAdjust="spacingAndGlyphs">90</text><circle cx="726.9" cy="453.7" r="1.55" fill="none" stroke="#262626" stroke-width="0.9"/><text x="734.7" y="466.5" font-size="12.6" font-weight="bold" fill="#262626" textLength="12.4" lengthAdjust="spacingAndGlyphs">W</text>
<text x="770.1" y="466.5" font-size="12.6" font-weight="bold" fill="#262626" textLength="16.4" lengthAdjust="spacingAndGlyphs">80</text><circle cx="791.1" cy="453.7" r="1.55" fill="none" stroke="#262626" stroke-width="0.9"/><text x="798.9" y="466.5" font-size="12.6" font-weight="bold" fill="#262626" textLength="12.4" lengthAdjust="spacingAndGlyphs">W</text>
<text x="833.0" y="466.5" font-size="12.6" font-weight="bold" fill="#262626" textLength="16.4" lengthAdjust="spacingAndGlyphs">70</text><circle cx="854.0" cy="453.7" r="1.55" fill="none" stroke="#262626" stroke-width="0.9"/><text x="861.8" y="466.5" font-size="12.6" font-weight="bold" fill="#262626" textLength="12.4" lengthAdjust="spacingAndGlyphs">W</text>
<text x="728.5" y="730.7" font-size="22.4" font-weight="bold" fill="#262626" text-anchor="middle" textLength="355.5" lengthAdjust="spacingAndGlyphs">SAT-RAP 700 hPa MR (g/kg)</text>
<rect x="862.0" y="485.2" width="23.7" height="215.3" fill="url(#jet)" stroke="#262626" stroke-width="0.8"/>
<line x1="882.7" x2="885.7" y1="691.2" y2="691.2" stroke="#262626" stroke-width="0.8"/><text x="895.3" y="698.7" font-size="21.4" font-weight="bold" fill="#262626" textLength="22.0" lengthAdjust="spacingAndGlyphs">-2</text>
<line x1="882.7" x2="885.7" y1="642.0" y2="642.0" stroke="#262626" stroke-width="0.8"/><text x="895.3" y="649.5" font-size="21.4" font-weight="bold" fill="#262626" textLength="22.0" lengthAdjust="spacingAndGlyphs">-1</text>
<line x1="882.7" x2="885.7" y1="592.9" y2="592.9" stroke="#262626" stroke-width="0.8"/><text x="895.3" y="600.4" font-size="21.4" font-weight="bold" fill="#262626" textLength="13.0" lengthAdjust="spacingAndGlyphs">0</text>
<line x1="882.7" x2="885.7" y1="543.7" y2="543.7" stroke="#262626" stroke-width="0.8"/><text x="895.3" y="551.2" font-size="21.4" font-weight="bold" fill="#262626" textLength="13.0" lengthAdjust="spacingAndGlyphs">1</text>
<line x1="882.7" x2="885.7" y1="494.5" y2="494.5" stroke="#262626" stroke-width="0.8"/><text x="895.3" y="502.0" font-size="21.4" font-weight="bold" fill="#262626" textLength="13.0" lengthAdjust="spacingAndGlyphs">2</text>
</g>
<g>
<rect x="1038.0" y="485.4" width="234.4" height="214.9" fill="none" stroke="#000" stroke-width="1.2"/>
<clipPath id="sw5"><polygon points="1054.1,484.3 1054.8,483.6 1055.5,482.9 1056.2,482.5 1056.9,482.2 1057.6,482.2 1058.3,482.5 1059.0,482.9 1059.7,483.6 1060.4,484.3 1061.1,483.6 1061.8,482.9 1062.5,482.5 1063.3,482.2 1064.0,482.2 1064.7,482.5 1065.4,482.9 1066.1,483.6 1066.8,484.3 1067.5,483.6 1068.2,482.9 1068.9,482.5 1069.6,482.2 1070.3,482.2 1071.0,482.5 1071.7,482.9 1072.4,483.6 1073.1,484.3 1073.8,483.6 1074.5,482.9 1075.2,482.5 1075.9,482.2 1076.6,482.2 1077.3,482.5 1078.0,482.9 1078.7,483.6 1079.4,484.3 1080.2,483.6 1080.9,482.9 1081.6,482.5 1082.3,482.2 1083.0,482.2 1083.7,482.5 1084.4,482.9 1085.1,483.6 1085.8,484.3 1086.5,483.6 1087.2,482.9 1087.9,482.5 1088.6,482.2 1089.3,482.2 1090.0,482.5 1090.7,482.9 1091.4,483.6 1092.1,484.3 1092.8,483.6 1093.5,482.9 1094.2,482.5 1094.9,482.2 1095.6,482.2 1096.3,482.5 1097.1,482.9 1097.8,483.6 1098.5,484.3 1099.2,483.6 1099.9,482.9 1100.6,482.5 1101.3,482.2 1102.0,482.2 1102.7,482.5 1103.4,482.9 1104.1,483.6 1104.8,484.3 1105.5,483.6 1106.2,482.9 1106.9,482.5 1107.6,482.2 1108.3,482.2 1109.0,482.5 1109.7,482.9 1110.4,483.6 1111.1,484.3 1111.8,483.6 1112.5,482.9 1113.2,482.5 1114.0,482.2 1114.7,482.2 1115.4,482.5 1116.1,482.9 1116.8,483.6 1117.5,484.3 1118.2,483.6 1118.9,482.9 1119.6,482.5 1120.3,482.2 1121.0,482.2 1121.7,482.5 1122.4,482.9 1123.1,483.6 1123.8,484.3 1124.5,483.6 1125.2,482.9 1125.9,482.5 1126.6,482.2 1127.3,482.2 1128.0,482.5 1128.7,482.9 1129.4,483.6 1130.2,484.3 1130.9,483.6 1131.6,482.9 1132.3,482.5 1133.0,482.2 1133.7,482.2 1134.4,482.5 1135.1,482.9 1135.8,483.6 1136.5,484.3 1137.2,483.6 1137.9,482.9 1138.6,482.5 1139.3,482.2 1140.0,482.2 1140.7,482.5 1141.4,482.9 1142.1,483.6 1142.8,484.3 1143.5,483.6 1144.2,482.9 1144.9,482.5 1145.6,482.2 1146.3,482.2 1147.1,482.5 1147.8,482.9 1148.5,483.6 1149.2,484.3 1149.9,483.6 1150.6,482.9 1151.3,482.5 1152.0,482.2 1152.7,482.2 1153.4,482.5 1154.1,482.9 1154.8,483.6 1155.5,484.3 1156.2,483.6 1156.9,482.9 1157.6,482.5 1158.3,482.2 1159.0,482.2 1159.7,482.5 1160.4,482.9 1161.1,483.6 1161.8,484.3 1162.5,483.6 1163.2,482.9 1164.0,482.5 1164.7,482.2 1165.4,482.2 1166.1,482.5 1166.8,482.9 1167.5,483.6 1168.2,484.3 1168.9,483.6 1169.6,482.9 1170.3,482.5 1171.0,482.2 1171.7,482.2 1172.4,482.5 1173.1,482.9 1173.8,483.6 1174.5,484.3 1175.2,483.6 1175.9,482.9 1176.6,482.5 1177.3,482.2 1178.0,482.2 1178.7,482.5 1179.4,482.9 1180.1,483.6 1180.9,484.3 1181.6,483.6 1182.3,482.9 1183.0,482.5 1183.7,482.2 1184.4,482.2 1185.1,482.5 1185.8,482.9 1186.5,483.6 1187.2,484.3 1187.9,483.6 1188.6,482.9 1189.3,482.5 1190.0,482.2 1190.7,482.2 1191.4,482.5 1192.1,482.9 1192.8,483.6 1193.5,484.3 1194.2,483.6 1194.9,482.9 1195.6,482.5 1196.3,482.2 1197.0,482.2 1197.8,482.5 1198.5,482.9 1199.2,483.6 1199.9,484.3 1200.6,483.6 1201.3,482.9 1202.0,482.5 1202.7,482.2 1203.4,482.2 1204.1,482.5 1204.8,482.9 1205.5,483.6 1206.2,484.3 1206.9,483.6 1207.6,482.9 1208.3,482.5 1209.0,482.2 1209.7,482.2 1210.4,482.5 1211.1,482.9 1211.8,483.6 1212.5,484.3 1213.2,483.6 1214.0,482.9 1214.7,482.5 1215.4,482.2 1216.1,482.2 1216.8,482.5 1217.5,482.9 1218.2,483.6 1218.9,484.3 1219.6,483.6 1220.3,482.9 1221.0,482.5 1221.7,482.2 1222.4,482.2 1223.1,482.5 1223.8,482.9 1224.5,483.6 1225.2,484.3 1225.9,483.6 1226.6,482.9 1227.3,482.5 1228.0,482.2 1228.7,482.2 1229.4,482.5 1230.1,482.9 1230.9,483.6 1231.6,484.3 1232.3,483.6 1233.0,482.9 1233.7,482.5 1234.4,482.2 1235.1,482.2 1235.8,482.5 1236.5,482.9 1237.2,483.6 1237.9,484.3 1238.6,483.6 1239.3,482.9 1240.0,482.5 1240.7,482.2 1241.4,482.2 1242.1,482.5 1242.8,482.9 1243.5,483.6 1244.2,484.3 1244.9,483.6 1245.6,482.9 1246.3,482.5 1247.0,482.2 1247.8,482.2 1248.5,482.5 1249.2,482.9 1249.9,483.6 1250.6,484.3 1251.3,483.6 1252.0,482.9 1231.2,531.8 1213.5,567.0 1201.9,596.4 1191.1,627.7 1185.1,642.0 1168.0,697.9 1166.8,701.5 1166.8,702.4 1166.1,703.0 1165.4,703.4 1164.7,703.6 1164.0,703.6 1163.2,703.3 1162.5,702.8 1161.8,702.2 1161.1,701.7 1160.4,702.4 1159.7,703.0 1159.0,703.4 1158.3,703.6 1157.6,703.6 1156.9,703.3 1156.2,702.8 1155.5,702.2 1154.8,701.7 1154.1,702.4 1153.4,703.0 1152.7,703.4 1152.0,703.6 1151.3,703.6 1150.6,703.3 1149.9,702.8 1149.2,702.2 1148.5,701.7 1147.8,702.4 1147.1,703.0 1146.3,703.4 1145.6,703.6 1144.9,703.6 1144.2,703.3 1143.5,702.8 1142.8,702.2 1142.1,701.7 1141.4,702.4 1140.7,703.0 1140.0,703.4 1139.3,703.6 1138.6,703.6 1137.9,703.3 1137.2,702.8 1136.5,702.2 1135.8,701.7 1135.1,702.4 1134.4,703.0 1133.7,703.4 1133.0,703.6 1132.3,703.6 1131.6,703.3 1130.9,702.8 1130.2,702.2 1129.4,701.7 1128.7,702.4 1128.0,703.0 1127.3,703.4 1126.6,703.6 1125.9,703.6 1125.2,703.3 1124.5,702.8 1123.8,702.2 1123.1,701.7 1122.4,702.4 1121.7,703.0 1121.0,703.4 1120.3,703.6 1119.6,703.6 1118.9,703.3 1118.2,702.8 1117.5,702.2 1116.8,701.7 1116.1,702.4 1115.4,703.0 1114.7,703.4 1114.0,703.6 1113.2,703.6 1112.5,703.3 1111.8,702.8 1111.1,702.2 1110.4,701.7 1109.7,702.4 1109.0,703.0 1108.3,703.4 1107.6,703.6 1106.9,703.6 1106.2,703.3 1105.5,702.8 1104.8,702.2 1104.1,701.7 1103.4,702.4 1102.7,703.0 1102.0,703.4 1101.3,703.6 1100.6,703.6 1099.9,703.3 1099.2,702.8 1098.5,702.2 1097.8,701.7 1097.1,702.4 1096.3,703.0 1095.6,703.4 1094.9,703.6 1094.2,703.6 1093.5,703.3 1092.8,702.8 1092.1,702.2 1091.4,701.7 1090.7,702.4 1090.0,703.0 1089.3,703.4 1088.6,703.6 1087.9,703.6 1087.2,703.3 1086.5,702.8 1085.8,702.2 1085.1,701.7 1084.4,702.4 1083.7,703.0 1083.0,703.4 1082.3,703.6 1081.6,703.6 1080.9,703.3 1080.2,702.8 1079.4,702.2 1078.7,701.7 1078.0,702.4 1077.3,703.0 1076.6,703.4 1075.9,703.6 1075.2,703.6 1074.5,703.3 1073.8,702.8 1073.1,702.2 1072.4,701.7 1071.7,702.4 1071.0,703.0 1070.3,703.4 1069.6,703.6 1068.9,703.6 1068.2,703.3 1067.5,702.8 1066.8,702.2 1066.1,701.7 1065.4,702.4 1064.7,703.0 1064.0,703.4 1063.3,703.6 1062.5,703.6 1061.8,703.3 1061.1,702.8 1060.4,702.2 1059.7,701.7 1059.0,702.4 1058.3,703.0 1057.6,703.4 1056.9,703.6 1056.2,703.6 1055.5,703.3 1054.8,702.8 1054.1,702.2 1053.4,701.7 1052.7,702.4 1052.0,703.0 1051.3,703.4 1050.6,703.6 1049.9,703.6 1049.2,703.3 1048.5,702.8 1047.8,702.2 1047.1,701.7 1046.3,702.4 1045.6,703.0 1044.9,703.4 1044.2,703.6 1043.5,703.6 1042.8,703.3 1042.1,702.8 1041.4,702.2 1040.7,701.7 1040.0,702.4 1039.3,703.0 1038.6,703.4 1037.9,703.6 1037.2,703.6 1036.5,703.3 1035.8,702.8 1035.1,702.2 1034.5,690.9 1035.5,660.6 1037.5,631.3 1040.0,610.1 1042.5,589.9 1044.0,572.8 1046.0,554.6 1047.6,539.4 1049.6,519.2 1051.6,499.0 1054.1,484.3"/></clipPath>
<g clip-path="url(#sw5)"><g filter="url(#jf)"><rect x="1030" y="478" width="12" height="12" fill="#808080"/><rect x="1040" y="478" width="12" height="12" fill="#808080"/><rect x="1050" y="478" width="12" height="12" fill="#808080"/><rect x="1060" y="478" width="12" height="12" fill="#919191"/><rect x="1070" y="478" width="12" height="12" fill="#919191"/><rect x="1080" y="478" width="12" height="12" fill="#919191"/><rect x="1090" y="478" width="12" height="12" fill="#a1a1a1"/><rect x="1100" y="478" width="12" height="12" fill="#d1d1d1"/><rect x="1110" y="478" width="12" height="12" fill="#c2c2c2"/><rect x="1120" y="478" width="12" height="12" fill="#919191"/><rect x="1130" y="478" width="12" height="12" fill="#919191"/><rect x="1140" y="478" width="12" height="12" fill="#a1a1a1"/><rect x="1150" y="478" width="12" height="12" fill="#919191"/><rect x="1160" y="478" width="12" height="12" fill="#808080"/><rect x="1170" y="478" width="12" height="12" fill="#6e6e6e"/><rect x="1180" y="478" width="12" height="12" fill="#6e6e6e"/><rect x="1190" y="478" width="12" height="12" fill="#6e6e6e"/><rect x="1200" y="478" width="12" height="12" fill="#6e6e6e"/><rect x="1210" y="478" width="12" height="12" fill="#6e6e6e"/><rect x="1220" y="478" width="12" height="12" fill="#6e6e6e"/><rect x="1230" y="478" width="12" height="12" fill="#6e6e6e"/><rect x="1240" y="478" width="12" height="12" fill="#6e6e6e"/><rect x="1250" y="478" width="12" height="12" fill="#6e6e6e"/><rect x="1260" y="478" width="12" height="12" fill="#6e6e6e"/><rect x="1270" y="478" width="12" height="12" fill="#6e6e6e"/><rect x="1030" y="488" width="12" height="12" fill="#6e6e6e"/><rect x="1040" y="488" width="12" height="12" fill="#6e6e6e"/><rect x="1050" y="488" width="12" height="12" fill="#6e6e6e"/><rect x="1060" y="488" width="12" height="12" fill="#919191"/><rect x="1070" y="488" width="12" height="12" fill="#808080"/><rect x="1080" y="488" width="12" height="12" fill="#919191"/><rect x="1090" y="488" width="12" height="12" fill="#919191"/><rect x="1100" y="488" width="12" height="12" fill="#b2b2b2"/><rect x="1110" y="488" width="12" height="12" fill="#c2c2c2"/><rect x="1120" y="488" width="12" height="12" fill="#919191"/><rect x="1130" y="488" width="12" height="12" fill="#919191"/><rect x="1140" y="488" width="12" height="12" fill="#808080"/><rect x="1150" y="488" width="12" height="12" fill="#808080"/><rect x="1160" y="488" width="12" height="12" fill="#808080"/><rect x="1170" y="488" width="12" height="12" fill="#6e6e6e"/><rect x="1180" y="488" width="12" height="12" fill="#6e6e6e"/><rect x="1190" y="488" width="12" height="12" fill="#6e6e6e"/><rect x="1200" y="488" width="12" height="12" fill="#6e6e6e"/><rect x="1210" y="488" width="12" height="12" fill="#6e6e6e"/><rect x="1220" y="488" width="12" height="12" fill="#6e6e6e"/><rect x="1230" y="488" width="12" height="12" fill="#6e6e6e"/><rect x="1240" y="488" width="12" height="12" fill="#6e6e6e"/><rect x="1250" y="488" width="12" height="12" fill="#6e6e6e"/><rect x="1260" y="488" width="12" height="12" fill="#6e6e6e"/><rect x="1270" y="488" width="12" height="12" fill="#6e6e6e"/><rect x="1030" y="498" width="12" height="12" fill="#5c5c5c"/><rect x="1040" y="498" width="12" height="12" fill="#5c5c5c"/><rect x="1050" y="498" width="12" height="12" fill="#5c5c5c"/><rect x="1060" y="498" width="12" height="12" fill="#808080"/><rect x="1070" y="498" width="12" height="12" fill="#919191"/><rect x="1080" y="498" width="12" height="12" fill="#808080"/><rect x="1090" y="498" width="12" height="12" fill="#808080"/><rect x="1100" y="498" width="12" height="12" fill="#808080"/><rect x="1110" y="498" width="12" height="12" fill="#919191"/><rect x="1120" y="498" width="12" height="12" fill="#919191"/><rect x="1130" y="498" width="12" height="12" fill="#808080"/><rect x="1140" y="498" width="12" height="12" fill="#808080"/><rect x="1150" y="498" width="12" height="12" fill="#919191"/><rect x="1160" y="498" width="12" height="12" fill="#808080"/><rect x="1170" y="498" width="12" height="12" fill="#808080"/><rect x="1180" y="498" width="12" height="12" fill="#6e6e6e"/><rect x="1190" y="498" width="12" height="12" fill="#6e6e6e"/><rect x="1200" y="498" width="12" height="12" fill="#6e6e6e"/><rect x="1210" y="498" width="12" height="12" fill="#6e6e6e"/><rect x="1220" y="498" width="12" height="12" fill="#6e6e6e"/><rect x="1230" y="498" width="12" height="12" fill="#6e6e6e"/><rect x="1240" y="498" width="12" height="12" fill="#6e6e6e"/><rect x="1250" y="498" width="12" height="12" fill="#6e6e6e"/><rect x="1260" y="498" width="12" height="12" fill="#6e6e6e"/><rect x="1030" y="508" width="12" height="12" fill="#5c5c5c"/><rect x="1040" y="508" width="12" height="12" fill="#5c5c5c"/><rect x="1050" y="508" width="12" height="12" fill="#5c5c5c"/><rect x="1060" y="508" width="12" height="12" fill="#6e6e6e"/><rect x="1070" y="508" width="12" height="12" fill="#808080"/><rect x="1080" y="508" width="12" height="12" fill="#919191"/><rect x="1090" y="508" width="12" height="12" fill="#919191"/><rect x="1100" y="508" width="12" height="12" fill="#808080"/><rect x="1110" y="508" width="12" height="12" fill="#808080"/><rect x="1120" y="508" width="12" height="12" fill="#808080"/><rect x="1130" y="508" width="12" height="12" fill="#808080"/><rect x="1140" y="508" width="12" height="12" fill="#919191"/><rect x="1150" y="508" width="12" height="12" fill="#919191"/><rect x="1160" y="508" width="12" height="12" fill="#808080"/><rect x="1170" y="508" width="12" height="12" fill="#6e6e6e"/><rect x="1180" y="508" width="12" height="12" fill="#6e6e6e"/><rect x="1190" y="508" width="12" height="12" fill="#808080"/><rect x="1200" y="508" width="12" height="12" fill="#6e6e6e"/><rect x="1210" y="508" width="12" height="12" fill="#6e6e6e"/><rect x="1220" y="508" width="12" height="12" fill="#6e6e6e"/><rect x="1230" y="508" width="12" height="12" fill="#6e6e6e"/><rect x="1240" y="508" width="12" height="12" fill="#6e6e6e"/><rect x="1250" y="508" width="12" height="12" fill="#6e6e6e"/><rect x="1260" y="508" width="12" height="12" fill="#6e6e6e"/><rect x="1030" y="518" width="12" height="12" fill="#5c5c5c"/><rect x="1040" y="518" width="12" height="12" fill="#5c5c5c"/><rect x="1060" y="518" width="12" height="12" fill="#5c5c5c"/><rect x="1070" y="518" width="12" height="12" fill="#808080"/><rect x="1080" y="518" width="12" height="12" fill="#b2b2b2"/><rect x="1090" y="518" width="12" height="12" fill="#919191"/><rect x="1100" y="518" width="12" height="12" fill="#808080"/><rect x="1110" y="518" width="12" height="12" fill="#808080"/><rect x="1120" y="518" width="12" height="12" fill="#6e6e6e"/><rect x="1130" y="518" width="12" height="12" fill="#808080"/><rect x="1140" y="518" width="12" height="12" fill="#808080"/><rect x="1150" y="518" width="12" height="12" fill="#808080"/><rect x="1160" y="518" width="12" height="12" fill="#6e6e6e"/><rect x="1170" y="518" width="12" height="12" fill="#808080"/><rect x="1180" y="518" width="12" height="12" fill="#6e6e6e"/><rect x="1190" y="518" width="12" height="12" fill="#808080"/><rect x="1200" y="518" width="12" height="12" fill="#808080"/><rect x="1210" y="518" width="12" height="12" fill="#808080"/><rect x="1220" y="518" width="12" height="12" fill="#6e6e6e"/><rect x="1230" y="518" width="12" height="12" fill="#6e6e6e"/><rect x="1240" y="518" width="12" height="12" fill="#6e6e6e"/><rect x="1250" y="518" width="12" height="12" fill="#6e6e6e"/><rect x="1040" y="528" width="12" height="12" fill="#6e6e6e"/><rect x="1060" y="528" width="12" height="12" fill="#4c4c4c"/><rect x="1070" y="528" width="12" height="12" fill="#4c4c4c"/><rect x="1080" y="528" width="12" height="12" fill="#6e6e6e"/><rect x="1090" y="528" width="12" height="12" fill="#808080"/><rect x="1100" y="528" width="12" height="12" fill="#6e6e6e"/><rect x="1110" y="528" width="12" height="12" fill="#6e6e6e"/><rect x="1120" y="528" width="12" height="12" fill="#6e6e6e"/><rect x="1130" y="528" width="12" height="12" fill="#6e6e6e"/><rect x="1140" y="528" width="12" height="12" fill="#808080"/><rect x="1150" y="528" width="12" height="12" fill="#808080"/><rect x="1160" y="528" width="12" height="12" fill="#6e6e6e"/><rect x="1170" y="528" width="12" height="12" fill="#808080"/><rect x="1180" y="528" width="12" height="12" fill="#808080"/><rect x="1190" y="528" width="12" height="12" fill="#6e6e6e"/><rect x="1200" y="528" width="12" height="12" fill="#808080"/><rect x="1210" y="528" width="12" height="12" fill="#919191"/><rect x="1220" y="528" width="12" height="12" fill="#6e6e6e"/><rect x="1230" y="528" width="12" height="12" fill="#6e6e6e"/><rect x="1240" y="528" width="12" height="12" fill="#6e6e6e"/><rect x="1250" y="528" width="12" height="12" fill="#6e6e6e"/><rect x="1030" y="538" width="12" height="12" fill="#6e6e6e"/><rect x="1040" y="538" width="12" height="12" fill="#6e6e6e"/><rect x="1070" y="538" width="12" height="12" fill="#5c5c5c"/><rect x="1080" y="538" width="12" height="12" fill="#5c5c5c"/><rect x="1090" y="538" width="12" height="12" fill="#5c5c5c"/><rect x="1100" y="538" width="12" height="12" fill="#5c5c5c"/><rect x="1110" y="538" width="12" height="12" fill="#5c5c5c"/><rect x="1120" y="538" width="12" height="12" fill="#5c5c5c"/><rect x="1130" y="538" width="12" height="12" fill="#4c4c4c"/><rect x="1140" y="538" width="12" height="12" fill="#5c5c5c"/><rect x="1150" y="538" width="12" height="12" fill="#6e6e6e"/><rect x="1160" y="538" width="12" height="12" fill="#6e6e6e"/><rect x="1170" y="538" width="12" height="12" fill="#808080"/><rect x="1180" y="538" width="12" height="12" fill="#6e6e6e"/><rect x="1190" y="538" width="12" height="12" fill="#6e6e6e"/><rect x="1200" y="538" width="12" height="12" fill="#6e6e6e"/><rect x="1210" y="538" width="12" height="12" fill="#808080"/><rect x="1220" y="538" width="12" height="12" fill="#6e6e6e"/><rect x="1230" y="538" width="12" height="12" fill="#6e6e6e"/><rect x="1240" y="538" width="12" height="12" fill="#6e6e6e"/><rect x="1030" y="548" width="12" height="12" fill="#6e6e6e"/><rect x="1040" y="548" width="12" height="12" fill="#6e6e6e"/><rect x="1070" y="548" width="12" height="12" fill="#5c5c5c"/><rect x="1080" y="548" width="12" height="12" fill="#5c5c5c"/><rect x="1090" y="548" width="12" height="12" fill="#5c5c5c"/><rect x="1100" y="548" width="12" height="12" fill="#5c5c5c"/><rect x="1110" y="548" width="12" height="12" fill="#4c4c4c"/><rect x="1120" y="548" width="12" height="12" fill="#4c4c4c"/><rect x="1130" y="548" width="12" height="12" fill="#4c4c4c"/><rect x="1140" y="548" width="12" height="12" fill="#5c5c5c"/><rect x="1150" y="548" width="12" height="12" fill="#6e6e6e"/><rect x="1160" y="548" width="12" height="12" fill="#6e6e6e"/><rect x="1170" y="548" width="12" height="12" fill="#6e6e6e"/><rect x="1180" y="548" width="12" height="12" fill="#6e6e6e"/><rect x="1190" y="548" width="12" height="12" fill="#6e6e6e"/><rect x="1200" y="548" width="12" height="12" fill="#6e6e6e"/><rect x="1210" y="548" width="12" height="12" fill="#6e6e6e"/><rect x="1220" y="548" width="12" height="12" fill="#6e6e6e"/><rect x="1230" y="548" width="12" height="12" fill="#6e6e6e"/><rect x="1240" y="548" width="12" height="12" fill="#6e6e6e"/><rect x="1030" y="558" width="12" height="12" fill="#6e6e6e"/><rect x="1040" y="558" width="12" height="12" fill="#6e6e6e"/><rect x="1050" y="558" width="12" height="12" fill="#6e6e6e"/><rect x="1060" y="558" width="12" height="12" fill="#6e6e6e"/><rect x="1070" y="558" width="12" height="12" fill="#3d3d3d"/><rect x="1080" y="558" width="12" height="12" fill="#5c5c5c"/><rect x="1090" y="558" width="12" height="12" fill="#5c5c5c"/><rect x="1110" y="558" width="12" height="12" fill="#4c4c4c"/><rect x="1120" y="558" width="12" height="12" fill="#3d3d3d"/><rect x="1130" y="558" width="12" height="12" fill="#3d3d3d"/><rect x="1140" y="558" width="12" height="12" fill="#2e2e2e"/><rect x="1160" y="558" width="12" height="12" fill="#6e6e6e"/><rect x="1170" y="558" width="12" height="12" fill="#6e6e6e"/><rect x="1180" y="558" width="12" height="12" fill="#6e6e6e"/><rect x="1190" y="558" width="12" height="12" fill="#6e6e6e"/><rect x="1200" y="558" width="12" height="12" fill="#6e6e6e"/><rect x="1210" y="558" width="12" height="12" fill="#6e6e6e"/><rect x="1220" y="558" width="12" height="12" fill="#6e6e6e"/><rect x="1230" y="558" width="12" height="12" fill="#6e6e6e"/><rect x="1030" y="568" width="12" height="12" fill="#6e6e6e"/><rect x="1040" y="568" width="12" height="12" fill="#6e6e6e"/><rect x="1050" y="568" width="12" height="12" fill="#808080"/><rect x="1060" y="568" width="12" height="12" fill="#5c5c5c"/><rect x="1070" y="568" width="12" height="12" fill="#2e2e2e"/><rect x="1080" y="568" width="12" height="12" fill="#4c4c4c"/><rect x="1110" y="568" width="12" height="12" fill="#5c5c5c"/><rect x="1120" y="568" width="12" height="12" fill="#5c5c5c"/><rect x="1140" y="568" width="12" height="12" fill="#1f1f1f"/><rect x="1180" y="568" width="12" height="12" fill="#6e6e6e"/><rect x="1190" y="568" width="12" height="12" fill="#6e6e6e"/><rect x="1200" y="568" width="12" height="12" fill="#5c5c5c"/><rect x="1210" y="568" width="12" height="12" fill="#5c5c5c"/><rect x="1220" y="568" width="12" height="12" fill="#5c5c5c"/><rect x="1230" y="568" width="12" height="12" fill="#5c5c5c"/><rect x="1030" y="578" width="12" height="12" fill="#6e6e6e"/><rect x="1040" y="578" width="12" height="12" fill="#808080"/><rect x="1050" y="578" width="12" height="12" fill="#808080"/><rect x="1060" y="578" width="12" height="12" fill="#3d3d3d"/><rect x="1070" y="578" width="12" height="12" fill="#1f1f1f"/><rect x="1120" y="578" width="12" height="12" fill="#5c5c5c"/><rect x="1140" y="578" width="12" height="12" fill="#0f0f0f"/><rect x="1170" y="578" width="12" height="12" fill="#0f0f0f"/><rect x="1180" y="578" width="12" height="12" fill="#0f0f0f"/><rect x="1190" y="578" width="12" height="12" fill="#5c5c5c"/><rect x="1200" y="578" width="12" height="12" fill="#5c5c5c"/><rect x="1210" y="578" width="12" height="12" fill="#5c5c5c"/><rect x="1220" y="578" width="12" height="12" fill="#5c5c5c"/><rect x="1230" y="578" width="12" height="12" fill="#5c5c5c"/><rect x="1030" y="588" width="12" height="12" fill="#5c5c5c"/><rect x="1040" y="588" width="12" height="12" fill="#6e6e6e"/><rect x="1050" y="588" width="12" height="12" fill="#3d3d3d"/><rect x="1060" y="588" width="12" height="12" fill="#1f1f1f"/><rect x="1110" y="588" width="12" height="12" fill="#2e2e2e"/><rect x="1120" y="588" width="12" height="12" fill="#1f1f1f"/><rect x="1200" y="588" width="12" height="12" fill="#5c5c5c"/><rect x="1210" y="588" width="12" height="12" fill="#5c5c5c"/><rect x="1220" y="588" width="12" height="12" fill="#5c5c5c"/><rect x="1030" y="598" width="12" height="12" fill="#5c5c5c"/><rect x="1040" y="598" width="12" height="12" fill="#6e6e6e"/><rect x="1050" y="598" width="12" height="12" fill="#2e2e2e"/><rect x="1060" y="598" width="12" height="12" fill="#1f1f1f"/><rect x="1080" y="598" width="12" height="12" fill="#0f0f0f"/><rect x="1100" y="598" width="12" height="12" fill="#0f0f0f"/><rect x="1130" y="598" width="12" height="12" fill="#1f1f1f"/><rect x="1170" y="598" width="12" height="12" fill="#0f0f0f"/><rect x="1200" y="598" width="12" height="12" fill="#5c5c5c"/><rect x="1210" y="598" width="12" height="12" fill="#5c5c5c"/><rect x="1030" y="608" width="12" height="12" fill="#5c5c5c"/><rect x="1040" y="608" width="12" height="12" fill="#808080"/><rect x="1050" y="608" width="12" height="12" fill="#2e2e2e"/><rect x="1060" y="608" width="12" height="12" fill="#1f1f1f"/><rect x="1080" y="608" width="12" height="12" fill="#0f0f0f"/><rect x="1090" y="608" width="12" height="12" fill="#1f1f1f"/><rect x="1100" y="608" width="12" height="12" fill="#1f1f1f"/><rect x="1130" y="608" width="12" height="12" fill="#3d3d3d"/><rect x="1140" y="608" width="12" height="12" fill="#3d3d3d"/><rect x="1150" y="608" width="12" height="12" fill="#808080"/><rect x="1160" y="608" width="12" height="12" fill="#6e6e6e"/><rect x="1170" y="608" width="12" height="12" fill="#5c5c5c"/><rect x="1180" y="608" width="12" height="12" fill="#5c5c5c"/><rect x="1190" y="608" width="12" height="12" fill="#5c5c5c"/><rect x="1200" y="608" width="12" height="12" fill="#5c5c5c"/><rect x="1210" y="608" width="12" height="12" fill="#5c5c5c"/><rect x="1030" y="618" width="12" height="12" fill="#5c5c5c"/><rect x="1040" y="618" width="12" height="12" fill="#5c5c5c"/><rect x="1050" y="618" width="12" height="12" fill="#1f1f1f"/><rect x="1060" y="618" width="12" height="12" fill="#1f1f1f"/><rect x="1080" y="618" width="12" height="12" fill="#1f1f1f"/><rect x="1090" y="618" width="12" height="12" fill="#1f1f1f"/><rect x="1100" y="618" width="12" height="12" fill="#2e2e2e"/><rect x="1110" y="618" width="12" height="12" fill="#1f1f1f"/><rect x="1120" y="618" width="12" height="12" fill="#2e2e2e"/><rect x="1130" y="618" width="12" height="12" fill="#2e2e2e"/><rect x="1140" y="618" width="12" height="12" fill="#3d3d3d"/><rect x="1150" y="618" width="12" height="12" fill="#6e6e6e"/><rect x="1160" y="618" width="12" height="12" fill="#6e6e6e"/><rect x="1170" y="618" width="12" height="12" fill="#5c5c5c"/><rect x="1180" y="618" width="12" height="12" fill="#5c5c5c"/><rect x="1190" y="618" width="12" height="12" fill="#5c5c5c"/><rect x="1200" y="618" width="12" height="12" fill="#5c5c5c"/><rect x="1210" y="618" width="12" height="12" fill="#5c5c5c"/><rect x="1030" y="628" width="12" height="12" fill="#6e6e6e"/><rect x="1040" y="628" width="12" height="12" fill="#3d3d3d"/><rect x="1050" y="628" width="12" height="12" fill="#2e2e2e"/><rect x="1080" y="628" width="12" height="12" fill="#1f1f1f"/><rect x="1090" y="628" width="12" height="12" fill="#1f1f1f"/><rect x="1100" y="628" width="12" height="12" fill="#2e2e2e"/><rect x="1110" y="628" width="12" height="12" fill="#5c5c5c"/><rect x="1120" y="628" width="12" height="12" fill="#2e2e2e"/><rect x="1130" y="628" width="12" height="12" fill="#3d3d3d"/><rect x="1140" y="628" width="12" height="12" fill="#4c4c4c"/><rect x="1150" y="628" width="12" height="12" fill="#4c4c4c"/><rect x="1160" y="628" width="12" height="12" fill="#4c4c4c"/><rect x="1170" y="628" width="12" height="12" fill="#5c5c5c"/><rect x="1180" y="628" width="12" height="12" fill="#5c5c5c"/><rect x="1190" y="628" width="12" height="12" fill="#5c5c5c"/><rect x="1200" y="628" width="12" height="12" fill="#5c5c5c"/><rect x="1210" y="628" width="12" height="12" fill="#5c5c5c"/><rect x="1030" y="638" width="12" height="12" fill="#6e6e6e"/><rect x="1040" y="638" width="12" height="12" fill="#1f1f1f"/><rect x="1050" y="638" width="12" height="12" fill="#1f1f1f"/><rect x="1060" y="638" width="12" height="12" fill="#808080"/><rect x="1070" y="638" width="12" height="12" fill="#1f1f1f"/><rect x="1080" y="638" width="12" height="12" fill="#1f1f1f"/><rect x="1090" y="638" width="12" height="12" fill="#2e2e2e"/><rect x="1100" y="638" width="12" height="12" fill="#4c4c4c"/><rect x="1110" y="638" width="12" height="12" fill="#6e6e6e"/><rect x="1120" y="638" width="12" height="12" fill="#6e6e6e"/><rect x="1130" y="638" width="12" height="12" fill="#5c5c5c"/><rect x="1140" y="638" width="12" height="12" fill="#2e2e2e"/><rect x="1150" y="638" width="12" height="12" fill="#5c5c5c"/><rect x="1160" y="638" width="12" height="12" fill="#6e6e6e"/><rect x="1170" y="638" width="12" height="12" fill="#808080"/><rect x="1180" y="638" width="12" height="12" fill="#919191"/><rect x="1190" y="638" width="12" height="12" fill="#919191"/><rect x="1200" y="638" width="12" height="12" fill="#919191"/><rect x="1210" y="638" width="12" height="12" fill="#919191"/><rect x="1030" y="648" width="12" height="12" fill="#5c5c5c"/><rect x="1050" y="648" width="12" height="12" fill="#1f1f1f"/><rect x="1060" y="648" width="12" height="12" fill="#1f1f1f"/><rect x="1070" y="648" width="12" height="12" fill="#1f1f1f"/><rect x="1080" y="648" width="12" height="12" fill="#2e2e2e"/><rect x="1090" y="648" width="12" height="12" fill="#4c4c4c"/><rect x="1100" y="648" width="12" height="12" fill="#6e6e6e"/><rect x="1110" y="648" width="12" height="12" fill="#5c5c5c"/><rect x="1120" y="648" width="12" height="12" fill="#6e6e6e"/><rect x="1130" y="648" width="12" height="12" fill="#808080"/><rect x="1140" y="648" width="12" height="12" fill="#808080"/><rect x="1150" y="648" width="12" height="12" fill="#6e6e6e"/><rect x="1160" y="648" width="12" height="12" fill="#c2c2c2"/><rect x="1170" y="648" width="12" height="12" fill="#e0e0e0"/><rect x="1180" y="648" width="12" height="12" fill="#d1d1d1"/><rect x="1190" y="648" width="12" height="12" fill="#d1d1d1"/><rect x="1200" y="648" width="12" height="12" fill="#d1d1d1"/><rect x="1210" y="648" width="12" height="12" fill="#d1d1d1"/><rect x="1030" y="658" width="12" height="12" fill="#4c4c4c"/><rect x="1040" y="658" width="12" height="12" fill="#1f1f1f"/><rect x="1050" y="658" width="12" height="12" fill="#1f1f1f"/><rect x="1060" y="658" width="12" height="12" fill="#2e2e2e"/><rect x="1070" y="658" width="12" height="12" fill="#3d3d3d"/><rect x="1080" y="658" width="12" height="12" fill="#5c5c5c"/><rect x="1090" y="658" width="12" height="12" fill="#6e6e6e"/><rect x="1100" y="658" width="12" height="12" fill="#808080"/><rect x="1110" y="658" width="12" height="12" fill="#6e6e6e"/><rect x="1120" y="658" width="12" height="12" fill="#6e6e6e"/><rect x="1130" y="658" width="12" height="12" fill="#6e6e6e"/><rect x="1140" y="658" width="12" height="12" fill="#b2b2b2"/><rect x="1150" y="658" width="12" height="12" fill="#808080"/><rect x="1160" y="658" width="12" height="12" fill="#e0e0e0"/><rect x="1170" y="658" width="12" height="12" fill="#f0f0f0"/><rect x="1180" y="658" width="12" height="12" fill="#e0e0e0"/><rect x="1190" y="658" width="12" height="12" fill="#d1d1d1"/><rect x="1200" y="658" width="12" height="12" fill="#d1d1d1"/><rect x="1030" y="668" width="12" height="12" fill="#3d3d3d"/><rect x="1040" y="668" width="12" height="12" fill="#2e2e2e"/><rect x="1050" y="668" width="12" height="12" fill="#1f1f1f"/><rect x="1060" y="668" width="12" height="12" fill="#2e2e2e"/><rect x="1070" y="668" width="12" height="12" fill="#4c4c4c"/><rect x="1080" y="668" width="12" height="12" fill="#6e6e6e"/><rect x="1090" y="668" width="12" height="12" fill="#808080"/><rect x="1100" y="668" width="12" height="12" fill="#808080"/><rect x="1110" y="668" width="12" height="12" fill="#6e6e6e"/><rect x="1120" y="668" width="12" height="12" fill="#6e6e6e"/><rect x="1130" y="668" width="12" height="12" fill="#e0e0e0"/><rect x="1140" y="668" width="12" height="12" fill="#e0e0e0"/><rect x="1150" y="668" width="12" height="12" fill="#c2c2c2"/><rect x="1160" y="668" width="12" height="12" fill="#f0f0f0"/><rect x="1170" y="668" width="12" height="12" fill="#e0e0e0"/><rect x="1180" y="668" width="12" height="12" fill="#e0e0e0"/><rect x="1190" y="668" width="12" height="12" fill="#e0e0e0"/><rect x="1200" y="668" width="12" height="12" fill="#e0e0e0"/><rect x="1030" y="678" width="12" height="12" fill="#4c4c4c"/><rect x="1040" y="678" width="12" height="12" fill="#1f1f1f"/><rect x="1050" y="678" width="12" height="12" fill="#2e2e2e"/><rect x="1060" y="678" width="12" height="12" fill="#5c5c5c"/><rect x="1070" y="678" width="12" height="12" fill="#3d3d3d"/><rect x="1080" y="678" width="12" height="12" fill="#2e2e2e"/><rect x="1090" y="678" width="12" height="12" fill="#5c5c5c"/><rect x="1100" y="678" width="12" height="12" fill="#808080"/><rect x="1110" y="678" width="12" height="12" fill="#5c5c5c"/><rect x="1120" y="678" width="12" height="12" fill="#6e6e6e"/><rect x="1130" y="678" width="12" height="12" fill="#e0e0e0"/><rect x="1140" y="678" width="12" height="12" fill="#d1d1d1"/><rect x="1150" y="678" width="12" height="12" fill="#e0e0e0"/><rect x="1160" y="678" width="12" height="12" fill="#808080"/><rect x="1170" y="678" width="12" height="12" fill="#6e6e6e"/><rect x="1180" y="678" width="12" height="12" fill="#6e6e6e"/><rect x="1190" y="678" width="12" height="12" fill="#6e6e6e"/><rect x="1200" y="678" width="12" height="12" fill="#6e6e6e"/><rect x="1030" y="688" width="12" height="12" fill="#5c5c5c"/><rect x="1040" y="688" width="12" height="12" fill="#2e2e2e"/><rect x="1050" y="688" width="12" height="12" fill="#3d3d3d"/><rect x="1060" y="688" width="12" height="12" fill="#5c5c5c"/><rect x="1070" y="688" width="12" height="12" fill="#6e6e6e"/><rect x="1080" y="688" width="12" height="12" fill="#5c5c5c"/><rect x="1090" y="688" width="12" height="12" fill="#1f1f1f"/><rect x="1100" y="688" width="12" height="12" fill="#6e6e6e"/><rect x="1110" y="688" width="12" height="12" fill="#4c4c4c"/><rect x="1120" y="688" width="12" height="12" fill="#c2c2c2"/><rect x="1130" y="688" width="12" height="12" fill="#f0f0f0"/><rect x="1140" y="688" width="12" height="12" fill="#e0e0e0"/><rect x="1150" y="688" width="12" height="12" fill="#e0e0e0"/><rect x="1160" y="688" width="12" height="12" fill="#6e6e6e"/><rect x="1170" y="688" width="12" height="12" fill="#6e6e6e"/><rect x="1180" y="688" width="12" height="12" fill="#6e6e6e"/><rect x="1190" y="688" width="12" height="12" fill="#6e6e6e"/><rect x="1030" y="698" width="12" height="12" fill="#5c5c5c"/><rect x="1040" y="698" width="12" height="12" fill="#5c5c5c"/><rect x="1050" y="698" width="12" height="12" fill="#5c5c5c"/><rect x="1060" y="698" width="12" height="12" fill="#6e6e6e"/><rect x="1070" y="698" width="12" height="12" fill="#5c5c5c"/><rect x="1080" y="698" width="12" height="12" fill="#5c5c5c"/><rect x="1090" y="698" width="12" height="12" fill="#2e2e2e"/><rect x="1100" y="698" width="12" height="12" fill="#6e6e6e"/><rect x="1110" y="698" width="12" height="12" fill="#3d3d3d"/><rect x="1120" y="698" width="12" height="12" fill="#c2c2c2"/><rect x="1130" y="698" width="12" height="12" fill="#f0f0f0"/><rect x="1140" y="698" width="12" height="12" fill="#e0e0e0"/><rect x="1150" y="698" width="12" height="12" fill="#e0e0e0"/><rect x="1160" y="698" width="12" height="12" fill="#a1a1a1"/><rect x="1170" y="698" width="12" height="12" fill="#808080"/><rect x="1180" y="698" width="12" height="12" fill="#6e6e6e"/></g></g>
<clipPath id="cp5"><rect x="1036.5" y="483.9" width="236.6" height="217.9"/></clipPath>
<path clip-path="url(#cp5)" d="M1036.6 485.4L1113.1 485.4L1115.2 485.9L1116.0 487.6L1118.8 488.8L1121.3 489.0L1124.1 489.3L1126.6 489.1L1129.1 490.7L1131.0 491.7L1132.9 492.1L1136.1 494.5L1139.2 493.1L1141.1 494.0L1145.5 494.0L1148.0 495.0M1148.0 495.0L1145.5 496.9L1142.4 498.3L1139.2 501.1L1136.1 503.5L1132.9 506.3L1132.3 506.7L1134.2 507.2L1137.3 505.8L1139.8 504.9L1140.8 507.7L1143.0 508.4M1143.0 508.4L1146.1 506.7L1149.3 505.8L1152.4 504.4L1156.2 501.6L1159.0 500.2L1156.8 503.5L1155.6 505.8L1159.4 505.3L1161.9 509.0L1166.3 509.5L1170.7 507.5L1173.8 506.7L1177.0 506.5L1177.3 509.0L1179.5 509.5L1182.0 509.0L1182.6 511.3L1184.5 513.2L1183.3 514.1L1180.8 513.8L1178.9 514.8M1178.9 514.8L1177.0 513.6L1173.8 512.7L1170.7 514.1L1168.8 515.0L1166.9 516.8L1166.0 515.0L1164.1 515.9L1162.2 518.2L1160.6 521.8M1160.6 521.8L1159.4 524.5L1158.1 526.7L1159.7 525.4L1161.9 522.7L1164.7 520.0L1163.1 523.6L1161.2 527.2L1160.9 530.7L1160.0 533.8L1158.7 538.6L1159.0 540.8L1159.4 544.7L1160.3 549.0L1161.1 551.6L1162.5 552.2L1164.4 551.8L1165.5 551.1M1165.5 551.1L1167.5 548.2L1169.1 545.1L1169.4 541.3L1168.8 536.9L1167.5 533.4L1167.9 529.9L1169.4 526.3L1170.4 523.6L1172.9 520.9L1173.5 523.6L1173.2 525.0L1174.8 522.7L1175.7 520.0L1176.7 519.1L1177.3 516.4L1178.6 515.6M1178.6 515.6L1181.4 516.8L1183.9 518.6L1187.0 522.3L1187.7 525.4L1187.4 529.0L1185.8 531.2L1183.9 532.5L1183.6 534.7L1185.8 533.4L1187.7 531.6L1189.9 531.2L1192.1 532.1L1192.7 536.0L1193.2 540.4L1192.7 543.8L1190.5 545.6L1188.9 546.4L1188.6 548.6L1187.0 550.3L1186.7 551.3M1186.7 551.3L1189.6 552.8L1191.5 553.7L1194.0 553.9L1197.7 553.3L1200.3 551.1L1203.4 549.9L1205.2 549.2L1207.8 547.7L1210.0 546.7L1212.9 544.7L1215.4 541.7L1214.4 540.4L1214.4 538.1M1214.4 538.1L1217.9 537.2L1221.7 537.2L1224.8 538.0L1227.6 537.9L1230.5 536.5L1232.4 535.8L1232.4 532.5L1231.7 530.7L1234.3 528.5L1238.0 524.5L1241.5 522.7L1250.3 522.7L1262.0 522.6L1264.5 520.0L1266.0 520.5L1267.6 517.3L1269.8 514.1L1269.5 511.8L1271.4 507.2L1276.1 500.2M1277.7 530.7L1272.7 533.4L1270.1 534.7L1267.9 537.8L1267.0 539.8L1266.2 541.5L1267.6 543.4L1265.4 545.1L1264.8 546.4L1267.0 549.0L1268.2 550.9L1271.4 551.6L1271.7 549.9L1270.8 548.6M1267.6 552.8L1265.7 552.4L1264.3 553.3L1263.2 553.7L1262.3 554.1L1259.7 554.8L1256.9 555.2L1253.1 555.4L1250.0 556.7L1248.4 557.5L1247.5 558.8L1246.2 560.0L1244.6 561.7L1246.2 562.1L1245.9 565.0L1245.6 567.9L1243.7 571.2L1241.2 574.1L1240.2 574.7L1240.6 572.5L1238.7 571.2L1236.8 569.2L1237.4 571.6L1238.0 574.1L1239.3 575.9L1239.6 578.6L1239.3 579.8L1238.3 582.2L1237.1 583.8L1235.8 586.2L1233.9 589.0M1246.2 560.9L1249.4 560.9L1255.7 558.8L1259.6 556.9L1256.3 557.5L1252.5 557.9L1248.1 558.8L1246.2 560.9M1233.9 589.0L1234.3 585.4L1233.6 580.6L1231.7 578.2L1232.4 574.9L1233.6 571.6L1233.0 569.6L1231.1 572.5L1230.5 576.5L1231.1 579.8L1231.7 582.6L1231.1 585.4L1231.7 588.6L1231.7 590.6L1233.6 590.9M1231.7 582.6L1229.9 581.0L1227.3 579.8L1226.1 578.2L1227.0 575.7L1226.1 574.1L1224.2 572.5L1222.1 573.0M1235.8 582.6L1238.4 582.0M1230.5 579.8L1228.0 579.0L1229.2 580.6M1231.1 588.2L1228.0 587.8L1229.9 586.2M1233.6 590.9L1233.9 592.6L1234.4 593.8L1235.2 596.6L1236.5 599.7L1237.0 601.7L1236.6 604.2L1235.2 604.5L1233.3 605.6L1230.5 608.4L1229.2 608.3L1226.7 608.5L1224.8 609.8L1222.9 611.4L1221.4 614.8L1219.8 614.3L1217.6 614.7L1215.4 616.3L1213.5 619.0L1212.2 621.3L1209.1 623.2L1207.2 624.7L1205.3 626.6L1203.0 628.5L1201.5 630.3L1200.6 632.6L1200.3 634.8L1199.3 638.5M1234.4 593.8L1231.7 595.8L1233.6 598.1L1230.5 599.7L1233.6 601.3L1231.1 604.4L1233.3 605.6M1199.3 638.5L1200.3 642.2L1201.7 645.9L1204.0 651.0L1206.1 656.2L1207.8 662.5L1209.0 667.9L1209.7 673.8L1209.4 679.5L1209.0 685.5L1204.7 679.6L1201.7 675.3L1200.3 673.2L1198.8 669.4L1197.4 665.4L1196.6 662.1L1194.6 660.3L1193.0 657.7L1192.1 655.3L1190.8 652.6L1190.2 649.5L1189.3 645.9L1186.4 643.7L1182.6 642.9L1180.8 644.0L1178.9 645.1L1177.0 646.2L1174.8 646.0L1174.5 644.4L1172.6 642.8L1170.1 641.1L1167.5 640.7L1165.0 640.7L1163.1 641.1L1161.1 641.6M1161.1 641.6L1159.4 641.8L1158.1 642.0L1158.7 639.2L1157.8 638.6L1157.5 640.7L1155.6 640.9L1153.1 640.7L1151.2 640.9L1149.3 641.4L1148.3 642.2L1147.4 642.9L1148.0 644.4L1149.3 645.5L1149.9 648.0L1151.8 649.5L1150.9 651.0L1149.3 650.2L1147.4 648.8L1145.5 649.5L1144.2 650.4L1142.4 650.2L1140.5 650.6L1138.0 649.5L1137.3 648.8L1135.4 646.6L1133.5 646.9L1131.0 646.9L1128.5 646.6L1125.4 645.3L1121.3 645.9M1147.4 642.9L1144.9 641.1L1142.7 642.2L1144.9 643.5L1146.8 642.5M1121.3 645.9L1119.1 646.6L1115.9 648.4L1114.7 649.1L1112.1 651.3L1109.1 652.4L1106.5 654.6L1104.0 656.7L1101.8 658.5L1100.3 660.7L1099.2 663.2L1098.6 666.1L1098.3 668.9L1097.7 671.0L1097.4 672.1M1097.4 672.1L1095.2 671.8L1092.9 671.0L1090.1 669.6L1087.1 666.6L1085.1 663.2L1082.7 659.3L1080.0 655.3L1078.2 651.7L1075.4 647.5L1073.1 645.1L1071.0 643.7L1068.7 644.0L1066.6 644.6L1064.3 647.3L1062.4 649.5L1060.7 649.0L1058.0 647.3L1055.5 645.1L1053.4 643.1L1051.1 640.0L1048.6 636.6L1046.1 634.3L1043.5 632.2L1041.7 630.5L1035.4 630.5M1057.1 485.4L1057.1 557.5M1057.1 514.2L1104.2 514.2M1036.6 522.7L1057.1 522.7M1057.1 540.4L1092.0 540.4L1095.2 541.7L1098.9 541.7L1101.4 542.6L1104.0 543.8L1104.9 544.8M1036.6 557.5L1069.7 557.5L1069.7 565.9L1112.1 565.9M1069.7 565.9L1069.7 590.2M1036.6 590.2L1116.4 590.2M1063.7 590.2L1063.7 628.8L1040.9 628.8L1041.0 629.6L1041.7 630.5M1063.7 594.2L1082.6 594.2L1082.6 609.3L1084.5 610.6L1086.3 610.7L1088.9 612.1L1091.4 612.5L1094.5 613.3L1097.0 614.4L1100.2 615.2L1102.1 614.0L1104.0 614.8L1106.5 615.6L1109.0 614.7L1112.1 614.6L1114.7 615.6L1117.3 616.4M1117.3 616.4L1117.6 602.8L1116.4 594.2L1116.4 590.2M1117.3 616.4L1120.1 617.1L1120.1 621.1M1120.1 621.1L1120.1 628.8L1121.0 630.3L1122.8 634.0L1123.2 636.3L1122.2 640.0L1122.1 642.9L1121.3 645.9M1120.1 621.1L1138.1 621.3M1138.1 621.3L1138.6 624.3L1139.5 626.6L1138.0 629.6L1136.7 631.8L1135.4 634.8L1135.2 636.3L1147.2 636.3L1147.1 638.9L1148.0 640.7L1148.3 642.2M1138.1 621.3L1138.6 618.2L1138.9 616.0L1140.2 613.7L1141.7 610.6L1143.6 607.9L1144.9 605.2L1146.1 602.1L1147.4 600.1L1147.4 598.1L1148.3 595.0L1148.7 594.2L1150.5 593.4L1150.9 590.4M1147.4 598.1L1143.2 598.1L1144.6 594.2L1116.4 594.2M1116.4 590.2L1116.4 573.3L1114.7 570.0L1113.4 567.1L1112.1 565.9M1112.1 565.9L1109.2 561.0L1108.7 556.7L1108.1 553.3L1107.1 549.9L1105.5 547.3L1104.9 544.8M1109.2 561.0L1134.6 560.9L1136.6 562.7M1104.9 544.8L1104.0 541.3L1104.9 536.0L1104.9 520.0L1104.2 517.3L1104.2 514.2L1103.3 509.0L1102.7 504.4L1102.1 499.7L1100.8 495.0L1100.5 490.2L1100.0 485.4M1104.9 536.0L1137.8 536.0M1137.8 536.0L1138.3 540.4L1139.8 543.0L1141.4 544.7L1143.0 547.3L1144.5 550.7L1143.3 552.8L1141.1 553.4L1138.9 555.8L1138.6 559.2L1136.6 562.7L1136.4 565.9L1138.0 569.2L1140.8 572.5L1142.7 574.5L1144.2 576.5L1144.2 579.8L1146.1 582.6L1148.7 585.4L1148.7 588.6L1150.9 590.4M1137.8 536.0L1137.3 533.4L1134.8 529.9L1131.0 527.2L1127.9 525.0L1128.2 521.8L1127.9 518.2L1131.0 513.6L1131.0 507.7L1132.3 506.7M1141.5 544.7L1159.4 544.7M1143.0 508.4L1144.9 510.0L1148.7 511.8L1152.4 512.7L1157.5 514.1L1159.0 516.4L1159.4 519.1L1160.6 521.8M1161.1 551.6L1161.1 570.8L1160.6 572.9L1161.2 575.7L1159.7 578.2L1158.4 580.6L1157.8 583.8M1150.9 590.4L1154.3 589.4L1155.3 587.0L1157.5 586.2L1157.8 583.8L1160.6 582.6L1163.8 583.8L1166.9 583.0L1168.8 581.4L1170.7 582.2L1171.9 580.2L1174.5 576.9L1177.0 576.1L1178.1 573.3L1180.1 573.3L1182.0 575.7L1185.8 576.9L1188.9 576.9L1192.1 578.8L1194.6 577.4L1195.5 574.5L1197.4 573.3L1199.3 571.2L1202.2 569.6L1203.4 567.5L1204.0 565.0L1204.7 562.5L1205.2 560.5M1178.1 551.6L1178.1 573.3M1165.5 551.1L1178.1 551.1L1186.7 551.3M1205.2 549.2L1205.2 568.2L1234.9 568.2M1211.7 568.2L1211.7 572.5L1214.1 570.4L1216.0 569.2L1218.8 568.8L1221.0 569.2L1222.1 573.0M1222.1 573.0L1220.4 572.5L1218.5 574.1L1215.7 576.1L1213.5 578.6L1211.0 580.6L1209.1 583.0L1206.9 585.4L1204.7 586.6L1202.2 587.8L1199.0 588.2L1196.1 585.9M1196.1 585.9L1194.0 584.6L1192.7 581.4L1192.1 578.8M1196.1 585.9L1193.3 588.6L1190.2 590.6L1185.2 593.4M1148.7 594.2L1157.7 594.2L1157.7 592.8L1185.3 593.4L1197.9 593.5L1234.4 593.8M1197.9 593.5L1196.5 595.8L1194.0 597.3L1190.2 598.5L1186.4 601.7L1183.3 603.6L1181.3 605.9M1181.3 605.9L1144.6 605.9M1181.3 605.9L1188.9 605.9M1188.9 605.9L1190.8 605.2L1193.3 604.4L1201.9 604.8L1202.6 605.2L1203.4 607.3L1210.5 607.5L1217.6 614.7M1188.9 605.9L1190.8 609.0L1192.4 612.1L1194.6 615.6L1196.5 618.2L1198.7 620.9L1200.3 624.3L1201.5 627.3L1203.0 628.5M1173.2 605.9L1175.7 621.3L1177.0 625.1L1176.7 628.8L1176.3 632.6L1177.0 636.3M1177.0 636.3L1177.9 638.4L1194.6 639.5L1195.5 641.1L1195.9 639.2L1197.1 638.1L1199.3 638.5M1160.6 641.4L1160.6 636.3L1177.0 636.3M1156.8 605.9L1157.5 613.7L1156.5 619.0L1155.1 629.6L1155.6 640.9M1210.0 546.7L1210.0 549.0L1237.7 549.0L1239.3 550.7L1241.2 553.7L1241.8 554.5M1241.8 554.5L1246.8 557.5M1241.8 554.5L1239.3 557.9L1238.7 560.9L1239.9 562.5L1241.5 564.2L1239.3 566.3L1237.4 567.5L1236.5 569.2M1234.9 568.2L1236.1 567.2L1237.4 567.5M1234.9 568.2L1234.9 578.6L1239.6 578.6M1250.3 522.7L1250.3 527.2L1250.0 535.1L1250.9 542.6M1250.9 542.6L1249.4 548.6L1249.4 555.8L1248.4 557.5M1262.0 522.6L1261.0 525.4L1258.8 529.0L1256.9 533.8L1256.3 538.6L1255.3 542.7M1250.9 542.6L1263.2 543.0L1265.1 541.7L1266.2 541.5M1264.6 520.0L1265.1 527.2L1265.4 533.4L1267.0 539.8M1249.4 548.6L1260.1 548.8L1262.7 548.8L1262.7 549.9L1263.8 551.6L1264.3 553.3M1260.1 548.8L1259.7 554.8M1038.0 485.4L1038.0 630.5M1272.4 505.3L1272.4 536.0" fill="none" stroke="#000" stroke-width="2.8" stroke-linejoin="round" stroke-linecap="round"/>
<path clip-path="url(#cp5)" d="M1233.8 591.3L1235.3 590.9M1234.1 592.4L1231.1 593.3M1234.5 594.0L1231.7 594.7M1235.5 597.2L1234.3 597.7M1236.1 598.8L1232.3 600.3M1236.6 600.1L1239.8 599.3M1236.8 603.1L1239.3 603.5M1236.6 604.3L1235.0 600.3M1234.7 605.0L1234.2 603.6M1232.2 606.7L1231.0 605.5M1231.0 607.9L1229.3 606.2M1230.4 608.4L1230.3 607.2M1227.3 608.5L1227.3 605.9M1225.6 609.3L1224.0 607.0M1224.1 610.8L1221.1 608.7M1223.5 611.8L1225.9 613.5M1222.5 613.2L1224.2 614.4M1222.1 613.7L1224.2 615.2M1221.1 614.8L1221.1 611.9M1218.2 614.7L1218.3 610.8M1216.4 616.0L1218.0 617.5M1215.4 617.0L1213.1 614.8M1213.7 618.8L1210.4 615.6M1212.8 619.7L1213.6 620.6M1211.7 620.7L1215.0 624.2M1211.0 621.4L1212.7 623.2M1210.2 622.2L1208.3 620.2M1208.9 623.3L1209.7 624.2M1207.7 624.5L1206.4 623.0M1205.5 626.4L1204.6 625.4M1204.7 627.1L1207.5 630.4M1203.1 628.4L1201.8 626.8M1202.7 629.0L1206.4 631.2M1202.1 630.1L1200.6 629.2M1201.2 631.5L1198.7 630.1M1200.5 632.9L1199.5 632.7M1200.2 634.6L1203.2 635.2M1199.7 636.6L1202.6 637.2M1199.4 638.0L1200.6 638.3M1203.9 678.5L1200.3 680.9M1203.3 677.6L1205.4 676.2M1202.1 675.8L1203.1 675.1M1201.6 675.0L1203.0 674.3M1201.0 673.7L1201.9 673.3M1200.2 672.2L1202.3 671.1M1198.9 669.6L1201.9 668.1M1198.7 669.0L1200.9 668.4M1198.3 667.8L1194.3 669.0M1197.7 665.8L1200.5 665.0M1197.5 664.9L1199.7 664.2M1196.7 662.3L1198.2 661.9M1195.5 660.7L1197.8 658.8M1194.7 659.8L1195.6 659.1M1193.0 657.7L1189.7 660.5M1192.8 657.2L1195.0 656.3M1191.7 654.7L1188.9 655.8M1191.3 653.7L1189.6 654.4M1190.4 650.9L1186.3 651.8M1190.1 649.5L1193.8 648.7M1189.9 648.4L1192.1 647.9M1189.7 647.5L1191.7 647.1M1188.3 645.1L1191.1 641.5M1186.4 643.7L1183.6 647.5M1185.7 643.5L1186.0 641.7M1184.1 643.2L1183.8 645.0M1148.1 644.2L1143.9 643.6M1148.6 645.6L1145.1 647.4M1149.6 647.4L1153.6 645.4M1151.3 649.1L1149.6 651.4M1149.8 650.1L1150.4 652.2M1147.4 649.9L1147.9 647.4M1145.6 649.5L1146.3 645.8M1145.3 649.5L1145.6 651.1M1142.5 650.2L1142.8 651.7M1140.5 650.6L1139.8 647.2M1139.6 650.1L1140.4 648.8M1137.4 648.8L1139.1 645.8M1136.0 648.2L1134.9 650.7M1134.6 647.7L1135.3 646.0M1134.0 647.4L1134.7 645.6M1132.3 646.9L1132.6 644.3M1128.7 646.6L1128.9 644.3M1269.5 535.6L1265.9 533.0M1268.0 537.6L1265.7 535.9M1267.4 538.8L1266.5 538.4M1266.8 540.1L1267.8 540.5M1266.5 541.8L1268.7 540.2M1266.4 544.4L1265.0 542.6M1265.1 545.9L1261.5 544.1M1265.4 547.2L1263.9 548.4M1266.7 548.7L1264.5 550.6M1115.0 649.0L1112.7 645.1M1113.9 649.8L1112.0 647.6M1112.5 651.0L1110.8 648.9" fill="none" stroke="#000" stroke-width="1.5" stroke-linecap="round" stroke-linejoin="round"/>
<path clip-path="url(#cp5)" d="M1233.6 590.9L1234.4 593.8L1235.2 596.6L1236.5 599.7L1237.0 601.7L1236.6 604.2L1233.3 605.6L1230.5 608.4L1226.7 608.5L1224.8 609.8L1221.4 614.8L1217.6 614.7L1213.5 619.0L1209.1 623.2L1205.3 626.6L1203.0 628.5L1200.6 632.6L1199.3 638.5M1204.7 679.6L1201.7 675.3L1198.8 669.4L1196.6 662.1L1193.0 657.7L1190.8 652.6L1189.3 645.9L1186.4 643.7L1182.6 642.9M1148.3 642.2L1148.0 644.4L1149.9 648.0L1151.8 649.5L1149.3 650.2L1145.5 649.5L1140.5 650.6L1137.3 648.8L1132.9 646.9L1128.5 646.6M1270.1 534.7L1267.9 537.8L1267.0 539.8L1266.2 541.5L1267.6 543.4L1265.4 545.1L1264.8 546.4L1267.0 549.0M1115.9 648.4L1114.7 649.1L1112.1 651.3" fill="none" stroke="#000" stroke-width="3.6" stroke-linecap="round" stroke-linejoin="round"/>
<polygon points="1223.6,569.7 1228.6,568.2 1234.7,567.7 1239.7,569.7 1242.7,573.8 1242.7,579.8 1241.7,587.9 1240.7,595.0 1241.2,602.0 1238.7,606.1 1233.7,603.0 1229.6,598.0 1227.6,591.9 1224.6,585.9 1221.6,579.8 1222.1,573.8" fill="#000"/>
<polygon points="1243.7,555.6 1247.8,551.5 1253.8,549.5 1260.8,548.0 1266.9,546.5 1270.9,547.0 1269.9,550.5 1262.8,554.1 1254.8,556.6 1247.8,559.1 1244.7,559.6" fill="#000"/>
<text x="988.1" y="501.7" font-size="12.6" font-weight="bold" fill="#262626" textLength="16.7" lengthAdjust="spacingAndGlyphs">48</text><circle cx="1009.3" cy="488.9" r="1.55" fill="none" stroke="#262626" stroke-width="0.9"/><text x="1017.4" y="501.7" font-size="12.6" font-weight="bold" fill="#262626" textLength="9.2" lengthAdjust="spacingAndGlyphs">N</text>
<text x="988.1" y="520.3" font-size="12.6" font-weight="bold" fill="#262626" textLength="16.7" lengthAdjust="spacingAndGlyphs">46</text><circle cx="1009.3" cy="507.5" r="1.55" fill="none" stroke="#262626" stroke-width="0.9"/><text x="1017.4" y="520.3" font-size="12.6" font-weight="bold" fill="#262626" textLength="9.2" lengthAdjust="spacingAndGlyphs">N</text>
<text x="988.1" y="538.3" font-size="12.6" font-weight="bold" fill="#262626" textLength="16.7" lengthAdjust="spacingAndGlyphs">44</text><circle cx="1009.3" cy="525.5" r="1.55" fill="none" stroke="#262626" stroke-width="0.9"/><text x="1017.4" y="538.3" font-size="12.6" font-weight="bold" fill="#262626" textLength="9.2" lengthAdjust="spacingAndGlyphs">N</text>
<text x="988.1" y="555.7" font-size="12.6" font-weight="bold" fill="#262626" textLength="16.7" lengthAdjust="spacingAndGlyphs">42</text><circle cx="1009.3" cy="542.9" r="1.55" fill="none" stroke="#262626" stroke-width="0.9"/><text x="1017.4" y="555.7" font-size="12.6" font-weight="bold" fill="#262626" textLength="9.2" lengthAdjust="spacingAndGlyphs">N</text>
<text x="988.1" y="572.6" font-size="12.6" font-weight="bold" fill="#262626" textLength="16.7" lengthAdjust="spacingAndGlyphs">40</text><circle cx="1009.3" cy="559.8" r="1.55" fill="none" stroke="#262626" stroke-width="0.9"/><text x="1017.4" y="572.6" font-size="12.6" font-weight="bold" fill="#262626" textLength="9.2" lengthAdjust="spacingAndGlyphs">N</text>
<text x="988.1" y="588.9" font-size="12.6" font-weight="bold" fill="#262626" textLength="16.7" lengthAdjust="spacingAndGlyphs">38</text><circle cx="1009.3" cy="576.1" r="1.55" fill="none" stroke="#262626" stroke-width="0.9"/><text x="1017.4" y="588.9" font-size="12.6" font-weight="bold" fill="#262626" textLength="9.2" lengthAdjust="spacingAndGlyphs">N</text>
<text x="988.1" y="604.8" font-size="12.6" font-weight="bold" fill="#262626" textLength="16.7" lengthAdjust="spacingAndGlyphs">36</text><circle cx="1009.3" cy="592.0" r="1.55" fill="none" stroke="#262626" stroke-width="0.9"/><text x="1017.4" y="604.8" font-size="12.6" font-weight="bold" fill="#262626" textLength="9.2" lengthAdjust="spacingAndGlyphs">N</text>
<text x="988.1" y="620.4" font-size="12.6" font-weight="bold" fill="#262626" textLength="16.7" lengthAdjust="spacingAndGlyphs">34</text><circle cx="1009.3" cy="607.6" r="1.55" fill="none" stroke="#262626" stroke-width="0.9"/><text x="1017.4" y="620.4" font-size="12.6" font-weight="bold" fill="#262626" textLength="9.2" lengthAdjust="spacingAndGlyphs">N</text>
<text x="988.1" y="635.5" font-size="12.6" font-weight="bold" fill="#262626" textLength="16.7" lengthAdjust="spacingAndGlyphs">32</text><circle cx="1009.3" cy="622.7" r="1.55" fill="none" stroke="#262626" stroke-width="0.9"/><text x="1017.4" y="635.5" font-size="12.6" font-weight="bold" fill="#262626" textLength="9.2" lengthAdjust="spacingAndGlyphs">N</text>
<text x="988.1" y="650.4" font-size="12.6" font-weight="bold" fill="#262626" textLength="16.7" lengthAdjust="spacingAndGlyphs">30</text><circle cx="1009.3" cy="637.6" r="1.55" fill="none" stroke="#262626" stroke-width="0.9"/><text x="1017.4" y="650.4" font-size="12.6" font-weight="bold" fill="#262626" textLength="9.2" lengthAdjust="spacingAndGlyphs">N</text>
<text x="988.1" y="664.9" font-size="12.6" font-weight="bold" fill="#262626" textLength="16.7" lengthAdjust="spacingAndGlyphs">28</text><circle cx="1009.3" cy="652.1" r="1.55" fill="none" stroke="#262626" stroke-width="0.9"/><text x="1017.4" y="664.9" font-size="12.6" font-weight="bold" fill="#262626" textLength="9.2" lengthAdjust="spacingAndGlyphs">N</text>
<text x="988.1" y="679.2" font-size="12.6" font-weight="bold" fill="#262626" textLength="16.7" lengthAdjust="spacingAndGlyphs">26</text><circle cx="1009.3" cy="666.4" r="1.55" fill="none" stroke="#262626" stroke-width="0.9"/><text x="1017.4" y="679.2" font-size="12.6" font-weight="bold" fill="#262626" textLength="9.2" lengthAdjust="spacingAndGlyphs">N</text>
<text x="988.1" y="693.2" font-size="12.6" font-weight="bold" fill="#262626" textLength="16.7" lengthAdjust="spacingAndGlyphs">24</text><circle cx="1009.3" cy="680.4" r="1.55" fill="none" stroke="#262626" stroke-width="0.9"/><text x="1017.4" y="693.2" font-size="12.6" font-weight="bold" fill="#262626" textLength="9.2" lengthAdjust="spacingAndGlyphs">N</text>
<text x="988.1" y="707.0" font-size="12.6" font-weight="bold" fill="#262626" textLength="16.7" lengthAdjust="spacingAndGlyphs">22</text><circle cx="1009.3" cy="694.2" r="1.55" fill="none" stroke="#262626" stroke-width="0.9"/><text x="1017.4" y="707.0" font-size="12.6" font-weight="bold" fill="#262626" textLength="9.2" lengthAdjust="spacingAndGlyphs">N</text>
<text x="1057.8" y="465.3" font-size="12.6" font-weight="bold" fill="#262626" textLength="24.4" lengthAdjust="spacingAndGlyphs">100</text><circle cx="1086.8" cy="452.5" r="1.55" fill="none" stroke="#262626" stroke-width="0.9"/><text x="1094.6" y="465.3" font-size="12.6" font-weight="bold" fill="#262626" textLength="12.4" lengthAdjust="spacingAndGlyphs">W</text>
<text x="1127.3" y="465.3" font-size="12.6" font-weight="bold" fill="#262626" textLength="16.4" lengthAdjust="spacingAndGlyphs">90</text><circle cx="1148.3" cy="452.5" r="1.55" fill="none" stroke="#262626" stroke-width="0.9"/><text x="1156.1" y="465.3" font-size="12.6" font-weight="bold" fill="#262626" textLength="12.4" lengthAdjust="spacingAndGlyphs">W</text>
<text x="1191.6" y="465.3" font-size="12.6" font-weight="bold" fill="#262626" textLength="16.4" lengthAdjust="spacingAndGlyphs">80</text><circle cx="1212.6" cy="452.5" r="1.55" fill="none" stroke="#262626" stroke-width="0.9"/><text x="1220.4" y="465.3" font-size="12.6" font-weight="bold" fill="#262626" textLength="12.4" lengthAdjust="spacingAndGlyphs">W</text>
<text x="1254.8" y="465.3" font-size="12.6" font-weight="bold" fill="#262626" textLength="16.4" lengthAdjust="spacingAndGlyphs">70</text><circle cx="1275.8" cy="452.5" r="1.55" fill="none" stroke="#262626" stroke-width="0.9"/><text x="1283.6" y="465.3" font-size="12.6" font-weight="bold" fill="#262626" textLength="12.4" lengthAdjust="spacingAndGlyphs">W</text>
<text x="1150.0" y="731.7" font-size="22.4" font-weight="bold" fill="#262626" text-anchor="middle" textLength="355.5" lengthAdjust="spacingAndGlyphs">SAT-RAP 500 hPa MR (g/kg)</text>
<rect x="1285.6" y="485.2" width="23.1" height="215.6" fill="url(#jet)" stroke="#262626" stroke-width="0.8"/>
<line x1="1305.7" x2="1308.7" y1="667.9" y2="667.9" stroke="#262626" stroke-width="0.8"/><text x="1318.3" y="675.4" font-size="21.4" font-weight="bold" fill="#262626" textLength="43.9" lengthAdjust="spacingAndGlyphs">-0.5</text>
<line x1="1305.7" x2="1308.7" y1="593.0" y2="593.0" stroke="#262626" stroke-width="0.8"/><text x="1318.3" y="600.5" font-size="21.4" font-weight="bold" fill="#262626" textLength="13.0" lengthAdjust="spacingAndGlyphs">0</text>
<line x1="1305.7" x2="1308.7" y1="518.1" y2="518.1" stroke="#262626" stroke-width="0.8"/><text x="1318.3" y="525.6" font-size="21.4" font-weight="bold" fill="#262626" textLength="34.9" lengthAdjust="spacingAndGlyphs">0.5</text>
</g>
</svg>
</body></html>
